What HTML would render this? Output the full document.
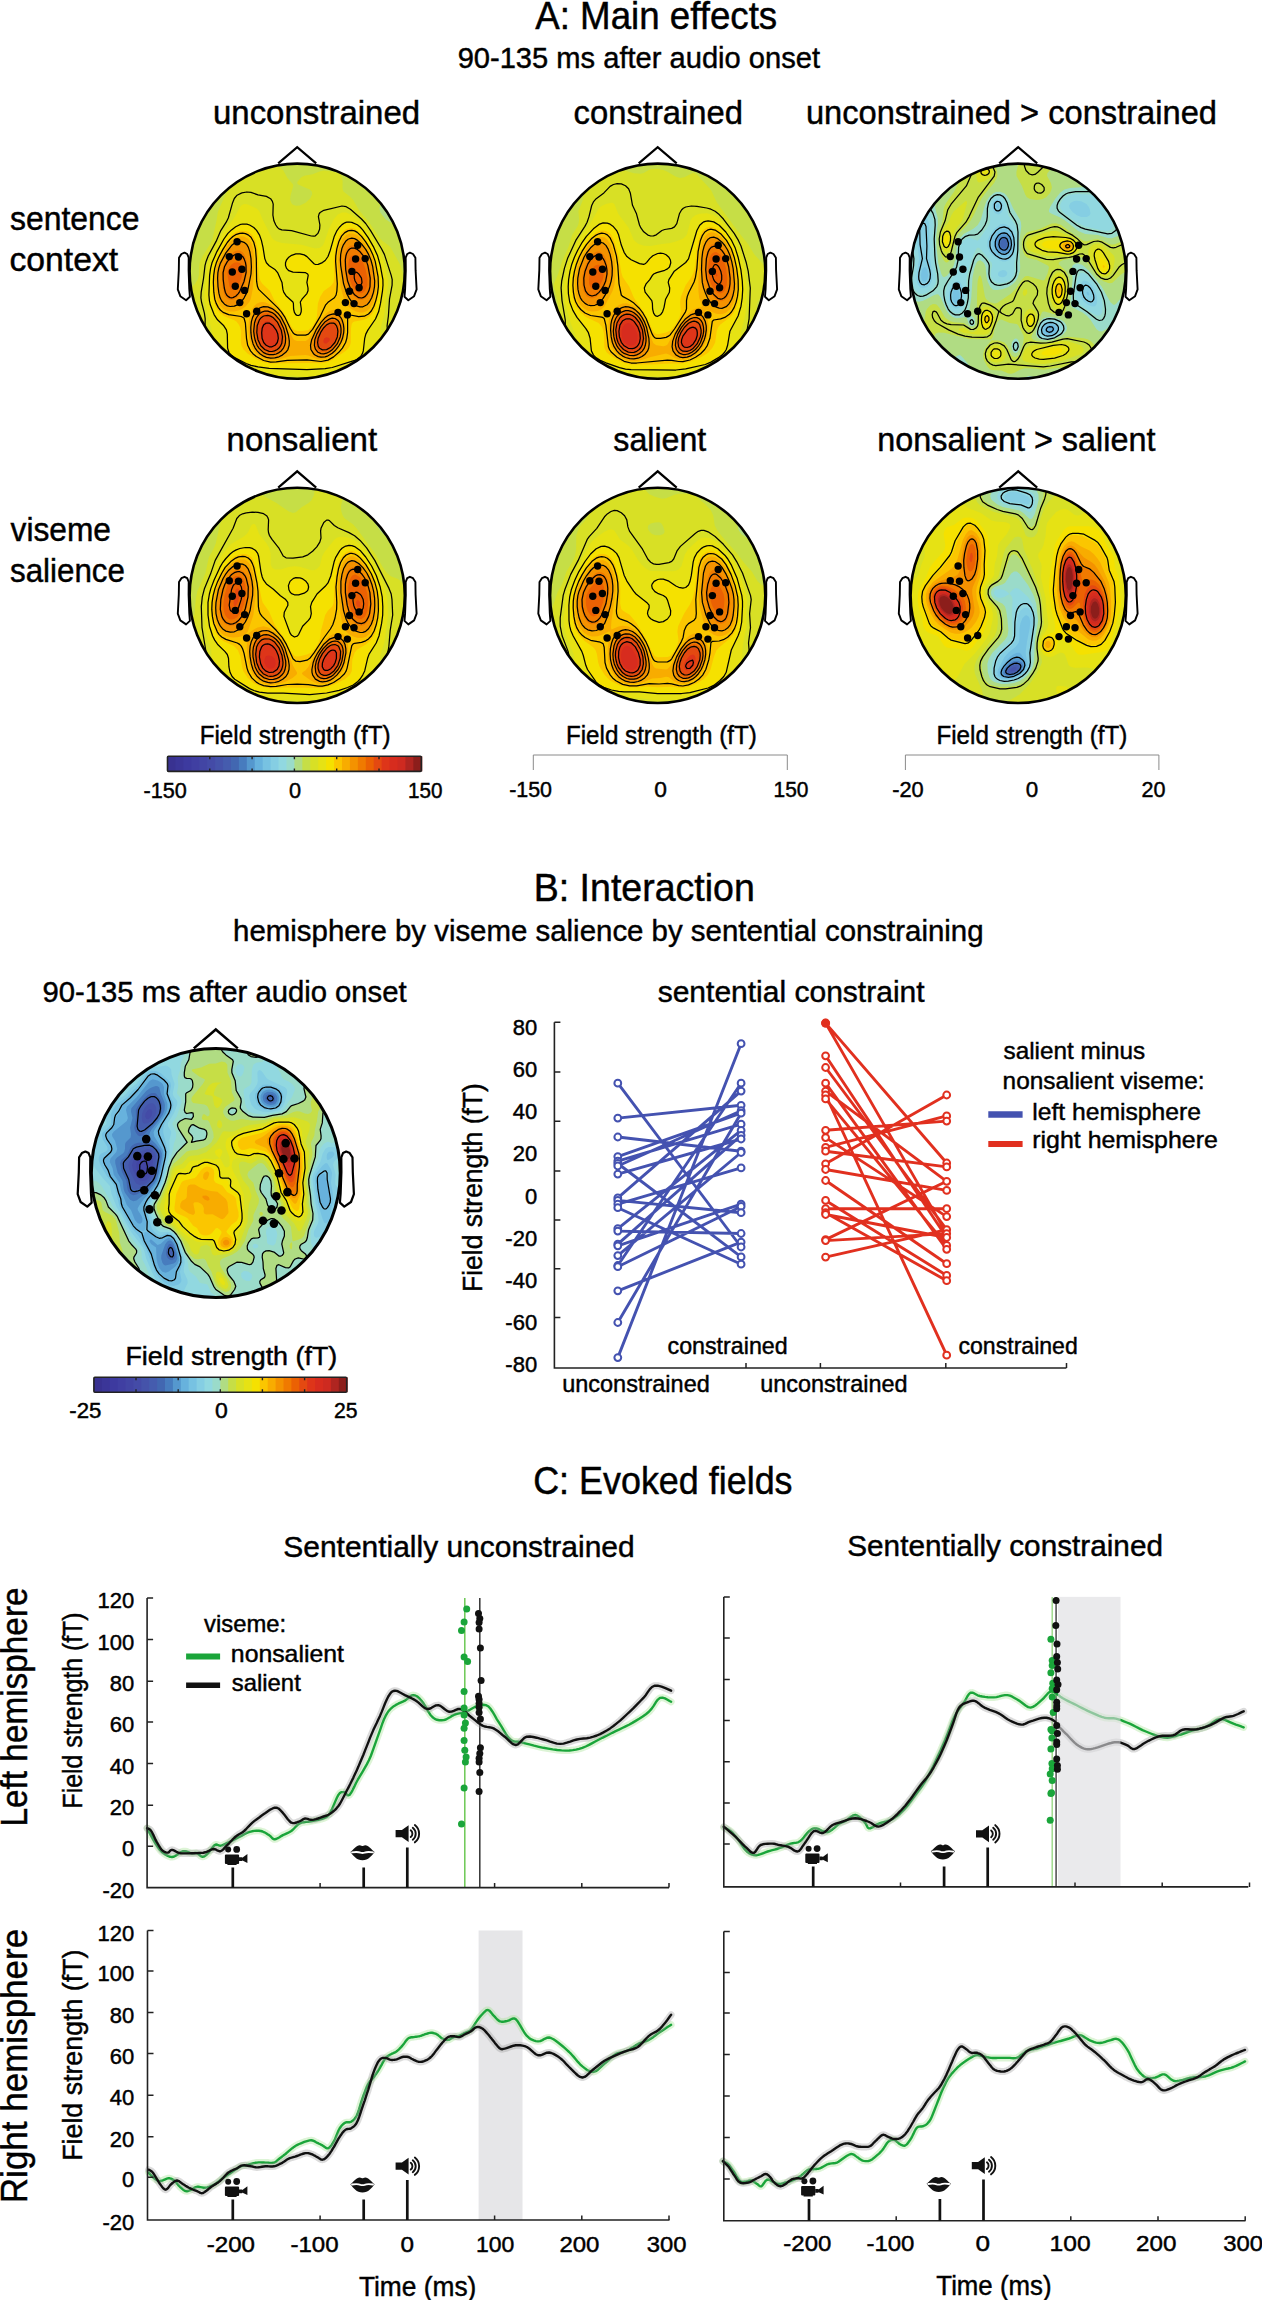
<!DOCTYPE html>
<html><head><meta charset="utf-8"><title>Figure</title>
<style>html,body{margin:0;padding:0;background:#fff;} svg{display:block;} text{stroke:#000;stroke-width:0.45px;}</style>
</head><body>
<svg width="1262" height="2300" viewBox="0 0 1262 2300" font-family='"Liberation Sans", sans-serif'><text x="535.23" y="28.80" font-size="38" textLength="241.98" lengthAdjust="spacingAndGlyphs" fill="#000">A: Main effects</text>
<text x="457.63" y="67.80" font-size="30" textLength="362.38" lengthAdjust="spacingAndGlyphs" fill="#000">90-135 ms after audio onset</text>
<text x="212.96" y="124.00" font-size="33" textLength="207.16" lengthAdjust="spacingAndGlyphs" fill="#000">unconstrained</text>
<text x="573.62" y="124.00" font-size="33" textLength="169.37" lengthAdjust="spacingAndGlyphs" fill="#000">constrained</text>
<text x="805.88" y="124.00" font-size="33" textLength="411.11" lengthAdjust="spacingAndGlyphs" fill="#000">unconstrained &gt; constrained</text>
<text x="10.01" y="230.10" font-size="33" textLength="129.52" lengthAdjust="spacingAndGlyphs" fill="#000">sentence</text>
<text x="9.48" y="271.10" font-size="33" textLength="108.66" lengthAdjust="spacingAndGlyphs" fill="#000">context</text>
<text x="226.52" y="451.30" font-size="33" textLength="150.62" lengthAdjust="spacingAndGlyphs" fill="#000">nonsalient</text>
<text x="613.30" y="451.30" font-size="33" textLength="93.01" lengthAdjust="spacingAndGlyphs" fill="#000">salient</text>
<text x="877.36" y="451.30" font-size="33" textLength="278.04" lengthAdjust="spacingAndGlyphs" fill="#000">nonsalient &gt; salient</text>
<text x="10.57" y="541.10" font-size="33" textLength="100.44" lengthAdjust="spacingAndGlyphs" fill="#000">viseme</text>
<text x="10.02" y="581.90" font-size="33" textLength="114.95" lengthAdjust="spacingAndGlyphs" fill="#000">salience</text>
<path fill="#fff" stroke="#000" stroke-width="1.90" stroke-linejoin="round" d="M184.5 252.6L187.2 254L188.7 257.7L188.6 270.4L189.3 289.2L189.9 296.7L186.1 300.2L180.3 296.2L177.8 289.4L178.8 270.4L179 257.7L181.4 254Z"/>
<path fill="#fff" stroke="#000" stroke-width="1.90" stroke-linejoin="round" d="M409.9 252.6L407.2 254L405.7 257.7L405.8 270.4L405.1 289.2L404.5 296.7L408.3 300.2L414.1 296.2L416.6 289.4L415.6 270.4L415.4 257.7L413 254Z"/>
<clipPath id="c0"><circle cx="297.2" cy="271.2" r="107.6"/></clipPath>
<g clip-path="url(#c0)">
<circle cx="297.2" cy="271.2" r="107.6" fill="#b0dc83"/>
<path fill="#c6de46" fill-rule="evenodd" d="M185.3 159.3L409.1 159.3L409.1 383.1L185.3 383.1L185.3 159.3ZM389.5 194.2L385.1 198.5L381 204.1L379.5 208.3L380.3 212.5L385.3 218.9L390.1 222.2L396.5 223.4L400.7 223.1L403.8 222.2L405.2 220.8L405.6 219.4L405.3 213.8L406.7 206.9L406.1 204.1L402.7 199.9L396.5 194.8L392.3 193.2L389.5 194.2Z"/>
<path fill="#d8e025" fill-rule="evenodd" d="M261.1 162.1L265 162.3L277.6 165.9L280.7 167.7L283.2 170.3L287.4 178.1L293.1 184.5L293.2 185.9L290.5 195.7L290.1 199.9L291.6 203.6L293 204.8L295.8 205.8L300 205.6L305.6 202.8L310.2 198.5L312.3 194.3L311.8 191.5L309.8 189.5L298.1 184.5L297.2 183.1L297.5 181.7L301 177.5L304.2 175.7L312.6 174.2L319.6 171.5L323.8 170.5L333.6 171.7L339.2 173.5L340.6 174.7L342.1 177.5L342.6 181.7L342.5 188.7L343.4 191.5L350.4 197.1L353.2 200.1L359.5 211.1L369 222.2L379.7 238.1L382.5 241L389.3 246L390.9 247.9L400.6 265.6L402.7 272.6L403 286.6L404 296.4L401.7 306.2L401.2 310.4L401.9 314.6L403.7 320.2L403.8 323L401.5 331.3L398.9 348.1L399.3 350.9L400.7 354.1L409.1 365.6L409.1 383.1L396.9 383.1L395.7 376.1L394.9 374.7L392.3 373.4L389.5 373.2L386.7 373.5L382.5 375L371.6 383.1L356.8 383.1L349 382.2L340.9 383.1L229.2 383.1L224.7 377.5L220.3 374L214.7 371.2L204.9 368L202.1 366.2L199.8 363.5L195 355.1L185.3 345.7L185.3 336.6L190.9 331L195.9 324.4L198 320.2L198.8 316L198.2 311.8L196.5 307.8L193.7 304.2L187.3 299.2L186.3 297.8L185.7 295L187.8 290.8L195.1 283.7L197.9 279.3L199.2 274L199.3 265.6L200 261.4L202.9 255.8L210.5 243.5L212.5 239L216.5 220.8L217.8 212.5L219.3 208.3L226.3 192.9L233.8 181.7L238.5 173.6L239.8 172.3L241.2 171.9L245.4 172.5L248.2 172L251 170L256.6 164.2L261.1 162.1Z"/>
<path fill="#e6e214" fill-rule="evenodd" d="M243.9 204.1L246.8 204.2L249.6 205.2L256.1 208.3L258 209.7L259.4 211.6L262.6 219.4L271.7 237.6L273.4 239.5L276.2 241.3L281.8 243L301.4 244.7L315.4 248.5L319.6 247.9L322.3 246L323.8 243.8L328.8 229.2L333.7 219.4L337.8 214.6L342 212.6L346.2 212.6L351.8 215.1L360.1 221L365.3 226.4L374.8 241.8L380.6 253L383.5 261.4L387.4 276.8L388.1 282.4L384.2 314.6L380.6 328.6L380.6 332.7L381.8 339.7L381.5 343.9L378.9 352.3L376.4 357.9L373.5 362.1L369.3 366.3L364.5 369.1L360.1 370.4L329.4 375.4L312.6 377.3L307 377.3L293 375.5L260.8 376.4L248.2 374.3L239.8 371.4L225.9 364.6L221.7 361.5L218.3 357.9L216.7 355.1L215.3 350.9L212.3 332.7L204.4 300.6L204.4 292.2L206.9 268.4L208.1 262.8L210.2 257.2L222.4 233.4L234 218L240.2 206.9L241.3 205.5L243.9 204.1Z"/>
<path fill="#f5e100" fill-rule="evenodd" d="M346.5 222.2L351.8 222.4L357.3 224.8L362.9 230.1L368.2 237.6L373.8 247.4L377.6 255.8L380.3 265.6L382.9 279.6L383 285.2L382.5 290.8L378.6 311.8L375.5 319L368 329.9L365.8 334.1L364.7 338.3L363.3 350.9L362.4 353.7L360.6 356.5L357.3 359.1L353.9 360.7L332.2 367.5L325.2 368.6L307 369.6L269.2 368.4L258 366.9L251 365.3L246.2 363.5L235.1 357.9L231 355.1L228.9 352.3L227.6 348.1L227.3 334.1L226.4 329.9L223.8 325.8L217.5 319.8L214.1 314.6L210.3 304.8L208.9 295L209.6 275.4L212 262.8L216.9 251.6L223.9 239L227.9 233.4L231.5 229.9L235.7 226.8L239.8 224.7L242.6 224L246.8 224.1L249.6 225L253.8 227.5L256.6 230.4L259.4 234.8L261.4 240.4L264.8 258.6L266.4 262.8L269.2 265.7L275.3 269.8L277.6 272.6L282 282.4L283.7 292.2L286 295.7L292.9 302L294.4 312.4L295.8 314.6L298.6 315.5L300.2 314.6L301.2 311.8L300.3 302L302 299.2L306.9 293.6L308 290.8L308 288L306.9 282.4L308.2 275.4L307.7 274L305.6 272.7L293 272.2L288.8 270.7L286.6 268.4L285.5 265.6L285.5 262.8L286.5 260L288.8 257.2L291.6 255.3L295.8 253.9L300 253.8L304.2 254.9L307 256.6L314 263.8L315.4 264.5L318.2 264.4L322.4 262.6L325.2 260.5L328 256.5L330.3 250.2L334.3 236.2L337 230.6L342 224.6L346.5 222.2Z"/>
<path fill="#fbc600" fill-rule="evenodd" d="M345.7 229.2L350.4 227.9L353.2 228.2L355.9 229.3L361.5 234L367.3 241.8L372.1 250.2L376 260L378.7 272.6L379.8 282.4L379.2 290.8L377.4 300.6L375.3 307.6L372.6 313.2L369.9 316.3L367.1 318.4L362.9 320L354.6 321.4L353.2 322L351.8 323.7L351 328.6L350.8 342.5L350.1 345.3L348.6 348.1L345.6 350.9L332.2 360.1L326.6 362.4L321 363.3L308.4 362.9L269.2 363.5L263.6 362.3L258 360L247.8 353.7L243.5 349.5L241.3 345.3L240.9 341.1L241.1 331.3L240.1 327.2L238.8 324.4L236.4 321.6L234.3 320.2L224.5 316.2L220.1 313.2L217.5 310L215.4 306.2L212.9 297.8L212.2 279.6L212.8 272.6L214.2 265.6L218.7 254.4L224.5 244.3L228.1 239L231.5 235.4L234.3 233.3L238.5 231.3L241.2 230.7L246.8 231.3L249.6 232.7L252.4 235.2L255.2 240L257 246L257.8 251.6L258.9 274L259.5 278.2L260.8 281.6L262.4 283.8L269.8 290.8L274.5 300.6L284.1 313.2L290.2 324.6L293 328.8L294.4 329.9L297.2 330.9L302.8 331L308.4 329.9L312.6 326L315.1 321.6L316.8 317.4L317.9 303.4L320.3 296.4L323.8 291.1L330.8 286L333.5 282.4L334.3 276.8L333.8 260L335.5 247.4L337.5 240.4L339.3 236.2L342 232.4L345.7 229.2Z"/>
<path fill="#f8ac00" fill-rule="evenodd" d="M349.6 233.4L353.2 233.4L357.3 235.3L361.5 239.3L365.7 244.7L369.8 251.6L372.3 257.2L374.1 262.9L375.8 271.2L376.9 279.6L377 285.2L376.1 292.2L374.3 299.2L372.7 303.4L369.9 308.2L367.1 310.9L362.9 312.6L360.1 312.6L355.9 311.6L351.8 309.3L348 306.2L346 303.4L344 299.2L340.9 288L337.8 264.2L337.6 257.2L338.2 251.6L339.9 244.6L342.5 239L346.2 235L349.6 233.4ZM239.9 236.2L244 236.5L248.2 238.8L251 242.6L252.8 247.4L253.9 254.4L254.4 267L252.7 289.4L250.7 299.2L249.3 302L245.8 306.2L242 309L238.5 310.5L234.3 311.4L230.1 311.4L225.9 310.4L223.1 308.7L220.3 305.8L217.5 300.6L216.1 295.3L215.4 289.4L215 279.6L215.5 272.6L216.5 267L218.4 261.4L226 247.4L230.1 242.1L232.9 239.4L235.7 237.6L239.9 236.2ZM262.2 302L265 302.3L269.2 303.9L274.8 307.5L279 311.4L282.5 316L284.9 320.2L293 338.6L294.4 340.1L297.2 341L305.6 341L308.4 339.2L320.2 320.2L326.6 312.9L329.4 311.1L333.6 309.8L336.4 309.9L339.2 310.8L341.9 313.2L343.4 315.5L345 320.2L345.7 324.4L345.5 334.1L344.2 339.7L342.4 343.9L338.7 349.5L333.6 354.7L329.4 357.5L323.8 359.4L321 359.6L316.8 359.1L308.4 355.5L305.6 355L290.2 355.9L279 359.5L273.4 360.4L267.8 360L262.2 358L256.3 353.7L252.9 349.5L251.5 346.7L249.1 338.3L248.3 327.2L249.3 317.4L252.2 309L254 306.2L256.6 303.7L259.4 302.4L262.2 302Z"/>
<path fill="#f49200" fill-rule="evenodd" d="M350.2 239L353.2 238.9L355.9 239.9L358.7 241.8L362.9 246.2L367.1 252.4L369.5 257.2L372.7 268.4L374.4 282.4L373.1 292.2L371.3 297.6L368.5 302.3L365.7 304.9L362.9 306.1L360.1 306.2L357.3 305.4L354.6 303.7L351.5 300.6L346.7 292.2L343.4 281L340.9 264.2L341.3 253L342.8 247.4L344.8 243.4L347.6 240.3L350.2 239ZM235.5 243.2L239.8 242.1L242.6 242.5L245.4 244.3L247.7 247.4L249.6 253L250.5 258.6L250.8 272.6L249.8 279.6L247.7 288L245.7 293.6L243.4 297.8L240 302L237.1 304.2L234.3 305.4L230.1 305.8L227.3 305.2L224.5 303.4L222.1 300.6L220.3 296.8L218.4 286.6L218.1 274L219.9 265.6L223.1 258.4L230.1 247.9L235.5 243.2ZM261.6 307.6L265 306.9L267.8 307.3L272 309L276.2 312L281.8 318.8L284.7 324.4L286.7 329.9L288.2 335.5L288.9 341.1L288.7 345.3L287.9 348.1L286.3 350.9L283.6 353.7L277.6 356.9L273.4 357.8L269.2 357.7L266.4 357L262.4 355.1L259.4 352.9L256.4 349.5L253 342.5L251.6 336.9L251 331.3L251.1 325.8L252.1 320.2L253.6 316L256.1 311.8L259 309L261.6 307.6ZM331.6 314.6L335 314.4L337.8 315.3L340.1 317.4L341.8 320.2L343.1 324.4L343.6 328.6L343.2 334.1L342.2 338.3L340.5 342.5L338.1 346.7L332.2 353L328 355.6L325.2 356.5L321 356.9L318.2 356.3L314 353.7L311.4 349.5L310.9 345.3L312 339.7L315.6 331.3L321 322.7L326.6 316.9L331.6 314.6Z"/>
<path fill="#f07a00" fill-rule="evenodd" d="M350 246L351.8 245.4L354.6 245.6L357.3 247L360.1 249.3L365.7 256.8L369.1 265.6L371.3 278.8L370.9 288L369.7 292.2L367.4 296.4L365.7 298.2L362.9 299.8L360.1 300L357.3 299.1L353.2 295.4L349 288.2L346.6 281L344.3 267L344.3 257.2L346.2 250.3L347.6 248.1L350 246ZM234.2 251.6L237.1 250.4L239.8 250.5L242.6 252.2L244 254L245.4 256.7L246.8 261.5L247.4 271.2L245.4 281.5L241.2 292.1L237.1 297.5L234.3 299.4L231.5 300L228.7 299.5L227.3 298.6L225.3 296.4L223.9 293.6L222.3 285.2L221.6 274L222.5 268.4L224.8 262.8L228.7 257L234.2 251.6ZM263.5 310.4L266.4 310L269.2 310.5L273.4 312.6L276.2 314.8L281.3 321.6L285.1 331.3L286.3 339.7L285.1 346.7L283.5 349.5L280.8 352.3L277.6 354.3L274.8 355.2L270.6 355.6L267.8 355.1L262.2 352.4L259.4 349.8L257.2 346.7L254.3 339.7L253.1 329.9L254.1 321.6L255.8 317.4L258 314L260.8 311.5L263.5 310.4ZM331.9 317.4L336.4 318.1L338.8 320.2L340.4 323L341.7 329.9L340.3 338.3L336.4 346.1L330.8 351.7L325.2 354.3L322.4 354.5L319.6 354L316.7 352.3L314.1 348.1L313.7 342.5L315.1 336.9L318.2 330.1L322.4 323.8L326.6 319.7L329.4 318.1L331.9 317.4Z"/>
<path fill="#eb6103" fill-rule="evenodd" d="M351.5 255.8L353.2 255.2L355.9 255.7L360.1 258.7L363.2 262.8L365.7 269.7L367.4 278.2L367.4 285.2L365.1 290.8L362.9 292.8L361.5 293.3L358.7 293.1L355.5 290.8L352.5 286.6L350.2 281L348.7 272.6L348.3 264.2L349 259.8L350.4 256.9L351.5 255.8ZM234.2 262.8L237.1 262.2L239.8 263L241.2 264.5L242.3 267L242.8 271.2L241.4 278.2L238.5 284.6L235.7 288.7L232.9 290.3L230.8 289.4L229.5 286.6L227.8 276.8L227.5 272.6L228.1 269.8L229.4 267L231.5 264.6L234.2 262.8ZM264.4 313.2L267.8 313L270.6 313.8L275.7 317.4L280.4 323.9L283.2 331.3L284.2 338.3L283.8 342.5L283 345.3L280.2 349.5L277.6 351.6L274.8 352.8L269.2 353.2L263.6 350.8L259.4 346.5L256.4 339.7L255.1 331.3L256.1 323L257.8 318.8L259.4 316.4L262.2 314L264.4 313.2ZM331.8 320.2L333.6 320.2L336.4 321.6L338.9 325.8L339.7 331.3L338.5 338.3L335 345.1L330.8 349.3L328 351L325.2 352L321 351.8L318.2 350.1L316.3 346.7L315.8 342.5L317 336.9L319.6 331.1L323.8 325L328 321.4L331.8 320.2Z"/>
<path fill="#e44911" fill-rule="evenodd" d="M262.8 317.4L265 316.3L267.8 316.1L272 317.7L276.2 321.6L280.4 329.4L281.9 336.9L281.4 342.5L279 347.1L274.8 350.1L270.6 350.9L265.9 349.5L262.2 346.6L259.1 341.1L257.5 334.1L257.6 327.2L259.4 321.3L262.8 317.4ZM328.9 324.4L330.8 323.8L333.6 324.3L336.1 327.2L337.1 331.3L336.6 336.9L335 341.2L330.8 346.5L326.6 348.9L322.4 349.1L320.6 348.1L318.7 345.3L318.2 342.5L318.8 338.3L321 333L323.8 328.8L326.6 325.8L328.9 324.4Z"/>
<path fill="#de3519" fill-rule="evenodd" d="M265 321.6L267.8 321L272 322.8L274.8 325.8L277.8 331.3L279.1 336.9L278.7 341.1L276.4 345.3L273.4 347.3L269.2 347.6L266.4 346.5L263.6 343.8L261.7 339.7L260.6 334.1L260.8 329L262.2 324.6L265 321.6ZM324.3 338.3L326.6 337.2L329.4 337.9L329.8 339.7L329.4 341.1L326.6 343.4L325.2 343.6L323.8 342.9L323.3 341.1L324.3 338.3Z"/>
<path fill="none" stroke="#000" stroke-width="1.25" stroke-linejoin="round" d="M241.8 192.9L246.8 192L251 192.4L258 194.9L266.4 196.4L270.6 198.7L272.4 201.3L273.2 204.1L272.9 215.2L273.9 220.8L275.8 225L277.6 227.6L279 228.8L281.8 229.9L291.6 230.6L311.2 236L314 236.2L315.4 235.8L317.9 233.4L319.6 229.2L319.9 225L318.4 216.6L319.1 213.8L320.1 212.5L323.8 210.3L342 206L346.2 206.7L350.4 209.2L361.5 219L365.7 223.5L370.6 230.6L381.5 248.8L384.4 254.4L391.2 275.4L392.2 279.6L392.1 285.2L389.5 299.2L388.4 316L387.1 325.8L387.3 329.9L389.1 336.9L389.3 341.1L386.8 357.9L385.5 360.7L384.2 362.1L369.9 372.5L367.1 373.9L362.9 375L343.4 376.6L322.4 380.7L312.6 382.1L308.4 381.9L298.6 379.6L293 379.1L283.2 379.9L273.4 380.1L260.8 382L245.4 380.1L239.8 378.5L218.9 364.9L213.5 360.7L210.8 357.9L208.9 355.1L207.6 352.3L204 338.3L203.7 334.1L205.1 324.4L205.2 318.8L204.4 313.2L201.5 302L200.9 297.8L201.2 292.2L203.5 278.5L205 265.6L206.1 261.4L208.3 255.8L216.1 241.4L220.8 230.6L226.2 222.2L228.3 218L232.6 202.7L234.3 198.5L237.1 195.2L241.8 192.9M346.5 222.2L349 222L351.8 222.4L357.3 224.8L360.1 227L362.9 230.1L368.2 237.6L373.8 247.4L377.6 255.8L380.3 265.6L382.9 279.6L383 285.2L382.5 290.8L380.5 303.4L378.6 311.8L375.5 319L368 329.9L365.8 334.1L364.7 338.3L363.3 350.9L362.4 353.7L360.6 356.5L357.3 359.1L353.9 360.7L332.2 367.5L325.2 368.6L307 369.6L269.2 368.4L258 366.9L251 365.3L246.2 363.5L235.1 357.9L231 355.1L228.9 352.3L227.6 348.1L227.3 334.1L226.4 329.9L223.8 325.8L217.5 319.8L214.1 314.6L210.3 304.8L209.4 300.6L208.9 295L209.6 275.4L210.6 268.4L212 262.8L216.9 251.6L223.9 239L227.9 233.4L231.5 229.9L235.7 226.8L239.8 224.7L242.6 224L246.8 224.1L249.6 225L253.8 227.5L256.6 230.4L259.4 234.8L261.4 240.4L263 247.4L264.8 258.6L266.4 262.8L269.2 265.7L275.3 269.8L277.6 272.6L282 282.4L282.9 289.4L283.7 292.2L286 295.7L292.9 302L293.4 303.4L293.6 309L294.4 312.4L295.8 314.6L297.2 315.4L298.6 315.5L300.2 314.6L301.2 311.8L301.3 309L300.3 302L302 299.2L306.9 293.6L308 290.8L308 288L306.9 282.4L308.2 275.4L307.7 274L305.6 272.7L293 272.2L288.8 270.7L286.6 268.4L285.5 265.6L285.5 262.8L286.5 260L288.8 257.2L291.6 255.3L295.8 253.9L300 253.8L304.2 254.9L307 256.6L314 263.8L315.4 264.5L318.2 264.4L322.4 262.6L325.2 260.5L328 256.5L330.3 250.2L334.3 236.2L337 230.6L339.2 227.5L342 224.6L344.8 222.8L346.5 222.2M348.5 230.6L351.8 230.3L354.6 230.9L357.3 232.4L361.5 236.4L365.7 241.8L369.9 248.6L372.7 254.4L375.2 261.4L378.1 276.8L378.4 286.6L377.5 293.6L375.8 300.6L373.9 306.2L371.3 311L368.5 314L364.3 316.2L358.7 316.6L350.4 315L349 315.2L348.3 316L347.6 318.8L347.6 332.7L346.8 338.3L345.6 342.5L342.4 348.1L338.8 352.3L333.6 356.9L328 360.1L321 361.5L307 359.8L287.4 360.3L276.2 361.9L270.6 362.1L263.6 360.5L256.3 356.5L252.9 353.7L250.5 350.9L247.7 345.3L246.5 338.3L245.4 323L244 318L241.2 316.5L228.7 314.7L223.1 312.4L220.3 310L218.4 307.6L216.2 303.4L214.8 299.2L213.8 292.2L213.4 282.4L213.7 275.4L214.7 268.4L216.3 262.8L218.7 257.2L223.1 249.1L227.3 242.5L230.1 239.1L232.9 236.5L235.7 234.7L239.8 233.3L242.6 233.1L245.4 233.6L248.2 234.9L251 237.3L253.8 242.3L255.5 248.8L256.3 258.6L256.6 281.2L257.5 286.6L258.7 289.4L277.6 307.6L281.3 311.8L285 317.4L290.2 328.2L293 332.8L294.4 334.1L297.2 335.1L305.6 335.1L308.4 334.1L312.6 329.4L319.7 317.4L325.7 304.8L328 302.3L334.4 297.8L336.1 295L336.9 290.8L337.3 283.8L335.6 261.4L335.8 255.8L336.8 248.8L338.8 241.8L341.5 236.2L344.8 232.6L348.5 230.6M348.4 239L351.8 238.1L354.6 238.6L357.3 240.1L361.5 243.9L365.7 249.4L368.6 254.4L370.9 260L372.7 266.7L374.7 281L374.5 286.6L373.5 292.2L371.7 297.8L369.4 302L367 304.8L362.9 306.8L360.1 306.9L357.3 306.1L354.6 304.5L351.8 301.9L349 297.8L346.8 293.6L343.6 283.8L340.7 265.6L340.4 260L340.7 254.4L341.8 248.8L343.4 244.8L346.2 240.7L348.4 239M237.1 241.8L241.2 241.4L244 242.3L246.8 244.6L248.4 247.4L249.8 251.6L251 258.6L251.4 267L251 274L248.2 288L246.3 293.6L244 298L241 302L237.4 304.8L234.3 306.1L230.1 306.5L227.3 305.9L224.5 304.2L221.7 301L220.1 297.8L218.9 293.2L218 286.6L217.6 278.2L217.9 272.6L218.9 267.7L220.3 263.4L225.9 252.9L231.5 245.6L234.3 243.3L237.1 241.8M260.4 307.6L263.6 306.6L267.8 306.9L272 308.6L274.8 310.5L277.9 313.2L281.2 317.4L285.5 325.8L288.5 335.5L289.3 341.1L289.2 345.3L287.9 349.5L285.8 352.3L282.3 355.1L279 356.8L274.8 357.9L270.6 358.1L266.4 357.3L263.6 356.2L259.9 353.7L257.1 350.9L255.1 348.1L253.1 343.9L251.6 338.3L250.9 332.7L250.8 327.2L251.4 321.6L252.6 317.4L254.7 313.2L258 309.2L260.4 307.6M330.3 314.6L333.6 313.9L337.8 314.9L340.6 317.3L342 319.7L343.4 324.4L343.9 328.6L343.7 332.7L342.5 338.3L340.8 342.5L338.3 346.7L335 350.8L332.2 353.3L328 355.8L325.2 356.8L321 357.2L318.2 356.6L315.4 355.3L313.5 353.7L310.9 349.5L310.5 345.3L311.7 339.7L316.1 329.9L321 322.3L325.2 317.7L328 315.6L330.3 314.6M350 248.8L351.8 248L354.6 248.1L357.3 249.5L360.1 251.8L364.4 257.2L366.5 261.4L367.9 265.6L370.2 278.2L370 286.6L368.9 290.8L367.1 294.2L365.2 296.4L362.9 297.7L361.5 298L358.7 297.7L354.6 294.8L350.4 288.5L347.6 281L345.7 269.8L345.3 260L345.9 255.8L346.8 253L348.4 250.2L350 248.8M235.1 254.4L237.1 253.8L239.8 254.2L242.6 256.4L244 258.6L245.4 262.4L246 265.6L246.1 272.6L244 281.5L239.8 291.3L238.3 293.6L235.7 296.2L232.9 297.6L231.5 297.8L230.1 297.6L228 296.4L226.7 295L225.3 292.2L224.3 288L223.2 279.6L223.1 272.6L224.5 266.8L227.3 261.6L231.5 256.9L235.1 254.4M262.4 311.8L265 311L267.8 311.1L272 312.6L274.8 314.5L279.8 320.2L283.7 328.6L285.1 334.1L285.6 338.3L285.4 342.5L284.7 345.3L283.4 348.1L281.2 350.9L279 352.6L276.2 354L273.4 354.7L269.2 354.7L266.4 353.9L263.6 352.6L258.9 348.1L257.1 345.3L255.4 341.1L254.4 336.9L253.7 331.3L254.5 323L255.9 318.8L257.6 316L259.4 313.8L262.4 311.8M329.8 318.8L332.2 318.2L335 318.5L337.7 320.2L339.2 322.2L340.6 325.8L341 328.6L341 332.7L340.2 336.9L337.2 343.9L332.2 349.8L329.4 351.8L326.6 353.2L323.8 353.8L321 353.6L318 352.3L315.4 349.2L314.4 345.3L314.8 339.7L316.8 334.1L321 326.6L325.2 321.7L329.8 318.8M355.4 272.6L355.9 272.2L357.3 272.7L358.7 273.9L361.5 278.2L362 282.4L361.5 284L360.1 285.4L358.7 285.4L357.3 284.5L355.1 281L354.3 278.2L354.2 275.4L354.6 273.5L355.4 272.6M263.6 316L267.8 315.3L270.6 316.1L273.4 317.8L277.6 322.4L281.2 329.9L282.5 336.9L281.8 343.2L280.4 346.2L279 348.1L277.3 349.5L274.5 350.9L272 351.5L269.2 351.3L264.7 349.5L260.8 345.7L258 339.7L256.8 332.7L257.2 325.8L259.4 319.9L261.5 317.4L263.6 316M330.2 323L333.6 323.1L335 323.9L336.5 325.8L337.5 328.6L337.9 331.3L337.3 336.9L334.9 342.5L330.8 347.2L326.6 349.6L322.4 349.9L319.6 348.3L318.2 346.1L317.6 342.5L318.2 338.2L321 331.8L323.8 327.7L326.6 324.9L330.2 323M266.3 323L269.2 323L273.1 325.8L276.2 330.1L277.8 334.1L278.3 338.3L277.3 342.5L275.1 345.3L272 346.8L269.2 346.8L266.2 345.3L263.7 342.5L262.1 338.3L261.7 332.7L262.2 328.3L263.6 325.1L266.3 323"/>
</g>
<path fill="none" stroke="#000" stroke-width="2.20" stroke-linejoin="miter" d="M278.2 163.4L297.2 147.1L316.2 163.4"/>
<circle cx="297.2" cy="271.2" r="107.6" fill="none" stroke="#000" stroke-width="2.60"/>
<g fill="#000"><circle cx="237.1" cy="241.8" r="3.7034418604651163"/><circle cx="229.3" cy="256.6" r="3.7034418604651163"/><circle cx="238.5" cy="257" r="3.7034418604651163"/><circle cx="232.3" cy="272" r="3.7034418604651163"/><circle cx="241.9" cy="269.3" r="3.7034418604651163"/><circle cx="235.3" cy="286.2" r="3.7034418604651163"/><circle cx="244.6" cy="290.4" r="3.7034418604651163"/><circle cx="239.8" cy="302.6" r="3.7034418604651163"/><circle cx="246.6" cy="313.8" r="3.7034418604651163"/><circle cx="256.7" cy="311.3" r="3.7034418604651163"/><circle cx="357.7" cy="245.3" r="3.7034418604651163"/><circle cx="355.6" cy="259" r="3.7034418604651163"/><circle cx="365.2" cy="258.6" r="3.7034418604651163"/><circle cx="351.9" cy="271.4" r="3.7034418604651163"/><circle cx="359.1" cy="287.7" r="3.7034418604651163"/><circle cx="349.5" cy="291.3" r="3.7034418604651163"/><circle cx="345.4" cy="302.6" r="3.7034418604651163"/><circle cx="354" cy="303.6" r="3.7034418604651163"/><circle cx="338" cy="312.4" r="3.7034418604651163"/><circle cx="347.4" cy="314.9" r="3.7034418604651163"/></g>
<path fill="#fff" stroke="#000" stroke-width="1.90" stroke-linejoin="round" d="M545 252.6L547.7 254L549.2 257.7L549.1 270.4L549.8 289.2L550.4 296.7L546.6 300.2L540.8 296.2L538.3 289.4L539.3 270.4L539.5 257.7L541.9 254Z"/>
<path fill="#fff" stroke="#000" stroke-width="1.90" stroke-linejoin="round" d="M770.4 252.6L767.7 254L766.2 257.7L766.3 270.4L765.6 289.2L765 296.7L768.8 300.2L774.6 296.2L777.1 289.4L776.1 270.4L775.9 257.7L773.5 254Z"/>
<clipPath id="c1"><circle cx="657.7" cy="271.2" r="107.6"/></clipPath>
<g clip-path="url(#c1)">
<circle cx="657.7" cy="271.2" r="107.6" fill="#b0dc83"/>
<path fill="#c6de46" fill-rule="evenodd" d="M545.8 159.3L769.6 159.3L769.6 383.1L545.8 383.1L545.8 159.3ZM751.4 178.8L747.5 180.3L745 183.1L740.6 192.9L739.7 197.1L740.9 202.7L744.4 208.9L748.6 212.1L752.8 212.9L758.4 211.5L762.2 208.3L765.5 201.3L767 195.7L767.3 192.9L765.6 188.7L761.4 184.5L755.6 179.9L751.4 178.8Z"/>
<path fill="#d8e025" fill-rule="evenodd" d="M651.7 169.1L657.7 168.8L663.3 169.9L667.5 171.8L675.9 176.8L680.1 177.9L684.3 177.3L692.7 172.9L694.1 172.9L696.9 174.4L710.9 189.7L717 202.7L737.4 230.8L748.3 244.6L754.2 254.3L761.8 262.8L765.4 268.1L766.3 271.2L766.3 278.2L767.7 286.6L767.6 290.8L766.1 293.6L759.8 298.7L758.4 300.5L757 304.1L756.7 309L758.1 318.8L757.8 328.6L758.4 331.3L759.8 332.9L761.2 333.4L766.8 333.1L769.6 333.6L769.6 354.8L762.6 356.7L759.8 358.9L757 364.4L754.2 375L741.6 377.7L735.7 380.3L731.6 383.1L589.4 383.1L583.6 380.2L570.4 374.7L564.4 370.5L561.9 366.3L561.1 359.3L559.8 354.9L557.2 350.9L549.8 342.5L548.9 339.7L549 338.3L556.5 325.8L557.8 321.6L558.3 317.4L558.3 310.4L557.3 300.6L554.1 286.6L554 283.8L558.4 273.3L562 261.4L568.3 247.4L572.3 234.8L577.5 226.4L578.6 223.6L579.1 219.4L578.4 211.1L582.9 199.9L585 187.3L586.5 183.1L590.6 178.9L599 174.1L603.1 172.3L612.9 171.2L621.3 169.5L633.9 173.2L640.9 173.8L643.7 173.1L649.3 169.8L651.7 169.1ZM756.7 377.5L761.2 377.5L769.6 379.8L769.6 383.1L757.1 383.1L756.1 380.3L756.7 377.5Z"/>
<path fill="#e6e214" fill-rule="evenodd" d="M605.9 204.1L611.5 202.7L612.9 203L614.3 204.1L618.2 213.8L628.6 227.8L633.9 240.3L638.1 243.8L643.7 245.7L650.7 246L660.5 244.2L670.3 243.1L675.9 241.6L682.9 238.7L685.7 236.3L687.1 233.9L690.5 220.8L692 218L695.3 215.2L699.7 213.7L706.7 213.2L713.7 215L719.2 218.7L726.5 226.4L735.1 239L739.4 248.8L744.6 268.4L747 288L746.8 297.8L745.4 314.6L741.2 331.3L738.4 353.7L736 360L731.8 364.6L724.8 367.9L703.9 374.7L696.9 376.2L678.7 378L661.9 376.4L650.7 376L629.7 377.1L624.1 376.5L607.3 372.8L593.4 369L585.5 364.9L579.6 359.3L577.3 355.1L576.2 350.9L576.4 339.7L575.7 335.5L571 324L565.2 303.4L563.8 289.4L564.5 279.6L567 267L568.7 261.4L577 243.2L580.3 237.6L590.2 223.6L599 208.3L601.7 205.9L605.9 204.1Z"/>
<path fill="#f5e100" fill-rule="evenodd" d="M703.1 222.2L708.1 220.9L713.7 221.9L719.2 225.2L725.8 232L731.6 240.4L735 247.4L738.1 257.2L740.9 269.8L742.3 281L742.7 289.4L742.2 297.8L741 306.2L738.1 316L729.9 331.3L727.6 345.3L726.3 349.5L724.6 352.3L722 355.1L718 357.9L710.9 362.1L705.3 364.5L685.7 368.8L675.9 370L631.1 369.7L625.5 369.2L619.5 367.7L605.9 362.8L600.3 360.4L596.3 357.9L593.5 355.1L591.4 350.9L590.1 338.3L588.4 332.7L585.9 328.6L577 317.4L572.9 310.4L569.7 302L568.4 293.6L568.2 286.6L568.6 279.6L571.8 264.2L577.7 250.2L582.2 242.3L586.4 236.4L593.4 228.8L599 224.4L603.1 222.8L607.3 223.1L610.1 224.2L612.9 226.2L616.7 230.6L618.6 234.8L621.3 245.1L624.1 252.3L626.9 256.6L631.1 259.7L639.5 263.6L643.7 264.4L646.5 262.6L649.7 258.6L652.8 255.8L657.7 253.5L663.3 253.5L666.1 254.7L668.9 257.2L670.4 260L670.8 262.8L669.5 267L667.5 268.9L664.7 270.3L656.7 272.6L653.7 274L649.8 279.6L646.1 283.8L644.3 288L645.1 292.2L651.8 300.6L652.6 309L653.6 313.2L654.9 315.2L656.3 316.2L657.7 316.3L660.5 314.8L662.6 311.8L664 307.6L665.6 299.2L669.4 292.2L669.7 288L668.2 282.4L668.9 279.6L674.3 271.2L685.7 262.5L688.5 258.9L696.9 230.5L699.7 225.2L703.1 222.2Z"/>
<path fill="#fbc600" fill-rule="evenodd" d="M706.2 227.8L709.5 226.8L712.3 227L717.8 229.4L723.4 234.4L729.8 243.2L733.6 251.6L736.4 261.4L738.3 271.2L739.5 283.8L738.8 296.8L737.5 303.4L735.6 309L733.2 313.5L730.4 316.9L720.4 324.4L718.1 327.2L716.7 331.3L715.2 342.5L712.3 348.1L708.1 352.7L702.2 356.5L689.9 361.7L681.5 363.5L670.3 363.4L652.1 364.4L629.7 364.5L621.3 362L609.8 355.1L606.6 352.3L604.4 348.1L604 334.1L603.1 329.7L601.7 326.4L598.6 323L586.4 317.2L580.8 312.8L575.9 306.2L572.7 297.8L571.8 290.8L571.6 283.8L572.2 276.8L573.5 269.8L575.5 262.8L578.3 255.8L582.2 248.5L586.4 242.2L593.4 234.7L597.6 231.9L600.3 230.8L603.1 230.4L605.9 230.9L608.7 232.4L611.1 234.8L614 240.4L616.7 248.8L619.1 258.6L621.3 272.4L622.7 277L629.2 286.6L633.9 297.8L644.6 313.2L653.5 331.8L656.3 333.9L659.1 334L666.1 332.5L670.3 330.5L674.5 326L679.5 317.4L680.9 311.8L680.1 302L681 296.4L685.6 285.2L691.3 277.2L693.6 272.6L695.2 265.6L696.6 250.2L699 239L701.9 232L703.9 229.5L706.2 227.8Z"/>
<path fill="#f8ac00" fill-rule="evenodd" d="M707.8 233.4L710.9 232.3L713.7 232.5L716.4 233.5L720.6 236.5L724.8 241.1L727.6 245.1L730.3 250.2L732.4 255.8L735.8 271.2L736.9 286.6L736.2 293.6L735 299.2L733.2 304.1L730.4 308.8L726.2 312.6L723.4 313.8L720.6 314.2L716.4 313.7L706.7 309.8L705.3 310.1L707.6 318.8L708.6 325.8L708.4 331.3L707 338.3L704.1 345.3L700.2 350.9L695.5 355.2L689.9 358.3L684.3 359.8L678.7 359.4L674.6 357.9L668.9 354.4L666.1 353.5L650.7 357.1L640.9 360.2L635.3 361.2L631.1 361.2L626.9 360.4L619.9 356.9L614.8 352.3L611.3 346.7L609.5 339.7L608.4 328.6L608.8 320.2L610.3 314.6L614 309L618.5 305.3L622.7 303.5L626.9 303.3L632.5 305.2L636.7 308.1L641.3 313.2L645.5 320.2L648.2 327.2L652.1 340.3L653.5 343.2L656.3 345.3L663.3 346.2L666.1 345.6L667.5 344.4L678.1 325.8L685.7 315.7L692.7 309.8L696.9 307.9L701.1 307.3L702 306.2L699.2 297.8L698.4 290.8L698.4 278.2L699.5 255.8L700.4 248.8L702.5 241.1L704.9 236.2L707.8 233.4ZM597.2 237.6L600.3 236.7L604.5 237.3L607.3 239.4L610.6 244.6L613.1 251.6L614.8 260L615.6 269.8L615.3 278.2L614.3 285.2L612.7 290.8L604.6 306.2L601.8 309L599 310.5L596.2 311.3L592 311.6L587.8 310.7L583.6 308.2L580.8 305.5L578 301.3L576.5 297.8L575.3 292.2L574.9 279.6L577.2 267L582.2 254.7L589.2 244.2L593.4 240L597.2 237.6Z"/>
<path fill="#f49200" fill-rule="evenodd" d="M709.3 239L712.3 237.9L716.4 238.6L719.2 240.3L723.4 244.4L726.6 248.8L729 253.9L732.6 267L734.2 282.4L734 288L733.1 293.6L731.2 299.2L729 303L726.2 305.9L722 307.5L719.2 307.4L716.4 306.4L713.7 304.5L710.9 301.7L706.2 293.6L702.8 282.4L701.9 269.8L702.8 253L705.3 244.5L706.7 241.8L709.3 239ZM598.7 243.2L601.7 243.4L604.5 245L606.5 247.4L608.7 251.9L610.3 257.2L611.5 264.2L611.9 271.2L611.5 276.8L610.4 282.4L608.4 288L601.8 299.2L599 302.2L596.2 304L593.4 304.9L590.6 305L587.8 304.2L585 302.6L582.2 299.6L580.4 296.4L578.3 288L578.3 276.8L580.9 265.6L583.6 259.1L586.1 254.4L592 247.1L595.2 244.6L598.7 243.2ZM623 307.6L626.9 307L629.7 307.4L632.5 308.5L636.7 311.4L639.8 314.6L642.6 318.8L646.7 328.6L648.8 339.7L648.9 343.9L648.2 348.1L647.1 350.9L645 353.7L642.3 355.9L638.1 357.8L633.9 358.6L629.7 358.4L625.5 357.2L622.7 355.8L618.5 352.4L616.1 349.5L612.7 342.5L611.3 335.5L610.9 329.9L611.1 324.4L612 320.2L613.6 316L616.6 311.8L619.9 309L623 307.6ZM692.1 314.6L695.5 313.7L698.3 314L701.1 315.4L703.8 318.8L705.4 323L706.1 327.2L706 331.3L704.9 336.9L701.4 345.3L698.4 349.5L695.5 352.4L691.3 355.3L687.1 356.9L682.9 357.3L680.1 356.9L675.9 354.5L673.4 350.9L672.4 345.3L673.4 339.7L676.8 331.3L681.5 323.9L687.1 317.7L692.1 314.6Z"/>
<path fill="#f07a00" fill-rule="evenodd" d="M711.7 244.6L715.1 244.1L717.8 245L720.6 247.1L723.4 250.2L725.9 254.4L727.6 258.6L730 268.4L731.2 279.6L730.4 289.5L729 294L726.9 297.8L724.8 299.9L722 301.2L719.2 301L716.4 299.7L712.3 295.2L708.1 287.3L705.4 278.2L704.7 268.4L705.7 255.8L708.1 248.5L709.5 246.4L711.7 244.6ZM597.4 251.6L599.2 251.6L601.7 252.7L604.3 255.8L605.9 259.3L608.1 268.4L607.9 276.8L605.4 285.2L600.3 293.3L596.2 297.1L593.4 298.3L590.6 298.3L586.4 295.9L583.6 291.2L582.1 283.8L582.5 275.4L584.7 267L587.9 260L592 254.8L594.8 252.6L597.4 251.6ZM623.3 310.4L626.9 309.7L629.7 310L632.5 311.1L635.7 313.2L640.9 319.2L645 328.6L646.6 338.3L646.5 342.5L645.7 346.7L644.4 349.5L642.2 352.3L639.5 354.4L636.7 355.7L633.9 356.3L629.7 356.2L625.5 354.9L622.7 353.2L617.6 348.1L614.3 341.1L612.8 331.3L613 325.8L613.8 321.6L615.6 317.4L617.5 314.6L619.9 312.2L623.3 310.4ZM691.6 317.4L695.5 316.6L698.3 317.2L700.5 318.8L702.5 321.4L703.6 324.4L704.2 328.6L703.2 336.9L699.4 345.3L694.1 351.4L691.3 353.3L687.1 354.9L684.3 355.2L681.5 354.9L677.4 352.3L675.6 349.5L674.7 343.9L675.7 338.3L678.6 331.3L682.9 324.7L687.1 320.2L691.6 317.4Z"/>
<path fill="#eb6103" fill-rule="evenodd" d="M712.6 253L715.1 252L716.4 252.1L720.6 254.9L723.7 260L726.2 268.9L727.3 278.2L726.7 285.2L724.6 290.8L723.4 292.2L720.6 293.6L717.8 292.9L713.7 288.7L710.9 283.8L708.7 276.8L708 269.8L708.6 262.8L709.9 257.2L710.9 255.1L712.6 253ZM595.2 265.6L597.6 264.7L599 264.8L601.7 266.9L603.2 269.8L603.6 275.4L602.8 279.6L600.3 284.5L597 288L594.8 289.1L593.4 289.2L592 288.7L590.1 286.6L589.1 283.8L588.9 279.6L589.5 275.4L590.9 271.2L593.4 267.2L595.2 265.6ZM622.9 313.2L625.5 312.3L628.3 312.2L631.1 312.9L634.2 314.6L636.7 316.7L639.5 320.2L643.3 328.6L644.8 338.3L643.8 345.3L642.3 348.4L640.3 350.9L635.3 353.7L632.5 354.2L628.3 353.7L622.9 350.9L618.5 346.2L615.7 339.9L614.5 331.3L615.5 323L618.5 316.8L622.9 313.2ZM690.6 320.2L692.7 319.4L695.5 319.2L698.2 320.2L699.8 321.6L701.4 324.4L702.3 327.2L702.5 331.3L701.9 335.5L699.3 342.5L696.9 346.3L694.1 349.3L688.5 352.6L685.7 353.2L682.9 353L679.2 350.9L677.4 348.1L676.6 343.9L677 339.7L678.8 334.1L682.9 327.2L687.1 322.5L690.6 320.2Z"/>
<path fill="#e44911" fill-rule="evenodd" d="M715.5 274L716.4 272.8L717.1 274L717.5 275.4L716.4 277L715.5 274ZM623.1 316L625.5 315L628.3 314.7L632.5 316.1L637.1 320.2L641 327.2L642.9 335.5L642.5 342.5L639.8 348.1L635.3 351.3L632.5 351.9L629.7 351.8L624.3 349.5L620.2 345.3L617.5 339.7L616.3 332.7L616.8 325.8L618.9 320.2L621.2 317.4L623.1 316ZM690.1 323L694.1 321.9L696.9 322.7L698.3 323.9L699.7 326.1L700.4 328.6L700.2 335.5L698.3 341.1L694.1 347L689.9 350L687.1 350.9L684.3 351L681.2 349.5L679.2 346.7L678.5 343.9L678.7 339.7L680.1 335.4L682.9 330.2L686.5 325.8L690.1 323Z"/>
<path fill="#de3519" fill-rule="evenodd" d="M624.2 318.8L628.3 317.8L632.5 319.4L636.7 323.7L639.5 329.4L640.9 336.9L640.1 342.5L637.6 346.7L633.9 349L629.7 349.3L625.5 347.6L621.8 343.9L619.7 339.7L618.4 334.1L618.8 327.2L621.2 321.6L624.2 318.8ZM689.5 327.2L692.7 325.9L694.1 326L696.1 327.2L697.2 328.6L698 331.3L697.9 335.5L695.9 341.1L692.7 345.3L688.5 347.9L684.9 348.1L682.9 347.1L681.5 345.3L680.9 342.5L681 339.7L682.5 335.5L684.3 332.4L689.5 327.2Z"/>
<path fill="#d72c1e" fill-rule="evenodd" d="M624.7 324.4L626.9 323.2L628.3 323L631.1 324.1L633.9 326.7L636.7 331.9L637.6 335.5L637.4 339.7L635.3 343.9L633.1 345.3L629.7 345.7L626.9 344.6L624.6 342.5L622.7 339.5L621.7 335.5L621.6 331.3L622.7 327L624.7 324.4Z"/>
<path fill="none" stroke="#000" stroke-width="1.25" stroke-linejoin="round" d="M613.4 184.5L617.1 183.6L621.3 183.9L625.5 185.7L628.6 188.7L630.3 192.9L632.5 205.3L636.5 213.8L639.5 225L640.9 227.9L643.7 231.8L647.9 235.1L650.7 236L653.5 235.9L656.3 234.8L661.9 230.5L664.7 229.5L671.7 228.4L674.5 226.9L676.8 223.6L679.4 213.8L681.5 210L683.3 208.3L685.7 207L691.3 206L696.9 206.4L706.7 208L710.9 209.2L715.1 211.3L719.2 214.6L723.4 219L734.2 233.4L738.4 240.4L741 246L746.3 262.8L748.2 271.2L750.3 288L749.1 318.8L746.6 332.7L747.7 346.7L747.3 352.3L745.9 357.9L743.9 362.1L740.8 366.3L737.4 369.3L732.7 371.9L726.2 374.4L713.7 377.3L703.9 380.6L699.7 381.4L678.7 382.7L663.3 380.2L650.7 379.5L643.7 379.8L633.9 381.4L629.7 381.6L615.7 378.8L604.5 377.9L596.2 375.6L587.8 372.2L580.8 368.5L576.6 365.5L573.8 362.1L571.3 356.5L565.2 336.9L565.3 320.2L562 300.6L561.1 288L561.7 281L564.4 268.4L567.5 258.6L575.8 240.4L584.9 226.4L587.1 222.2L589 216.6L591.7 205.5L593.4 201.9L596.2 198.7L603.9 192.9L610.1 186.4L613.4 184.5M703.1 222.2L705.3 221.3L708.1 220.9L713.7 221.9L719.2 225.2L725.8 232L731.6 240.4L735 247.4L738.1 257.2L740.9 269.8L742.3 281L742.7 289.4L742.2 297.8L741 306.2L738.1 316L729.9 331.3L727.6 345.3L726.3 349.5L724.6 352.3L722 355.1L718 357.9L710.9 362.1L705.3 364.5L685.7 368.8L675.9 370L631.1 369.7L625.5 369.2L619.5 367.7L605.9 362.8L600.3 360.4L596.3 357.9L593.5 355.1L591.4 350.9L590.1 338.3L588.4 332.7L585.9 328.6L577 317.4L572.9 310.4L569.7 302L568.4 293.6L568.2 286.6L568.6 279.6L570 271.2L571.8 264.2L574.4 257.2L577.7 250.2L582.2 242.3L586.4 236.4L593.4 228.8L599 224.4L603.1 222.8L607.3 223.1L610.1 224.2L612.9 226.2L616.7 230.6L618.6 234.8L621.3 245.1L624.1 252.3L626.9 256.6L631.1 259.7L639.5 263.6L643.7 264.4L645.1 263.8L646.5 262.6L649.7 258.6L652.8 255.8L657.7 253.5L660.5 253.2L663.3 253.5L666.1 254.7L668.9 257.2L670.4 260L670.8 262.8L669.5 267L667.5 268.9L664.7 270.3L656.7 272.6L653.7 274L652.4 275.4L649.8 279.6L646.1 283.8L644.3 288L645.1 292.2L651.8 300.6L652.4 303.4L652.6 309L653.6 313.2L654.9 315.2L656.3 316.2L657.7 316.3L660.5 314.8L662.6 311.8L664 307.6L665.6 299.2L669.4 292.2L669.7 288L668.2 282.4L668.9 279.6L674.3 271.2L685.7 262.5L688.5 258.9L696.9 230.5L699.7 225.2L703.1 222.2M710.7 229.2L715.1 230.1L720.6 233.7L726.5 240.4L731.3 248.8L734.2 257.2L736.7 268.4L738.1 279.6L738.3 289.4L737.5 296.4L736 302.6L734.1 307.6L731.6 311.8L729 314.6L724.8 317.4L720.6 318.8L713.7 320L712.3 321.4L709.9 338.3L707.4 345.3L704.7 349.5L700.6 353.7L695.5 357.3L689.9 360L682.9 361.6L678.7 361.5L671.7 360.3L667.5 360.2L636.7 363L631.1 363L624.1 361.3L617.1 357.3L611.5 352.3L609.5 349.5L608.4 346.7L605.9 325.4L604.3 318.8L603.1 317.6L601.7 317.1L590.6 315.5L585 313L580.8 309.5L578.1 306.2L575.8 302L574.4 297.8L573.4 292.2L572.9 285.2L573.3 278.2L574.5 271.2L576.4 264.2L579.1 257.2L582.2 251.2L586.4 244.7L592 238.2L596.2 235.1L599 233.8L601.7 233.2L604.5 233.5L607.3 234.9L609.9 237.6L613.3 244.6L616.4 255.8L617.8 265.6L619 283.8L621.3 295L622.6 296.4L629.7 300.3L633.9 303.1L639.5 308.5L643 313.2L646.2 318.8L652.1 333.9L653.5 336.4L654.9 337.8L656.3 338.4L660.5 338.4L666.1 337.4L668.9 335.9L670.3 334.7L674.5 329L685.5 311.8L686.5 309L686.5 300.6L687.3 296.4L688.9 292.2L694.1 282L695.5 277.2L696.9 268.3L698.1 251.6L700.4 240.4L702.5 235.3L704.8 232L708.1 229.8L710.7 229.2M710.5 237.6L713.7 237.2L717.8 238.7L722 242.2L724.8 245.5L727.6 250L729.6 254.4L731.7 261.4L733.2 268.9L734.5 283.8L734.2 289.4L733.1 295L731.7 299.2L729 303.9L726.2 306.7L722 308.3L719.2 308.2L716.4 307.2L713.7 305.4L710.2 302L707.5 297.8L705.6 293.6L703.6 288L702.3 282.4L701.5 269.8L701.9 258.6L702.7 251.6L704.2 246L706.1 241.8L708.1 239.2L710.5 237.6M596.4 243.2L600.3 242.3L603.1 243L605.9 245.4L608 248.8L610.1 254.4L611.6 261.4L612.3 268.4L612.1 275.4L611.2 281L609.5 286.6L606.9 292.2L603.1 298.4L600.3 301.9L597.6 304.1L594.8 305.3L590.6 305.7L587.8 305L585 303.4L582.2 300.6L580.4 297.8L578.9 293.6L578 289.4L577.6 283.8L577.8 278.2L579.6 268.4L584 257.2L586.5 253L590.6 247.8L593.4 245.2L596.4 243.2M621.9 307.6L625.5 306.7L628.3 306.8L632.5 308.1L635.3 309.9L638.9 313.2L642 317.4L644.3 321.6L646.5 327.2L648.9 338.3L649.2 343.9L648.7 348.1L647.6 350.9L645.1 354.2L642 356.5L638.1 358.2L633.9 358.9L629.7 358.7L625.5 357.5L622.7 356.1L619.5 353.7L616.8 350.9L614.1 346.7L612.4 342.5L611.2 336.9L610.6 329.9L610.9 324.4L611.7 320.2L613.3 316L615.7 312.2L618.5 309.5L621.9 307.6M691.3 314.6L695.5 313.3L698.3 313.5L701.1 314.9L703.3 317.4L705.3 321.6L706.2 325.8L706.3 329.9L705.5 335.5L704.3 339.7L701.7 345.3L698.7 349.5L695.5 352.7L691.3 355.6L687.1 357.2L682.9 357.6L680.1 357.2L675.9 354.9L673 350.9L672.1 346.7L672.7 341.1L675.2 334.1L680.9 324.4L685.7 318.7L691.3 314.6M711.2 247.4L713.7 246.3L716.4 246.5L719.2 248L722 250.6L724.6 254.4L726.2 258L728.7 267L730.1 278.2L730 283.8L729.4 288L728.2 292.2L726.2 295.9L724.4 297.8L722 299L720.6 299.1L717.8 298.3L713.7 294.5L709.5 287.4L706.7 279L705.7 269.8L706.4 258.6L708.1 252L709.5 249.3L711.2 247.4M595.1 255.8L597.6 255.1L599 255.3L601.7 256.9L603.1 258.6L604.5 261L606.2 265.6L606.9 269.8L607 274L605.7 281L603.9 285.2L601.7 288.9L599 292.4L596.2 294.8L592 296L589.2 295.1L587.8 294.1L585.5 290.8L584 285.2L583.8 278.2L585.1 271.2L587.8 264.1L590.6 259.7L593.4 256.9L595.1 255.8M622.1 311.8L625.5 310.6L628.3 310.6L631.1 311.3L633.9 312.7L636.7 314.9L639.5 318.1L642.3 322.9L644 327.2L646 336.9L646 341.1L645.3 345.3L644.3 348.1L642.3 351.1L639.5 353.5L636.7 354.9L633.9 355.6L629.7 355.5L624.1 353.4L621.3 351.4L618.4 348.1L616.6 345.3L614.9 341.1L613.9 336.9L613.3 331.3L614.1 323L615.6 318.8L617.1 316.2L619.9 313.2L622.1 311.8M690.2 318.8L694.1 317.5L696.9 317.6L699.2 318.8L701.1 320.6L702.5 323L703.5 327.2L703.7 331.3L703 335.5L700.5 342.5L698.3 346.2L695.4 349.5L691.8 352.3L688.5 353.9L685.7 354.5L682.9 354.5L680.5 353.7L678.7 352.6L676.4 349.5L675.4 345.3L675.9 339.7L677.7 334.1L681.5 327.4L685.7 322.2L690.2 318.8M713.7 265.6L715.1 264.6L716.4 264.7L717.7 265.6L719.2 267.7L720.8 271.2L721.7 275.4L721.7 279.6L720.6 282.8L719.2 284L717.8 284L715.1 281.8L713.7 279.6L712.7 276.8L712.1 274L712.2 269.8L713.7 265.6M624.6 314.6L626.9 314.1L629.7 314.4L632.5 315.5L635.3 317.5L639.5 322.9L642.4 329.9L643.5 338.3L642.3 344.8L640.9 347.5L639.2 349.5L636.7 351.3L633.9 352.3L631.1 352.5L628.3 352.1L623.5 349.5L619.7 345.3L618.1 342.5L616.7 338.3L615.8 329.9L617 323L619.9 317.8L621.9 316L624.6 314.6M691.9 321.6L694.1 321.2L696.1 321.6L698.3 322.9L699.7 324.7L701.1 329.9L701.1 333L700.3 336.9L697.1 343.9L692.7 348.8L689.9 350.5L687.1 351.4L682.9 351.2L680.3 349.5L678.6 346.7L678 342.5L678.7 338.1L680.9 332.7L684.3 327.5L688.5 323.3L691.9 321.6M626.3 318.8L629.7 318.8L632.5 320.1L634.2 321.6L638 327.2L639.9 332.7L640.3 338.3L639.5 342.6L638.1 345.2L636.7 346.8L634.5 348.1L632.5 348.7L628.3 348.3L624.1 345.8L621.3 342.3L619.4 336.9L618.9 331.3L619.9 325.2L622.7 320.7L626.3 318.8M692.7 327.2L695.5 328.1L696.9 330.2L697.3 332.7L697.2 335.5L695.9 339.7L693.2 343.9L689.9 346.7L687.1 347.5L684.3 347.1L682.4 345.3L681.4 342.5L681.6 339.7L682.9 336.1L687.1 330.3L689.9 328.1L692.7 327.2"/>
</g>
<path fill="none" stroke="#000" stroke-width="2.20" stroke-linejoin="miter" d="M638.7 163.4L657.7 147.1L676.7 163.4"/>
<circle cx="657.7" cy="271.2" r="107.6" fill="none" stroke="#000" stroke-width="2.60"/>
<g fill="#000"><circle cx="597.6" cy="241.8" r="3.7034418604651163"/><circle cx="589.8" cy="256.6" r="3.7034418604651163"/><circle cx="599" cy="257" r="3.7034418604651163"/><circle cx="592.8" cy="272" r="3.7034418604651163"/><circle cx="602.4" cy="269.3" r="3.7034418604651163"/><circle cx="595.8" cy="286.2" r="3.7034418604651163"/><circle cx="605.1" cy="290.4" r="3.7034418604651163"/><circle cx="600.3" cy="302.6" r="3.7034418604651163"/><circle cx="607.1" cy="313.8" r="3.7034418604651163"/><circle cx="617.2" cy="311.3" r="3.7034418604651163"/><circle cx="718.2" cy="245.3" r="3.7034418604651163"/><circle cx="716.1" cy="259" r="3.7034418604651163"/><circle cx="725.7" cy="258.6" r="3.7034418604651163"/><circle cx="712.4" cy="271.4" r="3.7034418604651163"/><circle cx="719.6" cy="287.7" r="3.7034418604651163"/><circle cx="710" cy="291.3" r="3.7034418604651163"/><circle cx="705.9" cy="302.6" r="3.7034418604651163"/><circle cx="714.5" cy="303.6" r="3.7034418604651163"/><circle cx="698.5" cy="312.4" r="3.7034418604651163"/><circle cx="707.9" cy="314.9" r="3.7034418604651163"/></g>
<path fill="#fff" stroke="#000" stroke-width="1.90" stroke-linejoin="round" d="M905.5 252.6L908.2 254L909.7 257.7L909.6 270.4L910.3 289.2L910.9 296.7L907.1 300.2L901.3 296.2L898.8 289.4L899.8 270.4L900 257.7L902.4 254Z"/>
<path fill="#fff" stroke="#000" stroke-width="1.90" stroke-linejoin="round" d="M1130.9 252.6L1128.2 254L1126.7 257.7L1126.8 270.4L1126.1 289.2L1125.5 296.7L1129.3 300.2L1135.1 296.2L1137.6 289.4L1136.6 270.4L1136.4 257.7L1134 254Z"/>
<clipPath id="c2"><circle cx="1018.2" cy="271.2" r="107.6"/></clipPath>
<g clip-path="url(#c2)">
<circle cx="1018.2" cy="271.2" r="107.6" fill="#4267b1"/>
<path fill="#477cbe" fill-rule="evenodd" d="M906.3 159.3L1130.1 159.3L1130.1 383.1L906.3 383.1L906.3 159.3ZM1004.2 239L1002.8 239.2L1001.4 240.2L1000.1 243.2L1000.5 246L1001.3 247.4L1002.8 248.5L1004.2 248.7L1006.3 247.4L1007.4 244.6L1007 241.6L1005.6 239.6L1004.2 239Z"/>
<path fill="#5598ce" fill-rule="evenodd" d="M906.3 159.3L1130.1 159.3L1130.1 383.1L906.3 383.1L906.3 159.3ZM1001.4 237.1L1000 238.3L998.6 240.7L998.1 243.2L998.3 246L999.7 248.8L1001.4 250.4L1004.2 251.1L1005.6 250.8L1007 249.8L1008.6 247.4L1009.2 244.6L1008.6 240.4L1007 237.8L1005.6 236.8L1004.2 236.4L1001.4 237.1Z"/>
<path fill="#67b2dd" fill-rule="evenodd" d="M906.3 159.3L1130.1 159.3L1130.1 383.1L906.3 383.1L906.3 159.3ZM1001.4 234.6L999.2 236.2L997.2 239L996.3 241.8L996.4 246L997.4 248.8L1000 251.8L1002.8 253.1L1005.6 253L1008.4 251.1L1009.8 248.8L1010.7 244.6L1010.3 240.4L1009.2 237.6L1007 235.1L1004.2 234.1L1001.4 234.6Z"/>
<path fill="#77c2e2" fill-rule="evenodd" d="M906.3 159.3L1130.1 159.3L1130.1 383.1L906.3 383.1L906.3 159.3ZM1002.8 231.7L1000 232.7L996.4 236.2L994.5 240.4L994.1 244.6L995.1 248.8L997.2 251.9L1000 254.2L1004.2 255.3L1007.5 254.4L1010.3 251.6L1011.9 247.4L1012.2 243.2L1011.6 239L1009.6 234.8L1007 232.4L1002.8 231.7ZM1049 325.4L1045.9 327.2L1044.8 329.9L1045.1 331.3L1046.2 332.7L1049 333.5L1051.8 333L1053.2 332.1L1054.8 329.9L1055 328.6L1054.5 327.2L1053.2 326L1051.8 325.4L1049 325.4Z"/>
<path fill="#85cee3" fill-rule="evenodd" d="M906.3 159.3L1130.1 159.3L1130.1 383.1L906.3 383.1L906.3 159.3ZM924.5 266.9L923.1 267.9L921.7 270.7L920.8 275.4L921.7 279.9L923.1 281.2L924.5 281.4L925.9 280.9L927.3 279.2L928.2 275.4L927.3 269.8L925.9 267.5L924.5 266.9ZM955.3 288.9L953.9 290.3L952.9 292.2L952.3 297.8L953.9 301.8L955.3 302.8L956.7 302.8L958.1 301.8L959.3 299.2L959.7 293.6L958.1 289.4L956.7 288.6L955.3 288.9ZM997.2 203.8L996.1 205.5L996.3 206.9L997.2 207.9L998.6 207.8L999.4 205.5L998.6 203.9L997.2 203.8ZM1001.4 229L997.2 231.5L993.5 236.2L991.8 240.4L991.5 246L993 250.2L996.4 254.4L1001.4 257.3L1005.6 257.7L1009.8 255.6L1012.4 251.6L1013.6 246L1013.5 240.4L1012 234.8L1009.8 231.3L1005.6 228.8L1001.4 229ZM1046.2 324.3L1044.3 325.8L1042.7 328.6L1042.5 331.3L1044.3 334.1L1047.6 335.4L1050.4 335.3L1053.6 334.1L1056.7 331.3L1057.4 329.6L1057.3 327.2L1054.9 324.4L1050.4 323.2L1046.2 324.3ZM1086.7 291.9L1086.7 293.6L1087.6 295L1088.1 295.5L1089.3 295L1089.2 293.6L1088.1 291.7L1086.7 291.9Z"/>
<path fill="#91d8e0" fill-rule="evenodd" d="M906.3 159.3L1130.1 159.3L1130.1 383.1L906.3 383.1L906.3 159.3ZM921.7 217.6L919.7 219.4L918 222.2L916.3 229.2L917 241.8L919 258.6L916.5 278.2L917.1 282.4L918.3 285.2L920.3 287.4L923.1 288.2L927.3 287L930.1 284.3L931.8 281L932.6 275.4L929.8 257.2L929.2 223.6L927.7 219.4L925.9 217.5L924.5 217L921.7 217.6ZM958.1 281L955.3 281.8L952.5 284.5L949.9 289.4L948.9 293.6L949 299.2L950.2 303.4L952.5 306.8L955.3 308.5L958.1 308.2L960.3 306.2L962.2 302.4L963.2 297.8L963.3 292.2L962.2 286.5L960.8 283.2L959.5 281.5L958.1 281ZM995.8 199.8L993 202.8L992.3 205.5L992.4 208.3L994.4 212.4L995.8 213.6L998.6 214.4L1001.4 212.8L1002.5 211.1L1003.2 208.3L1003.3 205.5L1002.4 202.7L1000 199.9L998.6 199.4L995.8 199.8ZM1049 321.5L1046.2 322.2L1043.4 324L1041.2 327.2L1040.4 329.9L1040.6 332.7L1041.2 334.1L1043.4 336L1046.2 337L1050.4 336.9L1054.6 335.5L1058.2 332.7L1059.7 329.9L1059.8 327.2L1057.4 323.6L1053.2 321.6L1049 321.5ZM1074.2 201L1070.7 202.7L1069.1 205.5L1069.6 208.3L1072.8 212.2L1076.9 215.2L1081.1 216.9L1086.7 217.1L1089.5 215.6L1090.4 213.8L1089.9 209.7L1088.8 206.9L1086.5 204.1L1081.1 201.3L1076.9 200.7L1074.2 201ZM1000 224.5L994.4 229L990 234.8L987.5 240.4L987.2 246L989.3 251.6L993.1 255.8L1000 260.4L1002.8 261.4L1005.6 261.6L1009.8 259.7L1012.1 257.2L1013.6 254.4L1015.2 247.4L1014.9 237.6L1012.9 230.6L1009.8 226.5L1005.6 224.2L1002.8 223.8L1000 224.5ZM1083.9 280.6L1082.5 281.4L1081.1 283.4L1079.8 288L1079.6 293.6L1080.9 297.8L1083.9 301.8L1088.1 305L1092.3 306.6L1095.1 306.2L1096.5 304.5L1097.3 300.6L1096.8 296.4L1095.1 291.4L1092.5 286.6L1089.5 283L1086.7 280.9L1083.9 280.6ZM1000 271L998.4 272.6L997.9 274L998.2 275.4L999.6 276.8L1002.8 277.3L1004.7 276.8L1006.5 275.4L1007.2 274L1007.2 272.6L1005.6 270.6L1002.8 270.1L1000 271Z"/>
<path fill="#9adbca" fill-rule="evenodd" d="M906.3 159.3L1130.1 159.3L1130.1 383.1L906.3 383.1L906.3 184L913.3 184.2L916.1 183.1L916.7 181.7L916.3 178.9L913.3 174L909.1 170.2L906.3 169.1L906.3 159.3ZM923.1 209.5L918.9 212.3L914.5 218L911.9 223.6L911 229.2L915.2 258.6L915 264.2L912.9 278.2L913 283.8L914.2 288L916.1 291.2L918.9 293.4L921.7 294L924.5 293.6L927.3 292.5L933.1 288L935.6 283.8L936.4 278.2L933.7 257.2L933 237.6L933.8 225L933.2 219.4L931.5 214.7L928.7 210.9L925.9 209.3L923.1 209.5ZM994.4 197L991.4 199.9L989.1 205.5L989.1 211.1L990.3 218L990 222.2L988 226.4L980.4 237.7L977.6 240.7L970.6 238L966.4 238.3L963.2 240.4L960.7 244.6L959.8 250.2L959.7 261.4L958.8 267L956.1 272.6L950.9 279.6L947.4 285.2L945.4 292.2L945.8 299.2L948 306.2L951.1 310.6L955.3 313.2L958.1 313.3L961.1 311.8L963.4 309L965.3 304.8L967 295L966.5 281L967 275.4L973.1 255.8L976.2 249L977.6 247.5L979 247.7L980.4 249.1L991.7 262.8L992.2 265.6L990.9 271.2L990.7 275.4L991.6 278.5L994.4 281.7L997.2 282.9L1000 283.3L1005.6 282.6L1011.1 279.6L1014 275.4L1014.8 271.2L1014.5 262.8L1016.5 254.4L1017.1 248.8L1017 234.8L1016 227.8L1014 223.2L1008.3 215.2L1006.2 204.1L1004.3 199.9L1002.8 198L1000 196.3L997.2 196L994.4 197ZM1046.2 320L1042 322.6L1038.8 328.6L1038.3 332.7L1039.2 335.2L1040.6 336.8L1044.8 338.5L1050.4 338.4L1056 336.6L1060.9 332.7L1062.4 329.9L1062.6 327.2L1061.5 324.4L1060.2 322.8L1057.4 321L1053.2 319.6L1049 319.5L1046.2 320ZM1072.8 194.2L1068.6 195.3L1065.8 196.8L1063 199.3L1060.9 202.7L1060.1 205.5L1060.4 208.3L1063.5 212.5L1075.6 221.7L1083.9 226L1090 227.8L1104.9 231L1109.1 230.7L1111.4 229.2L1112.9 226.4L1112.3 222.2L1105.7 211.1L1101.7 201.3L1099.3 197.8L1095.3 195.7L1090.9 194.8L1079.7 193.9L1072.8 194.2ZM1015.4 344.7L1014.8 346.7L1015.4 348.3L1016.9 346.7L1016.6 345.3L1015.4 344.7ZM1079.7 273.7L1077.5 278.2L1075.3 289.4L1075 296.4L1076.1 300.6L1079.9 304.8L1092.3 313.3L1096.5 315.5L1099.3 315.6L1100.8 314.6L1102.1 312.2L1102.9 306.2L1101.7 297.8L1099.1 290.8L1094.9 283.8L1088.1 275.8L1083.9 273L1081.1 272.9L1079.7 273.7Z"/>
<path fill="#b0dc83" fill-rule="evenodd" d="M911.9 159.3L1116.8 159.3L1117.5 160.4L1118.9 160.3L1119.8 159.3L1130.1 159.3L1130.1 219.5L1120.3 215L1116.1 211.3L1114.4 208.3L1113.7 205.5L1113.6 201.3L1114.4 194.3L1114.1 191.5L1113.4 190.1L1109.1 186.7L1102.1 184.4L1096.5 184.7L1083.9 187L1070 188L1064.4 189.5L1060.2 192.7L1055.5 198.5L1050.1 206.9L1048.8 211.1L1049.5 212.5L1051.8 213.8L1060.2 217.4L1064.4 219.9L1078.3 231L1085.3 234L1097.9 235L1107.7 237.9L1111.9 238.2L1117.4 236.2L1130.1 229.2L1130.1 293.6L1125.9 294.9L1123.3 296.4L1120 299.2L1116.1 303.7L1114.7 304.7L1113.3 304.8L1110.5 302.3L1101.6 286.6L1088.1 269.9L1082.5 265.1L1078.3 263.6L1075.6 263.6L1072.8 265.2L1072 267L1072.6 281L1070.4 300.6L1070.8 304.8L1072.5 307.6L1082.5 312.6L1087.1 316L1090.8 320.2L1096.5 329.2L1099.3 331.3L1102.1 331.5L1106.3 329L1111.2 324.4L1117.5 316.6L1123.1 315.2L1130.1 315.2L1130.1 324.5L1125.9 325.9L1124.5 327.2L1123.7 329.9L1124.2 332.7L1125.9 336.6L1127.3 338.5L1130.1 340.5L1130.1 383.1L1038 383.1L1037 380.3L1035 378.1L1032.2 376.5L1029.4 376.1L1026.6 376.7L1023.8 378.6L1022.5 380.3L1021.7 383.1L969 383.1L970.4 371.9L970 367.7L967.8 363.7L963.6 358.4L960.8 355.6L959.5 355L956.7 356L951 362.1L946.9 365L942.7 365.2L932.9 362.1L930.1 362.7L928.7 363.6L926.8 366.3L925.5 370.5L923.8 383.1L906.3 383.1L906.3 240L909.1 247.7L911.4 258.6L911.2 265.6L908.3 279.6L907.8 285.2L908.8 292.2L911.9 298.4L914.7 301L918.9 301.8L923.1 300.7L934.3 294.9L937.1 294.2L938.5 294.6L940.8 297.8L946.4 310.4L949.7 314.7L952.5 316.9L956.7 318.2L966.4 316.9L969 324.4L970.6 325.9L972 326.3L973.4 325.9L974.8 324.4L975 320.2L973.4 317.2L969.2 314.6L969 313.2L971.3 297.8L972.6 276.8L974.3 268.4L976.2 263.2L977.6 261.3L979 260.4L980.4 260.3L983.2 262.2L984.6 264.2L985.6 267L986.5 276.8L987.5 281L990.2 287.1L993 289.8L997.2 290.1L1002.8 288.9L1008.4 286.9L1012.6 284.2L1015.4 281.4L1017.5 278.2L1019.9 271.2L1020.2 267L1019.3 241.8L1021.3 226.4L1020.9 222.2L1019.9 219.4L1013.1 208.3L1009.5 199.9L1006.8 195.7L1004.2 193.3L1000 191.7L995.8 192.1L993 193.4L989.1 197.1L986.4 201.3L984.4 206.9L980.9 219.4L977.8 225L973.4 228.8L963.6 234.1L959.1 239L956.7 246L955.6 258.6L953.7 265.6L951.1 270.4L946.9 275.7L944.1 277.3L942.7 276.6L941.3 274L938.2 262.8L936.3 244.6L936.1 236.2L937.9 223.6L937.7 218L931.4 192.9L929.6 187.3L927.5 183.1L914.8 166.3L912.6 162.1L911.9 159.3ZM1046.2 317.4L1043.4 318.3L1041.3 320.2L1039.2 323.5L1037.1 328.6L1036 334.1L1036.9 336.9L1038.4 338.3L1041.5 339.7L1044.8 340.3L1051.8 339.7L1060.2 336.3L1063.5 334.1L1066.1 331.3L1067 328.6L1066.6 325.8L1065 323L1063 321L1060.2 319.4L1054.6 317.6L1050.4 317L1046.2 317.4ZM1014 339.2L1011.8 342.5L1011.4 346.7L1012.7 350.9L1014 352.5L1015.4 353.1L1016.8 352.7L1018.4 350.9L1019.5 348.1L1019.7 343.9L1018 339.7L1016.8 338.8L1015.4 338.6L1014 339.2ZM906.3 191.5L906.3 190.7L909.1 191.3L914.7 193.7L918.2 197.1L919 199.9L918 204.1L915.5 208.3L910.5 214.9L906.3 219.2L906.3 191.5Z"/>
<path fill="#c6de46" fill-rule="evenodd" d="M918 159.3L957.1 159.3L958.5 174.7L957.7 178.9L956.3 180.3L953.9 181.5L948.3 182.7L942.7 182.5L937.1 180.7L930.1 176L923.1 169.4L919.1 163.5L918 159.3ZM1018.7 159.3L1063.2 159.3L1062.5 162.1L1061.5 163.5L1058.8 165.5L1050.4 169.6L1047.3 173.3L1047.1 176.1L1050.9 183.1L1051.9 187.3L1051.3 190.1L1050 192.9L1046.2 197.2L1042 199.3L1036.4 200L1029.4 198.8L1026.6 196.9L1025.1 194.3L1022 185.9L1016.5 176.1L1016.4 171.9L1018.2 164.5L1018.7 159.3ZM1076.3 159.3L1095.8 159.3L1094.1 166.3L1090.5 171.9L1085.3 175.6L1079.7 176.7L1075.6 175.8L1074.1 174.7L1073.5 173.3L1073.5 170.5L1075.7 163.5L1076.3 159.3ZM977.8 162.1L980.4 161.3L984.6 161.3L988.8 162.6L992.5 164.9L995.2 167.7L996.8 170.5L997.5 174.7L997 177.5L994.1 183.1L985.5 192.9L981.5 198.5L973.7 215.2L970.5 220.8L967.2 225L957.4 234.8L955.3 239.8L951.1 257.5L948.3 261.7L946.9 262.4L945.5 262.3L943.4 260L941.3 255.3L939.2 247.4L938.4 240.4L939 233.4L942.7 220.8L943.4 211.1L944.2 206.9L946.3 202.7L954.2 191.5L960.3 178.9L971.6 166.3L974.8 163.7L977.8 162.1ZM906.3 198.5L906.3 198L907.2 198.5L909 199.9L910 202.7L909.1 206L906.3 209L906.3 198.5ZM1051.5 223.6L1056 223.3L1061.2 225L1070.2 232L1081.1 239.6L1083.9 241L1086.7 241.2L1093.7 239.5L1097.9 239.2L1102.1 240.4L1109.1 244L1111.9 244.6L1114.7 244.3L1124.5 240.4L1130.1 239.1L1130.1 270.6L1123.1 272.9L1119.7 275.4L1113.3 282.1L1111.9 282.9L1109.1 283.3L1103.5 281.3L1097.9 277.2L1094.1 272.6L1086.7 261.7L1083.9 258.7L1081.5 257.2L1076.9 257L1063.2 260L1060.2 261.4L1058.8 262.8L1058.7 264.2L1064.4 269.5L1066.7 272.6L1068.4 276.8L1069.2 281L1069 290.8L1065.3 311.8L1063.3 314.6L1060.2 315.2L1055.5 314.6L1044.8 311.5L1043.4 311.4L1042 312.1L1036.4 326.2L1031.7 335.5L1031.4 336.9L1031.9 338.3L1033.5 339.7L1036.6 341.1L1043.4 342.2L1051.8 341.3L1064.4 337.4L1068.6 336.8L1083.9 338.3L1088.1 339.5L1090.9 341.2L1093.7 343.9L1100.1 355.1L1110.2 366.3L1116.1 376.4L1117.5 377.9L1123.9 373.3L1130.1 372L1130.1 383.1L1063.4 383.1L1064.4 380.2L1068.8 374.7L1069.7 371.9L1068.5 369.1L1064.4 367.7L1058.6 367.7L1043.4 369.7L1030.8 368.3L1025.2 368.3L1021 369.3L1014 372.9L1011.2 373.8L1008.4 373.5L1001.4 370.4L991.6 370L990.2 369.4L987.4 366.5L984.8 362.1L983.6 359.3L983.1 355.1L983.9 350.9L985.3 348.1L991.6 340.2L998.6 340.4L1004.5 342.5L1007 345.2L1011.2 354.7L1012.6 356.3L1015.4 357.3L1018.2 355.7L1019.6 353.7L1021.4 349.5L1022.9 343.9L1023.9 338.3L1023.5 335.5L1018.2 325.3L1016.8 324.1L1009.8 322.9L1001.4 319.6L1000 319.6L998.6 320.4L997.2 322.2L994.7 328.6L993 336.4L991.6 338.9L990.2 339.5L969.2 339.1L944.1 332.8L938.5 332.4L935.7 333.5L934.4 335.5L934.6 343.9L934.2 345.3L932.8 346.7L927.3 348.3L920.3 348.8L917.5 348.1L914 345.3L911.9 341.1L911.9 338.3L912.8 335.5L916.1 330.6L923.4 323L924.5 320.2L925.7 311.8L926.9 309L930.1 305.4L932.9 304L935.7 304.2L937.1 305.1L939.9 308.6L945.1 317.4L949.7 321L953.9 322.3L963.6 323.1L965 323.7L970.6 328.3L973.4 328.4L975.4 327.2L976.5 325.8L977.3 323L976.7 313.2L977.3 286.6L977.7 281L979 276L980.4 275.6L981.8 278.9L984.9 296.4L986 299.1L989.5 302L994.4 303.5L997.2 302.9L1011.2 293.4L1015.4 288.9L1022.4 278.9L1025.2 276.3L1028 276L1042 280.2L1043.4 280.4L1044.8 279.5L1047.6 273.5L1049 267L1047.9 265.6L1036.8 260L1028 258L1025.2 256L1023.8 253.6L1022.4 248.9L1022.1 241.8L1023.8 236.2L1026.6 232.8L1029.4 231.5L1039.2 229.2L1051.5 223.6ZM906.3 356.5L906.3 355.9L907.7 356L911.9 356.9L914.7 359L916.1 361.4L917.7 369.1L917 383.1L906.3 383.1L906.3 356.5ZM986.6 373.3L988.8 372.9L991.6 374.9L993.7 378.9L994.6 383.1L979 383.1L980.2 378.9L981.8 376.5L984.6 374.2L986.6 373.3Z"/>
<path fill="#d8e025" fill-rule="evenodd" d="M923.8 159.3L946.5 159.3L945.5 164.2L943.4 167.7L939.9 170L937.1 170.5L932.9 169.8L928.7 167.3L925.3 163.5L923.8 159.3ZM980.4 166.3L984.6 165.2L988.8 166.1L992.2 169.1L993 171.9L991.6 175.9L988.8 178.5L983.2 181.4L979 182.6L977.6 181.5L977.1 180.3L975.9 173.3L977.3 169.1L980.4 166.3ZM965.3 201.3L966.4 200.9L967.1 202.7L962.6 219.4L960.8 222.6L954.7 230.6L952 244.6L949.8 250.2L948.3 252.2L946.9 252.8L945.5 252.7L942.7 249.9L940.7 244.6L940.3 237.6L941.7 232L944.1 227.7L948.4 222.2L951.4 215.2L953.9 211.3L965.3 201.3ZM1047 232L1051.8 230.9L1056 230.8L1072.8 237.1L1076.9 240.4L1079 243.2L1080.3 247.4L1079.6 250.2L1075.6 253.9L1070 256L1051.8 256.6L1042 255.3L1033.6 252.5L1029.4 250.5L1026.6 247.4L1026 244.6L1026.4 241.8L1028 239.2L1033.2 236.2L1047 232ZM1093.1 244.6L1097.9 243.3L1102.1 244.6L1105.7 247.4L1114 255.8L1114.7 258.6L1114.6 261.4L1112.9 269.8L1110.6 274L1107.7 276.5L1103.5 277.1L1099.3 274.9L1095.4 269.8L1090.5 260L1088.4 254.4L1088.3 250.2L1089.8 247.4L1093.1 244.6ZM1127.1 248.8L1130.1 248L1130.1 253.3L1126.4 253L1124.8 251.6L1125.3 250.2L1127.1 248.8ZM1057.4 272.6L1058.8 272.4L1061.6 273.2L1064.4 275.8L1066.6 281L1067.2 286.6L1066.6 295L1064.4 303L1061.6 308.2L1058.8 309.9L1056 309.5L1052.7 306.2L1050.6 300.6L1049.3 292.2L1049.6 286.6L1051.5 279.6L1054.6 274.4L1057.4 272.6ZM1024.3 289.4L1025.2 288.9L1026.6 289.3L1027.3 290.8L1027.1 293.6L1025.2 295.7L1023.8 295.7L1022.7 293.6L1023.3 290.8L1024.3 289.4ZM982.7 307.6L986 306.4L988.8 306.9L992 309L994.7 313.2L995.1 317.4L993.9 323L991.6 328.6L988.8 332.9L987.4 333.9L984.6 334.8L976.2 334.5L963.6 332.9L960.3 331.3L958.9 329.9L959.2 328.6L962.2 327.8L965 328.2L970.6 332.1L973.4 332.1L976.2 330.5L978 328.6L979 326.3L979.8 313.2L980.8 310.4L982.7 307.6ZM1029.4 309L1032.2 309.2L1035 311.4L1036.6 314.6L1037 317.4L1036.5 321.6L1034.1 327.2L1032.2 329.5L1029.4 330.6L1026.6 329.1L1025.2 327.2L1024.1 324.4L1023.5 320.2L1024 316L1025.2 312.7L1026.9 310.4L1029.4 309ZM1060.2 341.1L1064.4 340.7L1068.6 341.2L1080.3 345.3L1082.3 346.7L1084 349.5L1083.2 352.3L1081.1 353.9L1061.6 360.9L1044.8 364.1L1037.8 364.1L1030.8 363.1L1025.2 361.6L1023.5 360.7L1022.4 359.3L1022.2 356.5L1023.8 351.6L1025.2 349.1L1028 346.6L1032.2 345.2L1046.2 344.1L1060.2 341.1ZM994 345.3L997.2 345L1000 345.8L1003.1 348.1L1004.9 350.9L1005.8 355.1L1005.3 357.9L1002.9 360.7L1000 362.2L995.8 362.8L991.6 361.6L989 359.3L987.6 356.5L987.5 352.3L988.6 349.5L991.1 346.7L994 345.3ZM906.3 370.5L906.3 370L907.7 371L908.8 374.7L906.6 383.1L906.3 370.5ZM1094.7 374.7L1096.5 374.6L1099.3 377L1100.5 380.3L1100.9 383.1L1091.5 383.1L1092.3 377.5L1093.7 375.3L1094.7 374.7Z"/>
<path fill="#e6e214" fill-rule="evenodd" d="M981.5 169.1L984.6 167.7L987.4 168.2L988.8 169.1L989.8 170.5L989.6 173.3L988.5 174.7L986 175.9L983.2 175.8L981.8 175.2L980.4 173.4L980.2 171.9L981.5 169.1ZM946.1 230.6L948.3 230.3L949.7 231.4L951 236.2L950.9 240.4L949.9 244.6L948.3 247.4L946.9 248.3L945.5 248.2L944.1 247.2L942.7 244.5L941.9 240.4L942.8 234.8L944.1 232.4L946.1 230.6ZM1047.7 236.2L1054.6 235.8L1067.2 237.2L1071.4 238.6L1074.2 240.5L1076.3 243.2L1077.2 246L1076.9 248.8L1075.1 251.6L1073.1 253L1070 254.2L1067.2 254.5L1057.4 253L1047.6 252.5L1039.6 250.2L1036.4 248.5L1033.8 246L1033.4 243.2L1034.2 241.8L1039.2 238.6L1047.7 236.2ZM1095.7 248.8L1097.9 247.9L1099.3 248.1L1102.1 249.7L1104.7 253L1109.3 261.4L1110.1 264.2L1110.1 268.4L1109 271.2L1106.3 273.8L1103.5 274.3L1100.7 273L1097.3 268.4L1093.3 255.8L1093.7 251.6L1095.7 248.8ZM1057.4 276.8L1060.2 276.6L1063 278.6L1064.8 282.4L1065.6 288L1065.2 293.6L1063.8 299.2L1061.6 303.3L1058.8 305.2L1056 304.3L1054.2 302L1052.5 297.8L1051.7 292.2L1052.1 286.6L1053.2 282.4L1054.6 279.5L1057.4 276.8ZM984.4 310.4L987.4 309.7L990.2 311.1L991.8 313.2L992.9 317.4L992.5 321.6L990.8 325.8L988.8 328.4L986 330L984.6 329.9L982.8 328.6L981.8 326L981.1 321.6L981.7 314.6L983 311.8L984.4 310.4ZM1028.1 314.6L1029.4 313.5L1032.2 313.5L1033.6 314.7L1034.8 317.4L1035 320.2L1034.3 323L1032.6 325.8L1030.8 327L1029.4 327L1028 326L1026.4 323L1026.3 318.8L1028.1 314.6ZM1058.5 343.9L1063 343.9L1065.8 344.6L1068.6 346.1L1070.4 348.1L1070.6 349.5L1069.1 352.3L1065.3 355.1L1061.6 356.9L1051.8 359.4L1040.6 360.2L1033.6 358.6L1030.8 356.8L1029.8 355.1L1030.6 352.3L1035 349.3L1040.6 347.6L1058.5 343.9ZM995 348.1L998.6 348.6L1000 349.6L1001.7 352.3L1001.7 355.1L1001.1 356.5L999.9 357.9L997.2 359.2L994.4 359.1L993 358.5L991.6 357.3L990.5 355.1L990.5 352.3L991.1 350.9L993 348.9L995 348.1Z"/>
<path fill="#f5e100" fill-rule="evenodd" d="M946.1 234.8L946.9 234.6L948.3 235.7L948.8 237.6L948.5 241.8L946.9 244.3L945.5 244.2L944.1 241.9L943.8 240.4L944.1 237.6L945.5 235.1L946.1 234.8ZM1048 240.4L1057.4 240.2L1065.8 239L1068.6 239.3L1071.4 240.3L1073.3 241.8L1075 244.6L1075.3 247.4L1074.2 250L1072.8 251.4L1068.6 253L1064.4 252.6L1056 249.5L1048.9 248.8L1044.7 247.4L1042.8 246L1042.1 244.6L1042.5 243.2L1044.1 241.8L1048 240.4ZM1099.2 258.6L1100.7 257.6L1102.1 258.3L1104.9 260.5L1107.4 264.2L1107.7 268.4L1106.3 270.8L1104.9 271.6L1102.1 271.3L1099.8 268.4L1098.7 264.2L1099.2 258.6ZM1056.6 281L1058.8 279.8L1060.2 280L1061.6 281L1063.2 283.8L1064 288L1063.9 292.2L1063 296.6L1061.6 299.5L1060.2 301L1058.8 301.5L1057.4 301.2L1056 300L1054.6 297.4L1053.7 293.6L1053.9 286.6L1054.8 283.8L1056.6 281ZM984.8 313.2L987.4 312.4L988.8 313L990.2 314.6L991.1 317.4L991.1 320.2L990.2 323.1L988.8 325.2L987.4 326.2L986 326.4L984.6 325.7L983.7 324.4L982.7 320.2L983.1 316L984.8 313.2ZM1030.7 317.4L1032.2 318.3L1032.5 320.2L1032.2 321.9L1030.8 323.2L1029.4 322.5L1028.9 320.2L1029.4 318.3L1030.7 317.4ZM1051.6 348.1L1057.4 347.3L1061.1 348.1L1062.3 349.5L1062.1 350.9L1058.8 353.7L1054.6 355.2L1047.6 355.8L1043 355.1L1041.4 353.7L1041.9 352.3L1043.9 350.9L1051.6 348.1ZM995 352.3L996.9 352.3L997.5 353.7L997.2 354.3L995.8 355.2L994.4 354L995 352.3Z"/>
<path fill="#fbc600" fill-rule="evenodd" d="M1062.4 241.8L1067.2 240.7L1071.4 242.1L1073.4 244.6L1073.6 247.4L1073.1 248.8L1071.4 250.6L1068.6 251.6L1065.8 251.4L1062.9 250.2L1061.1 248.8L1059.2 246L1059.4 244.6L1060.4 243.2L1062.4 241.8ZM1102.7 265.6L1103.5 264.9L1104.3 265.6L1104.8 267L1103.5 268L1102.7 267L1102.7 265.6ZM1057.7 283.8L1058.8 283.2L1060.4 283.8L1061.6 285.2L1062.5 289.4L1061.6 295.2L1060.2 297.4L1058.8 298L1057.4 297.5L1056.6 296.4L1055.3 292.2L1055.9 286.6L1057.7 283.8ZM985.6 316L987.4 315.3L989.1 317.4L988.8 321.5L987.4 323L986 323L984.6 320.7L984.6 317.7L985.6 316Z"/>
<path fill="#f8ac00" fill-rule="evenodd" d="M1064.2 243.2L1067.2 242.3L1070.4 243.2L1071.6 244.6L1072.1 246L1071.4 248.5L1068.6 250.1L1065.8 249.7L1064.1 248.8L1062.6 246L1063 244.6L1064.2 243.2ZM1058.1 289.4L1058.8 288.2L1059.8 289.4L1060.1 290.8L1058.8 293L1057.9 290.8L1058.1 289.4Z"/>
<path fill="#f49200" fill-rule="evenodd" d="M1066.6 244.6L1068.8 244.6L1070 246L1069.5 247.4L1067.2 248L1066 247.4L1065.5 246L1066.6 244.6Z"/>
<path fill="none" stroke="#000" stroke-width="1.25" stroke-linejoin="round" d="M1002.8 237.5L1001.4 238.2L999.6 240.4L998.9 244.6L999.7 247.4L1000.8 248.8L1002.8 250L1004.2 250.2L1005.6 249.8L1007 248.7L1008.3 246L1008.5 243.2L1007 239L1005.6 237.9L1002.8 237.5M1001.4 233.3L998.6 235.2L996.1 239L995.3 241.8L995.3 246L996.3 248.8L998.6 252L1001.4 253.8L1004.2 254.3L1005.6 254.1L1008.4 252.5L1010.7 248.8L1011.5 244.6L1011.1 240.4L1009.8 236.8L1007 233.7L1004.2 232.8L1001.4 233.3M1049 326.7L1047.6 327.4L1046.6 328.6L1046.2 329.9L1046.9 331.3L1049 332.3L1051.8 331.6L1053.3 329.9L1053.2 328.1L1051.8 326.8L1049 326.7M995.8 202.1L994.4 204.1L994.4 208.1L995.8 210.1L997.2 210.9L998.6 210.9L1000 210.1L1001.1 208.3L1001.5 205.5L1001.1 204.1L1000 202.3L998.6 201.5L997.2 201.4L995.8 202.1M923.1 223.1L921.7 224L920.4 226.4L919.7 230.6L920.1 244.6L922.4 258.6L919 272.6L918.7 276.8L918.9 279.6L920.3 282.9L921.7 284.3L924.5 284.8L927.3 283.4L929.1 281L930.1 278.2L930.4 274L929.7 269.8L926.5 258.6L926.9 246L926 226.4L924.7 223.6L923.1 223.1M1000 227.8L995.8 230.8L991.9 236.2L989.9 241.8L989.9 246L990.6 248.8L992.1 251.6L995.8 255.5L1000 258.2L1002.8 259L1005.6 259.1L1008.4 258.1L1009.8 257.1L1012.1 254.4L1013.3 251.6L1014.4 244.6L1013.8 237.6L1011.8 232L1008.4 228.3L1004.2 226.9L1000 227.8M956.7 285.2L953.9 286.7L952.5 288.6L951.1 292.1L950.6 295L950.8 299.2L951.7 302L953.7 304.8L955.3 305.6L956.7 305.6L958.1 305L959.5 303.5L960.8 300.2L961.5 296.4L961.3 292.2L960 288L958.1 285.5L956.7 285.2M1083.9 286.2L1083 288L1082.5 290.8L1082.7 293.6L1083.9 297L1085.6 299.2L1088.1 301.1L1090.9 302L1092.3 301.5L1093.7 299.4L1093.9 297.8L1093.6 295L1092 290.8L1090.2 288L1088.1 286L1086.7 285.3L1085.3 285.2L1083.9 286.2M1047.6 322.8L1044.6 324.4L1042.3 327.2L1041.5 329.9L1042 332.9L1042.8 334.1L1044.8 335.5L1047.6 336.1L1051.8 335.7L1055 334.1L1056.7 332.7L1058.4 329.9L1058.4 327.2L1057.7 325.8L1056 324L1053.2 322.7L1050.4 322.4L1047.6 322.8M906.3 186.7L916.1 188.2L918.9 188.2L920.7 187.3L921.6 184.5L920.5 180.3L917 174.7L910.5 167.3L907.7 165.1L906.3 164.6M1068.6 192.8L1065.8 194L1063 196L1060.2 199.1L1058 202.7L1057.1 205.5L1057.1 208.3L1058.6 211.1L1060 212.5L1076.9 225.2L1081.1 227.6L1085.3 229.2L1107.7 233.9L1111.9 233.3L1115.7 230.6L1117.4 227.8L1117.7 226.4L1117.3 223.6L1109.2 211.1L1107.6 206.9L1105.6 198.5L1104.1 195.7L1102.7 194.3L1099.3 192.5L1093.7 191.6L1075.6 191.7L1068.6 192.8M994.4 195.6L991 198.5L988.6 202.7L987.4 208.3L987.3 216.6L986.7 220.8L985 225L981.8 230L977.6 234.1L974.8 234.8L969.2 235.2L965 236.7L962.2 239L960.3 241.8L958.6 247.4L958.1 260L956.6 267L954.6 271.2L947.9 281L944.7 286.6L943.7 290.8L943.8 295L944.8 300.6L946.2 304.8L948.2 309L950.3 311.8L952.5 313.6L955.3 314.9L959.5 314.8L962.2 313.2L964.7 310.4L966 307.6L967.3 303.4L968.3 297.8L968.6 281L969.7 274L973.7 260L975.9 255.8L977.6 254L979 253.6L981.8 255L986 259.4L988.4 262.8L989.3 265.6L988.9 274L989.6 278.2L991.6 282.1L994.4 284.3L997.2 285.1L1000 285.3L1007 283.9L1009.8 282.6L1012.6 280.4L1014.4 278.2L1015.8 275.4L1016.7 271.2L1016.6 262.8L1017.8 250.2L1018 232L1017.1 225L1015.3 220.8L1009.9 212.5L1007.1 202.7L1004.9 198.5L1002.8 196.3L1000 194.9L997.2 194.7L994.4 195.6M923.1 206.3L918.9 209.6L913.3 216.6L910.1 222.2L908.5 227.8L908.8 232L911.9 245.9L913.9 258.6L913.6 265.6L911.5 278.2L911.5 285.2L912.6 289.4L914.7 293L917.5 295.5L920.3 296.3L923.1 296.1L925.9 295.2L933 290.8L936.8 286.6L937.9 283.8L938.2 281L937.7 274L935.6 262.8L934.9 255.8L934.2 239L935.2 225L934.9 219.4L932.9 213.1L930.1 208.6L927.3 206.2L925.9 205.8L923.1 206.3M1079.7 269.8L1078.3 270.5L1077 272.6L1075.9 276.8L1073.3 295L1073.4 299.2L1074.2 301.9L1076.5 304.8L1087.1 311.8L1096.5 319.2L1099.3 320.5L1102.1 320L1103.5 318.6L1104.8 316L1105.4 313.2L1105.5 309L1104.3 300.6L1101.4 292.2L1096.5 283.8L1088.1 273.7L1083.9 270.4L1081.1 269.6L1079.7 269.8M1049 318.7L1046.2 319.2L1043.4 320.4L1040.6 323.3L1038.7 327.2L1037.6 331.3L1037.7 334.1L1039.4 336.9L1042 338.5L1047.6 339.3L1054.6 337.8L1060.8 334.1L1062.1 332.7L1063.7 329.9L1063.9 328.6L1063.5 325.8L1061.7 323L1060.2 321.6L1054.6 319.1L1049 318.7M970.6 320L970 321.6L970.2 323L970.6 323.7L972 324.5L973.4 323.4L973.6 321.6L972 319.7L970.6 320M1015.4 342.2L1013.7 343.9L1013.3 346.7L1014 349.4L1015.4 350.5L1016.8 350L1018.2 346.7L1017.8 343.9L1016.8 342.4L1015.4 342.2M947 383.1L946.4 381.7L943.4 378.9L939.1 376.1L935.7 374.9L932.9 375.7L931.5 377.3L930 383.1M952.2 159.3L951.6 166.3L949.7 172.1L946.9 175L944.1 176.3L941.3 176.7L938.5 176.5L934.3 175.1L927.3 170.5L922.4 164.9L921 162.1L920.4 159.3M1049.6 159.3L1048.1 162.1L1037.8 172.2L1035 174.4L1032.2 174.9L1029.4 174L1026 170.5L1024.5 166.3L1023.9 159.3M984.3 163.5L988.8 164.4L991.6 166.1L993.2 167.7L995 171.9L994.2 176.1L978.4 197.1L969.1 216.6L965.9 222.2L956.7 232.7L955 236.2L951.1 252L949.7 254.8L948.3 256.4L946.9 257L945.5 256.8L942.7 253.7L941.3 250.7L939.6 244.6L939.2 239L940.4 232L945.1 220.8L947.8 209.7L951.1 204.2L966.4 185.9L972.5 171.9L975.1 167.7L979 164.6L981.8 163.7L984.3 163.5M1037.4 183.1L1039.2 183.2L1041.7 184.5L1044.1 187.3L1044.2 190.1L1043.4 191.5L1042 192.6L1040.6 193.1L1037.8 192.9L1035.6 191.5L1034.7 190.1L1034.2 188.7L1034.4 185.9L1035 184.5L1036.4 183.3L1037.4 183.1M1130.1 261.8L1125.4 262.8L1121.7 264.7L1118.9 267.3L1113.2 275.4L1110.5 278L1107.7 279.3L1104.9 279.4L1100.7 277.8L1096.6 274L1086.7 258.1L1083.9 254.7L1082.5 253.9L1079.7 254L1072.8 256.6L1068.6 257.5L1060.2 258.4L1053.2 259.6L1046.2 259.4L1028 253.9L1026.6 252.9L1024.7 250.2L1023.8 247.5L1023.5 244.6L1023.7 241.8L1024.6 239L1026.6 236.2L1028 235.2L1042.5 230.6L1050.4 227.5L1054.6 226.6L1057.4 226.9L1060.2 228L1066.3 232L1072.8 235.4L1076.9 238.4L1082.5 243.9L1083.9 244.8L1086.7 244.6L1093.7 241.5L1097.9 241L1102.1 242.2L1110.5 247.4L1113.3 247.9L1116.1 247.3L1125.3 243.2L1130.1 242.2M1055.7 269.8L1057.4 269.3L1060.2 269.6L1064.4 272.6L1067.2 277.6L1068.3 283.8L1067.8 293.6L1064.8 306.2L1063.1 310.4L1061.9 311.8L1058.8 313L1056 312.6L1053.7 311.8L1050.4 309L1048.4 303.4L1046.8 293.6L1047.1 288L1049.6 278.2L1052.4 272.6L1055.7 269.8M1025 281L1028 280.8L1033.1 283.8L1035.9 286.6L1037.7 290.8L1037.3 295L1033.8 300.6L1033 303.4L1038 311.8L1038.6 314.6L1038.2 318.8L1036.4 324.4L1033.6 329.9L1032.2 331.7L1029.4 333.4L1028 333.3L1026.6 332.6L1024.3 329.9L1022.8 327.2L1021.1 320.2L1021.4 310.4L1021 308.9L1019.6 307.8L1016.8 307.7L1015.4 308.8L1012.6 313.7L1009.8 315.6L1008.4 315.8L1005.6 315.3L1001.6 313.2L1000.1 311.8L1000.1 310.4L1000.8 309L1003.2 306.2L1005.6 304.5L1012.6 301.5L1014 299.3L1016.9 292.2L1019.6 287.1L1022.4 283.1L1025 281M981.8 303.4L983.2 303L984.6 303.2L990.2 305.1L994.4 307.6L998.1 310.4L998.6 311.5L999.6 311.8L998.6 312.3L996.3 320.2L991.6 332.8L990.2 335L987.4 336.8L983.2 337.4L972 337.2L965 336.2L958.1 334.1L948.6 329.9L936.5 323L934.3 320.8L932.6 317.4L932.2 314.6L932.9 311.9L934.3 311.1L935.7 311.5L937.2 313.2L941 320.2L944.1 322.7L946.9 323.8L951.1 324.6L963.6 325L970.6 329.4L973.4 329.5L976.2 327.9L977.6 325.8L978.2 323L978.5 311.8L980 306.2L981.8 303.4M906.3 362L909.1 362.6L910.8 363.5L912.2 364.9L913.7 367.7L914.5 373.3L913.9 383.1M1083.1 383.1L1081.9 366.3L1080.3 363.5L1076.9 361.8L1071.4 361.8L1050.4 366L1043.4 366.9L1008.4 364.2L995.8 365.6L993 365.1L990.2 363.8L987.4 361.1L985.8 357.9L985.3 353.7L986.5 349.5L990.2 345L994.4 343L997.2 342.9L1000 343.5L1004.2 345.9L1006.8 349.5L1011.2 359.8L1012.6 361.1L1014 361.7L1015.4 361.4L1018.2 358.8L1020.3 355.1L1023.8 346.5L1025.2 344.2L1026.6 343L1030.8 342.1L1040.6 343.1L1046.2 343L1051.8 342.1L1063 339.1L1067.2 338.7L1083.9 342L1086.7 343.2L1089.4 345.3L1091.8 349.5L1094.4 357.9L1096.5 360.7L1102.5 366.3L1105.6 370.5L1107.7 376.1L1108.5 383.1M982.5 169.1L984.6 168.3L987.9 169.1L989.1 170.5L989.4 171.9L988.9 173.3L987.4 174.7L986 175.2L984.6 175.3L982.5 174.7L981.2 173.3L980.9 171.9L981.3 170.5L982.5 169.1M945.2 232L946.9 231.1L948.3 231.3L949.7 232.8L950.6 236.2L950.5 240.4L949.9 243.2L948.3 246.6L946.9 247.6L945.5 247.5L944.1 246.3L942.4 241.8L942.7 236.2L943.9 233.4L945.2 232M1044.9 237.6L1053.2 236.6L1065.8 237.5L1070 238.3L1073.6 240.4L1075.9 243.2L1076.8 246L1076.5 248.8L1074.5 251.6L1072.8 252.9L1070 253.9L1067.2 254.2L1057.4 252.4L1047.6 251.8L1042 250.3L1036.7 247.4L1035.5 246L1035 244.6L1035.1 243.2L1036 241.8L1037.7 240.4L1044.9 237.6M1095.8 250.2L1097.9 249.1L1099.3 249.2L1101.2 250.2L1103.5 252.9L1108.6 261.4L1109.7 265.6L1109.6 268.4L1108.4 271.2L1106.3 273.3L1104.9 273.8L1102.1 273.4L1099.5 271.2L1097.8 268.4L1095.1 260L1094.2 255.8L1094.4 253L1095.8 250.2M1056.4 278.2L1058.8 277.1L1060.2 277.3L1061.8 278.2L1063 279.6L1064.4 282.4L1065.2 286.6L1065.1 292.2L1063.9 297.8L1061.6 302.5L1060.2 303.8L1058.8 304.4L1057.4 304.3L1056 303.4L1054.6 301.6L1053 297.8L1052.2 293.6L1052.1 289.4L1052.7 285.2L1054.3 281L1056.4 278.2M985.8 310.4L987.4 310.3L990.2 311.7L992 314.6L992.6 317.4L992.1 321.6L990.4 325.8L988.8 327.8L986 329.3L984.6 329L982.9 327.2L981.8 323.9L981.4 320.2L981.7 316L982.6 313.2L984.6 310.8L985.8 310.4M1029.1 314.6L1030.8 314L1032.2 314.3L1033.8 316L1034.5 318.8L1034.3 321.6L1033.6 323.6L1032.2 325.6L1030.8 326.4L1029.4 326.3L1028 325.1L1026.7 321.6L1027.1 317.4L1029.1 314.6M1053.2 345.3L1061.6 344.5L1065.3 345.3L1067.6 346.7L1068.7 348.1L1068.9 349.5L1068.5 350.9L1065.9 353.7L1063 355.5L1054.6 358.2L1043.4 359.4L1039.2 359.1L1035 358L1032.7 356.5L1031.8 355.1L1031.8 353.7L1032.6 352.3L1034.1 350.9L1036.7 349.5L1053.2 345.3M993.1 349.5L994.4 348.9L997.2 348.8L998.9 349.5L1000.3 350.9L1000.9 352.3L1000.9 355.1L1000.3 356.5L998.7 357.9L997.2 358.5L994.4 358.4L991.8 356.5L991.1 355.1L991.1 352.3L993.1 349.5M1063 241.8L1067.2 240.9L1070 241.5L1071.4 242.3L1072.8 243.9L1073.5 246L1072.9 248.8L1071.4 250.4L1068.6 251.4L1065.8 251.2L1063 249.9L1060.4 247.4L1059.8 246L1060 244.6L1060.9 243.2L1063 241.8M1058.5 283.8L1060.2 284L1061.1 285.2L1062.2 289.4L1061.6 294.5L1060.2 296.9L1058.8 297.6L1057.4 297L1056.2 295L1055.5 290.8L1056.2 286.6L1057.4 284.5L1058.5 283.8M986 316L987.4 315.7L988.9 317.4L989 320.2L987.4 322.5L986 322.5L984.8 320.2L985.1 317.4L986 316M1066.8 244.6L1068.6 244.6L1069.8 246L1069.3 247.4L1067.2 247.9L1066.2 247.4L1065.6 246L1066.8 244.6"/>
</g>
<path fill="none" stroke="#000" stroke-width="2.20" stroke-linejoin="miter" d="M999.2 163.4L1018.2 147.1L1037.2 163.4"/>
<circle cx="1018.2" cy="271.2" r="107.6" fill="none" stroke="#000" stroke-width="2.60"/>
<g fill="#000"><circle cx="958.1" cy="241.8" r="3.7034418604651163"/><circle cx="950.3" cy="256.6" r="3.7034418604651163"/><circle cx="959.5" cy="257" r="3.7034418604651163"/><circle cx="953.3" cy="272" r="3.7034418604651163"/><circle cx="962.9" cy="269.3" r="3.7034418604651163"/><circle cx="956.3" cy="286.2" r="3.7034418604651163"/><circle cx="965.6" cy="290.4" r="3.7034418604651163"/><circle cx="960.8" cy="302.6" r="3.7034418604651163"/><circle cx="967.6" cy="313.8" r="3.7034418604651163"/><circle cx="977.7" cy="311.3" r="3.7034418604651163"/><circle cx="1078.7" cy="245.3" r="3.7034418604651163"/><circle cx="1076.6" cy="259" r="3.7034418604651163"/><circle cx="1086.2" cy="258.6" r="3.7034418604651163"/><circle cx="1072.9" cy="271.4" r="3.7034418604651163"/><circle cx="1080.1" cy="287.7" r="3.7034418604651163"/><circle cx="1070.5" cy="291.3" r="3.7034418604651163"/><circle cx="1066.4" cy="302.6" r="3.7034418604651163"/><circle cx="1075" cy="303.6" r="3.7034418604651163"/><circle cx="1059" cy="312.4" r="3.7034418604651163"/><circle cx="1068.4" cy="314.9" r="3.7034418604651163"/></g>
<path fill="#fff" stroke="#000" stroke-width="1.90" stroke-linejoin="round" d="M184.5 576.8L187.2 578.2L188.7 581.9L188.6 594.6L189.3 613.4L189.9 620.9L186.1 624.4L180.3 620.4L177.8 613.6L178.8 594.6L179 581.9L181.4 578.2Z"/>
<path fill="#fff" stroke="#000" stroke-width="1.90" stroke-linejoin="round" d="M409.9 576.8L407.2 578.2L405.7 581.9L405.8 594.6L405.1 613.4L404.5 620.9L408.3 624.4L414.1 620.4L416.6 613.6L415.6 594.6L415.4 581.9L413 578.2Z"/>
<clipPath id="c3"><circle cx="297.2" cy="595.4" r="107.6"/></clipPath>
<g clip-path="url(#c3)">
<circle cx="297.2" cy="595.4" r="107.6" fill="#b0dc83"/>
<path fill="#c6de46" fill-rule="evenodd" d="M185.3 483.5L409.1 483.5L409.1 531.8L403.8 525.5L401.6 521.3L400.2 515.7L400.2 510.1L399.3 508.5L396.5 508.4L385.3 510.1L375.5 508.3L372.7 508.4L370.7 510.1L370.1 512.9L371.2 517.1L372.7 520L381.1 532L383.9 534.7L388.1 536.2L396.5 536.8L404.9 538.8L407.7 538.5L409.1 537.7L409.1 707.3L185.3 707.3L185.3 483.5Z"/>
<path fill="#d8e025" fill-rule="evenodd" d="M237.7 484.9L239.3 483.5L242.6 483.8L248.6 487.7L276.5 503.1L288.8 511.5L293 513L295.8 512.3L301.6 507.3L308.6 503.1L311.6 500.3L314.1 494.7L315.2 483.5L346.9 483.5L347.2 486.3L346.6 490.5L342 501.4L340.9 505.9L341.3 511.5L342.8 515.7L344.8 518.5L353.2 524.6L357.3 529.3L375 553.4L382.5 566.8L386.7 572.8L390.9 576.3L397.9 579.1L400.7 581.1L409.1 592.9L409.1 601.7L406.3 606.6L404.2 612.2L400.7 625.1L398.9 634.6L398.9 643L401.4 652.8L398.2 663.9L398 673.7L397.2 679.3L395.9 683.5L393.6 687.7L389.7 691.9L383.9 696.6L373.9 701.7L365.8 707.3L249.2 707.3L244 705.1L239.8 704.6L235.7 705.4L231.6 707.3L201.3 707.3L198 687.7L198.1 680.7L197.6 677.9L196.1 675.1L190.6 668.1L189.6 665.3L190 662.5L195.6 652.8L196.3 648.6L195.9 644.4L194.2 638.8L192.3 634.8L185.3 627.7L185.3 622.4L187.6 620.6L192.3 618.1L194.4 615L195.9 598.2L197.4 591.2L205.5 573L208.8 557.6L213.4 549.2L215.8 543.6L219.3 526.9L220.6 522.7L232.4 497.5L235.7 488.3L237.7 484.9Z"/>
<path fill="#e6e214" fill-rule="evenodd" d="M252.9 524.1L254.4 524.1L255.9 525.5L259.1 533.9L266.6 543.6L269.1 547.8L270.6 553.4L270.7 564.6L272 567.6L274.8 569.4L280.4 569.5L288.8 567L294.4 566.3L300 566.8L311.2 570.2L314 570.2L316.8 569.1L319.8 566L322.2 556.2L324.5 552L334.5 539.4L336.4 538L339.2 537L343.4 536.8L347.6 537.3L354.6 540L361.5 545.4L368.9 554.8L377.6 570.2L385 588.4L387.2 598.2L388 615L384.5 641.6L379.9 656.9L380.4 668.1L379.7 673.7L377.8 677.9L374.5 682.1L368.6 687.7L362.9 692.1L358.7 694.3L354.6 695.6L339.2 699.2L328 700.6L308.4 702L293 699.7L265 700.3L256.6 699L242.6 694.2L225.9 690L221.7 687.8L219.1 684.9L212.4 665.3L211.7 661.1L211.2 650L207.2 637.4L205.3 629L203.8 608L204.3 601L205.5 594L208 585.6L216.5 564.6L222.1 554.8L227.3 547.9L231.5 543.7L243.5 536.7L246.7 533.9L248.8 531.1L251 525.8L252.9 524.1Z"/>
<path fill="#f5e100" fill-rule="evenodd" d="M344.8 546.4L349 545.4L354.6 546.6L360.1 550.4L365.7 557L371.6 566L376.4 575.8L380.2 587L382.2 596.8L382.8 606.6L382.7 615L381.6 623.4L379 636L376.2 643L369.1 654.1L367.6 658.3L364.7 670.9L362.7 675.1L359.9 679.3L357.2 682.1L353.2 685L339.2 690.3L326.6 693L309.8 694.7L283.2 693.2L267.8 693.1L259.4 692.1L253.9 690.5L249.6 688.6L234.7 679.3L232.1 676.5L230 672.3L228.9 666.7L228.5 658.3L227.3 654.5L224.8 651.4L217.5 644.2L212.6 636L209.5 626.2L208 615L208 602.4L210.9 588.4L219.9 567.4L225.9 558.5L232.9 551.8L239.8 548.5L245.4 547.5L249.6 547.7L252.4 548.4L255.7 550.6L257.7 553.4L258.6 556.2L260.9 571.6L263.6 580.2L266.4 583.9L285.7 599.6L287.8 602.4L287.9 605.2L284.3 612.2L283.9 616.4L290.1 633.2L291.6 635.3L294.4 637L297.2 636.1L298.6 634.6L302.6 626.2L308.4 620.4L310.3 617.8L311.3 613.6L310.5 606.6L311.8 602.4L317 594L325.2 586.3L328 582.9L330.8 576L334.1 561.8L335.6 557.6L339.8 550.6L342 548.3L344.8 546.4ZM293 578.6L295.8 577.6L300 577.8L302.8 578.9L305.6 580.9L308 584.2L308.6 587L308 589.8L307 591.2L304.2 593.2L298.6 594.8L294.4 594.8L291.6 593.6L288.9 589.8L288.4 585.6L290 581.4L293 578.6Z"/>
<path fill="#fbc600" fill-rule="evenodd" d="M346.8 552L349 551.3L351.8 551.1L354.6 551.8L357.3 553.4L362.9 558.7L369.1 567.4L373.5 575.8L377.3 587L379 595.4L379.6 605.2L378.8 619.2L377.3 626.2L375.1 633.2L372.7 637.8L369.9 641.1L365.7 644.4L357.3 649.4L354.6 652.7L352.3 659.7L351.8 670.9L349.8 675.1L344.8 679.2L333.6 684.7L326.6 687.1L321 688L286 687.4L269.2 688.3L260.8 686.6L253.8 683.2L247.9 677.9L243.2 670.9L242 666.7L240.6 656.9L237.8 650L233.6 645.8L223.1 640.9L218.9 637.4L215.3 631.8L212.4 623.4L211.1 616.4L210.6 608L211.1 601L212.3 594L216.5 581.4L221.2 571.6L224.5 566.2L231.5 558.6L234.3 556.6L238.5 554.7L242.6 553.9L245.4 554.1L248.2 554.9L251.7 557.6L253.8 561.5L255.2 566L261.5 598.2L262.7 602.4L269.2 611.7L274.7 624.8L285.6 640.2L291.6 652.4L294.4 655.8L295.8 656.4L298.6 656.6L307 654.5L311.2 652.5L315.4 647.9L318.4 643L319.9 638.8L321 630.4L325.2 614.9L327.8 610.8L332.2 606.6L333.6 603.3L334.5 584.2L336.1 573L338 564.6L339.6 560.4L342 556.3L344.7 553.4L346.8 552Z"/>
<path fill="#f8ac00" fill-rule="evenodd" d="M350.3 556.2L353.2 556.3L357.3 558.2L361.5 561.9L366 567.4L369.9 574L372.6 580L374.8 587L376.3 594L376.9 602.4L376.8 610.8L376.1 617.8L374.1 625.3L371.3 631.5L368.9 634.6L365.7 636.9L361.5 638.1L357.3 637.8L353.2 636.4L349 634.2L346.3 631.8L342.4 623.4L340.3 613.6L338 589.8L338.2 582.8L339.2 574.4L340.9 567.4L343.4 561.7L346.2 558.3L350.3 556.2ZM236.5 560.4L239.8 559.4L244 559.5L246.8 560.8L250.2 564.6L252.4 570.4L254.6 580L255.6 588.4L255.7 595.4L253.4 615L247.8 631.8L245 634.6L241.2 636.4L237.1 637.3L232.9 637.4L228.7 636.9L224.5 635.4L221.4 633.2L218.2 629L215.7 623.4L214.2 617.8L213.4 612.2L213.4 605.2L214.4 596.8L216.1 589.8L221.7 576.3L225.3 570.2L228.7 566.1L232.9 562.5L236.5 560.4ZM257.7 627.6L263.6 626.3L269.2 627.8L276.2 632.7L282.5 640.2L286.8 648.6L293 665.7L296.9 672.3L297.1 673.7L296.1 675.1L292.5 677.9L286 681.4L280.6 683.5L276.2 684.6L270.6 685L265 684.1L260.8 682.4L256.4 679.3L252.9 675.1L249.9 668.1L247.6 656.9L246.7 647.2L247.1 638.8L248.7 633.2L253.8 629.4L257.7 627.6ZM332.2 634.6L336.4 633.4L342 633.8L344.8 635.4L346.8 638.8L348 644.4L348.2 650L347 658.3L345.2 665.3L342.8 670.9L340.9 673.7L337.8 677.1L333.6 680.4L329.4 682.7L325.2 683.9L321 684.2L316.8 683.5L311.2 680.7L303.1 675.1L301.9 673.7L302.6 672.3L305.6 670.2L308.4 666.8L314.9 654.1L322.4 643.1L326.6 638.3L332.2 634.6Z"/>
<path fill="#f49200" fill-rule="evenodd" d="M349.8 561.8L353.2 561.4L355.9 562.3L360.1 565.3L363.5 568.8L367.1 574.2L369.4 578.6L371.5 584.2L373.3 591.2L374.3 598.2L374.5 605.2L374 612.2L372.7 619.1L371.2 623.4L368.5 628L365.7 630.5L362.9 631.6L360.1 631.7L357.3 631L353.9 629L350.9 626.2L346.6 619.2L343.8 609.4L341.2 591.2L341.6 578.6L343.1 571.6L344.8 567.3L347.6 563.3L349.8 561.8ZM238.5 564.6L242.6 564.8L245.4 566.3L247.6 568.8L249.5 573L251.4 580L252.4 587L251.7 599.6L248.7 613.6L246.3 619.2L243.7 623.4L240 627.6L237.1 629.9L232.9 631.4L228.7 631.4L225.9 630.4L223.1 628.5L220.3 625.1L218.1 620.6L216.1 610.8L216.6 599.6L219.7 587L225 575.8L227.9 571.6L231.5 568.1L235.7 565.5L238.5 564.6ZM260.6 631.8L263.6 630.9L267.8 631.2L270.6 632.1L274.8 634.8L281.1 641.6L283.5 645.8L285.8 651.4L288.6 662.5L288.8 666.7L288.3 670.9L286.4 675.1L284.6 677.3L281.8 679.5L277.6 681.5L273.4 682.4L269.2 682.4L265 681.4L262.2 680.1L259.1 677.9L256.5 675.1L252.8 668.1L251.3 662.5L250.2 655.5L250.5 645.8L251.7 641.6L253.8 637.3L256.6 634.2L260.6 631.8ZM330.9 638.8L335 637.6L337.8 637.7L340.6 638.9L343.4 641.7L345.1 645.8L345.7 650L345.3 655.5L344.1 661.1L340.8 669.5L337.8 673.7L335 676.6L330.8 679.5L326.6 681.2L322.4 681.6L319.6 681.1L315.4 678.6L313.1 675.1L312.2 669.5L313.1 663.9L316.4 655.5L320.7 648.6L326.6 641.7L330.9 638.8Z"/>
<path fill="#f07a00" fill-rule="evenodd" d="M351.4 567.4L354.6 567.2L357.3 568.3L360.1 570.4L362.9 573.4L365.7 577.7L368.1 582.8L371.1 594L371.6 606.6L370 616.4L368.5 620.1L366.2 623.4L364.3 624.9L361.5 625.8L358.7 625.4L355.9 624.1L351.8 619.9L348.4 613.6L345.9 603.8L344.1 589.8L344.7 580L346.1 574.4L347.6 571.1L349 569.1L351.4 567.4ZM236.1 570.2L238.5 569.8L241.2 570.1L244 571.9L245.8 574.4L247.6 578.6L249 584.2L249.5 589.8L249.2 595.4L246.7 608L244.7 613.6L242.6 617.5L239.8 621.1L237.1 623.7L234.3 625.3L230.1 626L225.9 624.5L223.3 622L221.6 619.2L219.5 612.2L219.3 602.4L221.7 590.2L225.9 580L230.1 574.2L232.9 571.8L236.1 570.2ZM261.8 634.6L265 633.8L267.8 634L272 635.6L274.8 637.5L280.4 643.8L284.4 652.8L286.4 662.5L285.8 669.5L284.7 672.3L282.8 675.1L279.5 677.9L276.2 679.4L273.4 680.1L269.2 680.1L265 679L262.2 677.5L259.4 675.2L257.2 672.3L254 665.3L252.2 654.1L253 645.8L254.6 641.6L256.3 638.8L259.2 636L261.8 634.6ZM330.2 641.6L333.6 640.4L336.4 640.3L339.2 641.3L342 644.2L343.2 647.2L343.8 651.4L342.8 659.7L339.6 668.1L336.7 672.3L333.9 675.1L328 678.6L323.8 679.4L321 679L317.1 676.5L315.4 673.6L314.6 668.1L315.4 662.5L317.4 656.9L321.5 650L326.3 644.4L330.2 641.6Z"/>
<path fill="#eb6103" fill-rule="evenodd" d="M352 575.8L354.6 574.6L355.9 574.7L360.1 577.4L364.3 584L367.1 592.5L368.3 602.4L367.4 610.8L365 616.4L361.5 618.9L360.1 619.1L357.3 618.3L354.6 616.1L351.8 611.8L349.6 605.2L348.2 595.4L348.2 587L349.6 580L352 575.8ZM233.5 577.2L235.7 576.1L238.5 575.9L241.2 577.1L242.6 578.6L244.2 581.4L245.4 585.1L246 592.6L244.2 603.8L241.2 611.9L237.1 617.3L234.3 619L231.5 619.6L229.3 619.2L227.3 617.9L225.1 615L223.5 609.4L223.4 603.8L224.5 595.4L227.3 585.6L230.1 580.6L233.5 577.2ZM262.1 637.4L265 636.5L267.8 636.6L273.4 639L276.2 641.4L279 644.9L282.7 652.8L284.4 661.1L283.9 668.1L282.8 670.9L280.4 674.3L277.6 676.4L274.8 677.6L269.2 678L263.6 676L259.4 672.1L256 665.3L254.3 656.9L254.6 648.6L255.8 644.4L257.3 641.6L259.4 639.1L262.1 637.4ZM332.2 643L335 642.6L337.8 643.4L339.2 644.4L341 647.2L342.1 652.8L340.8 661.1L337.8 668.1L333.6 673.2L328 676.6L325.2 677.2L322.4 677L319.1 675.1L316.9 670.9L316.5 666.7L317.5 661.1L319.8 655.5L323.8 649.5L328 645.2L332.2 643Z"/>
<path fill="#e44911" fill-rule="evenodd" d="M236.7 588.4L238.5 588.5L239.6 591.2L239.7 594L238.5 600.2L237.1 604L235.7 605.9L234.3 606.2L233.7 605.2L233.6 602.4L235.2 591.2L235.7 589.6L236.7 588.4ZM356.4 601L357.3 600.1L358.7 600.5L360.2 602.4L360.2 606.6L358.7 607.5L357.3 606.9L356.5 605.2L355.9 602.4L356.4 601ZM262.8 640.2L265 639.4L267.8 639.4L270.6 640.2L273 641.6L277.6 646.5L280.7 652.8L282.3 659.7L282 666.7L281 669.5L279.1 672.3L274.8 675.2L269.2 675.8L265 674.3L260.8 670.6L258 665.3L256.4 658.3L256.5 650L258.5 644.4L260.7 641.6L262.8 640.2ZM331.2 645.8L333.6 645.2L336.4 645.7L339.2 648.6L340.2 654.1L339.4 659.7L336.6 666.7L333.3 670.9L329.4 673.8L326.6 674.7L323.8 674.7L321 673.3L319.3 670.9L318.5 666.7L319.3 661.1L321 656.9L323.8 652.4L328 647.8L331.2 645.8Z"/>
<path fill="#de3519" fill-rule="evenodd" d="M265.8 643L269.2 643.2L273.4 645.8L276.2 649.2L279 655.5L280.1 661.1L279.4 666.7L276.7 670.9L273.4 672.8L269.2 673.1L265 671.3L262 668.1L259.6 662.5L258.8 655.5L259.4 649.7L260.8 646.5L262.2 644.8L265.8 643ZM329.9 650L333.6 648.8L335 649.2L336.4 650.4L337.5 654.1L337.2 658.3L335.3 663.9L332.6 668.1L328.8 670.9L325.2 671.4L323.7 670.9L321.7 668.1L321.3 665.3L321.7 662.5L322.5 659.7L325.2 654.9L329.9 650Z"/>
<path fill="#d72c1e" fill-rule="evenodd" d="M265.4 656.9L266.4 655.9L267.8 655.6L270.6 655.8L272 656.2L274.2 658.3L275.5 661.1L275.6 663.9L274.8 666.4L273.4 667.9L272 668.6L269.2 668.7L266.2 666.7L264.4 662.5L264.4 659.7L265.4 656.9Z"/>
<path fill="none" stroke="#000" stroke-width="1.25" stroke-linejoin="round" d="M246.2 512.9L252.4 512.2L258 512.3L263.6 513.7L266.6 515.7L267.8 517.5L268.6 519.9L268.2 529.7L268.5 532.5L269.4 535.3L272 539.4L278.7 547.8L283.2 556L286 557.8L293 558.2L302.8 556.9L307.9 554.8L312.6 551.3L316.8 546.9L319.8 542.2L321 538L320.6 531.1L321 528.3L323.8 522.5L326.6 520.1L328 520L329.4 520.6L334.3 525.5L337.8 527.8L349 532.6L354.6 535.8L360.1 540.4L366.6 547.8L374.8 560.4L389 588.4L391.2 594L392 599.6L392.7 615L390.2 630.4L388.8 647.2L386.6 658.3L387 672.3L386.8 676.5L386 679.3L383.9 683.1L381 686.3L376.9 689.7L365.1 697.5L358.7 700.1L340.6 704L309.8 706.2L305.6 705.8L297.2 703.3L293 702.8L266.4 704.7L260.8 704.4L256.6 703.4L242.6 698.4L237.1 697.7L225.9 697.4L221.7 696.8L217.5 695.2L213.8 691.9L211.7 687.7L209.2 676.5L205.7 668.1L204.5 663.9L204.4 661.1L205.7 650L202 627.6L201.3 606.6L202.3 596.8L204.5 588.4L210.5 574.1L215.2 560.4L233.1 528.3L236.8 518.5L239.8 515.2L242.6 513.8L246.2 512.9M344.8 546.4L349 545.4L351.8 545.6L354.6 546.6L360.1 550.4L365.7 557L371.6 566L376.4 575.8L380.2 587L382.2 596.8L382.8 606.6L382.7 615L381.6 623.4L379 636L376.2 643L369.1 654.1L367.6 658.3L364.7 670.9L362.7 675.1L359.9 679.3L357.2 682.1L353.2 685L347.6 687.5L339.2 690.3L326.6 693L309.8 694.7L283.2 693.2L267.8 693.1L259.4 692.1L253.9 690.5L249.6 688.6L234.7 679.3L232.1 676.5L230 672.3L228.9 666.7L228.5 658.3L227.3 654.5L224.8 651.4L217.5 644.2L214.7 640.1L212.6 636L209.5 626.2L208 615L208 602.4L209.4 594L210.9 588.4L214.1 580L219.9 567.4L222.3 563.2L225.9 558.5L230.1 554L232.9 551.8L235.7 550.1L239.8 548.5L245.4 547.5L249.6 547.7L252.4 548.4L255.7 550.6L257.7 553.4L258.6 556.2L260.9 571.6L262.2 577L263.6 580.2L266.4 583.9L273.4 589.2L280.4 595.7L285.7 599.6L287.8 602.4L287.9 605.2L284.3 612.2L283.9 616.4L290.1 633.2L291.6 635.3L294.4 637L297.2 636.1L298.6 634.6L302.6 626.2L308.4 620.4L310.3 617.8L311.3 613.6L310.5 606.6L311.8 602.4L317 594L325.2 586.3L328 582.9L330.8 576L334.1 561.8L335.6 557.6L339.8 550.6L342 548.3L344.8 546.4M293 578.6L295.8 577.6L300 577.8L302.8 578.9L305.6 580.9L308 584.2L308.6 587L308 589.8L307 591.2L304.2 593.2L298.6 594.8L294.4 594.8L291.6 593.6L290.2 592.2L288.9 589.8L288.4 585.6L290 581.4L293 578.6M349.9 553.4L351.8 553.3L354.6 554L357.3 555.5L360.1 557.9L365.7 564.4L371.3 573.7L375 582.8L377.2 591.2L378.2 599.6L378.4 610.8L377.7 617.8L376.2 624.8L374.1 631L371.3 636L368.5 638.9L365.7 640.8L361.5 642.3L354.6 643.3L353.2 643.9L351.8 645.7L347.1 668.1L346.2 670.9L344.5 673.7L340.2 677.9L333.6 682.5L328 684.9L322.4 686.1L318.2 686.1L308.4 684.7L297.2 684.1L287.4 684.5L276.2 686.4L270.6 686.7L263.6 685.6L259.4 684L256.3 682.1L251.8 677.9L248.4 672.3L247 668.1L244 653.1L242.6 648.7L241.2 646.1L239.6 644.4L237.3 643L225.9 639.4L221.7 637L219.2 634.6L217.3 631.8L213.8 623.4L212.4 616.4L211.8 609.4L212.1 602.4L213.2 595.4L215 588.4L217.7 581.4L221.7 573.2L225.2 567.4L231.5 560.9L235.7 558.1L238.5 556.9L242.6 556.3L245.4 556.7L248.2 558L250.7 560.4L252.4 563.6L253.8 567.4L257 582.8L258 591.2L258.4 606.6L259.1 610.8L260.1 613.6L262.1 616.4L276.2 630.3L282.2 637.4L286.4 644.4L293 658.8L295.8 661.2L300 661.6L307 660.2L309.8 658.3L314 652.9L323.8 638L330.4 629L332.8 624.8L335 618L336.6 609.4L336.8 602.4L336 587L337 577.2L338.5 568.8L340.6 562.5L343.4 557.7L346.2 555L349.9 553.4M348.5 561.8L351.8 560.7L354.6 561.1L358.7 563.5L362.9 567.6L366.8 573L369.7 578.6L371.8 584.2L373.6 591.2L374.6 598.2L374.8 605.2L374.4 612.2L373.1 619.2L371.3 624.2L368.5 628.8L365.7 631.3L362.9 632.4L360.1 632.5L355.9 631.1L353.2 629.3L350.4 626.5L348.2 623.4L346.2 619.3L343.6 610.8L340.9 592.6L340.9 581.4L342 574.4L343.6 568.8L346.2 564.1L348.5 561.8M236.5 564.6L239.8 563.8L242.6 564.1L245.4 565.5L248.2 568.9L250.4 574.4L252 581.4L252.8 588.4L252.6 595.4L250 610.8L248.1 616.4L245.3 622L242.2 626.2L238.5 629.8L234.3 631.8L230.1 632.2L225.9 631.1L223.1 629.3L220.4 626.2L218.9 623.4L217.2 619.2L216 613.6L215.7 608L216 602.4L218.4 589.8L223.1 578.5L225.9 573.8L228.7 570.2L232.9 566.5L236.5 564.6M259.5 631.8L262.2 630.8L266.4 630.5L269.2 631.2L273.4 633.4L277.6 636.9L280.4 640.2L283 644.4L285 648.6L288.4 659.7L289.2 665.3L289 669.5L287.7 673.7L285.9 676.5L282.7 679.3L279 681.3L274.8 682.5L270.6 682.8L267.8 682.4L263.6 681.2L260.4 679.3L257.3 676.5L255.2 673.7L253 669.5L251.3 663.9L250.1 656.9L249.7 651.4L250.2 645.8L251.3 641.6L253.3 637.4L256.6 633.6L259.5 631.8M334.4 637.4L337.8 637.4L340.6 638.4L343.4 641L345 644.4L345.8 648.6L345.9 652.8L344 662.5L342.4 666.7L340.2 670.9L336.8 675.1L333.6 677.9L330.8 679.8L326.6 681.4L322.4 681.9L319.6 681.4L315.4 679.1L312.7 675.1L312 672.3L311.9 669.5L313.2 662.5L314.8 658.3L317.7 652.8L323.8 644.2L329.4 639.2L334.4 637.4M350.6 570.2L353.2 569.2L355.9 569.6L358.7 571.1L361.5 573.7L364.3 577.5L366.4 581.4L368.5 587.3L369.9 592.6L370.8 603.8L369.6 613.6L368.5 616.9L366.5 620.6L364.3 622.7L361.5 623.7L357.3 622.9L352.9 619.2L349.6 613.6L347.2 605.2L345.4 592.6L345.4 584.2L346.2 579L347.6 574.5L349 571.9L350.6 570.2M237.6 571.6L239.8 571.7L242.6 573L245 575.8L246.3 578.6L248.3 587L248 596.8L245.4 608.5L244 612.3L241.8 616.4L238.5 620.6L235.7 622.7L232.9 623.9L230.1 624.1L227.3 623.2L225.5 622L223.2 619.2L221.8 616.4L220.3 609.4L220.8 599.6L223.1 589.2L224.9 584.2L227.3 579.7L231.7 574.4L234.3 572.7L237.6 571.6M260.9 636L263.6 634.9L266.4 634.7L269.2 635.2L273.4 637.2L276.2 639.5L279.2 643L281.7 647.2L283.4 651.4L285.7 661.1L285.8 665.3L285 669.5L283.9 672.3L281.8 675.1L279 677.4L276.2 678.7L273.4 679.4L269.2 679.5L263.6 677.6L259 673.7L257.1 670.9L255.1 666.7L253 656.9L252.9 651.4L253.4 647.2L254.8 643L256.3 640.2L258 638.1L260.9 636M331.8 641.6L335 641L337.8 641.5L340 643L342 645.7L342.9 648.6L343.3 652.8L341.9 661.1L340.4 665.3L338.1 669.5L333.6 674.7L330.8 676.7L326.6 678.4L323.8 678.7L321 678.2L318.2 676.5L316.8 674.7L315.7 672.3L315.2 666.7L316.3 661.1L319.4 654.1L323.2 648.6L328 643.7L331.8 641.6M234.3 584.2L237.1 583L238.5 583.3L239.8 584.3L241.4 587L242.2 592.6L241.2 599.4L238.5 607.8L235.7 611.2L232.9 612L231.5 611.5L230.1 609.8L229.2 605.2L231.5 589.8L232.9 586.2L234.3 584.2M355 592.6L355.9 592.2L357.3 592.4L360.1 594.2L361.5 595.9L363.2 599.6L363.7 603.8L363.2 608L361.8 610.8L360.1 611.9L358.7 611.9L357.3 611.4L355.9 610.1L354.6 607.9L353.7 605.2L353 601L353.1 596.8L353.9 594L355 592.6M264.6 638.8L269.2 639L272 640.2L274.8 642.3L279 647.8L282 655.5L283 662.5L282.8 665.3L281.8 669.1L280.4 671.6L278.4 673.7L276.2 675.2L273.4 676.2L270.6 676.4L267.8 676L263.2 673.7L259.4 669.4L256.6 662.4L255.7 654.1L256.6 647.1L258 643.9L259.8 641.6L262.2 639.6L264.6 638.8M329.9 645.8L332.2 644.8L335 644.5L337.8 645.7L339 647.2L340.6 651.4L340.2 658.3L337.9 665.3L334 670.9L329.4 674.4L326.6 675.3L323.8 675.4L321 674.2L319.3 672.3L318 668.1L318.2 663.9L319.6 659L322.4 653.6L326.4 648.6L329.9 645.8M264.5 644.4L267.8 643.9L269.7 644.4L272.1 645.8L274.8 648.5L276.2 650.6L278.3 655.5L279.5 661.1L279 666L277.1 669.5L273.4 672.1L269.2 672.5L265.6 670.9L262.8 668.1L260.7 663.9L259.4 657.1L259.8 651.4L261.5 647.2L262.5 645.8L264.5 644.4M332.7 650L335 650.6L336.4 652.8L336.4 658.3L335.2 662.5L333.6 665.6L330.8 668.7L328 670.3L325.2 670.4L323.7 669.5L322.3 666.7L322.4 663.1L323.5 659.7L325.2 656.5L328 652.8L330.8 650.6L332.7 650"/>
</g>
<path fill="none" stroke="#000" stroke-width="2.20" stroke-linejoin="miter" d="M278.2 487.6L297.2 471.3L316.2 487.6"/>
<circle cx="297.2" cy="595.4" r="107.6" fill="none" stroke="#000" stroke-width="2.60"/>
<g fill="#000"><circle cx="237.1" cy="566" r="3.7034418604651163"/><circle cx="229.3" cy="580.8" r="3.7034418604651163"/><circle cx="238.5" cy="581.2" r="3.7034418604651163"/><circle cx="232.3" cy="596.2" r="3.7034418604651163"/><circle cx="241.9" cy="593.5" r="3.7034418604651163"/><circle cx="235.3" cy="610.4" r="3.7034418604651163"/><circle cx="244.6" cy="614.6" r="3.7034418604651163"/><circle cx="239.8" cy="626.8" r="3.7034418604651163"/><circle cx="246.6" cy="638" r="3.7034418604651163"/><circle cx="256.7" cy="635.5" r="3.7034418604651163"/><circle cx="357.7" cy="569.5" r="3.7034418604651163"/><circle cx="355.6" cy="583.2" r="3.7034418604651163"/><circle cx="365.2" cy="582.8" r="3.7034418604651163"/><circle cx="351.9" cy="595.6" r="3.7034418604651163"/><circle cx="359.1" cy="611.9" r="3.7034418604651163"/><circle cx="349.5" cy="615.5" r="3.7034418604651163"/><circle cx="345.4" cy="626.8" r="3.7034418604651163"/><circle cx="354" cy="627.8" r="3.7034418604651163"/><circle cx="338" cy="636.6" r="3.7034418604651163"/><circle cx="347.4" cy="639.1" r="3.7034418604651163"/></g>
<path fill="#fff" stroke="#000" stroke-width="1.90" stroke-linejoin="round" d="M545 576.8L547.7 578.2L549.2 581.9L549.1 594.6L549.8 613.4L550.4 620.9L546.6 624.4L540.8 620.4L538.3 613.6L539.3 594.6L539.5 581.9L541.9 578.2Z"/>
<path fill="#fff" stroke="#000" stroke-width="1.90" stroke-linejoin="round" d="M770.4 576.8L767.7 578.2L766.2 581.9L766.3 594.6L765.6 613.4L765 620.9L768.8 624.4L774.6 620.4L777.1 613.6L776.1 594.6L775.9 581.9L773.5 578.2Z"/>
<clipPath id="c4"><circle cx="657.7" cy="595.4" r="107.6"/></clipPath>
<g clip-path="url(#c4)">
<circle cx="657.7" cy="595.4" r="107.6" fill="#b0dc83"/>
<path fill="#c6de46" fill-rule="evenodd" d="M545.8 483.5L769.6 483.5L769.6 707.3L545.8 707.3L545.8 483.5ZM754.2 505.7L751.4 506.5L748.6 508.9L739.9 519.9L738.3 522.7L737.6 525.5L738.4 529.7L741.3 533.9L745.8 537.2L751.4 538.9L755.6 538.7L757.8 538L759.5 536.7L760.2 533.9L759.5 524.1L759.4 511.5L757.5 507.3L755.6 505.9L754.2 505.7Z"/>
<path fill="#d8e025" fill-rule="evenodd" d="M615.4 484.9L615.9 483.5L641.6 483.5L644.3 489.1L649.3 494.2L654.9 496.8L661.9 498.7L666.1 498.3L674.5 494.7L678.7 493.7L689.9 493.7L694.1 495.1L705.3 504.3L710.9 510.4L713.3 515.7L714.7 525.5L717.6 531.1L723.3 538L737.1 553.4L744.4 563.3L751.8 571.6L757.7 581.4L761.2 584.6L766.8 587.3L769.6 589.3L769.6 596.4L764 605.5L760.7 613.6L760.5 619.2L762.3 627.6L762.6 631.8L758.4 647.2L760 668.1L755.3 686.3L751.6 696.1L750.2 704.5L749 707.3L605 707.3L599 705.5L586.4 705.6L576.6 702.9L566.8 702.8L564 700.9L561.5 697.5L558.9 691.9L555.9 682.1L550.5 673.7L549.7 670.9L551.2 665.3L556.8 654.1L557.7 650L553.8 630.4L552.4 610.8L552.7 606.6L557.5 592.6L562.6 582.9L566.5 571.6L572.5 561.8L574.9 556.2L576.2 549.2L576.3 535.3L579.2 526.9L585 520.4L587.8 516.3L592.9 503.1L594.7 500.3L598.8 497.5L605.9 494.8L610.1 492.3L613.2 489.1L615.4 484.9ZM654.9 522.6L650.7 523.6L648.1 525.5L647.7 528.3L649 531.1L652 533.9L655.5 535.3L660.2 535.3L663.4 533.9L664.4 532.5L664.6 531.1L663.4 526.9L661.9 523.9L660.5 522.7L659.1 522.3L654.9 522.6Z"/>
<path fill="#e6e214" fill-rule="evenodd" d="M608.7 529.7L611.5 529.3L614.3 530.6L620 539.4L628.3 545.8L631.7 549.2L638.3 560.4L641.5 564.6L646.5 569L650.7 570.9L673.1 571.3L675.9 570.8L678.7 569.4L681.5 566L684.8 554.8L688.1 549.2L696.9 541L701.1 538.3L703.9 537.4L709.5 537.8L716.4 541.5L722 546.3L729.6 554.8L734.1 561.8L739.9 574.4L746 594L747.1 601L746.4 613.6L746.5 626.2L742.9 644.4L741.8 662.5L739.2 673.7L737.3 679.3L734.6 683.3L731.3 686.3L723.4 691.8L719.2 694L694.1 700.2L687.1 700.5L673.1 699.8L657.7 700.6L638.1 698.1L621.3 699.3L615.7 698.5L599 694.8L592 692.6L586.8 689.1L579.7 680.7L576.8 676.5L574.9 672.3L574.3 668.1L574.5 659.7L573.8 654.6L566.3 636L564.2 627.6L563.7 619.2L565.9 595.4L567.9 588.4L573.2 574.4L589.2 545.5L592 541.6L596.2 537.5L604.5 531.7L608.7 529.7Z"/>
<path fill="#f5e100" fill-rule="evenodd" d="M601.2 546.4L604.5 546.2L608.7 547.4L612.9 550L616.6 553.4L619 557.6L624.1 575.2L626.9 581.1L636 594L646.7 602.4L649.1 605.2L649.1 608L647.5 613.6L648.5 616.4L650.7 618.7L653.5 620.4L659.1 622.3L663.3 621.6L667.5 619L670.4 615L670.7 610.8L667.5 600.1L666.1 597.5L663.3 595.5L654.9 591.6L652.3 588.4L651.7 585.6L652.1 584.2L654.1 581.4L657.7 579.5L663.3 579.1L668.9 581.2L675.9 586L678.7 587.3L682.9 588.1L685.7 587.5L688.5 585L689.9 581.8L691.3 575.7L693.2 561.8L694.4 557.6L696.9 553L701.1 548.6L706.7 545.8L709.5 545.5L712.3 545.9L717.8 548.7L724.8 555.2L727.8 559L731.1 564.6L737.2 578.6L741.8 595.4L742.5 601L742.5 606.6L741.7 622L740.1 630.4L738 636L731.3 650L726.2 672.3L723.8 676.5L719.7 680.7L713.7 685.4L708.1 688L689.9 692.6L681.5 693.5L657.7 693.7L639.5 691.8L618.5 691.4L611.5 690L604.4 687.7L599.2 684.9L596.2 682.1L587.5 669.5L585.8 665.3L581.8 651.4L573.2 636L570.8 630.4L569 620.6L568.9 605.2L569.7 596.8L571.3 589.8L574.9 580L578.9 571.6L585 561.5L590.6 554L596.2 548.8L601.2 546.4Z"/>
<path fill="#fbc600" fill-rule="evenodd" d="M706.6 552L710.9 551.2L713.7 551.7L716.4 552.9L722 557.2L726.7 563.2L731.1 571.6L735.5 582.8L738.4 594L739.4 603.8L738.4 620.6L736 629.4L733.2 634.5L730.4 638L719.4 647.2L716.4 650.5L713.7 657.4L710.6 669.5L707.8 675.1L703.6 679.3L696.9 683.3L688.5 686.8L682.9 687.8L670.3 686.8L657.7 687.2L646.5 686.6L635.3 687.4L628.3 687.2L618.7 684.9L610.1 680.5L604.7 675.1L599.6 666.7L598.2 662.5L596.9 654.1L595.5 650L593.2 647.2L585 641.2L579.4 635.7L575.2 629L573.2 622L571.9 606.6L572.2 599.6L573.2 594L575.8 585.6L578.7 578.6L583.2 570.2L587.8 563.5L593.4 557.7L597.6 555L600.3 554.1L603.1 553.9L605.9 554.5L608.7 555.9L611.5 558.5L613.7 561.8L615.5 566L619.3 580L620.3 588.4L620.2 603.8L621.3 608.9L623 610.8L629.7 614.7L636.7 623.2L645.9 638.8L652.1 652.1L654.9 656.2L657.7 657.2L667.5 656.9L670.3 656L671.7 654.8L674.5 650.8L677.3 645.3L678.5 640.2L677.4 631.8L678.1 626.2L684.3 613.2L689.9 604.4L692.7 598.4L695.1 588.4L697.1 567.4L698.9 560.4L702.5 554.9L706.6 552Z"/>
<path fill="#f8ac00" fill-rule="evenodd" d="M707 557.6L710.9 556.3L715.1 557L719.2 559.5L722.8 563.2L726.2 568.4L730.5 577.2L733.6 585.6L735.7 594L736.5 599.6L736.6 606.6L735.8 616.4L734.4 623.4L731.8 629L729 632.4L726.2 634.5L722 636.1L717.8 636.2L713.7 634.7L709.5 631.8L707 629L704.7 624.8L703.1 620.6L699.3 605.2L698.5 595.4L700.5 570.2L702.5 563.1L704 560.4L707 557.6ZM598.1 560.4L603.1 560.1L605.9 561.2L608.7 563.5L612.7 570.2L615.1 578.6L615.9 585.6L615.8 591.2L611.5 620.6L611 627.6L611.5 629.6L618.5 626.6L622.7 625.8L628.3 626.4L633.9 629.2L639.5 634.5L645 643L647.5 648.6L652.1 663.7L653.5 666.6L654.9 668.1L656.3 668.6L666.1 669.4L667.5 669.1L670.3 665.9L679.2 648.6L687.1 637.7L689.9 635.3L694.1 633.4L698.3 633.5L701.1 634.6L703.9 636.8L706.4 641.6L707.7 647.2L707.8 654.1L706.1 662.5L703.4 669.5L699.9 675.1L696.9 678.3L689.9 682.6L684.3 684.1L680.1 683.8L677.3 683L673.3 680.7L668.9 677.3L666.1 676.8L660.5 678L652.1 678.5L640.9 683.2L632.5 684.5L626.9 683.8L622.7 682.4L618.5 679.9L614.9 676.5L610.5 669.5L607.9 659.7L607.8 648.6L610 631.8L608.7 631.6L602.8 634.6L597.6 636.2L592 636.4L587.8 635.2L583.6 632.6L579.4 627.6L577 622L575.5 615L574.7 606.6L574.9 599.6L576.2 592.6L579.2 584.2L583.6 575.4L589.2 567.2L593.4 563L598.1 560.4Z"/>
<path fill="#f49200" fill-rule="evenodd" d="M711.9 561.8L715.1 562.2L717.8 563.8L720.6 566.4L723.4 570.3L729.6 582.8L733.2 595.5L733.8 601L733.6 608L732.8 615L731.6 620.6L729.6 624.8L727.6 627.3L724.8 629.2L722 630.1L717.8 629.5L715.1 628L712.3 625.3L709.8 622L705.5 612.2L702.3 599.6L702.2 588.4L704.6 570.2L707.1 564.6L709.5 562.6L711.9 561.8ZM597.5 566L600.3 565.5L603.1 566L605.9 567.8L608.7 571.3L610.7 575.8L612 581.4L612.3 592.6L611.1 601L609.5 608L607 616.4L604.5 622.2L601.8 626.2L599 628.5L596.2 629.8L592 630.3L589.2 629.7L585.4 627.6L582.8 624.8L581.2 622L579.4 617L578 610.8L577.5 605.2L577.6 599.6L579.9 589.8L585 579L589 573L592 569.7L594.8 567.4L597.5 566ZM623.6 630.4L626.9 630.2L629.7 630.7L633.9 632.7L636.7 634.9L640.1 638.8L642.8 643L645.4 648.6L647.2 654.1L649 665.3L648.8 669.5L648.1 672.3L646.6 675.1L644.1 677.9L640.9 680.1L636.7 681.6L632.5 682.1L628.3 681.7L624.1 680.3L620.3 677.9L617.1 674.8L614.5 670.9L611.3 662.5L610.5 656.9L610.4 651.4L612.3 641.6L614.3 637.3L617.1 633.7L619.9 631.7L623.6 630.4ZM692.2 638.8L695.5 638.1L698.3 638.7L701.1 640.3L703.2 643L704.5 645.8L705.4 650L705.5 654.1L704.7 659.7L702.9 665.3L700.9 669.5L698.3 673.5L695.5 676.5L692.7 678.6L688.5 680.7L684.3 681.5L681.5 681.2L677.3 679.2L674.2 675.1L673.2 670.9L673.8 665.3L676.8 656.9L681.5 648.5L687.1 641.9L692.2 638.8Z"/>
<path fill="#f07a00" fill-rule="evenodd" d="M712.2 570.2L713.7 569.8L716.4 570.6L719.2 572.9L722 576.5L727.5 587L729.8 595.4L730.3 603.8L728.9 615L727.6 618.8L726.2 621.1L724.8 622.5L722 623.8L719.2 623.6L716.4 622.2L712.5 617.8L708.5 609.4L705.8 599.6L705.4 591.2L706.7 582.1L709.5 573.1L712.2 570.2ZM596.1 573L599 572.1L601.7 572.3L604.5 574.1L605.9 575.9L607.3 578.6L608.7 584.2L608.8 594L606.3 606.6L601.8 617.8L597.6 622.7L594.8 624.1L592 624.3L589.2 623.4L587.2 622L583.6 616.4L581.1 608L580.8 599.6L582.2 592.6L586.4 583.6L590.6 577.8L596.1 573ZM624.6 633.2L628.3 633.1L631.1 633.9L636.7 637.8L639.5 641.1L642.3 645.8L645.7 655.5L646.7 663.9L645.6 670.9L644.2 673.7L641.8 676.5L638.1 678.8L635.3 679.7L632.5 680L628.3 679.5L624.1 677.9L621.3 676L616.9 670.9L614.7 666.7L613.3 662.5L612.3 652.8L613 647.2L614.3 643L616.5 638.8L618.5 636.3L621.3 634.3L624.6 633.2ZM692.3 641.6L695.5 641.2L698.3 642L699.7 643L701.9 645.8L703 648.6L703.6 652.8L702.9 659.7L699.8 668.1L695.5 674.1L689.9 678L685.7 679.1L682.9 679L678.7 676.9L676.5 673.7L675.6 668.1L676.5 662.5L679.2 655.5L682.9 649.4L687.1 644.6L692.3 641.6Z"/>
<path fill="#eb6103" fill-rule="evenodd" d="M595.3 582.8L599 581.5L602 582.8L604 587L604.6 594L603.1 602.4L600.3 609.8L597.6 614.2L596.2 615.4L593.4 616.4L590.6 615.2L587.8 611.2L586 605.2L585.8 599.6L586.5 595.4L588.9 589.8L592 585.7L595.3 582.8ZM712.6 585.6L715.1 584.2L717.8 585.1L720.9 588.4L723.6 594L724.5 599.6L723.9 606.6L722.5 612.2L720.6 614.2L717.8 613.9L715.1 611.1L712.3 605.8L710.9 601.8L709.9 596.8L710 592.6L710.9 588.5L712.6 585.6ZM623.8 636L626.9 635.5L629.7 635.9L632.5 637L635.3 639.1L640.4 645.8L643.7 654.1L644.9 662.5L643.9 669.5L640.9 674.3L638.1 676.4L635.3 677.5L632.5 678L628.3 677.5L622.7 674.7L618.1 669.5L615.2 662.5L614.1 654.1L615.4 645.8L618.5 639.7L621.3 637.2L623.8 636ZM691.7 644.4L694.1 643.9L696.6 644.4L699.9 647.2L701.2 650L701.7 652.8L701.7 656.9L700.9 661.1L697.9 668.1L693.3 673.7L688.5 676.4L685.7 676.9L682.9 676.6L680.1 674.8L678 670.9L677.7 666.7L678.7 661.4L681.1 655.5L684.3 650.4L688.5 646.1L691.7 644.4Z"/>
<path fill="#e44911" fill-rule="evenodd" d="M623.6 638.8L628.3 638.1L631.1 638.9L633.9 640.7L638.1 645.6L641.4 652.8L642.9 659.7L642.6 666.7L641.6 669.5L639.8 672.3L635.3 675.3L629.7 675.7L624.1 673.3L619.9 668.9L617.1 663L615.9 655.5L616.6 648.6L618.9 643L621.3 640.2L623.6 638.8ZM689.5 648.6L691.3 647.6L694.1 647.2L697 648.6L698.3 650.1L699.3 652.8L699.5 658.3L697.4 665.3L694.1 670.3L689.9 673.5L685.7 674.4L683.4 673.7L681.5 672.1L680.1 668.7L680.1 664.7L681.4 659.7L682.9 656.4L685.7 652.1L689.5 648.6Z"/>
<path fill="#de3519" fill-rule="evenodd" d="M624.3 641.6L628.3 641L632.5 642.9L636.7 648L639.5 654.1L640.9 661.1L640.2 666.7L637.7 670.9L633.9 673.1L629.7 673.3L625.5 671.6L621.9 668.1L619.1 662.5L617.9 655.5L618.5 649.6L620.9 644.4L624.3 641.6ZM690 655.5L692.7 654.4L694.1 654.9L695.5 657.3L695.5 661.4L694.1 665.3L692 668.1L689.9 669.8L687.1 670.4L685.2 669.5L684.2 668.1L684.1 663.9L685.7 660.4L690 655.5Z"/>
<path fill="#d72c1e" fill-rule="evenodd" d="M626.4 645.8L628.3 645.9L631.7 648.6L635.3 654.2L637.4 659.7L637.7 663.9L636.8 666.7L635.3 668.6L632.5 670L628.3 669.6L625.5 667.8L622.7 663.9L621.4 659.7L621 655.5L621.5 651.4L623.8 647.2L626.4 645.8Z"/>
<path fill="none" stroke="#000" stroke-width="1.25" stroke-linejoin="round" d="M610.9 511.5L614.3 510.4L617.1 510.6L621.3 512.7L624.6 515.7L626.8 519.9L627.9 526.9L629.5 531.1L642.5 549.2L647.9 559.3L650.7 562.3L653.5 563.9L656.3 564.4L659.1 564.3L668.9 562.6L671.7 561.4L673.7 559L677.2 550.6L680.4 546.4L695.5 533.2L698.3 531.3L701.1 530.4L703.9 530.4L708.1 531.8L715.1 536.5L723.4 544.3L732.5 554.8L736.8 561.8L742.5 573L750.5 595.4L751.2 599.6L749.6 613.6L750.5 627.6L748.5 643L749.7 656.9L749.2 665.3L747.4 673.7L745.2 680.7L742 686.3L738.8 689.3L727.6 696.2L723.4 698.3L719.2 699.3L709.5 700.5L699.7 703.9L695.5 704.9L689.9 704.9L674.5 703.1L657.7 704.4L639.5 701.7L621.3 703.8L615.7 703.1L604.5 699.9L592 697.7L587.8 696.6L583.8 694.7L579.5 691.9L575.2 688.6L572.4 685.7L567.6 676.5L565.7 670.9L565.9 666.7L568.7 659.7L569 655.5L568.1 651.4L562.2 636L560.2 626.2L560.2 617.8L563.2 595.4L564.8 589.8L570.7 574.4L578.2 560.4L587.2 539.4L589.2 536.7L596.8 528.3L604.5 516.8L607.3 513.9L610.9 511.5M601.2 546.4L604.5 546.2L608.7 547.4L612.9 550L616.6 553.4L619 557.6L624.1 575.2L626.9 581.1L633.6 591.2L636 594L646.7 602.4L649.1 605.2L649.1 608L647.9 611L647.5 613.6L648.5 616.4L650.7 618.7L653.5 620.4L659.1 622.3L663.3 621.6L667.5 619L670.4 615L670.7 610.8L667.5 600.1L666.1 597.5L663.3 595.5L657.7 593.3L654.9 591.6L652.3 588.4L651.7 585.6L652.1 584.2L654.1 581.4L657.7 579.5L660.5 579L663.3 579.1L668.9 581.2L675.9 586L678.7 587.3L682.9 588.1L685.7 587.5L688.5 585L689.9 581.8L691.3 575.7L693.2 561.8L694.4 557.6L696.9 553L701.1 548.6L703.9 546.8L706.7 545.8L709.5 545.5L712.3 545.9L717.8 548.7L724.8 555.2L727.8 559L731.1 564.6L737.2 578.6L741.8 595.4L742.5 601L742.5 606.6L741.7 622L740.1 630.4L738 636L731.3 650L726.2 672.3L723.8 676.5L719.7 680.7L713.7 685.4L708.1 688L689.9 692.6L681.5 693.5L657.7 693.7L639.5 691.8L624.1 691.9L618.5 691.4L611.5 690L604.4 687.7L599.2 684.9L596.2 682.1L587.5 669.5L585.8 665.3L583.3 655.5L581.8 651.4L573.2 636L570.8 630.4L569.7 626.2L569 620.6L568.9 605.2L569.7 596.8L571.3 589.8L574.9 580L578.9 571.6L585 561.5L590.6 554L596.2 548.8L601.2 546.4M706.2 554.8L708.1 553.9L710.9 553.5L713.7 553.8L716.4 555L721.7 559L726 564.6L731 574.4L735.1 585.6L737.7 596.8L738.2 605.2L737.5 616.4L736.4 623.4L734.6 628.4L731.8 633.1L727.6 637.2L723.4 639.7L719.2 641L712.3 641.4L710.9 642.8L710 652.8L708.8 659.7L705.8 669.5L702.7 675.1L698.7 679.3L694.1 682.5L688.5 684.9L682.9 686L678.7 685.7L671.7 683.8L667.5 683.4L659.1 684L649.3 683.7L636.7 685.8L629.7 685.9L622.7 684.4L615.9 680.7L612.6 677.9L610.3 675.1L606.5 668.1L605 662.5L604.2 647.2L603.1 643.6L600.3 642.2L590.6 640.3L585 637.5L582.2 635.3L579.1 631.8L576.7 627.6L575.2 623.3L573.9 616.4L573.2 608L573.3 601L574.1 595.4L576 588.4L578.7 581.4L582.2 574.6L586.4 567.9L592 561.3L596.2 558.2L599 557.1L601.7 556.6L604.5 557L607.3 558.3L610.1 560.7L612.7 564.6L614.5 568.8L616.6 575.8L617.8 582.8L618.1 591.2L616.4 610.8L616.6 613.6L617.4 616.4L618.5 617.9L619.9 618.8L626.9 621.3L631.1 623.7L635.3 627L638.1 629.9L641.6 634.6L645.8 641.6L648.4 647.2L652.1 657.1L653.5 659.7L654.9 661.1L657.7 662L667.5 661.9L670.3 660.4L671.7 658.8L681.4 641.6L683.1 637.4L684.3 630.4L686.2 626.2L688.5 623.6L694.1 620.2L695.8 617.8L696.3 613.6L695.8 599.6L698.9 567.4L701.1 560.4L702.9 557.6L706.2 554.8M709.3 561.8L712.3 561.1L715.1 561.5L719.2 564.2L722 567.4L726.2 574.4L729 580.4L731.8 588.2L733.3 594L734 599.6L734 606.6L733.2 615L732 620.6L730.2 624.8L727.6 628.1L724.8 630L722 630.8L719.2 630.7L715.3 629L712.3 626.3L710 623.4L706 615L702.4 602.4L701.6 592.6L703.5 573L705.5 566L707.5 563.2L709.3 561.8M596 566L599 565L603.1 565.3L605.9 566.9L608.7 570.2L610.7 574.4L612.2 580L612.8 585.6L612.8 591.2L612 598.2L610.3 606.6L607.3 616.9L604.6 623.4L601.7 627.2L599 629.3L596.2 630.5L592 630.9L587.8 629.8L585 628L582.2 624.8L580.8 622.2L579.1 617.8L577.9 612.2L577.2 606.6L577.2 601L577.9 595.4L579.1 591.2L583.6 580.7L586.5 575.8L590.6 570.5L593.4 567.8L596 566M621.9 630.4L625.5 629.7L628.3 630L632.5 631.5L635.3 633.4L639.3 637.4L642.2 641.6L644.5 645.8L646.6 651.4L648.4 658.3L649.2 663.9L649.3 668.1L648.6 672.3L647.2 675.1L644.7 677.9L640.9 680.4L638.1 681.5L633.9 682.3L629.7 682.2L625.5 681.1L621.9 679.3L618.5 676.7L615.9 673.7L613.4 669.5L611.8 665.3L610.5 659.7L610.1 654.1L610.4 648.6L611.6 643L613.1 638.8L615.7 634.6L618.5 632.1L621.9 630.4M691.2 638.8L694.1 637.8L696.9 637.8L699.7 638.8L702.7 641.6L704.8 645.8L705.6 650L705.7 654.1L704.9 659.7L703.1 665.3L701.2 669.5L698.4 673.7L695.8 676.5L692.7 678.9L688.5 680.9L684.3 681.7L681.5 681.5L678.7 680.5L676.8 679.3L675.4 677.9L673.7 675.1L672.9 670.9L673.6 665.3L676.6 656.9L681.2 648.6L685.7 642.9L688.5 640.4L691.2 638.8M712.7 574.4L715.1 573.9L716.4 574.3L720.6 578L724.8 584.6L728.2 594L728.9 602.4L727.6 613.4L726.2 617.5L725.2 619.2L723.4 620.8L722 621.4L720.6 621.6L717.8 620.7L713.7 616.7L709.5 608.1L707.1 599.6L706.6 592.6L707.8 584.2L709.6 578.6L710.9 576.2L712.7 574.4M595.6 575.8L597.6 574.9L600.3 574.6L603.1 575.8L604.6 577.2L606.1 580L607.3 584.2L607.8 588.4L607.6 594L605.9 603.8L601.6 615L599.9 617.8L597.6 620.4L594.8 622L592 622.1L589.2 621L587.8 619.8L585 615.6L583.6 612L582.3 606.6L582 599.6L583.5 592.6L586.4 586.3L590.6 580.3L595.6 575.8M622.7 634.6L625.5 633.8L629.7 634.2L632.5 635.4L635.3 637.3L640.1 643L642.4 647.2L644.1 651.4L646 661.1L646.1 665.3L645.3 669.5L644.2 672.3L642.2 675.1L639.5 677.3L636.7 678.6L633.9 679.2L629.7 679.2L626.9 678.5L623.1 676.5L619.9 673.9L617.6 670.9L614.3 663.9L613.3 659.7L612.9 654.1L614 645.8L615.6 641.6L617.4 638.8L619.9 636.2L622.7 634.6M690.8 643L694.1 642L696.9 642.4L699.7 644.1L701 645.8L702.3 648.6L702.9 651.4L703 655.5L702.4 659.7L699.7 667.3L697.4 670.9L695 673.7L691.4 676.5L688.5 677.9L685.7 678.4L682.9 678.3L679.5 676.5L677.3 673.6L676.3 669.5L676.8 663.9L679.1 656.9L682.9 650.3L687.1 645.5L690.8 643M626.7 637.4L629.7 637.7L632.1 638.8L636.7 642.8L640.9 650L642.9 656.9L643.4 663.9L642.2 669.5L639.1 673.7L636.7 675.3L633.9 676.2L631.1 676.4L628.3 675.9L625.5 674.8L622.7 672.8L618.5 667.5L617 663.9L615.9 659.7L615.4 655.5L615.6 651.4L617.5 644.4L619.2 641.6L621.3 639.4L624.1 637.9L626.7 637.4M690.4 647.2L694.1 646.3L696.7 647.2L698.3 648.6L700 652.8L700.2 655.5L699.8 659.7L697.2 666.7L694.1 671.1L689.9 674.1L687.1 675L684.3 674.9L681.5 673.2L680 670.9L679.3 666.7L679.9 662.5L681.5 658L684.3 653L687.1 649.6L690.4 647.2M623.2 643L626.9 641.6L631.1 642.8L635.3 646.9L638.4 652.8L640.2 659.7L640.1 665.3L638.1 669.7L636.7 671.1L634.5 672.3L632.5 672.8L629.7 672.7L625.5 671L622.5 668.1L619.9 663.5L618.5 657.6L618.7 651.4L619.9 647.1L621.3 644.8L623.2 643M689.7 661.1L692.7 660.2L693.4 662.5L692.7 665.3L689.9 668.3L687.1 668.5L685.7 666.7L685.8 665.3L687.1 662.9L689.7 661.1"/>
</g>
<path fill="none" stroke="#000" stroke-width="2.20" stroke-linejoin="miter" d="M638.7 487.6L657.7 471.3L676.7 487.6"/>
<circle cx="657.7" cy="595.4" r="107.6" fill="none" stroke="#000" stroke-width="2.60"/>
<g fill="#000"><circle cx="597.6" cy="566" r="3.7034418604651163"/><circle cx="589.8" cy="580.8" r="3.7034418604651163"/><circle cx="599" cy="581.2" r="3.7034418604651163"/><circle cx="592.8" cy="596.2" r="3.7034418604651163"/><circle cx="602.4" cy="593.5" r="3.7034418604651163"/><circle cx="595.8" cy="610.4" r="3.7034418604651163"/><circle cx="605.1" cy="614.6" r="3.7034418604651163"/><circle cx="600.3" cy="626.8" r="3.7034418604651163"/><circle cx="607.1" cy="638" r="3.7034418604651163"/><circle cx="617.2" cy="635.5" r="3.7034418604651163"/><circle cx="718.2" cy="569.5" r="3.7034418604651163"/><circle cx="716.1" cy="583.2" r="3.7034418604651163"/><circle cx="725.7" cy="582.8" r="3.7034418604651163"/><circle cx="712.4" cy="595.6" r="3.7034418604651163"/><circle cx="719.6" cy="611.9" r="3.7034418604651163"/><circle cx="710" cy="615.5" r="3.7034418604651163"/><circle cx="705.9" cy="626.8" r="3.7034418604651163"/><circle cx="714.5" cy="627.8" r="3.7034418604651163"/><circle cx="698.5" cy="636.6" r="3.7034418604651163"/><circle cx="707.9" cy="639.1" r="3.7034418604651163"/></g>
<path fill="#fff" stroke="#000" stroke-width="1.90" stroke-linejoin="round" d="M905.5 576.8L908.2 578.2L909.7 581.9L909.6 594.6L910.3 613.4L910.9 620.9L907.1 624.4L901.3 620.4L898.8 613.6L899.8 594.6L900 581.9L902.4 578.2Z"/>
<path fill="#fff" stroke="#000" stroke-width="1.90" stroke-linejoin="round" d="M1130.9 576.8L1128.2 578.2L1126.7 581.9L1126.8 594.6L1126.1 613.4L1125.5 620.9L1129.3 624.4L1135.1 620.4L1137.6 613.6L1136.6 594.6L1136.4 581.9L1134 578.2Z"/>
<clipPath id="c5"><circle cx="1018.2" cy="595.4" r="107.6"/></clipPath>
<g clip-path="url(#c5)">
<circle cx="1018.2" cy="595.4" r="107.6" fill="#4553aa"/>
<path fill="#455cae" fill-rule="evenodd" d="M906.3 483.5L1130.1 483.5L1130.1 707.3L906.3 707.3L906.3 483.5ZM1012.6 667.6L1010.5 669.5L1010.5 670.9L1011.2 671.3L1014.3 670.9L1016.1 669.5L1016.6 668.1L1015.4 667L1012.6 667.6Z"/>
<path fill="#4267b1" fill-rule="evenodd" d="M906.3 483.5L1130.1 483.5L1130.1 707.3L906.3 707.3L906.3 483.5ZM1014 664.9L1011.2 666.2L1008.4 668.8L1007.5 670.9L1008.4 672.8L1011.2 673.4L1014 672.8L1016.8 671.2L1018.5 669.5L1019.3 666.7L1018.4 665.3L1016.8 664.7L1014 664.9Z"/>
<path fill="#477cbe" fill-rule="evenodd" d="M906.3 483.5L1130.1 483.5L1130.1 707.3L906.3 707.3L906.3 483.5ZM1012.6 663.6L1008.4 666.5L1006 669.5L1005.4 672.3L1007 674.3L1009.8 674.8L1014.7 673.7L1019 670.9L1021 668.1L1021.1 665.3L1019.6 663.5L1016.8 662.7L1012.6 663.6Z"/>
<path fill="#5598ce" fill-rule="evenodd" d="M906.3 483.5L1130.1 483.5L1130.1 707.3L906.3 707.3L906.3 483.5ZM1014 661.1L1009.8 663.3L1005 668.1L1003.4 672.3L1003.7 673.7L1005.1 675.1L1008.4 676L1014 675.1L1018.2 673L1021.7 669.5L1023 665.3L1021.6 662.5L1018.2 660.8L1014 661.1Z"/>
<path fill="#67b2dd" fill-rule="evenodd" d="M906.3 483.5L1130.1 483.5L1130.1 707.3L906.3 707.3L906.3 483.5ZM1015.4 658.1L1012.6 659.1L1009.8 660.9L1004.1 666.7L1002.3 669.5L1001.5 672.3L1001.6 673.7L1002.8 675.5L1004.4 676.5L1007 677.1L1014 676.1L1019.6 673.2L1023.2 669.5L1024.6 665.3L1023.8 662.1L1022.4 660.3L1019.6 658.5L1015.4 658.1Z"/>
<path fill="#77c2e2" fill-rule="evenodd" d="M906.3 483.5L1130.1 483.5L1130.1 707.3L906.3 707.3L906.3 483.5ZM1016.8 652.7L1012.6 654.7L1009.8 656.9L1005.6 661.5L1001.8 666.7L1000.3 669.5L999.6 672.3L1000.1 675.1L1001.4 676.7L1004.2 677.9L1007 678.3L1014 677.2L1020.7 673.7L1024.6 669.5L1026.2 665.3L1026 662.5L1025.2 660.5L1021 654L1019.6 652.8L1016.8 652.7Z"/>
<path fill="#85cee3" fill-rule="evenodd" d="M906.3 483.5L1130.1 483.5L1130.1 707.3L906.3 707.3L906.3 483.5ZM1025.2 615.6L1022.4 618.3L1020.4 623.4L1019.5 629L1019.5 638.8L1018.5 643L1015.4 647L1008.3 652.8L1004.5 656.9L998 669.5L997.4 672.3L997.8 675.1L998.6 676.5L1001.4 678.5L1004.2 679.3L1008.4 679.3L1012.6 678.7L1016.8 677.2L1020.6 675.1L1023.8 672.4L1026.1 669.5L1027.4 666.7L1027.8 662.5L1025.9 655.5L1025.7 651.4L1027 641.6L1029.6 629L1030.3 622L1029.4 617.8L1028.5 616.4L1026.6 615.3L1025.2 615.6Z"/>
<path fill="#91d8e0" fill-rule="evenodd" d="M906.3 483.5L1130.1 483.5L1130.1 707.3L906.3 707.3L906.3 483.5ZM1011.2 491.8L1006.9 493.3L1004.3 496.1L1004.1 497.5L1004.7 498.9L1006.1 500.3L1011.2 502.2L1021 502.9L1026.6 504.5L1028 504.6L1029.4 503.8L1030.3 500.3L1029.4 497.7L1027.5 496.1L1016.9 491.9L1011.2 491.8ZM1023.8 607.9L1020.3 610.8L1017.8 616.4L1016.2 624.8L1015.8 637.4L1014.5 641.6L1012.4 644.4L1001.5 654.1L998.7 658.3L997.1 662.5L995 670.9L995.4 675.1L997.2 678L1001.4 680.2L1005.6 680.7L1009.8 680.4L1018.2 677.9L1022.4 675.3L1025.2 672.8L1027.6 669.5L1029 666.7L1029.6 662.5L1028.8 652.8L1033 624.8L1033.2 619.2L1032 613.6L1029.4 609L1026.6 607.5L1023.8 607.9Z"/>
<path fill="#9adbca" fill-rule="evenodd" d="M906.3 483.5L1130.1 483.5L1130.1 707.3L906.3 707.3L906.3 483.5ZM995.8 589.7L994.3 591.2L994.1 594L995.8 596.4L998.6 597.7L1001.4 597.8L1004.2 597.1L1009.5 594L1006.4 591.2L1003.5 589.8L998.6 589L995.8 589.7ZM1008.4 487.7L1002.8 489.5L1000 491.3L998.2 493.3L997.2 495.7L997.2 497.5L998.6 500.3L1002.1 503.1L1005.6 504.6L1019.6 506.9L1022.4 507.9L1028 511.6L1029.4 512.1L1031.2 511.5L1033.6 507.4L1035 501.7L1034.9 497.5L1032.9 493.3L1029.4 491L1018.2 488L1012.6 487.3L1008.4 487.7ZM1015.4 588L1012.7 589.8L1010.2 592.6L1009.9 594L1011.9 596.8L1012.6 600L1012 612.2L1012.6 633.2L1012 637.4L1009.5 641.6L1000.2 650L996.4 654.1L993.9 658.3L992.2 663.9L991.8 670.9L993 676.5L995.8 679.8L1001.4 681.9L1005.6 682.2L1011.2 681.6L1016.8 680.1L1021 678L1024.8 675.1L1028 671.6L1030.1 668.1L1031.4 663.9L1031.6 651.4L1035.7 622L1034.8 612.2L1032.2 603.5L1028 597.1L1021 590.4L1018.2 588.6L1015.4 588Z"/>
<path fill="#b0dc83" fill-rule="evenodd" d="M906.3 483.5L1130.1 483.5L1130.1 707.3L906.3 707.3L906.3 483.5ZM1002.8 484.7L996.3 487.7L991.6 491.9L990.2 496.1L991.1 498.9L992.1 500.3L997.4 504.5L1002.8 507L1019.6 510.5L1023.4 512.9L1029.4 518.7L1030.8 519L1032.2 518.4L1035 513.5L1038.6 500.3L1038.5 494.7L1036.4 490L1035 488.6L1032.2 487.1L1015.4 483.8L1008.4 483.7L1002.8 484.7ZM1014 571.6L1011.2 573.6L1005.1 582.8L1002.8 584.3L994.4 587L991.6 589.7L990.9 592.6L991.4 595.4L993.3 598.2L995.8 600.2L1002.6 603.8L1005 606.6L1006.2 610.8L1007.4 619.2L1008.4 630.4L1007.5 636L1004.6 640.2L992.4 652.8L989 658.3L987.3 663.9L987.8 672.3L989.7 677.9L991.6 680.2L994.4 682.1L1001.4 684L1007 683.9L1014 682.9L1019.6 681L1023.8 678.5L1028 674.5L1031.5 669.5L1033.2 665.3L1034 661.1L1034.8 641.6L1038.1 620.6L1036.3 603.8L1033.6 595.5L1028 584.9L1019.6 573.7L1016.8 571.6L1014 571.6Z"/>
<path fill="#c6de46" fill-rule="evenodd" d="M906.3 483.5L992.5 483.5L986 486.3L983.2 489.3L982.3 491.9L982.1 496.1L982.9 498.9L984.6 501.3L989.1 504.5L998.6 508.9L1005.6 511L1015.6 512.9L1019.3 514.3L1022.5 517.1L1028 525L1030.8 527L1032.2 526.9L1033.6 525.8L1035 523.5L1043.6 496.1L1043.5 491.9L1042.6 489.1L1040.9 486.3L1037.8 483.5L1130.1 483.5L1130.1 707.3L906.3 707.3L906.3 483.5ZM1012.6 554.5L1011.2 555.4L1009.7 557.6L1002.3 578.6L999.7 581.4L991.6 586L989 589.8L988.7 594L990.2 597.9L993 601.3L998.7 606.6L1001.1 610.8L1002.9 620.6L1003.1 630.4L1001.9 634.6L1000.2 637.4L990.2 648.7L985.2 655.5L982.9 659.7L981.6 663.9L981.7 668.1L982.7 673.7L984.1 677.9L986 681.3L988.8 683.9L991.6 685.2L1000 687.1L1009.8 686.7L1015.4 686L1019.6 684.7L1023.8 682.3L1026.6 680L1032.5 672.3L1035.4 666.7L1037 661.1L1036.6 643L1040.6 623.4L1040.7 617.8L1039.2 602.4L1038 596.8L1035.6 589.8L1023.8 565.7L1019.6 558.6L1015.9 554.8L1014 554.3L1012.6 554.5Z"/>
<path fill="#d8e025" fill-rule="evenodd" d="M906.3 483.5L976.1 483.5L975.2 489.1L975.6 497.5L976.8 501.7L979 504.3L984.6 507.8L994.4 512L1012.6 516.4L1016.8 517.9L1019.2 519.9L1021.1 522.7L1025.6 535.3L1028 537L1030.8 537.6L1033.6 536.9L1035 535.9L1037.4 532.5L1040.6 518.3L1044.8 507.1L1049 501.5L1059.5 490.5L1061.9 486.3L1062.6 483.5L1126.1 483.5L1127.7 486.3L1130.1 487.5L1130.1 707.3L1002.7 707.3L1004.1 704.5L1007.1 701.7L1019.6 694.5L1029.9 683.5L1033.9 677.9L1040.9 665.3L1041.9 662.5L1041.8 659.7L1038.9 651.4L1038.2 645.8L1039.1 638.8L1043.1 627.6L1043.9 623.4L1041.8 598.2L1039.6 589.8L1032.3 568.8L1023.9 549.2L1022.1 539.4L1021 537.6L1018.2 536.6L1015.4 537.1L1013.9 538L1005.6 548.5L1003.7 553.4L998.6 576.3L997.2 578.6L988.8 585.5L986.7 589.8L986.5 594L987.4 597.1L989.7 601L994.2 606.6L996.4 610.8L997.6 616.4L997.8 623.4L996.8 630.4L994.6 636L979.5 655.5L976.2 661.1L974.7 665.3L974.3 669.5L974.9 673.7L981.5 689.1L983 694.7L982.2 700.3L978.6 707.3L906.3 707.3L906.3 483.5ZM951.1 695.3L950 696.1L952.5 697.2L954.6 696.1L953.9 695L952.5 694.7L951.1 695.3Z"/>
<path fill="#e6e214" fill-rule="evenodd" d="M1072.3 496.1L1074.2 495.5L1075.6 495.9L1076.5 497.5L1075.8 500.3L1074.2 501.3L1072.8 501.4L1071.3 500.3L1071.2 497.5L1072.3 496.1ZM1099.3 500.3L1100.7 500.5L1102.9 501.7L1106.7 508.7L1111.9 514.3L1112.7 517.1L1111.6 522.7L1111.7 525.5L1113.7 531.1L1117.5 534.4L1124.5 536.9L1126.7 539.4L1130.1 546.1L1130.1 617L1125.9 622.2L1124.7 624.8L1124.4 627.6L1125.9 631L1130.1 633.5L1130.1 649.7L1124.5 649.8L1121.7 650.6L1118.9 652.8L1113.3 659.5L1109.1 663.4L1104.9 666.4L1100.7 668.1L1095.1 668.9L1086.7 667.4L1074.2 667.7L1070.7 666.7L1068.6 665.1L1065.8 656.5L1064.4 654.1L1063 653L1060.2 652.6L1053.2 656.2L1050.4 656.9L1047.6 656.8L1043.4 654.5L1040.6 650L1039.9 645.8L1040.5 640.2L1042.3 636L1047.1 629L1048.1 626.2L1048.4 623.4L1046.6 610.8L1045.6 598.2L1040.9 577.2L1041.7 566L1041.1 563.2L1038.4 557.6L1038.1 554.8L1038.6 553.4L1042 548.6L1043.5 545L1045.7 535.3L1046.2 526.9L1047.3 522.7L1049.1 519.9L1056 512.3L1060.2 509.7L1063 509L1065.8 509.1L1068.6 510.3L1074.2 514.8L1076.9 515.6L1079.7 515.3L1082 514.3L1083.4 512.9L1086.4 505.9L1088.1 503.9L1092.4 501.7L1099.3 500.3ZM947.3 503.1L951.1 502.1L960.8 502.4L967.8 507.8L980.9 512.9L991.6 520.6L995.8 521.6L1005.6 522.2L1008.4 523.2L1009.6 524.1L1010.3 525.5L1009.9 528.3L1006.8 533.9L999.8 542.2L998.2 545L997 556.2L994.6 564.6L994.2 574.4L992.9 577.2L986.8 584.2L984.4 589.8L984.2 592.6L985 596.8L991.3 608L992.9 613.6L992.7 619.2L989.6 633.2L986.5 638.8L974.8 653.4L964.4 663.9L959.4 673.7L956.7 677.9L953.9 680.3L951.1 681.2L948.3 680.7L941.3 675.8L936.7 673.7L935.1 672.3L934.6 669.5L936.4 662.5L935.4 659.7L927.3 648L923.1 643L919.4 636L916.1 631.3L911.9 627.4L906.3 624.7L906.3 602.5L908 599.6L909.1 596.1L910.5 583.5L911.9 581.4L916.7 577.2L918.7 574.4L921.4 564.6L924.3 557.6L924.8 554.8L924.3 547.8L924.7 533.9L925.9 532L930.8 528.3L932.9 525.6L935.7 516.5L937.8 512.9L944.1 505.6L947.3 503.1ZM906.3 677.9L907.7 679L908.6 680.7L909 683.5L908.3 684.9L906.3 685.9L906.3 677.9ZM1057.1 686.3L1058.8 685.8L1065.8 686.4L1067.8 687.7L1068.1 689.1L1067.7 690.5L1066.5 691.9L1064 693.3L1061.6 694L1058.8 693.8L1057.4 692.9L1056.2 690.5L1056.2 687.7L1057.1 686.3ZM1099.3 698.9L1102.1 698.1L1104.9 698.2L1117.5 699.9L1120.4 701.7L1121.5 704.5L1121.7 707.3L1092.9 707.3L1094.3 703.1L1096.5 700.7L1099.3 698.9ZM913.9 703.1L916.1 702.8L917.5 703.3L918.9 704.6L919.8 707.3L908 707.3L910.9 704.5L913.9 703.1Z"/>
<path fill="#f5e100" fill-rule="evenodd" d="M962.6 518.5L965 517.7L969.2 517.4L972 518L974.8 519.2L977.6 521.7L985.2 531.1L987 533.9L988 536.7L989 552L987.5 563.2L988.3 574.4L987.5 577.2L983.2 585.6L981.9 591.2L983 598.2L988.2 609.4L988.8 612.2L988.5 616.4L984.3 630.4L982.3 634.6L972 647.9L969.2 649.9L966.4 650.7L956.7 648.3L949.7 648.1L946.9 647.5L944.1 645.5L938.5 637L935.7 635.3L928.7 632.8L925.9 630.8L923.2 626.2L922.1 617.8L918.7 608L917.8 601L918.1 594L919 589.8L926.1 577.2L929.8 567.4L934.3 561.4L942.7 552.5L944.6 549.2L945.3 545L943.6 533.9L944.8 529.7L946.9 527.1L953.9 525.1L962.6 518.5ZM1067.4 526.9L1070 526.3L1088.1 526.2L1093.1 526.9L1096.5 528.4L1099.3 530.8L1101.5 533.9L1107.4 546.4L1112.3 553.4L1114.1 557.6L1114.9 567.4L1118.3 575.8L1118.9 578.6L1119.5 591.2L1120.9 599.6L1120.8 605.2L1119.7 610.8L1109.7 645.8L1108.1 648.6L1106.6 650L1102.1 652L1082.5 654.8L1078.3 654.4L1075.6 652L1071.4 645.8L1068.6 643.2L1064.4 640.7L1060.2 639.4L1058.7 640.2L1055.5 648.6L1051.8 652.5L1049 653.5L1046.2 653.1L1043.4 651L1042 648.4L1041.5 643L1043.4 638.1L1046.2 635.2L1054.1 631.8L1055.1 629L1054.9 623.4L1051.6 610.8L1049.2 591.2L1049 585.6L1049.7 577.2L1054.7 545L1056.8 540.8L1064.1 529.7L1067.4 526.9Z"/>
<path fill="#fbc600" fill-rule="evenodd" d="M966.5 525.5L967.8 524.8L970.6 524.5L973.4 525.6L976.2 527.8L980.8 533.9L983.3 540.8L984.3 552L983.7 574.4L982.9 578.6L979.9 587L979.3 592.6L980.1 598.2L983.9 608L984.6 612.2L983.4 617.8L978.4 629L969.2 640L967.8 641L965 641.7L955.3 639.8L951.1 638.4L931.9 624.8L930.1 621.7L924.1 606.6L922.8 601L922.5 596.8L923.9 589.8L927.2 584.2L932.9 577L941.1 568.8L951.2 556.2L952.7 553.4L957.3 540.8L963 529.7L966.5 525.5ZM1070.9 535.3L1075.6 535L1082.5 536L1093.7 541.8L1097.9 545.1L1100.7 549.3L1105.9 559L1108.1 570.2L1112.5 580L1113.3 582.8L1114.5 602.4L1113.6 615L1112.1 623.4L1108.9 631.8L1103.9 640.2L1100.7 643.3L1096.5 645.1L1090.9 645.3L1086.7 643.9L1075.6 637.7L1067.2 631.9L1064.7 629L1063 625.9L1058.2 615L1056.5 609.4L1054.4 595.4L1054.1 589.8L1055.3 571.6L1057.1 557.6L1059.2 549.2L1061.9 543.6L1067.2 537.2L1070.9 535.3ZM1045.7 638.8L1047.6 637.7L1050.4 637.8L1051.8 638.8L1053.4 641.6L1053.7 644.4L1053 647.2L1051.8 649L1049 650.8L1046.2 650.5L1044.8 649.5L1043.4 647.2L1043.4 642.3L1045.7 638.8Z"/>
<path fill="#f8ac00" fill-rule="evenodd" d="M968.5 531.1L970.6 530.2L972 530.3L976.2 533.1L979.4 538L981.2 545L981.7 554.8L980.6 573L980 577.2L976.8 587L976.2 591.2L976.7 598.2L979.4 608L979.8 612.2L978.7 616.4L976.2 621.5L971.7 627.6L967.8 630.5L963.6 632.7L959.5 633.7L955.3 633.8L951.1 632.7L945.5 629.6L938.8 624.8L934.7 620.6L930.6 613.6L927.1 605.2L925.9 599.6L925.9 594L927.9 588.4L932.9 582L951.5 568.8L955.3 564.7L957.5 559L963 539.4L965.9 533.9L968.5 531.1ZM1068 542.2L1071.4 541.3L1074.2 542.1L1081.1 546.4L1089.5 550.6L1093.7 554.1L1097.9 559L1100.6 563.2L1109 582.8L1110 588.4L1111.1 601L1111.1 613.6L1110.2 620.6L1107.9 627.6L1103.9 634.6L1100.7 638.2L1096.5 640.6L1092.3 640.8L1088.1 639.2L1068.6 623.4L1065.8 620.4L1063 616.3L1059.5 608L1057.9 599.6L1057 591.2L1058.1 566L1059.5 557.6L1061.6 550.6L1064.4 545.6L1068 542.2ZM1046.3 641.6L1047.6 640.9L1049 641L1050.7 643L1050.7 645.8L1049 647.9L1047.6 648.1L1046.2 647.5L1045.2 645.8L1045.4 643L1046.3 641.6Z"/>
<path fill="#f49200" fill-rule="evenodd" d="M969.9 535.3L972 534.8L973.4 535.2L976.4 538L978.7 543.6L979.6 550.6L979.4 560.4L978 573L976.5 578.6L972.8 587L972.2 589.8L972.3 594L974.4 608L974.2 612.2L972.8 616.4L970.4 620.6L965.1 626.2L962.2 628L958.1 629.6L952.5 629.7L948.3 628.2L942.7 624.7L938.5 621L934.9 616.4L931.1 609.4L929 603.8L928 598.2L928.3 594L930.5 588.4L932.9 585.5L935.7 583.1L941.3 580.4L955.3 576.2L958.1 574.3L959.9 570.2L961.7 556.2L964.1 545L966.4 539.1L967.8 536.9L969.9 535.3ZM1067.4 546.4L1070 545.4L1071.4 545.5L1074.2 546.9L1083.9 557.6L1090.9 561.7L1094.5 564.6L1097.9 569.3L1104 580L1105.7 584.2L1107.9 594L1108.9 601L1109.2 612.2L1108.6 619.2L1107 624.8L1103.5 631.2L1100.7 634.6L1096.5 637.2L1092.3 637.3L1087.5 634.6L1083.6 630.4L1076.9 620.4L1074.2 618.6L1068.6 616.9L1065.8 614.6L1063.3 610.8L1061.6 606.6L1059.6 598.2L1058.8 591.2L1059.2 568.8L1060.5 560.4L1062 554.8L1064.4 549.8L1067.4 546.4Z"/>
<path fill="#f07a00" fill-rule="evenodd" d="M970.3 539.4L972 538.9L973.4 539.4L974.8 540.7L976.2 543.3L977.6 550.6L977.7 559L976.3 568.8L974.7 574.4L972 578.9L969.2 580.7L967.8 580.8L966.4 579.8L965 575.9L963.9 567.4L963.7 560.4L964.6 553.4L966.4 545.8L967.9 542.2L970.3 539.4ZM1068 549.2L1070 548.6L1071.4 548.8L1074.2 550.8L1076.2 553.4L1081.1 563.5L1082.5 565.4L1083.9 566.5L1089.5 568.8L1093.7 572.4L1100.7 581.1L1104.1 588.4L1106.1 595.4L1107.3 602.4L1107.7 610.8L1107.3 617.8L1105.8 623.4L1103.5 627.9L1100.5 631.8L1096.5 634.4L1092.3 634.4L1089.5 632.9L1087 630.4L1083.3 624.8L1078.3 613.3L1077.3 612.2L1075.6 611.7L1071.4 612.8L1068.6 612.4L1065.2 609.4L1062.6 603.8L1060.9 596.8L1060.1 589.8L1059.9 578.6L1060.3 570.2L1061.2 563.2L1063.1 556.2L1065.8 551.2L1068 549.2ZM938.4 584.2L941.3 583.3L945.5 583L949.7 583.4L955.3 584.9L959.5 586.9L962.2 588.9L965 591.9L967.3 595.4L968.9 599.6L969.7 603.8L969.8 608L969.2 612.2L967.7 616.4L965.4 620.6L962.9 623.4L959.5 625.8L956.7 626.9L952.5 627.1L949.7 626.4L945.5 624.3L939.4 619.2L933.7 610.8L930.5 602.4L929.9 598.2L930.2 594L931.2 591.2L932.9 588.4L935.7 585.8L938.4 584.2Z"/>
<path fill="#eb6103" fill-rule="evenodd" d="M970 545L972 543.9L973.6 545L974.9 547.8L975.8 554.8L974.8 564.7L973.4 568.7L972 570.7L970.6 571.5L969.2 570.9L967.8 568.9L966.6 564.6L966.2 560.4L967.6 550.6L970 545ZM1068 552L1070 551.4L1071.4 551.8L1073.3 553.4L1075.2 556.2L1079.3 567.4L1082.5 582.1L1083.9 582.5L1089.5 579.6L1092.3 579.7L1095.1 580.9L1099.3 584.7L1103.5 593L1106 603.8L1106.4 612.2L1105.9 617.8L1104.2 623.4L1102.1 627.1L1099.3 630.3L1096.5 632L1093.7 632.2L1090.9 631.1L1088.1 628.5L1085.6 624.8L1082.4 616.4L1079.7 603L1078.3 602.5L1072.9 608L1070 609L1067.2 607.9L1065.8 606.3L1063.8 602.4L1062.3 596.8L1061.2 589.8L1061.1 571.6L1062.1 564.6L1063.5 559L1065.8 554.2L1068 552ZM941.9 585.6L948.3 586.4L953.9 589.3L961.1 595.4L963.4 598.2L964.9 601L966 608L964.8 615L961.7 620.6L959.5 622.8L956.7 624.3L953.9 624.9L951.1 624.7L948.3 623.8L944.1 621.3L937.9 615L933.3 606.6L931.5 599.6L931.6 595.4L932.4 592.6L935.7 588.1L938.5 586.4L941.9 585.6Z"/>
<path fill="#e44911" fill-rule="evenodd" d="M970.5 553.4L972 552.8L972.9 556.2L972 561.6L970.6 562.3L969.5 559L970.5 553.4ZM1067.8 554.8L1070 554.1L1071.4 554.6L1072.8 555.9L1074.6 559L1077.6 568.8L1078.6 577.2L1078.5 587L1077.1 595.4L1074.1 602.4L1072.8 604.2L1070 605.7L1067.2 604.6L1064.4 599.6L1062.6 592.6L1061.8 584.2L1061.8 574.4L1062.8 566L1064.8 559L1067.8 554.8ZM1090.8 585.6L1092.3 585.2L1095.1 585.7L1099.3 589.2L1103.1 596.8L1104.9 605.2L1105 615L1103.3 622L1101.9 624.8L1099.3 628L1097.9 629L1095.1 630L1092.3 629.4L1090.9 628.6L1087.7 624.8L1084.7 617.8L1083.4 610.8L1083.4 602.4L1084.7 594L1087.4 588.4L1090.8 585.6ZM938.5 588.4L941.3 587.6L944.1 587.6L949.7 589.6L956.9 595.4L961.2 601L962.9 606.6L962.4 613.6L959.8 619.2L956.7 621.9L952.5 622.9L946.9 621.3L941.3 617L936.7 610.8L933.7 603.8L932.9 596.8L933.5 594L935 591.2L938.5 588.4Z"/>
<path fill="#de3519" fill-rule="evenodd" d="M1067.5 557.6L1068.6 556.8L1070 556.7L1071.4 557.4L1073.5 560.4L1075.9 567.4L1077 575.8L1076.7 587L1075.5 594L1072.8 600.5L1070 602.6L1068.6 602.5L1067.2 601.4L1065.3 598.2L1063.7 592.6L1062.7 584.2L1062.6 574.4L1063.4 567.4L1064.9 561.8L1067.5 557.6ZM939.6 589.8L944.1 589.4L949.7 591.8L954.1 595.4L958.5 601L960.5 606.6L960.5 612.2L959.7 615L958.2 617.8L955.3 620.3L951.1 621L948.3 620.3L945.5 618.8L941.1 615L937.2 609.4L934.5 602.4L934.3 596.8L935.9 592.6L937.2 591.2L939.6 589.8ZM1091.2 589.8L1093.7 589.1L1095.1 589.4L1097.9 591.2L1099.3 592.8L1102.1 598.3L1103.8 606.6L1103.9 615L1102.5 620.6L1099.3 625.7L1097.9 626.9L1095.1 627.9L1092.3 627.2L1088.7 623.4L1086.3 617.8L1085.2 612.2L1085.1 605.2L1086.2 598.2L1088.1 593.1L1091.2 589.8Z"/>
<path fill="#d72c1e" fill-rule="evenodd" d="M1067.1 560.4L1068.6 559.3L1070 559.2L1071.4 560.1L1072.8 562.1L1074.7 567.4L1075.7 574.4L1075.8 582.8L1074.7 591.2L1072.8 596.9L1071.4 598.8L1070 599.7L1068.6 599.6L1067.2 598.4L1065.8 595.9L1064.4 591L1063.5 584.2L1063.3 577.2L1063.8 570.2L1065.1 564.6L1067.1 560.4ZM940.7 591.2L945.5 591.5L949.7 593.7L954.4 598.2L957.1 602.4L958.5 606.6L958.5 612.2L956.8 616.4L953.9 618.7L949.7 619.1L945.5 617.2L941.3 613.5L937.7 608L935.7 602.4L935.6 596.8L937.1 593.6L938.5 592.2L940.7 591.2ZM1092.9 592.6L1095.1 592.5L1096.5 593.1L1099.3 596L1101.6 601L1102.8 608L1102.7 615L1101.1 620.6L1097.9 624.7L1095.1 625.8L1092.3 624.9L1089.5 621.8L1087.4 616.4L1086.5 610.8L1086.8 603.8L1088.1 598.5L1090.7 594L1092.9 592.6Z"/>
<path fill="#ce2a20" fill-rule="evenodd" d="M1068.5 561.8L1070 561.7L1071.4 562.8L1072.8 565.3L1074.2 570.2L1074.8 575.8L1074.7 582.8L1073.7 589.8L1072.3 594L1070 596.8L1068.6 596.7L1067.2 595.3L1065.8 592.2L1064.7 587L1064.1 580L1064.2 574.4L1065 568.8L1066.3 564.6L1068.5 561.8ZM942.3 592.6L945.5 593.1L949.7 595.5L953.6 599.6L955.9 603.8L956.9 608L956.7 612.2L955.3 615.2L952.5 617.2L949.7 617.4L945.5 615.7L941.3 611.7L938.2 606.6L936.7 601L937 596.8L938.8 594L942.3 592.6ZM1093.6 595.4L1096.5 595.9L1099.3 599.2L1101 603.8L1101.8 609.4L1101.5 615L1100.3 619.2L1097.9 622.5L1095.1 623.6L1092.3 622.6L1090.6 620.6L1088.8 616.4L1087.8 610.8L1088.1 605.2L1089.5 599.9L1090.9 597.4L1093.6 595.4Z"/>
<path fill="#af2520" fill-rule="evenodd" d="M1068.2 564.6L1070 564.3L1071.5 566L1073.1 570.2L1073.8 575.8L1073.7 581.4L1072.8 588.3L1071.4 592.2L1070 593.7L1068.6 593.7L1067.2 592L1065.8 587.6L1065 581.4L1064.9 575.8L1065.6 570.2L1067 566L1068.2 564.6ZM939.7 595.4L942.7 594.2L945.5 594.6L949.7 597.3L952.8 601L954.8 605.2L955.3 609.4L954.8 612.2L952.5 615.1L949.7 615.7L946.9 614.9L944.1 613L940.9 609.4L938.8 605.2L937.9 601L938.1 598.2L939.7 595.4ZM1092.1 599.6L1093.7 598.3L1095.1 598.2L1097.3 599.6L1099.3 602.9L1100.5 608L1100.5 613.6L1099.4 617.8L1097.9 620L1095.1 621.4L1092.3 620L1090.9 617.9L1089.3 612.2L1089.6 605.2L1090.9 601.3L1092.1 599.6Z"/>
<path fill="#8c1e1b" fill-rule="evenodd" d="M1068.3 567.4L1070 567.1L1071.4 569L1072.8 575.8L1072.3 584.2L1071.4 588L1070 590.2L1068.6 590.2L1067.2 587.9L1065.8 580L1066.1 573L1067.2 568.9L1068.3 567.4ZM940.9 596.8L944.1 595.9L946.9 596.9L949.7 599.2L952 602.4L953.5 606.6L953.6 609.4L952.6 612.2L951.1 613.5L949.7 613.9L946.9 613.3L944.1 611.3L941.4 608L939.9 604.7L939.2 601L939.8 598.2L940.9 596.8ZM1092.9 602.4L1095.1 601.3L1096.5 602L1097.9 603.9L1099.1 608L1099.3 612.2L1098.7 615L1097.2 617.8L1095.1 618.8L1093.7 618.3L1092.3 616.8L1090.8 612.2L1091 606.6L1092.9 602.4Z"/>
<path fill="none" stroke="#000" stroke-width="1.25" stroke-linejoin="round" d="M1014 663.4L1010.3 665.3L1007.3 668.1L1005.8 670.9L1005.8 672.3L1006.8 673.7L1009.8 674.5L1014 673.8L1017 672.3L1019.9 669.5L1020.9 666.7L1020.6 665.3L1019.6 664L1016.8 663.1L1014 663.4M1014 657.8L1011.2 659.2L1007 662.8L1003.6 666.7L1001.9 669.5L1001.1 672.3L1001.2 673.7L1001.9 675.1L1003.7 676.5L1008.4 677.4L1014 676.3L1019.6 673.5L1023.5 669.5L1024.9 665.3L1024.4 662.5L1023.6 661.1L1022.4 659.7L1019.6 657.7L1016.8 657.2L1014 657.8M1008.4 490.4L1004.7 491.9L1002.8 493.3L1001.1 496.1L1001.5 498.9L1004.2 501.5L1009.8 503.6L1021 504.9L1028 507.8L1029.4 507.8L1030.8 506.8L1032.2 504L1032.6 500.3L1032.1 497.5L1029.9 494.7L1026.6 493.1L1016.8 490.1L1012.6 489.7L1008.4 490.4M1023.8 603.5L1021 604.8L1019 606.6L1017.3 609.4L1016.3 612.2L1014.9 622L1014.6 636L1013.5 640.2L1011.2 643.4L1000 653.5L997.5 656.9L995.7 661.1L994.1 668.1L994 673.7L994.9 676.5L995.9 677.9L997.5 679.3L1000 680.5L1004.2 681.3L1008.4 681.1L1014 680L1018.2 678.5L1022.4 676L1025.2 673.5L1027.4 670.9L1029.6 666.7L1030.4 662.5L1029.9 652.8L1034 624.8L1034.1 617.8L1033 612.2L1030.8 607.2L1028 604.3L1026.6 603.6L1023.8 603.5M985.5 483.5L983.2 484.8L981.9 486.3L980.3 490.5L980.1 494.7L980.4 497.5L982.6 501.7L987.4 505.1L997.2 509.5L1002.8 511.3L1015.4 513.9L1018.2 514.9L1022.3 518.5L1028 527.5L1030.8 529.5L1032.2 529.6L1033.6 528.8L1035.6 525.5L1040.6 508.6L1044.6 498.9L1045.8 494.7L1046.1 491.9L1045.6 489.1L1044 486.3L1041.2 483.5M1014 550.5L1011.2 551.4L1009.8 552.6L1008.3 554.8L1002.2 575.8L1000.9 578.6L997.9 581.4L991.6 585.1L989.8 587L988.3 589.8L988.1 594L989.7 598.2L997.2 606.6L999.7 610.8L1001.4 619.2L1001.7 629L1000.7 633.2L998.4 637.4L988.7 648.6L982.8 656.9L980.6 661.1L979.8 665.3L980 669.5L981.8 676.5L983.5 680.7L985.5 683.5L987.4 685.2L990.2 686.7L1000 688.8L1005.6 688.8L1016.8 687.4L1021 685.8L1023.8 683.9L1028 680.1L1032.6 673.7L1035.8 668.1L1038 661.1L1038.2 658.3L1037 648.6L1037.1 643L1038 637.4L1041 626.2L1041.5 622L1040.4 605.2L1039.3 598.2L1035.6 587L1022.4 558.9L1018.2 552.5L1016.8 551.3L1014 550.5M966.2 524.1L967.8 523.4L970.6 523.2L974.8 525.3L977.6 528.1L980.8 532.5L982.3 535.3L983.8 539.4L985 550.6L984.2 564.6L984.4 574.4L983.6 578.6L980.5 587L979.8 592.6L980.7 598.2L984.7 608L985.5 612.2L984.4 617.8L981.1 626.2L979 630.2L970.6 641.1L967.8 643.2L965 643.7L951.1 640.1L948.3 638.3L940.7 631.8L932.9 627.6L931.1 626.2L929.3 623.4L923.2 606.6L922.2 602.4L921.8 596.8L922.6 591.2L925.4 585.6L932.9 575.4L940.3 567.4L949.7 555.5L951.5 552L955.1 540.8L963.3 526.9L966.2 524.1M1070.4 533.9L1072.8 533.4L1078.3 533.4L1083.9 534.2L1095.1 540.4L1097.9 542.6L1100.7 546.4L1107 557.6L1107.8 560.4L1109.2 570.2L1114 581.4L1114.8 587L1115.4 602.4L1114.3 615L1112.8 623.4L1109.7 631.8L1104.9 640.4L1101.1 644.4L1096.5 646.3L1090.9 646.6L1086.7 645.4L1076.9 640.4L1066 633.2L1063.6 630.4L1062.2 627.6L1057.2 615L1055.6 609.4L1053.6 595.4L1053.3 589.8L1054.9 570.2L1056.7 556.2L1058.5 549.2L1061 543.6L1065.8 537.1L1068.6 534.7L1070.4 533.9M1047 637.4L1049 636.9L1051.8 637.7L1053.2 639.3L1054.1 641.6L1054.2 644.4L1053.2 647.8L1051.6 650L1049 651.3L1046.2 651.1L1044.8 650.1L1043.4 648.1L1042.8 645.8L1043.4 641.2L1044.8 639L1047 637.4M970.3 539.4L972 538.9L973.4 539.4L974.8 540.7L976.2 543.3L977.6 550.6L977.7 559L976.3 568.8L974.7 574.4L972 578.9L969.2 580.7L967.8 580.8L966.4 579.8L965 575.9L963.9 567.4L963.7 560.4L964.6 553.4L966.4 545.8L967.9 542.2L970.3 539.4M1068 549.2L1070 548.6L1071.4 548.8L1074.2 550.8L1076.2 553.4L1081.1 563.5L1082.5 565.4L1083.9 566.5L1089.5 568.8L1093.7 572.4L1100.7 581.1L1104.1 588.4L1106.1 595.4L1107.3 602.4L1107.7 610.8L1107.3 617.8L1105.8 623.4L1103.5 627.9L1100.5 631.8L1096.5 634.4L1095.1 634.7L1092.3 634.4L1089.5 632.9L1087 630.4L1083.3 624.8L1078.3 613.3L1077.3 612.2L1075.6 611.7L1071.4 612.8L1068.6 612.4L1067.2 611.6L1065.2 609.4L1062.6 603.8L1060.9 596.8L1060.1 589.8L1059.9 578.6L1060.3 570.2L1061.2 563.2L1063.1 556.2L1065.8 551.2L1068 549.2M938.4 584.2L941.3 583.3L945.5 583L949.7 583.4L955.3 584.9L959.5 586.9L962.2 588.9L965 591.9L967.3 595.4L968.9 599.6L969.7 603.8L969.8 608L969.2 612.2L967.7 616.4L965.4 620.6L962.9 623.4L959.5 625.8L956.7 626.9L952.5 627.1L949.7 626.4L945.5 624.3L939.4 619.2L936.1 615L933.7 610.8L930.5 602.4L929.9 598.2L930.2 594L931.2 591.2L932.9 588.4L935.7 585.8L938.4 584.2M1068.1 557.6L1070 557.2L1071.4 557.9L1073.9 561.8L1076 568.8L1076.7 575.8L1076.6 585.6L1075.2 594L1072.8 599.8L1071.4 601.4L1070 602L1068.6 601.9L1067.2 600.8L1065 596.8L1063.4 589.8L1062.7 581.4L1062.8 573L1063.9 566L1065.8 560.5L1068.1 557.6M940.9 589.8L945.5 590.1L949.7 592.2L954.9 596.8L958.8 602.4L960.1 606.6L960.1 612.2L958.6 616.4L956.7 618.8L955.3 619.8L951.1 620.6L948.3 620L945.5 618.5L940.2 613.6L936.7 608L934.8 602.4L934.5 596.8L935.4 594L937.1 591.7L938.5 590.7L940.9 589.8M1090.4 591.2L1092.3 590L1093.7 589.8L1096.5 590.7L1097.9 591.8L1101.2 596.8L1102.7 601L1103.4 605.2L1103.8 613.6L1102.2 620.6L1099.3 625.2L1097.9 626.4L1095.1 627.4L1092.3 626.7L1089.5 624L1087 619.2L1085.6 613.6L1085.3 606.6L1086.3 599.6L1088.1 594.2L1090.4 591.2"/>
</g>
<path fill="none" stroke="#000" stroke-width="2.20" stroke-linejoin="miter" d="M999.2 487.6L1018.2 471.3L1037.2 487.6"/>
<circle cx="1018.2" cy="595.4" r="107.6" fill="none" stroke="#000" stroke-width="2.60"/>
<g fill="#000"><circle cx="958.1" cy="566" r="3.7034418604651163"/><circle cx="950.3" cy="580.8" r="3.7034418604651163"/><circle cx="959.5" cy="581.2" r="3.7034418604651163"/><circle cx="953.3" cy="596.2" r="3.7034418604651163"/><circle cx="962.9" cy="593.5" r="3.7034418604651163"/><circle cx="956.3" cy="610.4" r="3.7034418604651163"/><circle cx="965.6" cy="614.6" r="3.7034418604651163"/><circle cx="960.8" cy="626.8" r="3.7034418604651163"/><circle cx="967.6" cy="638" r="3.7034418604651163"/><circle cx="977.7" cy="635.5" r="3.7034418604651163"/><circle cx="1078.7" cy="569.5" r="3.7034418604651163"/><circle cx="1076.6" cy="583.2" r="3.7034418604651163"/><circle cx="1086.2" cy="582.8" r="3.7034418604651163"/><circle cx="1072.9" cy="595.6" r="3.7034418604651163"/><circle cx="1080.1" cy="611.9" r="3.7034418604651163"/><circle cx="1070.5" cy="615.5" r="3.7034418604651163"/><circle cx="1066.4" cy="626.8" r="3.7034418604651163"/><circle cx="1075" cy="627.8" r="3.7034418604651163"/><circle cx="1059" cy="636.6" r="3.7034418604651163"/><circle cx="1068.4" cy="639.1" r="3.7034418604651163"/></g>
<path fill="#fff" stroke="#000" stroke-width="2.20" stroke-linejoin="round" d="M85.4 1151.5L88.6 1153.1L90.3 1157.4L90.2 1172.1L91 1193.9L91.7 1202.6L87.3 1206.6L80.6 1202L77.7 1194.1L78.8 1172.1L79.1 1157.4L81.9 1153.1Z"/>
<path fill="#fff" stroke="#000" stroke-width="2.20" stroke-linejoin="round" d="M346.2 1151.5L343 1153.1L341.3 1157.4L341.4 1172.1L340.6 1193.9L339.9 1202.6L344.3 1206.6L351 1202L353.9 1194.1L352.8 1172.1L352.5 1157.4L349.7 1153.1Z"/>
<clipPath id="c6"><circle cx="215.8" cy="1173.05" r="124.45"/></clipPath>
<g clip-path="url(#c6)">
<circle cx="215.8" cy="1173.05" r="124.45" fill="#4245a4"/>
<path fill="#444ba7" fill-rule="evenodd" d="M86.4 1043.6L345.2 1043.6L345.2 1302.5L86.4 1302.5L86.4 1043.6ZM143 1158L138.6 1160.1L137.2 1161.7L136.4 1163.3L136.4 1166.6L137.7 1171.4L139.4 1174.7L141.4 1176.4L144.6 1176.9L146.2 1176.3L147.8 1174.7L149.2 1171.4L149.6 1160.1L149.3 1158.5L147.9 1157L146.2 1157L143 1158Z"/>
<path fill="#4553aa" fill-rule="evenodd" d="M86.4 1043.6L345.2 1043.6L345.2 1302.5L86.4 1302.5L86.4 1043.6ZM144.6 1153.3L136.4 1156.9L133.3 1160.7L131.9 1165L133 1169.8L136.5 1176.8L139.8 1180.2L143 1181L146.2 1180.1L147.9 1179L150.9 1174.7L152.1 1169.8L153.2 1158.5L152.7 1155.3L151.1 1153.2L147.9 1152.3L144.6 1153.3ZM149.5 1109.3L147.9 1110L145.7 1113.2L145.2 1116.4L146.2 1118.8L147.9 1119.2L149.5 1118.5L151.1 1116.8L152 1114.8L152.2 1111.6L151.1 1109.6L149.5 1109.3Z"/>
<path fill="#455cae" fill-rule="evenodd" d="M86.4 1043.6L345.2 1043.6L345.2 1302.5L86.4 1302.5L86.4 1043.6ZM149.5 1103.4L147 1105.1L144.6 1107.8L142.1 1113.2L141.8 1118L142.3 1121.3L143 1122.8L144.6 1123.7L147.9 1123.1L151.1 1121.1L153.8 1118L156.1 1113.2L156.3 1108.3L155 1105.1L152.7 1103.2L149.5 1103.4ZM144.6 1149.9L136.5 1152.9L134.9 1154L129.4 1161.7L128.4 1165L129.3 1169.8L134.9 1181.5L136.5 1183.7L139.8 1185.1L144.6 1184.2L149.5 1180.8L152.5 1176.3L154.3 1169.8L156 1156.9L155.1 1153.6L152.7 1150.7L151.1 1149.7L147.9 1149L144.6 1149.9Z"/>
<path fill="#4267b1" fill-rule="evenodd" d="M86.4 1043.6L345.2 1043.6L345.2 1302.5L86.4 1302.5L86.4 1043.6ZM151.1 1098.1L147.9 1099.7L144.6 1102.6L140.6 1108.3L139.3 1111.6L138.5 1126.1L139.8 1128.7L141.4 1129.4L144.6 1128.4L152.7 1122.4L156.3 1118L158.9 1113.2L159.6 1108.3L159.2 1105.1L158 1101.9L155.9 1099.3L154.3 1098.3L151.1 1098.1ZM170.5 1250L170 1252.3L170.4 1253.9L172.1 1254.2L172.1 1251.4L170.5 1250ZM270.8 1097.8L269.6 1098.6L270.8 1099L271.2 1098.6L270.8 1097.8ZM143 1147.1L136.5 1148.6L133.5 1150.4L124.7 1163.3L124.9 1168.2L129.9 1179.5L131.9 1187.6L133.3 1189.3L134.9 1189.8L143 1188.1L147.9 1185.1L153 1179.5L154.5 1176.3L155.9 1171L158.2 1156.9L157.7 1153.6L156.9 1152L154.3 1148.9L151.1 1146.7L147.9 1146L143 1147.1Z"/>
<path fill="#477cbe" fill-rule="evenodd" d="M86.4 1043.6L345.2 1043.6L345.2 1302.5L86.4 1302.5L86.4 1043.6ZM151.1 1093.3L147.9 1095.1L144.6 1098L137.5 1106.7L135.8 1110L136 1118L134.3 1127.8L135.1 1131L136.5 1133.6L138.1 1135.5L139.8 1136.3L143 1135.4L154.8 1122.9L159.6 1116.4L161.8 1111.6L162.2 1105.1L161.5 1101.9L159.9 1098.6L155.9 1093.6L154.3 1093L151.1 1093.3ZM170.5 1243.9L168.9 1244.3L167.3 1246.9L166.3 1250.7L166.1 1253.9L167.1 1257.2L168.4 1258.8L170.5 1260L172.1 1260.2L174.5 1258.8L175.3 1257.2L175.3 1253.9L173.7 1247.9L172.1 1245L170.5 1243.9ZM269.2 1093.7L265.9 1095.4L265.2 1098.6L265.9 1100.2L267.6 1101.9L270.8 1103L272.4 1102.8L274 1101.9L275 1100.2L275 1097L274.1 1095.4L272.4 1094.2L269.2 1093.7ZM134.9 1143.8L132.1 1145.5L130.7 1147.2L127.1 1155.3L121.4 1160.1L120.1 1163.3L121.8 1171.4L126.5 1181.1L127.1 1187.6L127.9 1190.8L130.1 1193.8L133.3 1195.3L136.5 1194.6L146.2 1189.5L149.5 1186.6L154 1181.1L155.6 1177.9L157.1 1173L160.2 1156.9L159.9 1153.6L158.3 1150.4L154.3 1145.8L151.1 1143.6L147.9 1142.6L144.6 1142.4L138.1 1142.8L134.9 1143.8Z"/>
<path fill="#5598ce" fill-rule="evenodd" d="M86.4 1043.6L345.2 1043.6L345.2 1302.5L86.4 1302.5L86.4 1043.6ZM152.7 1087L149.5 1088.6L146.2 1090.9L131.3 1108.3L131 1111.6L132.5 1118L130.1 1127.8L131 1134.2L130.6 1137.5L125.8 1142.3L125.1 1143.9L125 1148.8L124.2 1152L122.8 1153.6L117.1 1157.5L115.2 1160.1L115.3 1163.3L117.7 1173L122.6 1181.1L123.7 1189.2L124.8 1192.5L130.1 1199.7L133.3 1201.2L136.5 1200.5L147.9 1191.4L154.9 1182.8L156.7 1179.5L158.2 1174.7L161.7 1158.5L161.9 1153.6L160.7 1150.4L155.9 1144L150.7 1139.1L149.6 1137.5L149.2 1135.8L149.9 1132.6L151.6 1129.4L158.4 1121.3L162.8 1114.8L164.6 1110L164.9 1105.1L164.3 1101.9L160.9 1093.8L159.2 1087.3L157.6 1086.2L155.9 1086.1L152.7 1087ZM168.9 1240.5L167.3 1241.4L165.2 1244.2L161.3 1255.6L161.2 1258.8L162.4 1262.7L164 1264.9L165.6 1265.4L173.7 1263.6L175.8 1262L177.3 1258.8L177 1253.9L173.9 1244.2L172.1 1241.7L170.5 1240.6L168.9 1240.5ZM267.6 1091.7L264.3 1093.5L263.1 1095.4L262.7 1097L263.2 1100.2L264.3 1102L267.6 1104.3L270.8 1105.1L274 1104.6L275.7 1103.5L277.3 1100.2L277.3 1097L276.6 1095.4L275.5 1093.8L272.4 1091.9L267.6 1091.7Z"/>
<path fill="#67b2dd" fill-rule="evenodd" d="M86.4 1043.6L345.2 1043.6L345.2 1302.5L86.4 1302.5L86.4 1043.6ZM152.7 1079.2L149.5 1080.9L136.9 1097L126.9 1106.7L126 1110L127.9 1118L126.8 1120.9L113.9 1131.4L111.9 1134.2L112.3 1136.6L115 1140.7L117.2 1148.8L116.3 1152L110.5 1158.5L109.7 1161.7L112.6 1168.2L113.8 1174.7L119.4 1182.8L121.2 1190.8L126.8 1204.9L131.1 1210.3L134.9 1220.1L137.8 1223.2L139.8 1223.7L141.4 1223L142.3 1221.6L142.4 1218.3L141.4 1215.7L137.9 1210.3L137.6 1208.6L139.2 1205.4L143.9 1198.9L151.1 1191.2L157.6 1181.4L160.5 1171.4L163.7 1155.3L163 1150.4L154.3 1136.6L153.5 1132.6L154.7 1129.4L163 1118L165.9 1113.2L167.4 1108.3L167.4 1103.5L163.9 1093.8L164 1087.3L162.7 1084.1L160.8 1082.3L157.6 1080.5L152.7 1079.2ZM168.9 1237.8L165.6 1239.2L160.8 1243.7L157.6 1244.9L151.3 1239.4L150.5 1239.4L149.4 1241L151.1 1243.9L156.1 1247.5L156.5 1258.8L157.6 1263.8L159.2 1268.1L162.4 1271.7L165.6 1272.8L168.9 1271.6L175.4 1266.4L177.7 1263.6L179 1260.4L178.7 1255.6L175.4 1244.1L172.1 1239.2L168.9 1237.8ZM266 1089.9L262.7 1091.8L260.6 1095.4L260.5 1098.6L261.7 1101.9L264.3 1104.8L267.6 1106.3L272.4 1106.9L275.7 1105.8L278 1103.5L279.1 1100.2L279.2 1097L278 1093.8L275.7 1091.5L272.4 1090L269.2 1089.5L266 1089.9Z"/>
<path fill="#77c2e2" fill-rule="evenodd" d="M86.4 1043.6L345.2 1043.6L345.2 1302.5L86.4 1302.5L86.4 1043.6ZM152.7 1074.4L149.5 1075.5L147.9 1077L138.1 1090.2L130.2 1098.6L122.8 1105.1L119.2 1113.2L116.2 1116.4L115.5 1118.1L114.5 1124.5L112.4 1127.8L107.6 1132.6L106.5 1135.8L107.7 1139.1L111.8 1145.5L112.6 1148.8L112.3 1150.4L110.6 1153L105.8 1157.5L104.4 1160.1L104.9 1163.3L108.7 1169.8L110.8 1176.3L116.8 1184.4L118.8 1192.5L121.3 1198.9L122.4 1205.4L123.6 1208.1L131.7 1222.3L134.9 1226.9L138.1 1229.5L143 1231L144.6 1230.4L146.7 1223.2L146 1218.3L143.3 1210.3L143.3 1207L146.2 1200.6L152.8 1192.5L159.2 1181.4L161.6 1173L165.1 1156.9L165.2 1150.4L158 1134.2L157.7 1131L159 1127.8L168.3 1113.2L170.3 1106.7L169.8 1101.9L166.7 1093.8L167.4 1087.3L166.9 1084.1L164.2 1080.8L159.2 1077L155.9 1075.1L152.7 1074.4ZM267.6 1087.3L262.7 1088.6L259.3 1092.2L258 1097L259.1 1101.9L261.2 1105.1L266 1107.8L270.8 1108.5L275.7 1107.7L278.9 1105.3L280.6 1101.9L281.2 1097L280.4 1093.8L278.9 1091.6L275.7 1089.2L272.4 1087.9L267.6 1087.3ZM321 1174.6L319.1 1176.3L318 1179.5L318.6 1190.8L321 1203.1L322.6 1206L324.2 1207.4L325.8 1207.4L327.4 1206.2L329.1 1203.8L329.9 1200.6L329.8 1197.3L327.4 1184L324.9 1174.7L324.2 1173.8L321 1174.6ZM144.6 1231.9L143.8 1236.1L144.3 1239.4L151.8 1253.9L155 1265.3L157 1270.1L160.8 1274.8L165.6 1278.3L168.9 1279.8L172.1 1279.7L174 1278.2L175.6 1271.7L179.4 1265.3L180.8 1260.4L180.2 1255.6L175.4 1241.3L173.7 1238.9L170.5 1236.1L167.3 1235.7L162.4 1238.3L159.2 1238.9L157.6 1238.3L149.5 1233L146.2 1231.9L144.6 1231.9Z"/>
<path fill="#85cee3" fill-rule="evenodd" d="M86.4 1043.6L345.2 1043.6L345.2 1302.5L86.4 1302.5L86.4 1043.6ZM151.1 1070.7L147.9 1072.4L138.1 1086L131.7 1091.6L127.3 1097L117.1 1103.8L112.3 1110.8L110.7 1114.8L111.1 1121.3L110.8 1124.5L108.3 1127.8L102.6 1132.6L101.8 1134.2L102.6 1139.1L107.4 1147.1L107.7 1148.8L107 1150.4L105.8 1151.4L101.3 1153.6L99.7 1155.3L98.9 1156.9L98.7 1160.1L100.4 1165L107 1176.3L112.3 1182.8L114.2 1186L119.7 1207L131.7 1227.9L138.5 1236.1L145.5 1247.5L155 1271.7L159.2 1277.8L164 1282.3L168.9 1285.3L173.7 1286L178.6 1284.4L180.3 1283.1L181.2 1281.4L181.4 1279.8L179.9 1271.7L182.3 1263.6L182.6 1260.4L182.1 1257.2L177.9 1244.2L174.4 1237.8L170.5 1234.3L167.3 1233.6L160.8 1235.5L159.2 1235.4L157.4 1234.5L153.8 1231.3L151.7 1228.1L146.6 1210.3L146.6 1207L148 1202.2L155.9 1191L160.2 1182.8L162.2 1176.3L167.5 1152L167.2 1148.8L163.2 1132.6L163.2 1127.8L164.7 1122.9L171.7 1111.6L173.5 1105.1L173.1 1101.9L170.4 1097L169.5 1093.8L171 1085.7L170.4 1082.5L168.9 1080.4L160.8 1073.2L155.9 1071.1L151.1 1070.7ZM262.7 1084.7L259.5 1087.4L255.3 1093.8L255.1 1098.6L257.6 1105.1L261.1 1108.3L266 1109.9L272.4 1110.1L278.2 1108.3L281.2 1105.1L283 1100.2L283.4 1095.4L282.1 1091.4L278.9 1088.3L274 1086L267.6 1084.4L262.7 1084.7ZM325.8 1162.9L322.6 1165.5L316.6 1173L315.2 1176.3L314.8 1179.5L315.9 1190.8L318.1 1203.8L322.6 1219L324.2 1222.5L325.8 1223.3L329 1222.1L330.4 1220L330.8 1210.3L333 1202.2L333.3 1198.9L332.7 1192.5L330.9 1182.8L332.1 1173L330.7 1169.1L327.4 1163.5L325.8 1162.9ZM329 1151.8L327.4 1153.4L326.7 1155.3L326.8 1158.5L327.4 1160L329 1159.7L332.3 1157.4L334 1155.3L334.3 1153.6L333.2 1152L332.3 1151.6L329 1151.8Z"/>
<path fill="#91d8e0" fill-rule="evenodd" d="M86.4 1043.6L345.2 1043.6L345.2 1141.1L342.6 1142.3L339.8 1145.5L337.1 1147.3L329 1147.1L327.4 1147.5L325.5 1148.8L322.7 1153.6L320.4 1161.7L314 1173L312.8 1176.3L312.5 1179.5L315.6 1203.8L318.1 1215.1L318.6 1220L318.1 1223.2L314 1231.3L313.8 1234.5L314.5 1236.7L316.1 1237.8L317.7 1237.6L329 1233.4L335.5 1232.3L337.1 1231.5L338.8 1229.7L340.8 1224.8L340.5 1221.6L336.9 1215.1L335.8 1210.3L339.7 1190.8L335.4 1184.4L335.1 1181.1L335.7 1174.7L333 1165L333.9 1162L335.5 1160.1L342 1154.4L345.2 1152.3L345.2 1302.5L146.6 1302.5L145.8 1299.2L144.6 1297.8L143 1297.1L141.4 1297.4L139.8 1298.6L138 1302.5L86.4 1302.5L86.4 1043.6ZM144.6 1064.5L143.1 1066.3L143.9 1071.1L143.1 1074.4L136.5 1083.8L130.1 1088.5L126.3 1093.8L123.6 1096.2L120.3 1097.7L113.9 1099.4L112.3 1101.1L106.1 1113.2L105.8 1116.4L106.7 1122.9L106.1 1124.5L102.6 1127L95.5 1129.4L94.1 1131L94 1132.6L96.4 1139.1L95.5 1142.3L91.8 1145.5L91.3 1147.2L92.7 1152L93.3 1163.3L95.2 1168.2L102.7 1177.9L109.9 1186L111.6 1194.1L116.6 1207L120.9 1213.5L130.6 1231.3L142.9 1247.5L144.2 1250.7L146.3 1258.8L151.8 1271.7L156.7 1281.4L170.5 1295.4L172.1 1296.4L173.7 1296.7L178.6 1296.4L180.2 1296.1L181.8 1295L187.7 1283.1L187.4 1279.8L183.8 1271.7L183.8 1268.5L184.8 1262L184.3 1258.8L177.8 1241L173.7 1235.1L172.1 1233.6L168.9 1231.9L160.8 1232.2L159.2 1231.6L156.9 1229.7L155.1 1226.4L150.8 1215.1L149.4 1210.3L149.2 1207L150.4 1202.2L157.2 1192.5L161.2 1184.4L163.3 1177.9L169.7 1152L169.3 1140.7L171.3 1132.6L170.9 1131L167.9 1126.1L168 1122.9L173.9 1113.2L177.1 1105.1L177.4 1101.9L176.7 1100.2L173.7 1096.5L172.7 1093.8L174.6 1084.1L171.6 1074.4L171.1 1069.5L170.1 1067.9L167.3 1066L165.6 1065.6L157.6 1067L151.9 1066.3L144.6 1064.5ZM160.8 1048.4L159.2 1050.9L159.2 1053.7L160.8 1057.2L162.4 1058.7L164 1059L166.2 1056.6L166.6 1054.9L166.4 1051.7L165.6 1050L164 1048.3L162.4 1047.9L160.8 1048.4ZM259.5 1070.1L257.9 1071.1L257.4 1072.7L257.8 1080.8L257.2 1084.1L254.6 1088.2L250 1093.8L249.3 1095.4L249.8 1099.9L251.6 1105.1L254.6 1108.4L257.3 1110L262.7 1111.8L270.8 1111.9L278.9 1110.1L282.6 1106.7L284.9 1101.9L287.3 1092.2L286.7 1088.9L284.9 1087.3L267.8 1079.2L266.1 1077.6L262.7 1072.5L261.1 1070.8L259.5 1070.1ZM314.5 1268.5L314.5 1268.5Z"/>
<path fill="#9adbca" fill-rule="evenodd" d="M86.4 1043.6L90.5 1043.6L92.3 1050.1L92.3 1053.3L91.7 1054.9L89.8 1056.6L88 1057L86.4 1057.1L86.4 1043.6ZM139 1043.6L155.5 1043.6L151.7 1050.1L151.5 1051.7L153.7 1056.6L154.1 1058.2L153.4 1059.8L151.1 1060L148.2 1058.2L147.1 1056.6L146.1 1051.7L141.4 1048.2L139.8 1046L139 1043.6ZM187.1 1045.2L188.3 1043.6L224.4 1043.6L227.1 1048.8L230.4 1051.4L232 1051.9L233.6 1051.4L234.5 1050.1L234.2 1043.6L264.3 1043.6L265.2 1054.9L264.5 1059.8L262.7 1061.7L256.2 1062.7L253.4 1064.7L251.9 1069.5L251.4 1082.9L249.8 1085.4L244.1 1088.9L243.5 1092.2L245.4 1105.1L246.5 1108L248.2 1110.2L249.8 1111.7L253 1113.3L264.3 1114.6L277.3 1112.6L282.1 1110.8L284.6 1108.3L288.6 1101.5L292 1097L294.7 1090.5L294.7 1087.3L292.1 1084.1L288.6 1081.4L283.6 1079.2L282.1 1077.6L280.3 1072.7L277.4 1067.9L276.5 1064.7L276.3 1058.2L276.8 1054.9L278 1053.3L280.5 1052.9L287 1056.5L290.2 1057.6L293.5 1056.6L294.7 1053.3L295.5 1043.6L312.7 1043.6L313.1 1046.9L314.1 1048.5L316.1 1049.5L317.7 1049.1L319.3 1047.8L322.2 1043.6L326.5 1043.6L330.7 1048.5L333.9 1050.4L335.5 1050.8L345.2 1047.9L345.2 1095.8L343.9 1097L345.2 1100.5L345.2 1133.7L338.8 1133.6L337.7 1134.2L338 1137.5L337.1 1140.6L335.5 1142.6L332.3 1143.1L327.4 1141.7L324.2 1143.6L321 1147.2L319.6 1150.4L317.5 1160.1L312 1173L310.7 1177.9L311.3 1187.6L315.7 1218.3L315.3 1221.6L310.8 1231.3L310.4 1236.1L311.3 1244.1L312.9 1247.1L314.5 1248.1L316.1 1248.2L321 1245.1L322.6 1245.5L326.8 1250.7L328 1253.9L327.4 1256.1L325.8 1256.6L319.3 1253.8L317.7 1253.7L316.1 1254.9L313.9 1258.8L311.3 1262L303.6 1266.9L302.8 1268.5L303.2 1270.1L304.8 1271.5L309.6 1273.9L312.9 1276.3L314.5 1279.8L314.2 1283.1L313.5 1284.7L306.9 1291.2L306.8 1292.8L310.3 1299.2L311.1 1302.5L220.8 1302.5L219.7 1299.2L218.5 1297.6L211.2 1292.8L207.7 1284.9L206.1 1283.9L201.2 1283.3L199.6 1282.5L196 1276.6L189.9 1271.7L188.4 1268.5L188.1 1263.6L187.3 1260.4L182.6 1250.7L179.2 1241L175.4 1235.1L170.5 1230.8L160.8 1228.4L157.9 1224.8L152.4 1211.9L151.7 1208.6L151.7 1205.4L152.8 1202.2L158.3 1194.1L163.4 1182.8L168.9 1161.6L172.9 1150.4L173.7 1144.2L176.1 1137.5L176.1 1132.6L172.4 1124.5L172.4 1122.9L176.7 1116.4L181.7 1101.9L180.9 1098.6L177.2 1093.8L177 1092.4L178.3 1085.7L177.7 1077.6L180.3 1069.5L181 1063L183.7 1056.6L184.2 1050.1L185.1 1047.9L187.1 1045.2ZM238.4 1064.6L236.8 1066.1L235.9 1067.9L235.5 1071.1L236.8 1074.5L238.4 1076.1L240.1 1076.8L241.7 1075.8L243.3 1073.1L244.4 1067.9L243.9 1066.3L242.4 1064.7L240.1 1064.1L238.4 1064.6ZM254.6 1243.7L253 1244.8L252.6 1245.9L253 1247.5L254.6 1248.4L256.2 1248.3L257.7 1247.5L258.4 1245.9L257.9 1244.9L256.2 1243.9L254.6 1243.7ZM270.8 1226L267.4 1228.1L266.3 1229.7L266 1232.9L266.9 1237.8L267 1242.6L268.1 1244.2L272.4 1245.6L274 1245.3L275.7 1243L277.3 1234.5L276.6 1231.3L274.9 1228.1L272.4 1226L270.8 1226ZM287 1281.4L285.6 1283.1L285.4 1286.4L287 1288.5L290.2 1288.3L292.2 1286.3L292.5 1284.7L292.1 1283.1L290.2 1281.5L287 1281.4ZM330.7 1131L330.3 1132.6L330.7 1133L333.9 1133.4L336.2 1132.6L333.6 1131L330.7 1131ZM337.1 1086.3L335.5 1087.5L334.9 1088.9L335.2 1092.2L337.1 1093.8L340.4 1094.3L341.4 1093.8L342 1090.5L341.3 1087.3L340.4 1086.4L338.8 1085.9L337.1 1086.3ZM243.3 1271.2L241.1 1273.4L241.3 1276.6L242.2 1278.2L244 1279.8L246.5 1281L249.8 1281L251.4 1278.9L252.2 1276.6L252.1 1275L251.4 1273.9L248.2 1271.6L244.9 1270.9L243.3 1271.2ZM115.3 1046.9L120.3 1045.4L123.6 1046.1L125.2 1047.4L126.8 1050.1L128.4 1058.1L133.3 1062.4L134.9 1064.5L138.9 1071.1L139.1 1074.4L134.9 1080.8L127.6 1085.7L123.7 1092.2L122 1093.6L118.7 1094.6L110.6 1094.7L109 1095.7L105.8 1100.9L104.2 1101.3L99.3 1099L97.7 1099L95.2 1100.2L93.4 1103.5L94.3 1110L93.9 1113.2L90.8 1118L86.4 1122.6L86.4 1064.8L92.8 1060.9L96.1 1059.8L100.9 1059.2L105.8 1060L107.4 1059.6L111.9 1050.1L115.3 1046.9ZM112.3 1068.2L111.3 1071.1L111.7 1072.7L113.9 1074.5L115.5 1074.1L116.2 1072.7L115.5 1069.5L113.9 1068.1L112.3 1068.2ZM86.4 1156.9L87.2 1158.5L87.4 1161.7L86.4 1165.8L86.4 1156.9ZM341.8 1161.7L345.2 1160.4L345.2 1181.6L342 1180.1L340.4 1178.4L337.2 1168.2L337.5 1165L338.9 1163.3L341.8 1161.7ZM86.4 1179.5L86.4 1179.1L89.6 1180.2L96.1 1181.1L99.3 1183.2L101.7 1186L109.3 1198.9L113 1207L119.2 1215.1L129.2 1234.5L133.7 1241L140.6 1249.1L141.6 1252.3L141.9 1258.8L146.2 1266.9L149.6 1276.6L151 1283.1L151.9 1284.7L155.9 1288.8L164 1295.1L165.5 1297.6L167 1302.5L150.2 1302.5L150 1297.6L149.5 1295.8L146.3 1292.8L143 1291.5L139.8 1292.1L137.3 1294.4L134.9 1298.4L133.7 1302.5L86.4 1302.5L86.4 1278.2L88 1278.6L89.4 1279.8L88.4 1286.3L90.3 1287.9L94.5 1289.1L98.2 1291.2L99.8 1292.8L104.2 1300.1L105.8 1300.7L107.4 1299.3L109 1296.9L109.9 1294.4L109.6 1292.8L105.8 1289.2L104.2 1286.3L104.1 1283.1L105.9 1275L104.7 1271.7L102.6 1270.3L100.9 1270.6L96.1 1274.9L94.5 1275.6L92.8 1275.4L91.2 1273.2L90.1 1270.1L90 1266.9L92.3 1260.4L92.1 1257.2L90.1 1252.3L86.4 1248L86.4 1179.5ZM345.1 1213.5L345.2 1215.7L345.1 1213.5ZM345 1231.3L345.2 1253.6L342 1252.4L338.8 1250L337.1 1247.5L336.4 1244.2L337.3 1241L345 1231.3ZM334.4 1262L338.8 1261.4L345.2 1261.3L345.2 1302.5L331.4 1302.5L329 1300.8L327.4 1301.5L326.9 1302.5L318.8 1302.5L322.2 1294.4L323.3 1284.7L325.8 1279.8L331.8 1271.7L332.2 1270.1L332 1263.6L334.4 1262ZM188.3 1299.2L189.9 1298.1L191.5 1297.9L193.8 1299.2L195.7 1302.5L186.5 1302.5L188.3 1299.2Z"/>
<path fill="#b0dc83" fill-rule="evenodd" d="M205.9 1045.2L207.3 1043.6L217.8 1043.6L221.5 1050.1L223.9 1053.1L232.6 1059.8L233.3 1061.4L233.2 1063L231.8 1069.5L231.9 1072.7L235.2 1080.8L236.2 1090.5L240.9 1098.6L241.2 1101.9L240.4 1108.3L244.8 1113.2L249.8 1116.4L253 1117.1L264.3 1117.3L272.4 1115.3L282.1 1113.9L286.3 1111.6L291.8 1105.6L298.4 1103.5L303.2 1101.1L304.8 1099.7L305.9 1097L304 1088.9L305.6 1076L307.5 1072.7L309.6 1071.6L312.9 1072L316.4 1074.4L316.9 1076L316.6 1077.6L314.7 1082.5L314.5 1084.1L315.1 1085.7L317.7 1087.2L322.6 1086.9L325.8 1087.5L327.5 1088.9L329.3 1095.4L330.3 1097L338.7 1101.9L341.4 1106.7L341.5 1108.3L340.7 1110L338.8 1111.1L337.1 1111.2L333.9 1110.4L329 1108L327.4 1107.9L324.7 1110L322.9 1113.2L322.3 1122.9L320.2 1129.4L321.1 1135.8L321 1138.8L316 1145.5L315.3 1156.9L309.7 1174.7L308.7 1179.5L311.1 1203.8L313 1213.5L312.7 1220L308.6 1229.7L307.3 1237.8L306.4 1240.5L304.8 1242.2L301.3 1244.2L300 1245.9L299.7 1247.5L301.3 1250.7L305.4 1253.9L306.4 1255.6L306.3 1257.2L304.5 1258.8L303.2 1259L298.3 1257.9L295.1 1259L293.5 1260.6L290.2 1266.7L288.6 1267.9L285.4 1267.6L278.9 1264.7L277 1265.3L275.9 1268.5L276.6 1279.8L273.5 1289.5L275.5 1297.6L275.2 1302.5L261.5 1302.5L263.9 1296L264 1292.8L262.7 1288.4L259.9 1283.1L259.8 1281.4L260.8 1279.8L263.7 1278.2L264.9 1276.6L265.1 1275L263.3 1268.5L262.2 1257.2L262.5 1253.9L263.6 1252.3L266.7 1250.7L270.8 1250.8L274.4 1252.3L278.9 1256.1L280.5 1256.2L282 1255.6L283.4 1253.9L283.6 1250.7L281.8 1244.2L282.4 1241L284.4 1236.1L284.4 1231.3L280.7 1224.8L275.7 1219.7L274 1218.9L270.8 1218.7L266 1221.6L259.2 1228.1L258.6 1229.7L260 1236.1L259.5 1237.2L257.9 1237.9L253 1238.2L251.4 1238.9L248.5 1242.6L247.2 1245.9L247.4 1249.1L248.4 1250.7L252.5 1253.9L253.8 1255.6L254.2 1257.2L253.6 1260.4L251.9 1263.6L249.8 1264.6L241.7 1262.3L236.8 1262.2L228.7 1266.8L227.4 1268.5L227.1 1270.1L227.9 1273.4L233.9 1281.4L235.8 1286.3L234.6 1289.5L231 1294.4L228.7 1296L227.1 1296.2L223.9 1295.1L215.8 1289.5L213.7 1286.3L209.4 1276.6L207.7 1274.1L200 1266.9L194.8 1264.4L191.5 1261.3L185.1 1252.1L180.7 1241L177.7 1236.1L172.1 1230L168.9 1228.1L163.5 1226.4L161.4 1224.8L154.4 1210.3L153.9 1207L154.5 1203.8L159.5 1195.7L164.4 1184.4L166.6 1177.9L168.9 1167.8L172.1 1159.7L177 1152.4L187.2 1142.3L178.6 1128.9L177.5 1124.5L178.6 1122.4L183.4 1119.1L186.7 1118.4L189.9 1119.3L191.5 1119.3L193.4 1116.4L193.1 1113.2L191.5 1112.6L186.7 1113.5L185.1 1112.4L184.3 1110L185.7 1101.9L185.7 1093.8L191.5 1089.6L192.6 1087.3L192.9 1084.1L192.4 1080.8L191.5 1079.3L189.9 1078.5L186.7 1078.3L184.9 1077.6L184.3 1072.7L185.3 1066.3L188.8 1059.8L189.9 1053.3L190.7 1051.7L193.2 1050L201.9 1048.5L205.9 1045.2ZM232 1107.9L228.8 1110L228.3 1111.6L228.7 1113.2L230.4 1114.5L232 1114.9L235.4 1113.2L236.4 1111.6L236.6 1110L235.4 1108.3L232 1107.9ZM264.3 1176L262.7 1178.1L260.4 1184.4L260 1189.2L261.2 1192.5L265.9 1198.9L267.7 1205.4L270.8 1208.5L274 1209.4L275.7 1208.7L277 1207L277.6 1203.8L275.8 1200.6L271.4 1195.7L271.5 1186L270.8 1180.9L269.2 1177.8L267.6 1176.4L266 1175.8L264.3 1176ZM191.5 1124.9L189.4 1127.8L188.4 1131L188.9 1132.6L191.9 1135.8L192.7 1137.5L192.7 1139.1L191.4 1142.3L202.9 1140.2L205.1 1139.1L206.2 1137.5L206.9 1134.2L206.1 1130.5L204.5 1129.4L199.6 1128.2L193.2 1124.6L191.5 1124.9ZM249.5 1050.1L253 1048.8L256.2 1049.7L258.5 1051.7L259.4 1053.3L259.5 1055L258.5 1056.6L256.2 1057.3L251 1056.6L248.4 1054.9L247.4 1053.3L247.8 1051.7L249.5 1050.1ZM116.5 1051.7L118.7 1050.8L121 1051.7L121.3 1053.3L120.7 1054.9L118.7 1056.8L117.1 1057.2L115.5 1056.2L115.4 1053.3L116.5 1051.7ZM344.6 1053.3L345.2 1053.1L345.2 1064.3L340.4 1064.9L337.1 1066.9L335.5 1069.5L335 1074.4L333.9 1076.2L332.3 1076.2L328.8 1074.4L327 1072.7L326 1069.5L326 1064.7L327.4 1061.5L330.7 1060.3L337.1 1059.8L338.8 1058.6L341.8 1054.9L344.6 1053.3ZM123.2 1066.3L125.2 1065.3L126.8 1065.5L128.5 1066.3L131.2 1069.5L132.6 1072.7L132.8 1074.4L131.7 1077.2L130.1 1078.7L126.8 1079.5L124.7 1079.2L123.6 1078.2L122.1 1069.5L123.2 1066.3ZM96.2 1079.2L97.7 1078.1L99.3 1077.8L102.6 1078.1L105.8 1080L109.7 1084.1L108.8 1085.7L107.4 1086.2L105.8 1086.7L102.6 1086.1L96.4 1082.5L95.8 1080.8L96.2 1079.2ZM115.3 1082.5L118.7 1081.7L120.8 1082.5L121.1 1085.7L120.3 1087.9L119.4 1088.9L117.1 1089.4L115.7 1088.9L111.8 1085.7L112.4 1084.1L115.3 1082.5ZM86.4 1113.2L86.4 1111.6L86.4 1113.2ZM343.4 1166.6L345.2 1165.8L345.2 1176.9L342.8 1174.7L341.5 1171.4L341.8 1168.2L343.4 1166.6ZM94.3 1192.5L96.1 1192.6L99.3 1193.9L102.6 1196.2L105 1198.9L108.4 1207L115.5 1214.1L117.4 1216.7L128.8 1241L136.7 1250.7L136.5 1253L133.9 1257.2L133.7 1258.8L134.9 1262L139 1268.5L139.7 1273.4L139.3 1278.2L137.1 1284.7L130.8 1294.4L127.2 1302.5L121.7 1302.5L119.1 1294.4L118.9 1291.2L119.5 1286.3L118.7 1283.4L117.1 1282.2L112.2 1281.4L111.8 1279.8L112.4 1273.4L110.8 1268.5L108.1 1265.3L98.9 1257.2L91.9 1245.9L89.8 1237.8L86.4 1234.8L86.4 1221L89.3 1218.3L90 1215.1L88.3 1211.9L86.4 1210.6L86.4 1194.7L94.3 1192.5ZM345.2 1239.4L345.2 1247.3L343.4 1245.9L342.9 1244.2L343.6 1241.1L345.2 1239.4ZM339.7 1270.1L342 1268.9L345.2 1268.9L345.2 1286L338.8 1285.1L333.9 1283.8L333.1 1283.1L332.9 1281.4L334.2 1278.2L339.7 1270.1ZM301.2 1278.2L303.2 1277L306.4 1276.8L308.8 1278.2L309.7 1279.8L309.6 1281.4L308.6 1283.1L306.4 1284.4L303.1 1284.7L301.5 1283.9L300.4 1281.4L301.2 1278.2ZM331.6 1291.2L332.3 1290.8L340.4 1296.5L345.2 1298L345.2 1302.5L340 1302.5L338.8 1299.1L332 1292.8L331.6 1291.2ZM292.9 1296L295.1 1295.4L299.9 1297.1L303.2 1299.2L305 1302.5L290.4 1302.5L291.3 1297.6L292.9 1296ZM156.8 1297.6L159.2 1297.8L160.6 1299.2L161.7 1302.5L153.8 1302.5L154.8 1299.2L156.8 1297.6Z"/>
<path fill="#c6de46" fill-rule="evenodd" d="M221.8 1061.4L225.5 1062.4L227.3 1064.7L227.5 1072.7L231 1080.8L231.8 1092.2L234.5 1098.6L234.2 1100.2L233.6 1100.9L225.4 1106.7L223.9 1108.9L223.1 1111.6L223.3 1113.2L225 1116.4L227.1 1118.6L230.4 1120.6L233.6 1120.8L241.7 1119L251.4 1120.6L264.3 1120.1L274 1116.9L285.4 1115.7L293.5 1112.1L296.7 1111.3L299.9 1111.5L304.8 1113.6L308 1114L310.2 1113.2L311.7 1111.6L312 1110L310.8 1105.1L310.9 1101.9L312.9 1096.5L314.5 1094.5L317.7 1093.7L321 1094.7L322.3 1097L322.7 1100.2L321.6 1105.1L318.2 1111.6L316.9 1121.3L314.9 1129.4L314.3 1135.8L311.3 1142.1L310.9 1143.9L312.4 1152L312.4 1155.3L310.6 1161.7L310 1168.2L307.6 1176.3L307 1181.1L308.6 1195.7L308.7 1203.8L310.2 1210.3L310.5 1215.1L309.5 1220L303.9 1236.1L301.5 1238.4L293.5 1241.3L292.6 1241L290.9 1226.4L288.6 1223.4L283.1 1218.3L281.1 1215.1L280.7 1211.9L281.2 1203.8L279.7 1200.6L275.1 1194.1L274 1183.3L272 1176.3L270.8 1173.8L264.3 1164.8L262.7 1163.4L261.1 1162.9L257.9 1163.8L248.5 1171.4L247.3 1174.7L248.6 1177.9L253.3 1182.8L255.6 1190.8L259.1 1198.9L258.5 1203.8L253.4 1215.1L253.4 1220L252.9 1221.6L248.4 1229.7L244.9 1241L239.8 1249.1L236.8 1251.8L232 1254.8L222 1258.8L220.4 1260.4L219.9 1262L220.2 1265.3L221.6 1268.5L230 1281.4L231.1 1284.7L230.9 1287.9L230.1 1289.5L228.7 1291.2L225.5 1292L220.7 1289.8L216.9 1286.3L214.5 1281.4L211.5 1271.7L208.6 1266.9L205.9 1260.4L204.5 1258.9L202.9 1258.5L198 1259.3L194.8 1258.9L189.9 1255.2L186.8 1250.7L182.7 1241L179.6 1236.1L172.1 1227.8L165.6 1224.4L162.7 1221.6L157.6 1211.5L156.5 1207L157.2 1203.8L160.8 1197.3L166.7 1182.8L170.8 1168.2L173.7 1163.5L178.6 1159.6L186.7 1151.5L189.9 1150.5L196.4 1149.9L204.5 1147.3L207.7 1145.6L211.4 1142.3L213.7 1137.5L213.3 1132.6L209.3 1122L207.7 1120.2L202.9 1120.1L201.7 1118L202.9 1114.5L204.5 1114.3L207.7 1116.6L209.3 1115.2L209.8 1111.6L207.7 1106.8L206.1 1105.3L204.5 1104.6L193.2 1102.9L191.5 1100.9L191.4 1098.6L192 1097L202.8 1084.1L204.7 1080.8L204.7 1079.2L199.6 1076.7L194.1 1072.7L192 1071.1L191.9 1069.5L201.2 1067.4L209.3 1063.7L215.8 1063.4L221.8 1061.4ZM90.9 1200.6L96.1 1200.1L99.3 1200.7L100.9 1202.1L101.6 1203.8L102.8 1210.3L104.9 1211.9L112.3 1215.6L115.9 1220L119.2 1232.9L119.9 1242.6L122.2 1249.1L123.1 1255.6L127.6 1262L128.8 1265.3L128.4 1267.8L126.8 1270.5L125.3 1271.7L131.7 1274.3L133.3 1275.7L134.2 1278.2L133.3 1282L131.7 1284.1L130.1 1285.1L128.4 1285.5L126.8 1284.8L125.2 1282L124.1 1276.6L125 1273.4L124.9 1271.7L123.6 1271.6L120.3 1269.6L112.2 1262L104.2 1256.3L98.1 1245.9L94 1229.7L94 1228.1L96.2 1223.2L96.9 1216.7L96.7 1213.5L94.3 1210.3L86.4 1204.8L86.4 1201.9L90.9 1200.6ZM260.4 1211.9L261.7 1211.9L263.1 1213.5L262.5 1215.1L261.1 1215.9L259.7 1215.1L259.5 1214.4L259.5 1213.1L260.4 1211.9ZM291.4 1242.6L291.8 1241.7L292.3 1244.2L291.8 1249.2L290.2 1248.7L289.5 1245.9L290.2 1243.5L291.4 1242.6Z"/>
<path fill="#d8e025" fill-rule="evenodd" d="M215.5 1082.5L221.6 1082.5L217.4 1085L215.1 1088.9L214.1 1092.2L213.8 1093.8L214.4 1095.4L220.7 1098.3L222.3 1100.2L222.1 1101.9L220.5 1105.1L219 1107L217.4 1108L215.8 1107.4L214.2 1105L212.6 1096.5L210.9 1095.5L206.1 1094.8L204.5 1093.8L207.7 1087.4L209.3 1085.3L212.6 1083L215.5 1082.5ZM286.2 1118L291.8 1117.2L295.1 1117.4L307 1121.3L309.3 1122.9L310 1124.5L309.6 1129.4L305.8 1140.7L306 1143.9L308.7 1150.4L309.3 1153.6L308 1161.7L308.2 1168.2L305.8 1177.9L305.4 1182.8L306.7 1194.1L306.4 1203.8L307.8 1210.3L308 1213.5L306.4 1218.9L301.5 1229.6L299.9 1231.1L298.3 1230.9L294 1223.2L286 1215.1L284.7 1211.9L283.2 1202.2L278.8 1195.7L277.2 1192.5L275.9 1182.8L273.6 1174.7L272.3 1171.4L266.2 1161.7L264.3 1160.2L261.1 1159.2L257.9 1159.7L251.4 1163.6L249.8 1163.6L244.6 1161.7L241.7 1161.5L240.1 1162.2L238.8 1165L240 1173L243.3 1180.4L248.9 1187.6L251.5 1195.7L251.4 1197.3L249 1203.8L247.8 1213.5L247.7 1221.6L239.1 1244.2L237 1247.5L233.6 1250.8L230.4 1252.8L225.5 1254.2L214.2 1255.5L212.2 1253.9L210.3 1247.5L209.3 1246L206.1 1244.8L201.6 1245.9L200 1247.5L199.1 1252.3L198 1253.9L196.4 1254.5L194.1 1253.9L191.3 1250.7L188.7 1244.2L183.6 1237.8L173.7 1226.6L165.5 1220L161 1211.9L159.8 1208.6L160.4 1203.8L169.9 1179.5L171.9 1171.4L173.5 1168.2L175.4 1166.6L181.8 1163.9L188.3 1156.8L191.5 1155.7L198 1155.3L206.6 1152L216.8 1142.3L222.3 1132.5L223.9 1131.3L230.4 1131.8L233.6 1131.4L243.3 1126.9L249.8 1125.1L264.3 1122.9L274 1119L286.2 1118ZM217.7 1121.3L219 1120.1L220.7 1120.8L221.9 1122.9L222.2 1126.1L220.7 1128.3L219 1128.1L217.4 1126.4L217 1124.5L217.7 1121.3ZM107.2 1221.6L109 1221.2L111 1223.2L111.7 1228.1L111.8 1239.4L115.4 1249.1L115.3 1252.3L113.9 1254.2L112.3 1254.6L109 1253.6L106.3 1250.7L100.9 1236.1L101.2 1232.9L104.9 1228.1L107.2 1221.6ZM217 1271.7L219 1271.8L220.7 1272.8L226.5 1279.8L228.4 1284.7L228.3 1286.3L227.1 1288.3L225.5 1288.9L222.3 1288.1L218.5 1284.7L216.8 1281.4L215.8 1276.6L216 1273.4L217 1271.7Z"/>
<path fill="#e6e214" fill-rule="evenodd" d="M273.4 1121.3L277.3 1120.5L291.8 1120.4L295.1 1121.9L297.9 1124.5L300.5 1127.8L301.9 1131L302.5 1142.3L305.8 1150.4L306.5 1153.6L306 1161.7L306.5 1168.2L304.4 1177.9L304 1182.8L305.1 1194.1L304.2 1203.8L305.4 1211.9L304.7 1215.1L301.5 1220L299.9 1221L296.7 1220.3L291.9 1216.7L288.6 1212.7L287.5 1210.3L285.4 1202.2L279.4 1192.5L277.2 1181.1L274.3 1171.4L267.6 1159.2L264.3 1157L259.5 1156.1L256.2 1156.6L251.4 1159.4L249.8 1159.6L243.3 1157.9L238.4 1157.8L235.6 1158.5L233.2 1160.1L232.3 1161.7L231.6 1166.6L233.3 1171.4L237.5 1179.5L243.6 1194.1L244.6 1220L243.3 1225.1L238.7 1232.9L237.3 1242.6L234.6 1247.5L232 1249.9L228.7 1251.5L223.9 1252.4L219 1252L215.8 1250.2L212.6 1244L210.9 1242.5L207.7 1241.7L199.6 1242L196.4 1241.5L189.9 1237.9L180.2 1230.6L173.7 1222.3L167.3 1215.8L165.1 1211.9L164.1 1208.6L164.2 1205.4L167.1 1192.5L175.4 1170.8L177 1169.6L183.4 1168.4L185.1 1167.5L188.3 1162.9L189.9 1161.4L191.5 1160.7L198 1160.6L204.5 1158.5L214.2 1159.7L219 1158.5L218.3 1156.9L215.8 1154.9L214.8 1152L215.8 1150.2L219 1148.8L220.7 1149.1L222.1 1150.4L222.4 1152L221.3 1155.3L219.1 1158.5L220.7 1159.1L223.9 1165.5L225.5 1167.3L227.1 1167.5L228.7 1166.8L229.8 1165L229.5 1156.9L226.1 1148.8L225.7 1145.5L225.7 1142.3L226.9 1139.1L228.8 1137.5L241.7 1131.4L253 1128.2L262.7 1126.3L273.4 1121.3ZM219.1 1278.2L220.7 1277.3L222.3 1278.2L224.6 1281.4L225.1 1283.1L224.7 1284.7L223.9 1285.2L222.3 1284.8L220.7 1283.3L219.1 1279.8L219.1 1278.2Z"/>
<path fill="#f5e100" fill-rule="evenodd" d="M275.3 1122.9L278.9 1122.3L287 1122.2L290.2 1122.7L293.6 1124.5L296.4 1127.8L298 1131L300.8 1143.9L304.1 1152L304.9 1168.2L302.6 1182.8L303.5 1194.1L302 1203.8L302.4 1211.9L300.7 1215.1L298.3 1216.2L295.1 1215L290.5 1210.3L286.7 1200.6L281.4 1192.5L275.7 1170.5L270.8 1160.2L268.5 1156.9L264.3 1154.2L257.9 1152.9L253 1153L248.2 1154.8L238.7 1153.6L235.2 1151.1L232.8 1145.5L232.5 1142.3L233 1140.7L234.1 1139.1L238.4 1135.8L243.3 1133.8L262.7 1129.3L275.3 1122.9ZM203.8 1163.3L206.1 1162.8L209.3 1163.3L214.2 1164.8L216.6 1166.6L218.3 1169.8L218.5 1176.3L219 1178L220.7 1179.1L225.5 1179.9L228.1 1181.1L229.8 1187.6L231.1 1189.2L236.8 1192.6L238.4 1194.3L239.7 1197.3L241.6 1213.5L241.5 1220L239.4 1224.8L234.3 1229.7L233.3 1231.3L233 1232.9L235.4 1239.4L234.7 1244.2L232 1248L227.1 1250.4L222.3 1250.5L218.6 1249.1L216.3 1245.9L214.2 1239.8L212.6 1238.8L201.2 1238.7L198 1237.8L195.2 1236.1L187.6 1229.7L183.4 1223L172.1 1215.1L169.8 1211.9L169.4 1208.6L170.1 1203.8L169.7 1195.7L170.2 1192.5L177.7 1176.3L178.6 1175.1L180.2 1174.5L186.7 1174.9L189.9 1174.1L191.6 1173L195.3 1168.2L203.8 1163.3Z"/>
<path fill="#fbc600" fill-rule="evenodd" d="M277.2 1124.5L282.1 1123.9L287 1124.1L290.2 1125.1L293.5 1127.7L296.2 1132.6L299.7 1145.5L302.6 1153.6L303.3 1168.2L301.3 1182.8L301.9 1194.1L300 1202.2L299.2 1208.6L298.3 1210.5L296.7 1211L293.5 1209.2L291.8 1207.1L288.9 1200.6L283.4 1192.5L276.3 1168.2L272.4 1159.6L269.2 1154.5L267.6 1152.9L264.3 1151.1L253 1148.4L249.8 1148.2L244.9 1149.8L241.7 1149.9L239.8 1148.8L237.9 1145.5L237.7 1142.3L238.3 1140.7L241.7 1137.8L261.1 1133.1L266 1130.9L274 1125.7L277.2 1124.5ZM207 1166.6L210.9 1167.3L213.7 1169.8L214.3 1173L213.8 1179.5L214.3 1181.1L215.7 1182.8L222.3 1185.4L227.1 1191.9L233.7 1195.7L235.3 1197.3L236 1198.9L236.8 1205.4L238.5 1211.9L238.7 1216.7L236.8 1221L231.5 1224.8L226.4 1231.3L227.1 1232.9L232 1237.4L233.5 1241L233 1244.2L232 1245.9L230.4 1247.5L227.1 1248.9L222.3 1248.7L220.1 1247.5L218.8 1245.9L217.9 1242.6L218.3 1239.4L221.5 1232.9L221.3 1231.3L219 1229.1L217.4 1228.1L215.8 1228.2L212.1 1232.9L209.9 1234.5L207.7 1235.3L204.5 1235.4L201.4 1234.5L199.6 1232.9L197 1228.1L193.2 1225.7L187.5 1218.3L185 1216.7L177.4 1213.5L175.5 1211.9L174.6 1210.3L174.5 1207L176.2 1194.1L181.3 1182.8L183 1181.1L185.1 1180.2L194.8 1177.9L196.4 1176.5L201.2 1169.7L204.5 1167.2L207 1166.6Z"/>
<path fill="#f8ac00" fill-rule="evenodd" d="M278.6 1126.1L282.1 1125.6L287 1126L290.2 1127.4L292.3 1129.4L295.6 1135.8L301.1 1153.6L301.7 1168.2L299.9 1182.8L300.3 1194.1L296.7 1202.8L295.1 1203.9L293.5 1202.9L286.6 1194.1L284.7 1190.8L277.3 1166.8L270.8 1153.8L266 1148.1L256.2 1144L254.7 1142.3L255.2 1140.7L256.2 1140L262.7 1136.8L274 1128.3L278.6 1126.1ZM206.7 1171.4L207.8 1171.4L209.2 1173L209.1 1174.7L207.7 1178.6L206.1 1179.9L204.5 1179.7L203.1 1177.9L203.3 1174.7L204.5 1172.7L206.7 1171.4ZM190.6 1184.4L194.8 1184.6L200 1187.6L204 1189.2L210.9 1190.9L217.4 1191.7L225.9 1198.9L227.5 1202.2L228.5 1211.9L228.1 1213.5L224.2 1218.3L222.3 1219.2L220.7 1218.8L212.6 1214.2L206.1 1214.5L204.5 1213.7L203.6 1211.9L203.9 1208.6L202.8 1205.4L201.1 1203.8L198 1202.3L194.5 1202.2L193.3 1203.8L195 1211.9L194.8 1213.6L193.2 1214.9L188.8 1213.5L181 1208.6L180.1 1207L180.4 1203.8L181.8 1201.1L185.5 1198.9L186.7 1197.3L187.2 1187.6L188.3 1185.6L190.6 1184.4ZM223 1237.8L225.5 1236.9L227.1 1237L230.4 1238.9L231.5 1241L231.6 1242.6L229.9 1245.9L227.1 1247.4L225.5 1247.6L223.9 1247.4L221.4 1245.9L220.5 1244.2L220.5 1241L223 1237.8Z"/>
<path fill="#f49200" fill-rule="evenodd" d="M279.3 1127.8L283.7 1127.2L286.9 1127.8L289.8 1129.4L291.3 1131L295.1 1138.4L299.7 1153.6L300.3 1168.2L298.4 1184.4L298.6 1192.5L297.5 1195.7L295.1 1198L293.5 1197.9L291.8 1196.9L289 1194.1L286.9 1190.8L282.1 1178.3L277.9 1165L267 1142.3L267.2 1139.1L270.4 1134.2L275.7 1129.6L279.3 1127.8ZM202.7 1195.7L206.1 1195.5L207.7 1196.3L208.9 1197.3L209.6 1198.9L209.3 1199.9L207.7 1200.7L204.5 1199.4L202.3 1197.3L202.7 1195.7ZM223.5 1241L225.5 1239.7L227.1 1239.8L228.7 1240.7L229.4 1242.6L228.8 1244.2L227.1 1245.3L225.5 1245.5L223.9 1244.8L222.9 1242.6L223.5 1241Z"/>
<path fill="#f07a00" fill-rule="evenodd" d="M279.8 1129.4L282.1 1128.8L285.4 1129L288.6 1130.5L290.6 1132.6L294.7 1140.7L298.5 1153.6L299 1158.5L298.9 1166.6L296.4 1190.8L295.1 1193.7L293.5 1194.1L291.8 1193.3L290.2 1191.7L285.4 1182.8L279.2 1165L273.1 1152L270.5 1143.9L270.5 1139.1L271.9 1135.8L275.7 1131.8L279.8 1129.4Z"/>
<path fill="#eb6103" fill-rule="evenodd" d="M280.1 1131L282.1 1130.4L285.4 1130.7L288.6 1132.6L290.2 1134.4L294.2 1142.3L297.3 1153.6L297.9 1161.7L296.3 1177.9L295.1 1183.2L293.5 1186.8L291.8 1187.5L288.6 1184.6L285.4 1179L280.5 1165L275.1 1153.6L273 1147.2L272.4 1142.3L273.3 1137.5L275.7 1134.1L280.1 1131Z"/>
<path fill="#e44911" fill-rule="evenodd" d="M280.4 1132.6L282.1 1132.1L285.4 1132.4L287 1133.2L289.6 1135.8L293.1 1142.3L295.9 1152L296.8 1158.5L296.4 1165L294.5 1177.9L293.5 1180.9L291.8 1182.3L290.2 1182.2L288.6 1180.8L286.7 1177.9L281.8 1165L276.4 1153.6L274.7 1148.8L274.1 1143.9L274.6 1139.1L276.3 1135.8L280.4 1132.6Z"/>
<path fill="#de3519" fill-rule="evenodd" d="M280.9 1134.2L283.7 1133.7L285.4 1134.1L288.6 1136.7L292 1142.3L294.8 1152L295.7 1158.5L295.1 1165L292.5 1176.3L291.8 1177.6L290.2 1178.1L288.6 1177L287 1174.6L282.5 1163.3L277.5 1153.6L276 1148.8L275.6 1143.9L276.3 1139.1L278.5 1135.8L280.9 1134.2Z"/>
<path fill="#d72c1e" fill-rule="evenodd" d="M281.7 1135.8L283.7 1135.6L285.4 1136L288.6 1138.7L291.6 1143.9L293.4 1150.4L294.5 1156.9L294.2 1161.7L291.8 1170.1L290.2 1172.4L288.6 1172.1L287 1169.9L279.5 1155.3L277.6 1150.4L276.9 1145.5L277.5 1140.7L279.3 1137.5L281.7 1135.8Z"/>
<path fill="#ce2a20" fill-rule="evenodd" d="M280.4 1139.1L282.1 1137.8L283.7 1137.6L285.4 1138L288.6 1140.8L291.1 1145.5L292.7 1152L293.2 1158.5L291.8 1164.5L290.2 1166.8L288.6 1167L287 1165.4L282.1 1157.8L279.3 1152L278.5 1148.8L278.4 1143.9L278.9 1141.8L280.4 1139.1Z"/>
<path fill="#af2520" fill-rule="evenodd" d="M281.8 1140.7L283.7 1139.8L287 1141.2L288.6 1143.1L290.5 1147.2L291.8 1153.6L291.8 1157.7L290.2 1162.1L288.6 1162.8L287 1161.9L283.7 1158L280.5 1152L279.8 1148.8L279.8 1145.5L280.5 1142.5L281.8 1140.7Z"/>
<path fill="#8c1e1b" fill-rule="evenodd" d="M282.1 1143.9L283.7 1142.5L285.4 1142.6L287 1143.6L288.6 1145.8L290.1 1150.4L290.4 1153.6L290.1 1156.9L288.6 1159L287 1158.7L285.4 1157.5L282.1 1152.5L281.2 1148.8L282.1 1143.9Z"/>
<path fill="none" stroke="#000" stroke-width="1.25" stroke-linejoin="round" d="M143 1161.4L141.4 1162.4L139.8 1164.9L139.7 1169.8L141.4 1173.3L143 1174.4L144.6 1174.3L146.2 1173.2L147.1 1171.4L147.5 1166.6L146.2 1161.5L144.6 1161L143 1161.4M151.1 1096.6L147.9 1098.2L144.6 1101.1L140.4 1106.7L138.6 1110L137.1 1126.1L137.9 1129.4L139.8 1131.2L141.4 1131.4L144.6 1130L152.7 1123.2L157 1118L159.7 1113.2L160.5 1108.3L160.2 1105.1L159.2 1101.7L157.6 1099.1L155.9 1097.5L154.3 1096.6L151.1 1096.6M267.6 1097L267.4 1098.6L269.2 1100.6L270.8 1101L272.6 1100.2L273.2 1098.6L272.4 1096.6L270.8 1095.7L269.2 1095.8L267.6 1097M144.6 1145.4L136.5 1147.1L133.3 1148.7L128.4 1156.9L124 1161.7L123.3 1163.3L123.6 1168.2L128.7 1179.5L130.6 1189.2L131.7 1190.7L133.3 1191.5L134.9 1191.6L138.1 1190.8L143 1189.2L146.2 1187.4L152.7 1180.9L154.4 1177.9L156 1173L158.9 1156.9L158.5 1153.6L155.9 1149.6L152.7 1146.6L149.5 1145.2L144.6 1145.4M170.5 1247.2L168.8 1249.1L168.4 1252.3L168.6 1253.9L170.5 1256.6L172.1 1257L173.4 1255.6L173.5 1252.3L172.1 1248.4L170.5 1247.2M151.1 1074L147.9 1076.3L138.1 1089.5L130.1 1098L121.9 1105.1L118.7 1111.2L115.5 1115.1L114.6 1118L113.8 1124.5L111.8 1127.8L106.8 1132.6L105.9 1134.2L105.7 1135.8L106.8 1139.1L111.2 1145.5L111.9 1148.8L111.6 1150.4L110.6 1152.2L104.2 1158.3L103.5 1160.1L103.6 1161.7L104.9 1165L107.9 1169.8L110.2 1176.3L116.3 1184.4L118.4 1192.5L120.8 1198.9L121.4 1203.8L122.4 1207L133.3 1225.8L136.5 1229.3L141.8 1232.9L144.3 1241L151.2 1253.9L154.5 1265.3L156.5 1270.1L159.2 1273.9L164 1278.1L168.9 1280.6L172.1 1280.8L174.4 1279.8L175.5 1278.2L176.4 1271.7L179.8 1265.3L180.9 1262L180.8 1257.2L176.9 1244.2L173.7 1238.5L170.5 1235.8L167.3 1235.4L162.4 1237.8L159.2 1238.3L155.9 1236.7L148.3 1231.3L146.9 1229.7L147.2 1221.6L143.9 1210.3L143.9 1207L145.8 1202.2L147.8 1198.9L153.2 1192.5L157.6 1185.3L159.5 1181.1L161.4 1174.7L165.4 1156.9L165.8 1152L164.5 1147.2L158.8 1134.2L158.4 1131L161.5 1124.5L168.7 1113.2L170.5 1108.3L170.9 1105.1L170.3 1101.9L167.1 1093.8L168 1085.7L167.3 1083.6L164 1080L157.6 1075.2L154.3 1073.9L151.1 1074M266 1087L262.7 1088L261.1 1089.3L258.9 1092.2L258.1 1093.8L257.6 1097L258.7 1101.9L260.7 1105.1L264.3 1107.6L267.6 1108.5L270.8 1108.8L275.7 1108L278.9 1105.7L280.9 1101.9L281.5 1097L280.8 1093.8L278.9 1091.1L275.7 1088.8L270.8 1087.2L266 1087M324.2 1170.9L319.3 1174.5L318.1 1176.3L317.5 1177.9L317.4 1181.1L317.9 1189.2L320.1 1202.2L322.6 1207.3L324.2 1208.9L325.8 1209L327.4 1207.6L329 1205.1L330.2 1202.2L330.5 1198.9L327.2 1179.5L327.1 1173L325.8 1170.9L324.2 1170.9M217.8 1043.6L222.6 1051.7L225.9 1054.9L232.6 1059.8L233.3 1061.4L231.8 1069.5L231.9 1072.7L235.2 1080.8L236.2 1090.5L240.9 1098.6L241.2 1101.9L240.3 1106.7L240.4 1108.3L243 1111.6L248.2 1115.6L253 1117.1L264.3 1117.3L272.4 1115.3L282.1 1113.9L286.3 1111.6L290.2 1106.8L291.8 1105.6L298.4 1103.5L303.2 1101.1L304.8 1099.7L305.9 1097L304 1088.9L305.6 1076L306.2 1074.4L307.5 1072.7L309.6 1071.6L312.9 1072L316.4 1074.4L316.9 1076L316.6 1077.6L314.7 1082.5L314.5 1084.1L315.1 1085.7L316.1 1086.6L317.7 1087.2L322.6 1086.9L325.8 1087.5L327.5 1088.9L329.3 1095.4L330.3 1097L332.3 1098.4L337.1 1100.6L338.7 1101.9L340.4 1104.2L341.4 1106.7L341.5 1108.3L340.7 1110L338.8 1111.1L337.1 1111.2L333.9 1110.4L329 1108L327.4 1107.9L324.7 1110L322.9 1113.2L322.3 1122.9L320.2 1129.4L321.1 1135.8L321 1138.8L320 1140.7L316 1145.5L315.3 1156.9L309.7 1174.7L308.7 1179.5L308.9 1184.4L310.5 1195.7L311.1 1203.8L313 1213.5L312.7 1220L308.6 1229.7L307.3 1237.8L306.4 1240.5L304.8 1242.2L301.3 1244.2L300 1245.9L299.7 1247.5L300.2 1249.1L301.3 1250.7L305.4 1253.9L306.4 1255.6L306.3 1257.2L304.5 1258.8L303.2 1259L298.3 1257.9L295.1 1259L293.5 1260.6L290.2 1266.7L288.6 1267.9L285.4 1267.6L278.9 1264.7L277 1265.3L275.9 1268.5L276.6 1279.8L275.8 1283.1L274 1286.7L273.5 1289.5L275.5 1297.6L275.2 1302.5M249.5 1050.1L253 1048.8L256.2 1049.7L258.5 1051.7L259.4 1053.3L259.5 1055L258.5 1056.6L256.2 1057.3L251 1056.6L248.4 1054.9L247.4 1053.3L247.8 1051.7L249.5 1050.1M116.5 1051.7L118.7 1050.8L121 1051.7L121.3 1053.3L120.7 1054.9L118.7 1056.8L117.1 1057.2L115.5 1056.2L115.1 1054.9L115.4 1053.3L116.5 1051.7M345.2 1064.3L340.4 1064.9L337.1 1066.9L335.5 1069.5L335 1074.4L333.9 1076.2L332.3 1076.2L330.7 1075.5L327 1072.7L326.2 1071.1L325.8 1066.3L326.4 1063L327.6 1061.4L330.7 1060.3L335.5 1060.2L337.1 1059.8L338.8 1058.6L342 1054.8L345.2 1053.1M123.2 1066.3L125.2 1065.3L126.8 1065.5L128.5 1066.3L131.2 1069.5L132.6 1072.7L132.8 1074.4L131.7 1077.2L130.1 1078.7L126.8 1079.5L124.7 1079.2L123.6 1078.2L122.1 1069.5L122.2 1067.9L123.2 1066.3M96.2 1079.2L97.7 1078.1L99.3 1077.8L102.6 1078.1L105.8 1080L109.7 1084.1L108.8 1085.7L107.4 1086.2L105.8 1086.7L102.6 1086.1L96.4 1082.5L95.8 1080.8L96.2 1079.2M115.3 1082.5L118.7 1081.7L120.8 1082.5L121.1 1085.7L120.3 1087.9L119.4 1088.9L117.1 1089.4L115.7 1088.9L111.8 1085.7L112.4 1084.1L115.3 1082.5M232 1107.9L230.4 1108.6L228.8 1110L228.3 1111.6L228.7 1113.2L230.4 1114.5L232 1114.9L233.6 1114.5L235.4 1113.2L236.4 1111.6L236.6 1110L235.4 1108.3L232 1107.9M86.4 1111.6L86.4 1113.5M191.5 1124.9L189.4 1127.8L188.4 1131L188.9 1132.6L191.9 1135.8L192.7 1137.5L192.7 1139.1L191.4 1142.3L196.4 1141.1L202.9 1140.2L205.1 1139.1L206.2 1137.5L206.9 1134.2L206.8 1132.6L206.1 1130.5L204.5 1129.4L199.6 1128.2L193.2 1124.6L191.5 1124.9M264.3 1176L262.7 1178.1L260.4 1184.4L260 1189.2L261.2 1192.5L265.9 1198.9L267.7 1205.4L270.8 1208.5L272.4 1209.2L274 1209.4L275.7 1208.7L277 1207L277.6 1203.8L275.8 1200.6L272.4 1197.3L271.4 1195.7L271.1 1192.5L271.5 1186L270.8 1180.9L269.2 1177.8L267.6 1176.4L266 1175.8L264.3 1176M345.2 1176.9L343.6 1175.7L342 1173.2L341.4 1169.8L342 1167.9L343.4 1166.6L345.2 1165.8M86.4 1194.7L92.8 1192.7L96.1 1192.6L100.9 1194.9L104.2 1197.8L106 1200.6L108.4 1207L115.5 1214.1L117.4 1216.7L128.8 1241L131.2 1244.2L135.8 1249.1L136.7 1250.7L136.5 1253L133.9 1257.2L133.7 1258.8L134.9 1262L139 1268.5L139.7 1273.4L139.3 1278.2L137.1 1284.7L130.8 1294.4L128.2 1299.2L127.2 1302.5M86.4 1221L89.3 1218.3L90 1215.1L89.5 1213.5L88.3 1211.9L86.4 1210.6M345.2 1247.3L343.4 1245.9L342.9 1244.2L343.6 1241.1L345.2 1239.3M301.2 1278.2L303.2 1277L306.4 1276.8L308.8 1278.2L309.7 1279.8L309.6 1281.4L308.6 1283.1L306.4 1284.4L303.1 1284.7L301.5 1283.9L300.4 1281.4L300.4 1279.8L301.2 1278.2M345.2 1286L340.4 1285.5L333.9 1283.8L333.1 1283.1L332.9 1281.4L334.2 1278.2L338.8 1271.1L340.4 1269.5L342 1268.9L345.2 1268.9M121.7 1302.5L119.1 1294.4L118.9 1291.2L119.5 1286.3L118.7 1283.4L117.1 1282.2L112.2 1281.4L111.8 1279.8L112.4 1273.4L111.7 1270.1L110.8 1268.5L108.1 1265.3L98.9 1257.2L91.9 1245.9L89.8 1237.8L86.4 1234.8M153.8 1302.5L154.8 1299.2L155.9 1297.9L157.6 1297.4L159.2 1297.8L160.6 1299.2L161.7 1302.5M261.5 1302.5L263.9 1296L264 1292.8L262.7 1288.4L259.9 1283.1L259.8 1281.4L260.8 1279.8L264.3 1277.6L264.9 1276.6L265.1 1275L263.3 1268.5L263 1262L262.2 1257.2L262.5 1253.9L263.6 1252.3L266 1250.9L269.2 1250.6L274 1252.1L278.9 1256.1L280.5 1256.2L282.1 1255.5L283.4 1253.9L283.7 1252.6L281.8 1244.2L282.4 1241L284.4 1236.1L284.4 1231.3L281.9 1226.4L277.3 1221L274 1218.9L272.4 1218.6L270.8 1218.7L267.6 1220.3L262.2 1224.8L259.2 1228.1L258.6 1229.7L260 1236.1L259.5 1237.2L257.9 1237.9L253 1238.2L251.4 1238.9L248.5 1242.6L247.2 1245.9L247.4 1249.1L248.4 1250.7L252.5 1253.9L253.8 1255.6L254.2 1257.2L253 1261.9L251.4 1264.2L249.8 1264.6L248.2 1264.4L241.7 1262.3L236.8 1262.2L228.7 1266.8L227.4 1268.5L227.1 1270.1L227.9 1273.4L228.7 1275L233.9 1281.4L235.8 1286.3L234.6 1289.5L231 1294.4L228.7 1296L227.1 1296.2L223.9 1295.1L215.8 1289.5L213.7 1286.3L209.4 1276.6L207.7 1274.1L200 1266.9L194.8 1264.4L191.5 1261.3L185.2 1252.3L180.7 1241L176.5 1234.5L173.7 1231.4L170.5 1228.9L163.5 1226.4L160.8 1224.1L155.7 1213.5L154 1208.6L154 1205.4L154.5 1203.8L159.5 1195.7L165 1182.8L167 1176.3L168.9 1167.8L172.1 1159.7L177 1152.4L187.2 1142.3L178.6 1128.9L177.6 1126.1L177.5 1124.5L178.2 1122.9L180.2 1121L185.1 1118.5L191.5 1119.3L193.4 1116.4L193.1 1113.2L191.5 1112.6L186.7 1113.5L185.1 1112.4L184.3 1110L185.7 1101.9L185.7 1093.8L186.7 1092.7L189.9 1091L191.5 1089.6L192.6 1087.3L192.9 1084.1L192.4 1080.8L191.5 1079.3L189.9 1078.5L186.7 1078.3L184.9 1077.6L184.3 1076L184.3 1072.7L185.3 1066.3L188.8 1059.8L189.9 1053.3L190.7 1051.7L193.2 1050L199.6 1049.2L201.9 1048.5L204.4 1046.9L207.3 1043.6M290.4 1302.5L291.3 1297.6L292.9 1296L295.1 1295.4L298.3 1296.3L301.5 1298L303.2 1299.2L304.4 1300.9L305 1302.5M340 1302.5L338.8 1299.1L337.1 1297.2L332 1292.8L331.6 1291.2L332.3 1290.8L335.5 1293.5L340.4 1296.5L345.2 1298M274.2 1122.9L278.9 1122L288.6 1122L291.8 1122.9L294.2 1124.5L296.9 1127.8L298.5 1131L301.1 1143.9L304.4 1152L305.1 1168.2L302.8 1182.8L303.8 1194.1L302.4 1203.8L302.9 1211.9L301.6 1215.1L299.9 1216.6L298.3 1217L295.1 1215.7L291.8 1212.8L290 1210.3L286.4 1200.6L281.1 1192.5L278.4 1181.1L275.1 1169.8L270.8 1160.8L268 1156.9L264.3 1154.6L257.9 1153.4L253.9 1153.6L249.8 1155.5L248.2 1155.7L238.4 1154.2L236.8 1153.6L234.8 1152L233 1148.8L231.9 1145.5L231.6 1142.3L232.1 1140.7L235.1 1137.5L238.4 1135.3L243.3 1133.4L262.7 1128.8L274.2 1122.9M202.1 1163.3L204.5 1162.4L207.7 1162.3L215.8 1165L217.6 1166.6L218.6 1168.2L219.5 1171.4L219.8 1176.3L220.7 1177.6L222.3 1178.2L228.7 1178.2L230.4 1179.5L230.8 1181.1L230.4 1186L231.1 1187.6L237.8 1192.5L239.9 1195.7L242 1213.5L242.1 1218.3L241.7 1221.5L240.1 1225.1L234.3 1231.3L233.9 1232.9L235.7 1239.4L235 1244.2L232.8 1247.5L228.7 1250.2L223.9 1251L219 1249.8L216.7 1247.5L214.2 1241L212.6 1239.6L201.2 1239.3L198 1238.4L193.9 1236.1L189.7 1232.9L182.6 1226.4L179.2 1221.6L171.1 1215.1L169 1211.9L168.5 1208.6L169.1 1203.8L169.2 1194.1L170.5 1189.9L177 1175.4L178.6 1173.7L180.2 1173.3L185.1 1173.9L189.3 1173L190.9 1171.4L192.1 1168.2L193.2 1166.9L198 1165.6L202.1 1163.3M278.4 1129.4L282.1 1128.3L285.4 1128.5L287.7 1129.4L290.2 1131.3L292.2 1134.2L294.5 1139.1L298.9 1153.6L299.4 1158.5L299.4 1166.6L297.3 1184.4L297.2 1190.8L296.7 1193.4L295.1 1195.2L293.5 1195.4L291.3 1194.1L288.6 1190.8L287 1187.8L282.9 1177.9L278.9 1165.1L271.9 1150.4L269.7 1143.9L269.6 1139.1L271.1 1135.8L274 1132.5L278.4 1129.4M279.9 1135.8L282.1 1134.8L283.7 1134.7L287 1136.1L290.6 1140.7L293.1 1147.2L294.9 1155.3L294.9 1161.7L291.8 1173.7L290.2 1175.4L288.6 1174.6L287 1172.3L283.2 1163.3L278.2 1153.6L277 1150.4L276.3 1145.5L276.7 1140.7L278.2 1137.5L279.9 1135.8"/>
</g>
<path fill="none" stroke="#000" stroke-width="2.55" stroke-linejoin="miter" d="M193.8 1048.4L215.8 1029.5L237.8 1048.4"/>
<circle cx="215.8" cy="1173.05" r="124.45" fill="none" stroke="#000" stroke-width="3.01"/>
<g fill="#000"><circle cx="146.2" cy="1139.1" r="4.283395348837209"/><circle cx="137.3" cy="1156.1" r="4.283395348837209"/><circle cx="147.9" cy="1156.6" r="4.283395348837209"/><circle cx="140.8" cy="1173.9" r="4.283395348837209"/><circle cx="151.8" cy="1170.8" r="4.283395348837209"/><circle cx="144.2" cy="1190.3" r="4.283395348837209"/><circle cx="154.9" cy="1195.2" r="4.283395348837209"/><circle cx="149.5" cy="1209.4" r="4.283395348837209"/><circle cx="157.3" cy="1222.3" r="4.283395348837209"/><circle cx="169" cy="1219.5" r="4.283395348837209"/><circle cx="285.7" cy="1143.1" r="4.283395348837209"/><circle cx="283.4" cy="1159" r="4.283395348837209"/><circle cx="294.5" cy="1158.5" r="4.283395348837209"/><circle cx="279" cy="1173.3" r="4.283395348837209"/><circle cx="287.4" cy="1192.1" r="4.283395348837209"/><circle cx="276.3" cy="1196.3" r="4.283395348837209"/><circle cx="271.6" cy="1209.4" r="4.283395348837209"/><circle cx="281.5" cy="1210.5" r="4.283395348837209"/><circle cx="263" cy="1220.7" r="4.283395348837209"/><circle cx="273.9" cy="1223.6" r="4.283395348837209"/></g>
<rect x="167.50" y="756.2" width="8.93" height="15.199999999999932" fill="#393291"/>
<rect x="175.43" y="756.2" width="8.93" height="15.199999999999932" fill="#3b3698"/>
<rect x="183.36" y="756.2" width="8.93" height="15.199999999999932" fill="#3d3a9f"/>
<rect x="191.29" y="756.2" width="8.93" height="15.199999999999932" fill="#403fa2"/>
<rect x="199.22" y="756.2" width="8.93" height="15.199999999999932" fill="#4245a4"/>
<rect x="207.16" y="756.2" width="8.93" height="15.199999999999932" fill="#444ba7"/>
<rect x="215.09" y="756.2" width="8.93" height="15.199999999999932" fill="#4553aa"/>
<rect x="223.02" y="756.2" width="8.93" height="15.199999999999932" fill="#455cae"/>
<rect x="230.95" y="756.2" width="8.93" height="15.199999999999932" fill="#4267b1"/>
<rect x="238.88" y="756.2" width="8.93" height="15.199999999999932" fill="#477cbe"/>
<rect x="246.81" y="756.2" width="8.93" height="15.199999999999932" fill="#5598ce"/>
<rect x="254.74" y="756.2" width="8.93" height="15.199999999999932" fill="#67b2dd"/>
<rect x="262.68" y="756.2" width="8.93" height="15.199999999999932" fill="#77c2e2"/>
<rect x="270.61" y="756.2" width="8.93" height="15.199999999999932" fill="#85cee3"/>
<rect x="278.54" y="756.2" width="8.93" height="15.199999999999932" fill="#91d8e0"/>
<rect x="286.47" y="756.2" width="8.93" height="15.199999999999932" fill="#9adbca"/>
<rect x="294.40" y="756.2" width="8.93" height="15.199999999999932" fill="#b0dc83"/>
<rect x="302.33" y="756.2" width="8.93" height="15.199999999999932" fill="#c6de46"/>
<rect x="310.26" y="756.2" width="8.93" height="15.199999999999932" fill="#d8e025"/>
<rect x="318.19" y="756.2" width="8.93" height="15.199999999999932" fill="#e6e214"/>
<rect x="326.12" y="756.2" width="8.93" height="15.199999999999932" fill="#f5e100"/>
<rect x="334.06" y="756.2" width="8.93" height="15.199999999999932" fill="#fbc600"/>
<rect x="341.99" y="756.2" width="8.93" height="15.199999999999932" fill="#f8ac00"/>
<rect x="349.92" y="756.2" width="8.93" height="15.199999999999932" fill="#f49200"/>
<rect x="357.85" y="756.2" width="8.93" height="15.199999999999932" fill="#f07a00"/>
<rect x="365.78" y="756.2" width="8.93" height="15.199999999999932" fill="#eb6103"/>
<rect x="373.71" y="756.2" width="8.93" height="15.199999999999932" fill="#e44911"/>
<rect x="381.64" y="756.2" width="8.93" height="15.199999999999932" fill="#de3519"/>
<rect x="389.58" y="756.2" width="8.93" height="15.199999999999932" fill="#d72c1e"/>
<rect x="397.51" y="756.2" width="8.93" height="15.199999999999932" fill="#ce2a20"/>
<rect x="405.44" y="756.2" width="8.93" height="15.199999999999932" fill="#af2520"/>
<rect x="413.37" y="756.2" width="8.93" height="15.199999999999932" fill="#8c1e1b"/>
<rect x="167.5" y="756.2" width="253.8" height="15.199999999999932" fill="none" stroke="#222" stroke-width="1.6" rx="1"/>
<path stroke="#222" stroke-width="1.4" d="M209.8 756.2v3M209.8 771.4v-3"/>
<path stroke="#222" stroke-width="1.4" d="M252.1 756.2v3M252.1 771.4v-3"/>
<path stroke="#222" stroke-width="1.4" d="M294.4 756.2v3M294.4 771.4v-3"/>
<path stroke="#222" stroke-width="1.4" d="M336.7 756.2v3M336.7 771.4v-3"/>
<path stroke="#222" stroke-width="1.4" d="M379.0 756.2v3M379.0 771.4v-3"/>
<text x="199.72" y="743.80" font-size="25.5" textLength="190.89" lengthAdjust="spacingAndGlyphs" fill="#000">Field strength (fT)</text>
<text x="143.45" y="797.50" font-size="22" textLength="43.31" lengthAdjust="spacingAndGlyphs" fill="#000">-150</text>
<text x="288.95" y="797.50" font-size="22" textLength="12.10" lengthAdjust="spacingAndGlyphs" fill="#000">0</text>
<text x="407.93" y="797.50" font-size="22" textLength="34.49" lengthAdjust="spacingAndGlyphs" fill="#000">150</text>
<path fill="none" stroke="#8a8a8a" stroke-width="1" d="M533.3 770V755H787.3V770"/>
<path fill="none" stroke="#8a8a8a" stroke-width="1" d="M905.4 770V755H1158.9V770"/>
<text x="565.92" y="743.80" font-size="25.5" textLength="190.89" lengthAdjust="spacingAndGlyphs" fill="#000">Field strength (fT)</text>
<text x="509.16" y="797.30" font-size="22" textLength="42.89" lengthAdjust="spacingAndGlyphs" fill="#000">-150</text>
<text x="654.31" y="797.30" font-size="22" textLength="12.68" lengthAdjust="spacingAndGlyphs" fill="#000">0</text>
<text x="773.51" y="797.30" font-size="22" textLength="34.92" lengthAdjust="spacingAndGlyphs" fill="#000">150</text>
<text x="936.42" y="743.80" font-size="25.5" textLength="190.89" lengthAdjust="spacingAndGlyphs" fill="#000">Field strength (fT)</text>
<text x="892.14" y="796.80" font-size="22" textLength="31.52" lengthAdjust="spacingAndGlyphs" fill="#000">-20</text>
<text x="1025.83" y="796.80" font-size="22" textLength="12.45" lengthAdjust="spacingAndGlyphs" fill="#000">0</text>
<text x="1141.62" y="796.80" font-size="22" textLength="24.03" lengthAdjust="spacingAndGlyphs" fill="#000">20</text>
<text x="533.72" y="900.70" font-size="38" textLength="221.12" lengthAdjust="spacingAndGlyphs" fill="#000">B: Interaction</text>
<text x="233.07" y="941.00" font-size="30" textLength="750.51" lengthAdjust="spacingAndGlyphs" fill="#000">hemisphere by viseme salience by sentential constraining</text>
<text x="42.53" y="1002.20" font-size="30" textLength="364.08" lengthAdjust="spacingAndGlyphs" fill="#000">90-135 ms after audio onset</text>
<text x="657.66" y="1002.20" font-size="30" textLength="266.95" lengthAdjust="spacingAndGlyphs" fill="#000">sentential constraint</text>
<rect x="93.90" y="1377.3" width="8.90" height="15.0" fill="#393291"/>
<rect x="101.80" y="1377.3" width="8.90" height="15.0" fill="#3b3698"/>
<rect x="109.70" y="1377.3" width="8.90" height="15.0" fill="#3d3a9f"/>
<rect x="117.60" y="1377.3" width="8.90" height="15.0" fill="#403fa2"/>
<rect x="125.50" y="1377.3" width="8.90" height="15.0" fill="#4245a4"/>
<rect x="133.40" y="1377.3" width="8.90" height="15.0" fill="#444ba7"/>
<rect x="141.30" y="1377.3" width="8.90" height="15.0" fill="#4553aa"/>
<rect x="149.20" y="1377.3" width="8.90" height="15.0" fill="#455cae"/>
<rect x="157.10" y="1377.3" width="8.90" height="15.0" fill="#4267b1"/>
<rect x="165.00" y="1377.3" width="8.90" height="15.0" fill="#477cbe"/>
<rect x="172.90" y="1377.3" width="8.90" height="15.0" fill="#5598ce"/>
<rect x="180.80" y="1377.3" width="8.90" height="15.0" fill="#67b2dd"/>
<rect x="188.70" y="1377.3" width="8.90" height="15.0" fill="#77c2e2"/>
<rect x="196.60" y="1377.3" width="8.90" height="15.0" fill="#85cee3"/>
<rect x="204.50" y="1377.3" width="8.90" height="15.0" fill="#91d8e0"/>
<rect x="212.40" y="1377.3" width="8.90" height="15.0" fill="#9adbca"/>
<rect x="220.30" y="1377.3" width="8.90" height="15.0" fill="#b0dc83"/>
<rect x="228.20" y="1377.3" width="8.90" height="15.0" fill="#c6de46"/>
<rect x="236.10" y="1377.3" width="8.90" height="15.0" fill="#d8e025"/>
<rect x="244.00" y="1377.3" width="8.90" height="15.0" fill="#e6e214"/>
<rect x="251.90" y="1377.3" width="8.90" height="15.0" fill="#f5e100"/>
<rect x="259.80" y="1377.3" width="8.90" height="15.0" fill="#fbc600"/>
<rect x="267.70" y="1377.3" width="8.90" height="15.0" fill="#f8ac00"/>
<rect x="275.60" y="1377.3" width="8.90" height="15.0" fill="#f49200"/>
<rect x="283.50" y="1377.3" width="8.90" height="15.0" fill="#f07a00"/>
<rect x="291.40" y="1377.3" width="8.90" height="15.0" fill="#eb6103"/>
<rect x="299.30" y="1377.3" width="8.90" height="15.0" fill="#e44911"/>
<rect x="307.20" y="1377.3" width="8.90" height="15.0" fill="#de3519"/>
<rect x="315.10" y="1377.3" width="8.90" height="15.0" fill="#d72c1e"/>
<rect x="323.00" y="1377.3" width="8.90" height="15.0" fill="#ce2a20"/>
<rect x="330.90" y="1377.3" width="8.90" height="15.0" fill="#af2520"/>
<rect x="338.80" y="1377.3" width="8.90" height="15.0" fill="#8c1e1b"/>
<rect x="93.9" y="1377.3" width="252.79999999999998" height="15.0" fill="none" stroke="#222" stroke-width="1.6" rx="1"/>
<path stroke="#222" stroke-width="1.4" d="M136.0 1377.3v3M136.0 1392.3v-3"/>
<path stroke="#222" stroke-width="1.4" d="M178.2 1377.3v3M178.2 1392.3v-3"/>
<path stroke="#222" stroke-width="1.4" d="M220.3 1377.3v3M220.3 1392.3v-3"/>
<path stroke="#222" stroke-width="1.4" d="M262.4 1377.3v3M262.4 1392.3v-3"/>
<path stroke="#222" stroke-width="1.4" d="M304.6 1377.3v3M304.6 1392.3v-3"/>
<text x="125.40" y="1364.60" font-size="25.5" textLength="211.87" lengthAdjust="spacingAndGlyphs" fill="#000">Field strength (fT)</text>
<text x="69.32" y="1418.10" font-size="22" textLength="32.12" lengthAdjust="spacingAndGlyphs" fill="#000">-25</text>
<text x="215.10" y="1418.10" font-size="22" textLength="12.80" lengthAdjust="spacingAndGlyphs" fill="#000">0</text>
<text x="334.04" y="1418.10" font-size="22" textLength="23.55" lengthAdjust="spacingAndGlyphs" fill="#000">25</text>
<path fill="none" stroke="#222" stroke-width="1.6" d="M554.4 1022.3V1368.0H1066.4"/>
<path stroke="#222" stroke-width="1.5" d="M554.4 1022.3h6M554.4 1072.1h6M554.4 1121.3h6M554.4 1170.9h6M554.4 1220.0h6M554.4 1268.7h6M554.4 1317.5h6"/>
<path stroke="#222" stroke-width="1.5" d="M746 1368v-5M820.4 1368v-5M945.8 1368v-5M1066.5 1368v-5"/>
<text x="512.69" y="1034.90" font-size="22" textLength="24.47" lengthAdjust="spacingAndGlyphs" fill="#000">80</text>
<text x="512.69" y="1077.05" font-size="22" textLength="24.47" lengthAdjust="spacingAndGlyphs" fill="#000">60</text>
<text x="512.69" y="1119.20" font-size="22" textLength="24.47" lengthAdjust="spacingAndGlyphs" fill="#000">40</text>
<text x="512.69" y="1161.35" font-size="22" textLength="24.47" lengthAdjust="spacingAndGlyphs" fill="#000">20</text>
<text x="524.93" y="1203.50" font-size="22" textLength="12.24" lengthAdjust="spacingAndGlyphs" fill="#000">0</text>
<text x="505.37" y="1245.65" font-size="22" textLength="31.80" lengthAdjust="spacingAndGlyphs" fill="#000">-20</text>
<text x="505.37" y="1287.80" font-size="22" textLength="31.80" lengthAdjust="spacingAndGlyphs" fill="#000">-40</text>
<text x="505.37" y="1329.95" font-size="22" textLength="31.80" lengthAdjust="spacingAndGlyphs" fill="#000">-60</text>
<text x="505.37" y="1372.10" font-size="22" textLength="31.80" lengthAdjust="spacingAndGlyphs" fill="#000">-80</text>
<text transform="translate(481.50 1291.97) rotate(-90)" font-size="28.4" textLength="208.81" lengthAdjust="spacingAndGlyphs" fill="#000">Field strength (fT)</text>
<path fill="none" stroke="#4452b0" stroke-width="2.9" d="M617.8 1083.2L741.1 1247.0M617.8 1118.1L741.1 1105.3M617.8 1137.0L741.1 1151.2M617.8 1156.6L741.1 1113.2M617.8 1161.1L741.1 1124.2M617.8 1163.5L741.1 1256.9M617.8 1166.0L741.1 1110.7M617.8 1174.1L741.1 1139.0M617.8 1197.9L741.1 1091.1M617.8 1200.4L741.1 1212.7M617.8 1204.1L741.1 1167.9M617.8 1207.7L741.1 1264.2M617.8 1228.6L741.1 1130.4M617.8 1231.1L741.1 1233.5M617.8 1244.1L741.1 1135.3M617.8 1245.8L741.1 1204.1M617.8 1255.6L741.1 1152.5M617.8 1265.5L741.1 1083.2M617.8 1266.7L741.1 1206.5M617.8 1290.8L741.1 1242.1M617.8 1322.5L741.1 1113.2M617.8 1357.6L741.1 1043.7"/>
<g fill="#fff" stroke="#4452b0" stroke-width="2"><circle cx="617.8" cy="1083.2" r="3.4"/><circle cx="617.8" cy="1118.1" r="3.4"/><circle cx="617.8" cy="1137.0" r="3.4"/><circle cx="617.8" cy="1156.6" r="3.4"/><circle cx="617.8" cy="1161.1" r="3.4"/><circle cx="617.8" cy="1163.5" r="3.4"/><circle cx="617.8" cy="1166.0" r="3.4"/><circle cx="617.8" cy="1174.1" r="3.4"/><circle cx="617.8" cy="1197.9" r="3.4"/><circle cx="617.8" cy="1200.4" r="3.4"/><circle cx="617.8" cy="1204.1" r="3.4"/><circle cx="617.8" cy="1207.7" r="3.4"/><circle cx="617.8" cy="1228.6" r="3.4"/><circle cx="617.8" cy="1231.1" r="3.4"/><circle cx="617.8" cy="1244.1" r="3.4"/><circle cx="617.8" cy="1245.8" r="3.4"/><circle cx="617.8" cy="1255.6" r="3.4"/><circle cx="617.8" cy="1265.5" r="3.4"/><circle cx="617.8" cy="1266.7" r="3.4"/><circle cx="617.8" cy="1290.8" r="3.4"/><circle cx="617.8" cy="1322.5" r="3.4"/><circle cx="617.8" cy="1357.6" r="3.4"/><circle cx="741.1" cy="1043.7" r="3.4"/><circle cx="741.1" cy="1083.2" r="3.4"/><circle cx="741.1" cy="1091.1" r="3.4"/><circle cx="741.1" cy="1105.3" r="3.4"/><circle cx="741.1" cy="1110.7" r="3.4"/><circle cx="741.1" cy="1113.2" r="3.4"/><circle cx="741.1" cy="1124.2" r="3.4"/><circle cx="741.1" cy="1130.4" r="3.4"/><circle cx="741.1" cy="1135.3" r="3.4"/><circle cx="741.1" cy="1139.0" r="3.4"/><circle cx="741.1" cy="1151.2" r="3.4"/><circle cx="741.1" cy="1152.5" r="3.4"/><circle cx="741.1" cy="1167.9" r="3.4"/><circle cx="741.1" cy="1204.1" r="3.4"/><circle cx="741.1" cy="1206.5" r="3.4"/><circle cx="741.1" cy="1212.7" r="3.4"/><circle cx="741.1" cy="1233.5" r="3.4"/><circle cx="741.1" cy="1242.1" r="3.4"/><circle cx="741.1" cy="1247.0" r="3.4"/><circle cx="741.1" cy="1256.9" r="3.4"/><circle cx="741.1" cy="1264.2" r="3.4"/></g>
<path fill="none" stroke="#e1301f" stroke-width="2.9" d="M825.6 1023.1L946.7 1163.0M825.6 1023.1L946.7 1233.6M825.6 1055.8L946.7 1237.5M825.6 1067.5L946.7 1229.7M825.6 1083.2L946.7 1249.3M825.6 1091.1L946.7 1181.3M825.6 1095.0L946.7 1355.2M825.6 1098.9L946.7 1245.4M825.6 1130.3L946.7 1121.1M825.6 1137.6L946.7 1216.6M825.6 1147.3L946.7 1115.9M825.6 1151.2L946.7 1166.9M825.6 1163.8L946.7 1095.0M825.6 1169.5L946.7 1190.4M825.6 1180.5L946.7 1263.7M825.6 1200.4L946.7 1275.4M825.6 1208.7L946.7 1208.7M825.6 1212.7L946.7 1280.7M825.6 1214.5L946.7 1237.5M825.6 1239.6L946.7 1181.3M825.6 1240.6L946.7 1233.6M825.6 1257.1L946.7 1229.7"/>
<g fill="#fff" stroke="#e1301f" stroke-width="2"><circle cx="825.6" cy="1023.1" r="3.4"/><circle cx="825.6" cy="1055.8" r="3.4"/><circle cx="825.6" cy="1067.5" r="3.4"/><circle cx="825.6" cy="1083.2" r="3.4"/><circle cx="825.6" cy="1091.1" r="3.4"/><circle cx="825.6" cy="1095.0" r="3.4"/><circle cx="825.6" cy="1098.9" r="3.4"/><circle cx="825.6" cy="1130.3" r="3.4"/><circle cx="825.6" cy="1137.6" r="3.4"/><circle cx="825.6" cy="1147.3" r="3.4"/><circle cx="825.6" cy="1151.2" r="3.4"/><circle cx="825.6" cy="1163.8" r="3.4"/><circle cx="825.6" cy="1169.5" r="3.4"/><circle cx="825.6" cy="1180.5" r="3.4"/><circle cx="825.6" cy="1200.4" r="3.4"/><circle cx="825.6" cy="1208.7" r="3.4"/><circle cx="825.6" cy="1212.7" r="3.4"/><circle cx="825.6" cy="1214.5" r="3.4"/><circle cx="825.6" cy="1239.6" r="3.4"/><circle cx="825.6" cy="1240.6" r="3.4"/><circle cx="825.6" cy="1257.1" r="3.4"/><circle cx="946.7" cy="1095.0" r="3.4"/><circle cx="946.7" cy="1115.9" r="3.4"/><circle cx="946.7" cy="1121.1" r="3.4"/><circle cx="946.7" cy="1163.0" r="3.4"/><circle cx="946.7" cy="1166.9" r="3.4"/><circle cx="946.7" cy="1181.3" r="3.4"/><circle cx="946.7" cy="1190.4" r="3.4"/><circle cx="946.7" cy="1208.7" r="3.4"/><circle cx="946.7" cy="1216.6" r="3.4"/><circle cx="946.7" cy="1229.7" r="3.4"/><circle cx="946.7" cy="1233.6" r="3.4"/><circle cx="946.7" cy="1237.5" r="3.4"/><circle cx="946.7" cy="1245.4" r="3.4"/><circle cx="946.7" cy="1249.3" r="3.4"/><circle cx="946.7" cy="1263.7" r="3.4"/><circle cx="946.7" cy="1275.4" r="3.4"/><circle cx="946.7" cy="1280.7" r="3.4"/><circle cx="946.7" cy="1355.2" r="3.4"/></g>
<circle cx="825.6" cy="1023.1" r="4.5" fill="#e1301f"/>
<text x="1003.52" y="1058.80" font-size="24.5" textLength="141.75" lengthAdjust="spacingAndGlyphs" fill="#000">salient minus</text>
<text x="1002.59" y="1088.90" font-size="24.5" textLength="201.93" lengthAdjust="spacingAndGlyphs" fill="#000">nonsalient viseme:</text>
<text x="1032.25" y="1120.20" font-size="24.5" textLength="168.74" lengthAdjust="spacingAndGlyphs" fill="#000">left hemisphere</text>
<text x="1032.26" y="1148.30" font-size="24.5" textLength="185.55" lengthAdjust="spacingAndGlyphs" fill="#000">right hemisphere</text>
<path stroke="#4452b0" stroke-width="6.5" d="M988.3 1114.5H1022.6"/>
<path stroke="#e1301f" stroke-width="6" d="M988.3 1144H1022.6"/>
<text x="667.52" y="1353.50" font-size="24.5" textLength="120.16" lengthAdjust="spacingAndGlyphs" fill="#000">constrained</text>
<text x="958.53" y="1353.50" font-size="24.5" textLength="119.24" lengthAdjust="spacingAndGlyphs" fill="#000">constrained</text>
<text x="562.17" y="1392.00" font-size="24.5" textLength="147.64" lengthAdjust="spacingAndGlyphs" fill="#000">unconstrained</text>
<text x="760.28" y="1392.00" font-size="24.5" textLength="147.23" lengthAdjust="spacingAndGlyphs" fill="#000">unconstrained</text>
<text x="533.17" y="1494.40" font-size="38" textLength="259.41" lengthAdjust="spacingAndGlyphs" fill="#000">C: Evoked fields</text>
<text x="283.32" y="1556.60" font-size="30" textLength="351.30" lengthAdjust="spacingAndGlyphs" fill="#000">Sententially unconstrained</text>
<text x="847.23" y="1556.40" font-size="30" textLength="315.76" lengthAdjust="spacingAndGlyphs" fill="#000">Sententially constrained</text>
<path stroke="#6cc854" stroke-width="1.5" d="M464.8 1598.0V1887.6"/>
<path stroke="#333" stroke-width="1.5" d="M479.8 1598.0V1887.6"/>
<path fill="none" stroke="#9ee08a" stroke-opacity="0.35" stroke-width="7" stroke-linejoin="round" stroke-linecap="round" d="M147.1 1828.2L148.6 1831.0L150.8 1835.1L153.4 1839.8L155.9 1844.2L158.2 1847.6L160.0 1850.0L161.7 1851.7L163.4 1853.1L164.9 1854.2L166.5 1855.1L167.9 1855.9L169.2 1856.5L170.5 1856.9L171.9 1857.0L173.4 1856.8L175.2 1856.0L177.2 1854.7L179.2 1853.2L181.2 1852.0L183.1 1851.2L184.9 1851.2L186.7 1851.5L188.4 1852.2L190.0 1852.8L191.4 1853.2L192.7 1853.2L193.8 1853.1L194.9 1853.0L195.9 1853.0L197.0 1853.2L198.1 1853.8L199.2 1854.7L200.3 1855.7L201.4 1856.4L202.5 1856.8L203.6 1856.6L204.7 1856.1L205.8 1855.3L206.9 1854.3L208.1 1853.2L209.4 1851.6L210.8 1849.7L212.3 1847.7L213.7 1846.0L215.0 1844.8L216.2 1844.5L217.3 1844.7L218.3 1845.2L219.4 1845.6L220.5 1845.7L221.8 1845.4L223.0 1845.0L224.3 1844.4L225.8 1843.7L227.5 1842.9L229.4 1842.0L231.6 1840.9L233.9 1839.7L236.3 1838.5L238.6 1837.3L240.8 1836.2L243.0 1834.9L245.2 1833.7L247.4 1832.6L249.7 1831.8L251.9 1831.3L254.2 1830.9L256.5 1830.7L258.7 1830.7L260.8 1831.0L262.6 1831.5L264.4 1832.3L266.1 1833.2L267.6 1834.2L269.1 1835.1L270.3 1836.1L271.4 1837.2L272.3 1838.2L273.4 1839.0L274.6 1839.3L276.1 1839.0L277.8 1838.2L279.5 1837.2L281.2 1836.1L282.9 1835.1L284.6 1834.4L286.3 1833.6L287.9 1832.9L289.6 1832.0L291.3 1831.0L292.9 1829.6L294.5 1828.0L296.1 1826.3L297.7 1824.7L299.6 1823.5L301.6 1822.7L303.8 1822.2L306.0 1821.9L308.3 1821.7L310.7 1821.3L313.2 1820.8L315.8 1820.3L318.5 1819.8L321.0 1819.2L323.2 1818.5L324.9 1817.8L326.3 1817.1L327.5 1816.2L328.7 1814.9L330.1 1812.9L331.7 1809.9L333.4 1805.9L335.2 1801.6L336.9 1797.7L338.4 1794.9L339.7 1793.3L340.8 1792.4L341.9 1792.1L342.9 1792.1L344.0 1792.1L345.0 1792.6L346.0 1793.7L347.1 1794.8L348.2 1795.4L349.5 1794.9L350.9 1793.1L352.5 1790.3L354.2 1786.9L355.9 1783.3L357.8 1779.7L359.9 1776.1L362.2 1772.3L364.5 1768.4L366.8 1764.4L368.9 1760.3L370.8 1756.0L372.4 1751.6L374.0 1747.1L375.6 1742.6L377.2 1738.1L378.9 1733.4L380.6 1728.6L382.2 1723.9L383.9 1719.5L385.6 1715.9L387.2 1713.1L388.7 1710.9L390.3 1709.2L392.0 1707.7L393.8 1706.2L395.9 1704.9L398.2 1703.7L400.5 1702.7L402.8 1701.7L404.9 1700.7L406.7 1699.4L408.4 1697.9L410.0 1696.6L411.6 1695.5L413.2 1695.1L414.8 1695.4L416.4 1696.0L418.0 1697.1L419.7 1698.7L421.5 1700.7L423.6 1703.5L425.8 1707.2L428.0 1711.1L430.3 1714.7L432.6 1717.3L434.8 1718.9L437.0 1719.8L439.3 1720.2L441.5 1720.3L443.7 1720.1L445.9 1719.5L448.1 1718.3L450.4 1717.0L452.6 1715.6L454.8 1714.5L457.0 1713.9L459.2 1713.4L461.5 1712.9L463.7 1712.5L465.9 1711.8L468.1 1710.7L470.3 1709.5L472.5 1708.2L474.8 1707.0L477.0 1706.2L479.2 1705.6L481.4 1705.0L483.6 1704.8L485.9 1705.1L488.1 1706.2L490.3 1708.5L492.5 1711.7L494.7 1715.4L496.9 1719.3L499.2 1722.9L501.4 1726.4L503.6 1730.2L505.8 1733.8L508.0 1737.1L510.3 1739.5L512.3 1740.9L514.2 1741.5L516.1 1741.6L518.4 1741.8L521.4 1742.3L525.1 1743.3L529.4 1744.4L534.1 1745.7L538.9 1746.8L543.5 1747.8L548.1 1748.6L552.7 1749.4L557.2 1750.0L561.6 1750.4L565.7 1750.6L569.4 1750.5L572.8 1750.1L576.0 1749.6L579.1 1748.8L582.4 1747.8L585.7 1746.5L589.0 1744.9L592.3 1743.1L595.7 1741.3L599.0 1739.5L602.3 1737.8L605.7 1736.2L609.0 1734.5L612.3 1732.8L615.6 1731.2L619.0 1729.6L622.3 1728.0L625.6 1726.4L629.0 1724.7L632.3 1722.9L635.7 1720.9L639.2 1718.8L642.7 1716.5L645.9 1714.2L648.9 1711.8L651.5 1708.9L653.8 1705.6L655.8 1702.3L657.9 1699.6L660.0 1697.9L662.4 1697.6L665.0 1698.4L667.5 1699.7L669.6 1701.0L671.1 1701.8"/><path fill="none" stroke="#1aa53a" stroke-width="2.4" stroke-linejoin="round" stroke-linecap="round" d="M147.1 1828.2L148.6 1831.0L150.8 1835.1L153.4 1839.8L155.9 1844.2L158.2 1847.6L160.0 1850.0L161.7 1851.7L163.4 1853.1L164.9 1854.2L166.5 1855.1L167.9 1855.9L169.2 1856.5L170.5 1856.9L171.9 1857.0L173.4 1856.8L175.2 1856.0L177.2 1854.7L179.2 1853.2L181.2 1852.0L183.1 1851.2L184.9 1851.2L186.7 1851.5L188.4 1852.2L190.0 1852.8L191.4 1853.2L192.7 1853.2L193.8 1853.1L194.9 1853.0L195.9 1853.0L197.0 1853.2L198.1 1853.8L199.2 1854.7L200.3 1855.7L201.4 1856.4L202.5 1856.8L203.6 1856.6L204.7 1856.1L205.8 1855.3L206.9 1854.3L208.1 1853.2L209.4 1851.6L210.8 1849.7L212.3 1847.7L213.7 1846.0L215.0 1844.8L216.2 1844.5L217.3 1844.7L218.3 1845.2L219.4 1845.6L220.5 1845.7L221.8 1845.4L223.0 1845.0L224.3 1844.4L225.8 1843.7L227.5 1842.9L229.4 1842.0L231.6 1840.9L233.9 1839.7L236.3 1838.5L238.6 1837.3L240.8 1836.2L243.0 1834.9L245.2 1833.7L247.4 1832.6L249.7 1831.8L251.9 1831.3L254.2 1830.9L256.5 1830.7L258.7 1830.7L260.8 1831.0L262.6 1831.5L264.4 1832.3L266.1 1833.2L267.6 1834.2L269.1 1835.1L270.3 1836.1L271.4 1837.2L272.3 1838.2L273.4 1839.0L274.6 1839.3L276.1 1839.0L277.8 1838.2L279.5 1837.2L281.2 1836.1L282.9 1835.1L284.6 1834.4L286.3 1833.6L287.9 1832.9L289.6 1832.0L291.3 1831.0L292.9 1829.6L294.5 1828.0L296.1 1826.3L297.7 1824.7L299.6 1823.5L301.6 1822.7L303.8 1822.2L306.0 1821.9L308.3 1821.7L310.7 1821.3L313.2 1820.8L315.8 1820.3L318.5 1819.8L321.0 1819.2L323.2 1818.5L324.9 1817.8L326.3 1817.1L327.5 1816.2L328.7 1814.9L330.1 1812.9L331.7 1809.9L333.4 1805.9L335.2 1801.6L336.9 1797.7L338.4 1794.9L339.7 1793.3L340.8 1792.4L341.9 1792.1L342.9 1792.1L344.0 1792.1L345.0 1792.6L346.0 1793.7L347.1 1794.8L348.2 1795.4L349.5 1794.9L350.9 1793.1L352.5 1790.3L354.2 1786.9L355.9 1783.3L357.8 1779.7L359.9 1776.1L362.2 1772.3L364.5 1768.4L366.8 1764.4L368.9 1760.3L370.8 1756.0L372.4 1751.6L374.0 1747.1L375.6 1742.6L377.2 1738.1L378.9 1733.4L380.6 1728.6L382.2 1723.9L383.9 1719.5L385.6 1715.9L387.2 1713.1L388.7 1710.9L390.3 1709.2L392.0 1707.7L393.8 1706.2L395.9 1704.9L398.2 1703.7L400.5 1702.7L402.8 1701.7L404.9 1700.7L406.7 1699.4L408.4 1697.9L410.0 1696.6L411.6 1695.5L413.2 1695.1L414.8 1695.4L416.4 1696.0L418.0 1697.1L419.7 1698.7L421.5 1700.7L423.6 1703.5L425.8 1707.2L428.0 1711.1L430.3 1714.7L432.6 1717.3L434.8 1718.9L437.0 1719.8L439.3 1720.2L441.5 1720.3L443.7 1720.1L445.9 1719.5L448.1 1718.3L450.4 1717.0L452.6 1715.6L454.8 1714.5L457.0 1713.9L459.2 1713.4L461.5 1712.9L463.7 1712.5L465.9 1711.8L468.1 1710.7L470.3 1709.5L472.5 1708.2L474.8 1707.0L477.0 1706.2L479.2 1705.6L481.4 1705.0L483.6 1704.8L485.9 1705.1L488.1 1706.2L490.3 1708.5L492.5 1711.7L494.7 1715.4L496.9 1719.3L499.2 1722.9L501.4 1726.4L503.6 1730.2L505.8 1733.8L508.0 1737.1L510.3 1739.5L512.3 1740.9L514.2 1741.5L516.1 1741.6L518.4 1741.8L521.4 1742.3L525.1 1743.3L529.4 1744.4L534.1 1745.7L538.9 1746.8L543.5 1747.8L548.1 1748.6L552.7 1749.4L557.2 1750.0L561.6 1750.4L565.7 1750.6L569.4 1750.5L572.8 1750.1L576.0 1749.6L579.1 1748.8L582.4 1747.8L585.7 1746.5L589.0 1744.9L592.3 1743.1L595.7 1741.3L599.0 1739.5L602.3 1737.8L605.7 1736.2L609.0 1734.5L612.3 1732.8L615.6 1731.2L619.0 1729.6L622.3 1728.0L625.6 1726.4L629.0 1724.7L632.3 1722.9L635.7 1720.9L639.2 1718.8L642.7 1716.5L645.9 1714.2L648.9 1711.8L651.5 1708.9L653.8 1705.6L655.8 1702.3L657.9 1699.6L660.0 1697.9L662.4 1697.6L665.0 1698.4L667.5 1699.7L669.6 1701.0L671.1 1701.8"/>
<path fill="none" stroke="#999" stroke-opacity="0.35" stroke-width="7" stroke-linejoin="round" stroke-linecap="round" d="M147.1 1828.2L147.6 1828.4L148.4 1828.7L149.3 1829.1L150.2 1829.8L151.2 1831.0L152.2 1832.7L153.3 1834.9L154.5 1837.4L155.6 1839.9L156.8 1842.1L157.9 1844.0L159.0 1845.9L160.1 1847.6L161.2 1849.2L162.3 1850.4L163.4 1851.3L164.6 1851.9L165.7 1852.4L166.8 1852.6L167.9 1852.6L168.7 1852.3L169.4 1851.6L170.1 1850.7L170.9 1850.1L172.0 1849.8L173.3 1850.2L174.8 1850.9L176.4 1851.8L178.3 1852.6L180.3 1853.2L182.8 1853.4L185.6 1853.4L188.6 1853.4L191.5 1853.3L194.2 1853.2L196.6 1853.1L199.0 1853.0L201.2 1852.9L203.3 1852.7L205.3 1852.3L207.2 1851.7L208.9 1850.9L210.5 1850.0L212.1 1849.3L213.6 1849.0L215.1 1849.2L216.5 1849.9L217.8 1850.7L219.2 1851.2L220.5 1851.2L221.9 1850.5L223.3 1849.4L224.6 1847.9L226.0 1846.4L227.5 1844.8L229.1 1843.3L230.7 1841.5L232.4 1839.7L234.1 1838.0L235.8 1836.5L237.5 1835.3L239.1 1834.2L240.8 1833.3L242.5 1832.2L244.1 1831.0L245.7 1829.5L247.3 1827.8L248.9 1826.1L250.6 1824.4L252.4 1822.7L254.5 1820.9L256.8 1819.2L259.2 1817.5L261.4 1815.8L263.5 1814.3L265.4 1813.0L267.2 1811.7L268.9 1810.5L270.4 1809.5L271.9 1808.8L273.1 1808.2L274.3 1807.8L275.3 1807.6L276.3 1807.7L277.4 1808.0L278.5 1808.5L279.5 1809.3L280.5 1810.3L281.7 1811.6L282.9 1812.9L284.4 1814.8L286.1 1817.0L287.8 1819.3L289.6 1821.3L291.3 1822.7L293.0 1823.1L294.7 1823.0L296.5 1822.5L298.1 1821.8L299.6 1821.3L300.8 1820.7L301.9 1820.1L302.9 1819.4L304.0 1818.8L305.1 1818.5L306.4 1818.6L307.7 1818.9L309.0 1819.4L310.5 1819.8L312.1 1819.9L313.8 1819.6L315.8 1819.1L317.9 1818.5L319.9 1817.8L321.8 1817.1L323.5 1816.5L325.2 1816.0L326.8 1815.5L328.4 1814.7L330.1 1813.8L331.8 1812.6L333.4 1811.3L335.1 1809.9L336.7 1808.1L338.4 1806.0L340.1 1803.5L341.7 1800.5L343.4 1797.3L345.1 1794.0L346.7 1790.8L348.4 1787.6L350.1 1784.3L351.7 1781.0L353.4 1777.6L355.0 1774.1L356.7 1770.4L358.4 1766.6L360.0 1762.7L361.7 1758.7L363.4 1754.7L365.0 1750.6L366.7 1746.4L368.4 1742.1L370.0 1737.9L371.7 1733.9L373.3 1730.1L375.0 1726.6L376.7 1723.1L378.3 1719.5L380.0 1715.9L381.7 1711.9L383.4 1707.6L385.1 1703.3L386.8 1699.5L388.3 1696.5L389.7 1694.3L390.9 1692.7L392.1 1691.6L393.4 1691.0L394.9 1690.7L396.7 1690.9L398.6 1691.7L400.6 1692.8L402.8 1694.0L404.9 1695.1L407.0 1696.1L409.2 1697.1L411.5 1698.2L413.7 1699.4L416.0 1700.7L418.2 1702.4L420.4 1704.4L422.6 1706.4L424.8 1708.1L427.1 1709.0L429.3 1708.8L431.5 1707.8L433.7 1706.5L435.9 1705.4L438.2 1705.1L440.4 1705.9L442.6 1707.5L444.8 1709.3L447.0 1710.9L449.3 1711.8L451.5 1711.6L453.7 1710.8L455.9 1709.8L458.1 1709.0L460.3 1709.0L462.6 1710.0L464.8 1711.5L467.0 1713.5L469.2 1715.5L471.4 1717.3L473.7 1719.1L475.9 1720.9L478.1 1722.7L480.3 1724.3L482.5 1725.6L484.7 1726.5L487.0 1726.9L489.2 1727.2L491.4 1727.6L493.6 1728.4L495.8 1729.7L498.1 1731.3L500.3 1733.1L502.5 1735.0L504.7 1736.7L506.9 1738.7L509.2 1740.9L511.4 1742.9L513.6 1744.4L515.8 1745.0L517.9 1744.3L520.0 1742.4L522.1 1740.1L524.3 1737.9L526.9 1736.7L529.9 1736.5L533.2 1737.0L536.6 1737.7L540.1 1738.7L543.5 1739.5L546.9 1740.4L550.2 1741.6L553.5 1742.7L556.8 1743.6L560.2 1743.9L563.5 1743.6L566.8 1742.7L570.2 1741.6L573.5 1740.4L576.8 1739.5L580.1 1738.9L583.5 1738.5L586.8 1738.2L590.1 1737.6L593.5 1736.7L596.8 1735.5L600.1 1734.1L603.4 1732.4L606.8 1730.5L610.1 1728.4L613.4 1726.0L616.7 1723.4L620.1 1720.6L623.4 1717.6L626.7 1714.5L630.1 1711.3L633.7 1707.9L637.1 1704.4L640.4 1701.0L643.4 1697.9L645.9 1694.9L647.9 1691.9L649.9 1689.1L652.0 1687.0L654.5 1685.7L657.7 1685.7L661.5 1686.7L665.4 1688.2L668.8 1689.7L671.1 1690.7"/><path fill="none" stroke="#111" stroke-width="2.4" stroke-linejoin="round" stroke-linecap="round" d="M147.1 1828.2L147.6 1828.4L148.4 1828.7L149.3 1829.1L150.2 1829.8L151.2 1831.0L152.2 1832.7L153.3 1834.9L154.5 1837.4L155.6 1839.9L156.8 1842.1L157.9 1844.0L159.0 1845.9L160.1 1847.6L161.2 1849.2L162.3 1850.4L163.4 1851.3L164.6 1851.9L165.7 1852.4L166.8 1852.6L167.9 1852.6L168.7 1852.3L169.4 1851.6L170.1 1850.7L170.9 1850.1L172.0 1849.8L173.3 1850.2L174.8 1850.9L176.4 1851.8L178.3 1852.6L180.3 1853.2L182.8 1853.4L185.6 1853.4L188.6 1853.4L191.5 1853.3L194.2 1853.2L196.6 1853.1L199.0 1853.0L201.2 1852.9L203.3 1852.7L205.3 1852.3L207.2 1851.7L208.9 1850.9L210.5 1850.0L212.1 1849.3L213.6 1849.0L215.1 1849.2L216.5 1849.9L217.8 1850.7L219.2 1851.2L220.5 1851.2L221.9 1850.5L223.3 1849.4L224.6 1847.9L226.0 1846.4L227.5 1844.8L229.1 1843.3L230.7 1841.5L232.4 1839.7L234.1 1838.0L235.8 1836.5L237.5 1835.3L239.1 1834.2L240.8 1833.3L242.5 1832.2L244.1 1831.0L245.7 1829.5L247.3 1827.8L248.9 1826.1L250.6 1824.4L252.4 1822.7L254.5 1820.9L256.8 1819.2L259.2 1817.5L261.4 1815.8L263.5 1814.3L265.4 1813.0L267.2 1811.7L268.9 1810.5L270.4 1809.5L271.9 1808.8L273.1 1808.2L274.3 1807.8L275.3 1807.6L276.3 1807.7L277.4 1808.0L278.5 1808.5L279.5 1809.3L280.5 1810.3L281.7 1811.6L282.9 1812.9L284.4 1814.8L286.1 1817.0L287.8 1819.3L289.6 1821.3L291.3 1822.7L293.0 1823.1L294.7 1823.0L296.5 1822.5L298.1 1821.8L299.6 1821.3L300.8 1820.7L301.9 1820.1L302.9 1819.4L304.0 1818.8L305.1 1818.5L306.4 1818.6L307.7 1818.9L309.0 1819.4L310.5 1819.8L312.1 1819.9L313.8 1819.6L315.8 1819.1L317.9 1818.5L319.9 1817.8L321.8 1817.1L323.5 1816.5L325.2 1816.0L326.8 1815.5L328.4 1814.7L330.1 1813.8L331.8 1812.6L333.4 1811.3L335.1 1809.9L336.7 1808.1L338.4 1806.0L340.1 1803.5L341.7 1800.5L343.4 1797.3L345.1 1794.0L346.7 1790.8L348.4 1787.6L350.1 1784.3L351.7 1781.0L353.4 1777.6L355.0 1774.1L356.7 1770.4L358.4 1766.6L360.0 1762.7L361.7 1758.7L363.4 1754.7L365.0 1750.6L366.7 1746.4L368.4 1742.1L370.0 1737.9L371.7 1733.9L373.3 1730.1L375.0 1726.6L376.7 1723.1L378.3 1719.5L380.0 1715.9L381.7 1711.9L383.4 1707.6L385.1 1703.3L386.8 1699.5L388.3 1696.5L389.7 1694.3L390.9 1692.7L392.1 1691.6L393.4 1691.0L394.9 1690.7L396.7 1690.9L398.6 1691.7L400.6 1692.8L402.8 1694.0L404.9 1695.1L407.0 1696.1L409.2 1697.1L411.5 1698.2L413.7 1699.4L416.0 1700.7L418.2 1702.4L420.4 1704.4L422.6 1706.4L424.8 1708.1L427.1 1709.0L429.3 1708.8L431.5 1707.8L433.7 1706.5L435.9 1705.4L438.2 1705.1L440.4 1705.9L442.6 1707.5L444.8 1709.3L447.0 1710.9L449.3 1711.8L451.5 1711.6L453.7 1710.8L455.9 1709.8L458.1 1709.0L460.3 1709.0L462.6 1710.0L464.8 1711.5L467.0 1713.5L469.2 1715.5L471.4 1717.3L473.7 1719.1L475.9 1720.9L478.1 1722.7L480.3 1724.3L482.5 1725.6L484.7 1726.5L487.0 1726.9L489.2 1727.2L491.4 1727.6L493.6 1728.4L495.8 1729.7L498.1 1731.3L500.3 1733.1L502.5 1735.0L504.7 1736.7L506.9 1738.7L509.2 1740.9L511.4 1742.9L513.6 1744.4L515.8 1745.0L517.9 1744.3L520.0 1742.4L522.1 1740.1L524.3 1737.9L526.9 1736.7L529.9 1736.5L533.2 1737.0L536.6 1737.7L540.1 1738.7L543.5 1739.5L546.9 1740.4L550.2 1741.6L553.5 1742.7L556.8 1743.6L560.2 1743.9L563.5 1743.6L566.8 1742.7L570.2 1741.6L573.5 1740.4L576.8 1739.5L580.1 1738.9L583.5 1738.5L586.8 1738.2L590.1 1737.6L593.5 1736.7L596.8 1735.5L600.1 1734.1L603.4 1732.4L606.8 1730.5L610.1 1728.4L613.4 1726.0L616.7 1723.4L620.1 1720.6L623.4 1717.6L626.7 1714.5L630.1 1711.3L633.7 1707.9L637.1 1704.4L640.4 1701.0L643.4 1697.9L645.9 1694.9L647.9 1691.9L649.9 1689.1L652.0 1687.0L654.5 1685.7L657.7 1685.7L661.5 1686.7L665.4 1688.2L668.8 1689.7L671.1 1690.7"/>
<g fill="#1aa53a"><circle cx="466.7" cy="1608.9" r="3.5"/><circle cx="464.1" cy="1621.9" r="3.5"/><circle cx="461.5" cy="1630.4" r="3.5"/><circle cx="464.1" cy="1657.1" r="3.5"/><circle cx="467.6" cy="1661.4" r="3.5"/><circle cx="464.1" cy="1691.4" r="3.5"/><circle cx="464.1" cy="1708.0" r="3.5"/><circle cx="464.1" cy="1715.1" r="3.5"/><circle cx="465.4" cy="1723.0" r="3.5"/><circle cx="464.1" cy="1728.2" r="3.5"/><circle cx="464.1" cy="1740.6" r="3.5"/><circle cx="464.8" cy="1750.3" r="3.5"/><circle cx="466.1" cy="1756.9" r="3.5"/><circle cx="465.4" cy="1762.1" r="3.5"/><circle cx="464.1" cy="1788.1" r="3.5"/><circle cx="461.5" cy="1824.0" r="3.5"/></g>
<g fill="#111"><circle cx="478.5" cy="1613.5" r="3.5"/><circle cx="479.8" cy="1618.4" r="3.5"/><circle cx="479.1" cy="1622.6" r="3.5"/><circle cx="479.1" cy="1629.1" r="3.5"/><circle cx="480.4" cy="1648.0" r="3.5"/><circle cx="481.1" cy="1680.6" r="3.5"/><circle cx="478.5" cy="1696.2" r="3.5"/><circle cx="479.1" cy="1699.5" r="3.5"/><circle cx="479.1" cy="1703.4" r="3.5"/><circle cx="479.1" cy="1707.3" r="3.5"/><circle cx="479.1" cy="1712.5" r="3.5"/><circle cx="480.4" cy="1719.1" r="3.5"/><circle cx="480.4" cy="1747.7" r="3.5"/><circle cx="479.8" cy="1753.6" r="3.5"/><circle cx="479.1" cy="1758.2" r="3.5"/><circle cx="479.1" cy="1762.1" r="3.5"/><circle cx="479.8" cy="1772.5" r="3.5"/><circle cx="479.1" cy="1791.4" r="3.5"/></g>
<path fill="none" stroke="#222" stroke-width="1.6" d="M147.1 1598.0V1887.6H669.0"/>
<path stroke="#222" stroke-width="1.5" d="M147.1 1598.0h6M147.1 1639.6h6M147.1 1681.2h6M147.1 1722.0h6M147.1 1763.6h6M147.1 1805.2h6M147.1 1846.2h6"/>
<path stroke="#222" stroke-width="1.5" d="M320.1 1887.6v-4.5M494.6 1887.6v-4.5M581.8 1887.6v-4.5M669.0 1887.6v-4.5"/>
<path stroke="#111" stroke-width="2.7" d="M232.8 1887.6V1867.4M363.7 1887.6V1867.4M407.3 1887.6V1847.5"/>
<g fill="#111"><circle cx="228.2" cy="1849.6" r="3.0"/><circle cx="236.7" cy="1849.4" r="3.4"/><path d="M224.9 1855.4q0-1 1-1h12.2q1 0 1 1v7.5q0 1-1 1h-1.5v1h-9.2v-1h-1.5q-1 0-1-1z"/><path d="M239.0 1857.3h3.2v3.8h-3.2zM242.0 1858.1L247.4 1854.1V1863.0L242.0 1860.3z"/></g>
<path fill="#111" d="M350.4 1852.1C353.5 1849.6 356.5 1845.3 359.7 1845.3C361.3 1845.3 361.9 1846.1 362.5 1846.1C363.1 1846.1 363.7 1845.3 365.3 1845.3C368.5 1845.3 371.5 1849.6 374.6 1852.1C371.5 1856.1 368.5 1860.3 362.5 1860.3C356.5 1860.3 353.5 1856.1 350.4 1852.1z"/><path fill="none" stroke="#fff" stroke-width="1.8" stroke-linecap="round" d="M352.0 1852.4Q357.5 1851.5 360.5 1852.7Q362.5 1853.3 364.5 1852.7Q367.5 1851.5 373.0 1852.4"/>
<path fill="#111" d="M395.6 1830.1h6.3l6.7-4.8v16.8l-6.7-4.8h-6.3z"/><path fill="none" stroke="#111" stroke-width="1.9" stroke-linecap="round" d="M410.75 1830.31A4.3 4.3 0 0 1 410.75 1837.09M412.78 1827.71A7.6 7.6 0 0 1 412.78 1839.69M414.87 1825.03A11.0 11.0 0 0 1 414.87 1842.37"/>
<text x="97.56" y="1608.10" font-size="22" textLength="36.71" lengthAdjust="spacingAndGlyphs" fill="#000">120</text>
<text x="97.56" y="1649.70" font-size="22" textLength="36.71" lengthAdjust="spacingAndGlyphs" fill="#000">100</text>
<text x="109.79" y="1691.30" font-size="22" textLength="24.47" lengthAdjust="spacingAndGlyphs" fill="#000">80</text>
<text x="109.79" y="1732.10" font-size="22" textLength="24.47" lengthAdjust="spacingAndGlyphs" fill="#000">60</text>
<text x="109.79" y="1773.70" font-size="22" textLength="24.47" lengthAdjust="spacingAndGlyphs" fill="#000">40</text>
<text x="109.79" y="1815.30" font-size="22" textLength="24.47" lengthAdjust="spacingAndGlyphs" fill="#000">20</text>
<text x="122.03" y="1856.30" font-size="22" textLength="12.24" lengthAdjust="spacingAndGlyphs" fill="#000">0</text>
<text x="102.47" y="1897.70" font-size="22" textLength="31.80" lengthAdjust="spacingAndGlyphs" fill="#000">-20</text>
<text x="204.10" y="1632.20" font-size="24" textLength="82.05" lengthAdjust="spacingAndGlyphs" fill="#000">viseme:</text>
<text x="230.86" y="1661.90" font-size="24" textLength="113.01" lengthAdjust="spacingAndGlyphs" fill="#000">nonsalient</text>
<text x="231.83" y="1690.80" font-size="24" textLength="68.93" lengthAdjust="spacingAndGlyphs" fill="#000">salient</text>
<path stroke="#1aa53a" stroke-width="6.2" d="M186.1 1656.5H220.1"/>
<path stroke="#111" stroke-width="5.6" d="M186.1 1685.2H220.1"/>
<text transform="translate(82.00 1808.54) rotate(-90)" font-size="28.4" textLength="196.08" lengthAdjust="spacingAndGlyphs" fill="#000">Field strength (fT)</text>
<text transform="translate(26.70 1826.53) rotate(-90)" font-size="36.5" textLength="239.10" lengthAdjust="spacingAndGlyphs" fill="#000">Left hemisphere</text>
<path stroke="#9ad886" stroke-width="1.4" d="M1052.2 1596.9V1886.9"/>
<path stroke="#555" stroke-width="1.6" d="M1056.1 1596.9V1886.9"/>
<path fill="none" stroke="#9ee08a" stroke-opacity="0.35" stroke-width="7" stroke-linejoin="round" stroke-linecap="round" d="M723.8 1827.5L724.8 1827.9L726.1 1828.5L727.6 1829.2L729.2 1830.1L730.7 1831.2L732.1 1832.4L733.4 1833.8L734.7 1835.4L736.1 1837.1L737.7 1839.0L739.4 1841.4L741.2 1844.1L743.1 1846.9L745.0 1849.5L746.9 1851.5L748.7 1852.9L750.5 1853.9L752.3 1854.6L754.1 1855.0L756.1 1855.2L758.3 1854.9L760.6 1854.2L762.9 1853.3L765.3 1852.3L767.6 1851.5L769.9 1850.8L772.3 1850.2L774.6 1849.6L776.9 1849.0L779.2 1848.2L781.5 1847.4L783.9 1846.4L786.3 1845.4L788.5 1844.4L790.7 1843.6L792.7 1843.2L794.6 1842.9L796.3 1842.7L798.1 1842.3L799.9 1841.3L801.8 1839.7L803.7 1837.5L805.6 1835.1L807.5 1832.9L809.2 1831.2L810.6 1830.1L811.9 1829.2L813.1 1828.7L814.4 1828.4L816.1 1828.4L818.1 1828.9L820.4 1830.0L822.8 1831.2L825.2 1832.0L827.6 1832.1L830.0 1831.1L832.4 1829.4L834.9 1827.3L837.1 1825.3L839.1 1823.8L840.8 1822.9L842.1 1822.3L843.3 1821.8L844.6 1821.3L846.1 1820.6L847.7 1819.4L849.6 1817.9L851.5 1816.5L853.4 1815.4L855.3 1815.0L857.2 1815.6L859.2 1816.9L861.1 1818.6L863.0 1820.4L864.5 1822.0L865.6 1823.5L866.5 1825.1L867.2 1826.6L868.0 1827.8L869.1 1828.4L870.6 1828.2L872.3 1827.4L874.1 1826.2L876.1 1824.9L878.3 1823.8L880.8 1823.0L883.7 1822.2L886.6 1821.4L889.5 1820.4L892.2 1819.2L894.6 1817.7L897.0 1816.1L899.2 1814.3L901.4 1812.2L903.7 1810.0L906.1 1807.3L908.4 1804.4L910.8 1801.2L913.1 1798.1L915.2 1795.2L917.2 1792.6L919.1 1790.1L920.9 1787.7L922.7 1785.1L924.5 1782.3L926.3 1779.3L928.0 1776.2L929.8 1772.8L931.7 1769.2L933.7 1765.2L935.9 1760.6L938.2 1755.6L940.7 1750.2L943.0 1744.9L945.2 1739.9L947.2 1734.9L949.1 1730.0L950.9 1725.2L952.6 1720.8L954.4 1716.8L956.3 1713.4L958.2 1710.4L960.1 1707.8L962.0 1705.3L963.7 1703.0L965.2 1700.5L966.5 1698.0L967.8 1695.7L969.1 1693.9L970.6 1692.8L972.2 1692.6L973.9 1693.2L975.7 1694.2L977.6 1695.3L979.8 1696.0L982.3 1696.5L985.0 1696.9L987.9 1697.2L990.8 1697.4L993.7 1697.4L996.5 1697.1L999.3 1696.4L1002.1 1695.6L1004.9 1695.1L1007.5 1695.1L1009.9 1695.7L1012.3 1696.7L1014.5 1698.0L1016.8 1699.3L1019.0 1700.6L1021.3 1702.2L1023.6 1704.0L1025.9 1705.8L1028.2 1707.1L1030.6 1707.6L1032.9 1706.9L1035.3 1705.5L1037.6 1703.6L1039.9 1701.6L1042.1 1699.7L1044.0 1697.8L1045.8 1695.7L1047.6 1693.7L1049.4 1692.1L1051.3 1691.4L1053.4 1691.8L1055.6 1693.1L1058.0 1694.8L1060.4 1696.7L1062.8 1698.3L1065.5 1699.7L1068.2 1701.1L1071.0 1702.5L1073.9 1703.9L1076.7 1705.3L1079.4 1706.7L1082.2 1708.1L1085.0 1709.5L1087.7 1710.9L1090.5 1712.2L1093.3 1713.4L1096.2 1714.7L1099.0 1715.9L1101.7 1716.9L1104.4 1717.7L1106.8 1718.1L1109.0 1718.2L1111.2 1718.2L1113.5 1718.3L1115.9 1718.6L1118.5 1719.3L1121.1 1720.2L1123.9 1721.3L1126.8 1722.5L1129.7 1723.7L1132.8 1725.1L1135.9 1726.7L1139.1 1728.4L1142.5 1730.1L1145.9 1731.5L1149.5 1733.0L1153.3 1734.5L1157.2 1735.8L1160.9 1736.9L1164.3 1737.5L1167.4 1737.7L1170.2 1737.3L1172.8 1736.7L1175.5 1736.0L1178.2 1735.2L1180.9 1734.5L1183.7 1733.5L1186.5 1732.5L1189.2 1731.5L1192.0 1730.6L1194.8 1729.9L1197.5 1729.3L1200.3 1728.7L1203.1 1727.9L1205.8 1726.9L1208.6 1725.4L1211.4 1723.5L1214.1 1721.5L1216.9 1719.9L1219.7 1719.1L1222.5 1719.2L1225.4 1720.1L1228.2 1721.3L1231.0 1722.6L1233.5 1723.7L1235.9 1724.6L1238.3 1725.4L1240.5 1726.2L1242.3 1726.9L1243.7 1727.4"/><path fill="none" stroke="#1aa53a" stroke-width="2.4" stroke-linejoin="round" stroke-linecap="round" d="M723.8 1827.5L724.8 1827.9L726.1 1828.5L727.6 1829.2L729.2 1830.1L730.7 1831.2L732.1 1832.4L733.4 1833.8L734.7 1835.4L736.1 1837.1L737.7 1839.0L739.4 1841.4L741.2 1844.1L743.1 1846.9L745.0 1849.5L746.9 1851.5L748.7 1852.9L750.5 1853.9L752.3 1854.6L754.1 1855.0L756.1 1855.2L758.3 1854.9L760.6 1854.2L762.9 1853.3L765.3 1852.3L767.6 1851.5L769.9 1850.8L772.3 1850.2L774.6 1849.6L776.9 1849.0L779.2 1848.2L781.5 1847.4L783.9 1846.4L786.3 1845.4L788.5 1844.4L790.7 1843.6L792.7 1843.2L794.6 1842.9L796.3 1842.7L798.1 1842.3L799.9 1841.3L801.8 1839.7L803.7 1837.5L805.6 1835.1L807.5 1832.9L809.2 1831.2L810.6 1830.1L811.9 1829.2L813.1 1828.7L814.4 1828.4L816.1 1828.4L818.1 1828.9L820.4 1830.0L822.8 1831.2L825.2 1832.0L827.6 1832.1L830.0 1831.1L832.4 1829.4L834.9 1827.3L837.1 1825.3L839.1 1823.8L840.8 1822.9L842.1 1822.3L843.3 1821.8L844.6 1821.3L846.1 1820.6L847.7 1819.4L849.6 1817.9L851.5 1816.5L853.4 1815.4L855.3 1815.0L857.2 1815.6L859.2 1816.9L861.1 1818.6L863.0 1820.4L864.5 1822.0L865.6 1823.5L866.5 1825.1L867.2 1826.6L868.0 1827.8L869.1 1828.4L870.6 1828.2L872.3 1827.4L874.1 1826.2L876.1 1824.9L878.3 1823.8L880.8 1823.0L883.7 1822.2L886.6 1821.4L889.5 1820.4L892.2 1819.2L894.6 1817.7L897.0 1816.1L899.2 1814.3L901.4 1812.2L903.7 1810.0L906.1 1807.3L908.4 1804.4L910.8 1801.2L913.1 1798.1L915.2 1795.2L917.2 1792.6L919.1 1790.1L920.9 1787.7L922.7 1785.1L924.5 1782.3L926.3 1779.3L928.0 1776.2L929.8 1772.8L931.7 1769.2L933.7 1765.2L935.9 1760.6L938.2 1755.6L940.7 1750.2L943.0 1744.9L945.2 1739.9L947.2 1734.9L949.1 1730.0L950.9 1725.2L952.6 1720.8L954.4 1716.8L956.3 1713.4L958.2 1710.4L960.1 1707.8L962.0 1705.3L963.7 1703.0L965.2 1700.5L966.5 1698.0L967.8 1695.7L969.1 1693.9L970.6 1692.8L972.2 1692.6L973.9 1693.2L975.7 1694.2L977.6 1695.3L979.8 1696.0L982.3 1696.5L985.0 1696.9L987.9 1697.2L990.8 1697.4L993.7 1697.4L996.5 1697.1L999.3 1696.4L1002.1 1695.6L1004.9 1695.1L1007.5 1695.1L1009.9 1695.7L1012.3 1696.7L1014.5 1698.0L1016.8 1699.3L1019.0 1700.6L1021.3 1702.2L1023.6 1704.0L1025.9 1705.8L1028.2 1707.1L1030.6 1707.6L1032.9 1706.9L1035.3 1705.5L1037.6 1703.6L1039.9 1701.6L1042.1 1699.7L1044.0 1697.8L1045.8 1695.7L1047.6 1693.7L1049.4 1692.1L1051.3 1691.4L1053.4 1691.8L1055.6 1693.1L1058.0 1694.8L1060.4 1696.7L1062.8 1698.3L1065.5 1699.7L1068.2 1701.1L1071.0 1702.5L1073.9 1703.9L1076.7 1705.3L1079.4 1706.7L1082.2 1708.1L1085.0 1709.5L1087.7 1710.9L1090.5 1712.2L1093.3 1713.4L1096.2 1714.7L1099.0 1715.9L1101.7 1716.9L1104.4 1717.7L1106.8 1718.1L1109.0 1718.2L1111.2 1718.2L1113.5 1718.3L1115.9 1718.6L1118.5 1719.3L1121.1 1720.2L1123.9 1721.3L1126.8 1722.5L1129.7 1723.7L1132.8 1725.1L1135.9 1726.7L1139.1 1728.4L1142.5 1730.1L1145.9 1731.5L1149.5 1733.0L1153.3 1734.5L1157.2 1735.8L1160.9 1736.9L1164.3 1737.5L1167.4 1737.7L1170.2 1737.3L1172.8 1736.7L1175.5 1736.0L1178.2 1735.2L1180.9 1734.5L1183.7 1733.5L1186.5 1732.5L1189.2 1731.5L1192.0 1730.6L1194.8 1729.9L1197.5 1729.3L1200.3 1728.7L1203.1 1727.9L1205.8 1726.9L1208.6 1725.4L1211.4 1723.5L1214.1 1721.5L1216.9 1719.9L1219.7 1719.1L1222.5 1719.2L1225.4 1720.1L1228.2 1721.3L1231.0 1722.6L1233.5 1723.7L1235.9 1724.6L1238.3 1725.4L1240.5 1726.2L1242.3 1726.9L1243.7 1727.4"/>
<path fill="none" stroke="#999" stroke-opacity="0.35" stroke-width="7" stroke-linejoin="round" stroke-linecap="round" d="M723.8 1826.6L725.4 1827.9L727.6 1829.8L730.2 1832.1L732.9 1834.4L735.4 1836.7L737.7 1839.0L740.2 1841.6L742.6 1844.1L744.9 1846.4L746.9 1848.2L748.6 1849.8L750.0 1851.2L751.3 1852.2L752.5 1852.8L753.8 1852.9L755.1 1852.0L756.3 1850.3L757.6 1848.3L759.0 1846.4L760.7 1845.0L762.8 1844.3L765.2 1843.9L767.7 1843.7L770.2 1843.6L772.3 1843.6L773.9 1843.7L775.2 1844.0L776.5 1844.3L777.7 1844.7L779.2 1845.0L780.9 1845.3L782.7 1845.6L784.6 1845.9L786.5 1846.3L788.4 1846.9L790.3 1847.8L792.2 1849.1L794.1 1850.4L795.9 1851.3L797.6 1851.5L799.1 1850.8L800.4 1849.5L801.7 1847.7L803.0 1845.7L804.5 1843.6L806.2 1841.2L808.1 1838.3L810.0 1835.4L811.9 1832.8L813.8 1831.2L815.6 1830.8L817.5 1831.4L819.3 1832.3L821.1 1833.0L823.0 1833.0L824.8 1832.0L826.7 1830.4L828.5 1828.5L830.4 1826.6L832.2 1825.2L834.0 1824.3L835.7 1823.6L837.4 1823.1L839.3 1822.6L841.4 1822.0L843.9 1821.1L846.6 1820.2L849.5 1819.2L852.4 1818.5L855.3 1818.3L858.1 1818.5L861.0 1819.2L863.9 1820.1L866.6 1821.0L869.1 1822.0L871.2 1823.0L873.0 1824.2L874.7 1825.4L876.4 1826.3L878.3 1826.6L880.5 1826.1L882.8 1825.2L885.1 1823.8L887.5 1822.2L889.9 1820.6L892.2 1818.8L894.6 1816.7L897.0 1814.5L899.2 1812.2L901.4 1810.0L903.4 1807.8L905.3 1805.7L907.0 1803.5L908.8 1801.2L910.6 1798.9L912.4 1796.5L914.2 1793.9L916.0 1791.4L917.9 1788.7L919.9 1786.0L922.0 1783.3L924.3 1780.6L926.7 1777.7L929.0 1774.7L931.4 1771.2L933.7 1767.3L936.1 1762.9L938.5 1758.4L940.8 1753.7L942.9 1749.1L944.9 1744.5L946.9 1739.7L948.7 1735.0L950.5 1730.3L952.1 1726.0L953.6 1721.8L955.0 1717.7L956.2 1713.8L957.6 1710.4L959.1 1707.6L960.8 1705.6L962.7 1704.2L964.6 1703.3L966.5 1702.6L968.3 1702.0L969.8 1701.4L971.1 1701.0L972.4 1700.7L973.7 1700.7L975.2 1701.1L976.8 1701.9L978.5 1703.2L980.3 1704.7L982.3 1706.2L984.4 1707.6L986.9 1708.7L989.7 1709.8L992.7 1710.8L995.6 1711.9L998.3 1713.1L1000.7 1714.5L1003.0 1716.1L1005.3 1717.7L1007.5 1719.2L1009.8 1720.5L1012.1 1721.6L1014.5 1722.7L1016.9 1723.7L1019.2 1724.3L1021.3 1724.6L1023.2 1724.5L1025.0 1723.9L1026.6 1723.1L1028.5 1722.2L1030.6 1721.4L1033.1 1720.6L1036.0 1719.6L1039.0 1718.7L1041.8 1718.0L1044.4 1717.7L1046.6 1717.8L1048.6 1718.2L1050.5 1718.9L1052.1 1719.6L1053.6 1720.5L1054.8 1721.4L1055.6 1722.3L1056.3 1723.4L1057.1 1724.6L1058.2 1726.0L1059.8 1727.6L1061.6 1729.4L1063.5 1731.4L1065.5 1733.3L1067.5 1735.2L1069.3 1737.2L1071.1 1739.2L1073.0 1741.1L1074.8 1742.9L1076.7 1744.5L1078.5 1745.8L1080.4 1746.9L1082.2 1747.9L1084.1 1748.6L1085.9 1749.1L1087.7 1749.3L1089.4 1749.3L1091.1 1749.1L1093.0 1748.7L1095.1 1748.2L1097.7 1747.4L1100.6 1746.4L1103.5 1745.3L1106.4 1744.3L1109.0 1743.5L1111.1 1743.0L1113.0 1742.5L1114.7 1742.2L1116.4 1742.1L1118.2 1742.2L1120.1 1742.5L1122.0 1743.1L1123.9 1743.8L1125.7 1744.6L1127.4 1745.4L1128.9 1746.3L1130.1 1747.3L1131.3 1748.3L1132.7 1749.0L1134.3 1749.1L1136.3 1748.4L1138.5 1747.0L1140.9 1745.4L1143.3 1743.7L1145.9 1742.2L1148.5 1740.8L1151.2 1739.5L1154.1 1738.2L1156.9 1737.0L1159.7 1736.2L1162.5 1735.7L1165.5 1735.6L1168.3 1735.7L1171.1 1735.6L1173.5 1735.2L1175.6 1734.3L1177.3 1733.1L1179.0 1731.8L1180.7 1730.6L1182.8 1729.7L1185.2 1729.3L1188.0 1729.3L1190.8 1729.5L1193.8 1729.5L1196.6 1729.2L1199.4 1728.7L1202.1 1728.0L1204.9 1727.2L1207.7 1726.2L1210.4 1725.1L1213.3 1723.7L1216.2 1722.1L1219.1 1720.4L1221.8 1718.9L1224.3 1717.7L1226.4 1717.0L1228.3 1716.7L1230.0 1716.5L1231.7 1716.3L1233.5 1715.9L1235.6 1715.0L1238.0 1714.0L1240.3 1712.9L1242.3 1711.9L1243.7 1711.3"/><path fill="none" stroke="#111" stroke-width="2.4" stroke-linejoin="round" stroke-linecap="round" d="M723.8 1826.6L725.4 1827.9L727.6 1829.8L730.2 1832.1L732.9 1834.4L735.4 1836.7L737.7 1839.0L740.2 1841.6L742.6 1844.1L744.9 1846.4L746.9 1848.2L748.6 1849.8L750.0 1851.2L751.3 1852.2L752.5 1852.8L753.8 1852.9L755.1 1852.0L756.3 1850.3L757.6 1848.3L759.0 1846.4L760.7 1845.0L762.8 1844.3L765.2 1843.9L767.7 1843.7L770.2 1843.6L772.3 1843.6L773.9 1843.7L775.2 1844.0L776.5 1844.3L777.7 1844.7L779.2 1845.0L780.9 1845.3L782.7 1845.6L784.6 1845.9L786.5 1846.3L788.4 1846.9L790.3 1847.8L792.2 1849.1L794.1 1850.4L795.9 1851.3L797.6 1851.5L799.1 1850.8L800.4 1849.5L801.7 1847.7L803.0 1845.7L804.5 1843.6L806.2 1841.2L808.1 1838.3L810.0 1835.4L811.9 1832.8L813.8 1831.2L815.6 1830.8L817.5 1831.4L819.3 1832.3L821.1 1833.0L823.0 1833.0L824.8 1832.0L826.7 1830.4L828.5 1828.5L830.4 1826.6L832.2 1825.2L834.0 1824.3L835.7 1823.6L837.4 1823.1L839.3 1822.6L841.4 1822.0L843.9 1821.1L846.6 1820.2L849.5 1819.2L852.4 1818.5L855.3 1818.3L858.1 1818.5L861.0 1819.2L863.9 1820.1L866.6 1821.0L869.1 1822.0L871.2 1823.0L873.0 1824.2L874.7 1825.4L876.4 1826.3L878.3 1826.6L880.5 1826.1L882.8 1825.2L885.1 1823.8L887.5 1822.2L889.9 1820.6L892.2 1818.8L894.6 1816.7L897.0 1814.5L899.2 1812.2L901.4 1810.0L903.4 1807.8L905.3 1805.7L907.0 1803.5L908.8 1801.2L910.6 1798.9L912.4 1796.5L914.2 1793.9L916.0 1791.4L917.9 1788.7L919.9 1786.0L922.0 1783.3L924.3 1780.6L926.7 1777.7L929.0 1774.7L931.4 1771.2L933.7 1767.3L936.1 1762.9L938.5 1758.4L940.8 1753.7L942.9 1749.1L944.9 1744.5L946.9 1739.7L948.7 1735.0L950.5 1730.3L952.1 1726.0L953.6 1721.8L955.0 1717.7L956.2 1713.8L957.6 1710.4L959.1 1707.6L960.8 1705.6L962.7 1704.2L964.6 1703.3L966.5 1702.6L968.3 1702.0L969.8 1701.4L971.1 1701.0L972.4 1700.7L973.7 1700.7L975.2 1701.1L976.8 1701.9L978.5 1703.2L980.3 1704.7L982.3 1706.2L984.4 1707.6L986.9 1708.7L989.7 1709.8L992.7 1710.8L995.6 1711.9L998.3 1713.1L1000.7 1714.5L1003.0 1716.1L1005.3 1717.7L1007.5 1719.2L1009.8 1720.5L1012.1 1721.6L1014.5 1722.7L1016.9 1723.7L1019.2 1724.3L1021.3 1724.6L1023.2 1724.5L1025.0 1723.9L1026.6 1723.1L1028.5 1722.2L1030.6 1721.4L1033.1 1720.6L1036.0 1719.6L1039.0 1718.7L1041.8 1718.0L1044.4 1717.7L1046.6 1717.8L1048.6 1718.2L1050.5 1718.9L1052.1 1719.6L1053.6 1720.5L1054.8 1721.4L1055.6 1722.3L1056.3 1723.4L1057.1 1724.6L1058.2 1726.0L1059.8 1727.6L1061.6 1729.4L1063.5 1731.4L1065.5 1733.3L1067.5 1735.2L1069.3 1737.2L1071.1 1739.2L1073.0 1741.1L1074.8 1742.9L1076.7 1744.5L1078.5 1745.8L1080.4 1746.9L1082.2 1747.9L1084.1 1748.6L1085.9 1749.1L1087.7 1749.3L1089.4 1749.3L1091.1 1749.1L1093.0 1748.7L1095.1 1748.2L1097.7 1747.4L1100.6 1746.4L1103.5 1745.3L1106.4 1744.3L1109.0 1743.5L1111.1 1743.0L1113.0 1742.5L1114.7 1742.2L1116.4 1742.1L1118.2 1742.2L1120.1 1742.5L1122.0 1743.1L1123.9 1743.8L1125.7 1744.6L1127.4 1745.4L1128.9 1746.3L1130.1 1747.3L1131.3 1748.3L1132.7 1749.0L1134.3 1749.1L1136.3 1748.4L1138.5 1747.0L1140.9 1745.4L1143.3 1743.7L1145.9 1742.2L1148.5 1740.8L1151.2 1739.5L1154.1 1738.2L1156.9 1737.0L1159.7 1736.2L1162.5 1735.7L1165.5 1735.6L1168.3 1735.7L1171.1 1735.6L1173.5 1735.2L1175.6 1734.3L1177.3 1733.1L1179.0 1731.8L1180.7 1730.6L1182.8 1729.7L1185.2 1729.3L1188.0 1729.3L1190.8 1729.5L1193.8 1729.5L1196.6 1729.2L1199.4 1728.7L1202.1 1728.0L1204.9 1727.2L1207.7 1726.2L1210.4 1725.1L1213.3 1723.7L1216.2 1722.1L1219.1 1720.4L1221.8 1718.9L1224.3 1717.7L1226.4 1717.0L1228.3 1716.7L1230.0 1716.5L1231.7 1716.3L1233.5 1715.9L1235.6 1715.0L1238.0 1714.0L1240.3 1712.9L1242.3 1711.9L1243.7 1711.3"/>
<rect x="1058.0" y="1596.9" width="62.5" height="290.0" fill="#dcdce0" fill-opacity="0.6"/>
<g fill="#1aa53a"><circle cx="1050.9" cy="1639.3" r="3.5"/><circle cx="1052.2" cy="1660.4" r="3.5"/><circle cx="1052.2" cy="1665.6" r="3.5"/><circle cx="1050.9" cy="1672.8" r="3.5"/><circle cx="1052.8" cy="1683.3" r="3.5"/><circle cx="1052.2" cy="1688.5" r="3.5"/><circle cx="1052.2" cy="1697.0" r="3.5"/><circle cx="1053.2" cy="1712.6" r="3.5"/><circle cx="1050.9" cy="1729.6" r="3.5"/><circle cx="1052.2" cy="1730.9" r="3.5"/><circle cx="1051.9" cy="1738.0" r="3.5"/><circle cx="1050.9" cy="1749.1" r="3.5"/><circle cx="1051.9" cy="1763.5" r="3.5"/><circle cx="1052.2" cy="1768.7" r="3.5"/><circle cx="1050.2" cy="1773.9" r="3.5"/><circle cx="1052.2" cy="1780.4" r="3.5"/><circle cx="1051.5" cy="1792.8" r="3.5"/><circle cx="1050.9" cy="1793.5" r="3.5"/><circle cx="1050.2" cy="1820.2" r="3.5"/></g>
<g fill="#111"><circle cx="1056.1" cy="1600.4" r="3.5"/><circle cx="1055.8" cy="1625.5" r="3.5"/><circle cx="1057.0" cy="1644.1" r="3.5"/><circle cx="1056.7" cy="1656.5" r="3.5"/><circle cx="1057.4" cy="1662.4" r="3.5"/><circle cx="1057.7" cy="1668.9" r="3.5"/><circle cx="1056.7" cy="1680.0" r="3.5"/><circle cx="1058.0" cy="1684.6" r="3.5"/><circle cx="1056.7" cy="1689.8" r="3.5"/><circle cx="1056.7" cy="1702.2" r="3.5"/><circle cx="1056.7" cy="1706.1" r="3.5"/><circle cx="1056.7" cy="1708.7" r="3.5"/><circle cx="1056.7" cy="1725.6" r="3.5"/><circle cx="1057.4" cy="1733.5" r="3.5"/><circle cx="1056.7" cy="1741.9" r="3.5"/><circle cx="1056.7" cy="1744.6" r="3.5"/><circle cx="1056.7" cy="1758.9" r="3.5"/><circle cx="1057.4" cy="1765.4" r="3.5"/><circle cx="1057.4" cy="1769.3" r="3.5"/></g>
<path fill="none" stroke="#222" stroke-width="1.6" d="M723.8 1596.9V1886.9H1248.3"/>
<path stroke="#222" stroke-width="1.5" d="M723.8 1596.9h6M723.8 1638.1h6M723.8 1679.4h6M723.8 1720.6h6M723.8 1761.8h6M723.8 1803.0h6M723.8 1844.1h6"/>
<path stroke="#222" stroke-width="1.5" d="M900.5 1886.9v-4.5M1075.0 1886.9v-4.5M1162.2 1886.9v-4.5M1249.5 1886.9v-4.5"/>
<path stroke="#111" stroke-width="2.7" d="M813.2 1886.9V1866.6M944.1 1886.9V1866.6M987.7 1886.9V1847.6"/>
<g fill="#111"><circle cx="808.6" cy="1848.8" r="3.0"/><circle cx="817.1" cy="1848.6" r="3.4"/><path d="M805.3 1854.6q0-1 1-1h12.2q1 0 1 1v7.5q0 1-1 1h-1.5v1h-9.2v-1h-1.5q-1 0-1-1z"/><path d="M819.4 1856.5h3.2v3.8h-3.2zM822.4 1857.3L827.8 1853.3V1862.2L822.4 1859.5z"/></g>
<path fill="#111" d="M930.8 1851.3C933.9 1848.8 936.9 1844.5 940.1 1844.5C941.7 1844.5 942.3 1845.3 942.9 1845.3C943.5 1845.3 944.1 1844.5 945.7 1844.5C948.9 1844.5 951.9 1848.8 955.0 1851.3C951.9 1855.3 948.9 1859.5 942.9 1859.5C936.9 1859.5 933.9 1855.3 930.8 1851.3z"/><path fill="none" stroke="#fff" stroke-width="1.8" stroke-linecap="round" d="M932.4 1851.6Q937.9 1850.7 940.9 1851.9Q942.9 1852.5 944.9 1851.9Q947.9 1850.7 953.4 1851.6"/>
<path fill="#111" d="M976.0 1830.2h6.3l6.7-4.8v16.8l-6.7-4.8h-6.3z"/><path fill="none" stroke="#111" stroke-width="1.9" stroke-linecap="round" d="M991.15 1830.41A4.3 4.3 0 0 1 991.15 1837.19M993.18 1827.81A7.6 7.6 0 0 1 993.18 1839.79M995.27 1825.13A11.0 11.0 0 0 1 995.27 1842.47"/>
<rect x="478.6" y="1930.5" width="43.9" height="289.5" fill="#e6e6e8"/>
<path fill="none" stroke="#9ee08a" stroke-opacity="0.35" stroke-width="7" stroke-linejoin="round" stroke-linecap="round" d="M148.6 2172.5L149.3 2173.4L150.4 2174.6L151.7 2175.9L153.0 2177.2L154.3 2178.2L155.4 2179.1L156.4 2179.9L157.5 2180.5L158.6 2180.9L160.0 2181.1L161.5 2180.8L163.3 2180.1L165.2 2179.3L166.9 2178.6L168.5 2178.2L169.8 2178.3L171.0 2178.6L172.1 2179.1L173.1 2179.7L174.2 2180.5L175.4 2181.6L176.5 2182.8L177.6 2184.2L178.8 2185.6L179.9 2186.8L181.1 2187.9L182.2 2188.9L183.4 2189.9L184.5 2190.6L185.6 2191.1L186.8 2191.2L187.9 2191.0L189.1 2190.6L190.2 2190.1L191.3 2189.7L192.4 2189.1L193.5 2188.4L194.6 2187.7L195.7 2187.2L197.0 2186.8L198.6 2186.8L200.3 2187.1L202.0 2187.4L203.8 2187.7L205.6 2187.7L207.3 2187.3L209.0 2186.8L210.7 2186.2L212.4 2185.4L214.2 2184.5L215.9 2183.5L217.6 2182.2L219.3 2180.9L221.0 2179.5L222.7 2178.2L224.4 2177.1L226.1 2175.9L227.8 2174.8L229.6 2173.7L231.3 2172.5L233.0 2171.3L234.7 2170.1L236.4 2168.9L238.1 2167.8L239.8 2166.8L241.5 2166.2L243.3 2165.7L245.0 2165.3L246.7 2164.9L248.4 2164.6L250.1 2164.1L251.8 2163.6L253.5 2163.2L255.2 2162.8L256.9 2162.6L258.7 2162.4L260.4 2162.4L262.1 2162.5L263.8 2162.5L265.5 2162.6L267.3 2162.6L269.1 2162.8L270.8 2162.9L272.5 2162.8L274.1 2162.6L275.4 2162.0L276.5 2161.2L277.6 2160.2L278.7 2159.2L279.8 2158.3L280.9 2157.5L281.9 2156.7L283.0 2155.9L284.1 2155.0L285.5 2154.0L287.0 2152.7L288.7 2151.2L290.5 2149.7L292.3 2148.2L294.0 2146.9L295.7 2145.8L297.4 2144.9L299.2 2144.0L300.9 2143.3L302.6 2142.6L304.3 2141.9L306.1 2141.3L307.9 2140.8L309.6 2140.4L311.1 2140.3L312.5 2140.5L313.6 2140.9L314.7 2141.4L315.7 2142.0L316.8 2142.6L318.0 2143.1L319.1 2143.7L320.3 2144.3L321.4 2144.9L322.5 2145.4L323.7 2146.2L324.8 2147.1L326.0 2147.9L327.1 2148.4L328.2 2148.3L329.4 2147.6L330.5 2146.4L331.7 2144.9L332.8 2143.1L334.0 2141.2L335.1 2138.9L336.2 2136.1L337.4 2133.2L338.5 2130.5L339.7 2128.3L340.8 2126.7L341.9 2125.3L343.1 2124.2L344.2 2123.3L345.4 2122.6L346.5 2122.2L347.6 2122.2L348.8 2122.3L349.9 2122.2L351.1 2121.8L352.2 2121.0L353.3 2120.2L354.5 2119.0L355.6 2117.5L356.8 2115.5L357.9 2112.7L359.1 2109.3L360.2 2105.5L361.3 2101.8L362.5 2098.4L363.6 2095.2L364.8 2092.1L365.9 2089.2L367.0 2086.5L368.2 2084.1L369.3 2082.3L370.5 2080.8L371.6 2079.6L372.7 2078.4L373.9 2077.0L375.0 2075.4L376.2 2073.7L377.3 2072.0L378.4 2070.3L379.6 2068.4L380.7 2066.4L381.9 2064.3L383.0 2062.1L384.2 2060.1L385.3 2058.5L386.4 2057.2L387.6 2056.3L388.7 2055.5L389.9 2054.8L391.0 2054.2L392.1 2053.6L393.3 2053.1L394.4 2052.6L395.6 2052.1L396.7 2051.3L397.8 2050.4L399.0 2049.3L400.1 2048.1L401.3 2046.9L402.4 2045.6L403.5 2044.2L404.7 2042.6L405.8 2041.0L407.0 2039.6L408.1 2038.5L409.3 2037.8L410.4 2037.5L411.5 2037.3L412.7 2037.2L413.8 2037.1L415.0 2036.9L416.1 2036.7L417.2 2036.6L418.4 2036.4L419.5 2036.2L420.7 2035.9L421.8 2035.5L422.9 2035.0L424.1 2034.6L425.2 2034.2L426.4 2033.8L427.5 2033.5L428.6 2033.1L429.8 2032.9L430.9 2032.8L432.1 2032.8L433.2 2033.0L434.4 2033.3L435.5 2033.7L436.6 2034.2L437.8 2034.9L438.9 2035.9L440.1 2036.8L441.2 2037.8L442.3 2038.5L443.5 2039.0L444.6 2039.5L445.8 2039.8L446.9 2039.9L448.0 2039.9L449.2 2039.6L450.3 2039.0L451.5 2038.3L452.6 2037.6L453.7 2037.1L454.9 2036.7L456.0 2036.5L457.2 2036.2L458.3 2036.0L459.5 2035.6L460.6 2035.2L461.7 2034.6L462.9 2034.0L464.0 2033.4L465.2 2032.8L466.3 2032.3L467.4 2031.9L468.6 2031.5L469.7 2030.9L470.9 2029.9L472.0 2028.6L473.1 2026.9L474.3 2025.0L475.4 2023.1L476.6 2021.4L477.7 2019.8L478.8 2018.3L480.0 2016.8L481.1 2015.5L482.3 2014.2L483.4 2013.0L484.6 2011.8L485.7 2010.8L486.8 2010.1L488.0 2010.0L489.1 2010.5L490.2 2011.5L491.4 2012.9L492.5 2014.4L493.7 2015.7L494.9 2016.9L496.1 2018.2L497.3 2019.5L498.6 2020.6L500.0 2021.4L501.4 2021.7L502.8 2021.7L504.4 2021.5L505.9 2021.2L507.5 2020.9L509.1 2020.4L510.6 2019.5L512.2 2018.7L514.0 2018.4L515.8 2019.2L517.8 2021.6L520.0 2025.1L522.3 2029.1L524.6 2033.0L526.9 2035.9L529.1 2037.9L531.3 2039.4L533.6 2040.4L535.8 2041.1L538.0 2041.4L540.2 2041.1L542.4 2040.1L544.6 2038.8L546.9 2037.8L549.1 2037.5L551.3 2038.2L553.5 2039.3L555.7 2040.8L558.0 2042.5L560.2 2044.2L562.4 2046.0L564.6 2047.9L566.8 2049.9L569.1 2052.0L571.3 2054.2L573.5 2056.6L575.7 2059.2L577.9 2061.9L580.1 2064.3L582.4 2066.4L584.6 2068.1L586.8 2069.8L589.0 2071.0L591.2 2071.8L593.5 2071.9L595.7 2071.2L597.9 2069.7L600.1 2067.7L602.3 2065.6L604.5 2063.6L606.8 2061.7L609.0 2059.6L611.2 2057.6L613.4 2055.7L615.6 2054.2L617.9 2053.2L620.1 2052.6L622.3 2052.1L624.5 2051.6L626.7 2050.9L629.0 2049.7L631.2 2048.3L633.4 2046.9L635.6 2045.4L637.8 2044.2L640.0 2043.2L642.3 2042.4L644.5 2041.7L646.7 2040.8L648.9 2039.8L651.1 2038.4L653.4 2036.9L655.6 2035.2L657.8 2033.6L660.0 2032.0L662.4 2030.4L665.0 2028.7L667.5 2027.1L669.6 2025.8L671.1 2024.8"/><path fill="none" stroke="#1aa53a" stroke-width="2.4" stroke-linejoin="round" stroke-linecap="round" d="M148.6 2172.5L149.3 2173.4L150.4 2174.6L151.7 2175.9L153.0 2177.2L154.3 2178.2L155.4 2179.1L156.4 2179.9L157.5 2180.5L158.6 2180.9L160.0 2181.1L161.5 2180.8L163.3 2180.1L165.2 2179.3L166.9 2178.6L168.5 2178.2L169.8 2178.3L171.0 2178.6L172.1 2179.1L173.1 2179.7L174.2 2180.5L175.4 2181.6L176.5 2182.8L177.6 2184.2L178.8 2185.6L179.9 2186.8L181.1 2187.9L182.2 2188.9L183.4 2189.9L184.5 2190.6L185.6 2191.1L186.8 2191.2L187.9 2191.0L189.1 2190.6L190.2 2190.1L191.3 2189.7L192.4 2189.1L193.5 2188.4L194.6 2187.7L195.7 2187.2L197.0 2186.8L198.6 2186.8L200.3 2187.1L202.0 2187.4L203.8 2187.7L205.6 2187.7L207.3 2187.3L209.0 2186.8L210.7 2186.2L212.4 2185.4L214.2 2184.5L215.9 2183.5L217.6 2182.2L219.3 2180.9L221.0 2179.5L222.7 2178.2L224.4 2177.1L226.1 2175.9L227.8 2174.8L229.6 2173.7L231.3 2172.5L233.0 2171.3L234.7 2170.1L236.4 2168.9L238.1 2167.8L239.8 2166.8L241.5 2166.2L243.3 2165.7L245.0 2165.3L246.7 2164.9L248.4 2164.6L250.1 2164.1L251.8 2163.6L253.5 2163.2L255.2 2162.8L256.9 2162.6L258.7 2162.4L260.4 2162.4L262.1 2162.5L263.8 2162.5L265.5 2162.6L267.3 2162.6L269.1 2162.8L270.8 2162.9L272.5 2162.8L274.1 2162.6L275.4 2162.0L276.5 2161.2L277.6 2160.2L278.7 2159.2L279.8 2158.3L280.9 2157.5L281.9 2156.7L283.0 2155.9L284.1 2155.0L285.5 2154.0L287.0 2152.7L288.7 2151.2L290.5 2149.7L292.3 2148.2L294.0 2146.9L295.7 2145.8L297.4 2144.9L299.2 2144.0L300.9 2143.3L302.6 2142.6L304.3 2141.9L306.1 2141.3L307.9 2140.8L309.6 2140.4L311.1 2140.3L312.5 2140.5L313.6 2140.9L314.7 2141.4L315.7 2142.0L316.8 2142.6L318.0 2143.1L319.1 2143.7L320.3 2144.3L321.4 2144.9L322.5 2145.4L323.7 2146.2L324.8 2147.1L326.0 2147.9L327.1 2148.4L328.2 2148.3L329.4 2147.6L330.5 2146.4L331.7 2144.9L332.8 2143.1L334.0 2141.2L335.1 2138.9L336.2 2136.1L337.4 2133.2L338.5 2130.5L339.7 2128.3L340.8 2126.7L341.9 2125.3L343.1 2124.2L344.2 2123.3L345.4 2122.6L346.5 2122.2L347.6 2122.2L348.8 2122.3L349.9 2122.2L351.1 2121.8L352.2 2121.0L353.3 2120.2L354.5 2119.0L355.6 2117.5L356.8 2115.5L357.9 2112.7L359.1 2109.3L360.2 2105.5L361.3 2101.8L362.5 2098.4L363.6 2095.2L364.8 2092.1L365.9 2089.2L367.0 2086.5L368.2 2084.1L369.3 2082.3L370.5 2080.8L371.6 2079.6L372.7 2078.4L373.9 2077.0L375.0 2075.4L376.2 2073.7L377.3 2072.0L378.4 2070.3L379.6 2068.4L380.7 2066.4L381.9 2064.3L383.0 2062.1L384.2 2060.1L385.3 2058.5L386.4 2057.2L387.6 2056.3L388.7 2055.5L389.9 2054.8L391.0 2054.2L392.1 2053.6L393.3 2053.1L394.4 2052.6L395.6 2052.1L396.7 2051.3L397.8 2050.4L399.0 2049.3L400.1 2048.1L401.3 2046.9L402.4 2045.6L403.5 2044.2L404.7 2042.6L405.8 2041.0L407.0 2039.6L408.1 2038.5L409.3 2037.8L410.4 2037.5L411.5 2037.3L412.7 2037.2L413.8 2037.1L415.0 2036.9L416.1 2036.7L417.2 2036.6L418.4 2036.4L419.5 2036.2L420.7 2035.9L421.8 2035.5L422.9 2035.0L424.1 2034.6L425.2 2034.2L426.4 2033.8L427.5 2033.5L428.6 2033.1L429.8 2032.9L430.9 2032.8L432.1 2032.8L433.2 2033.0L434.4 2033.3L435.5 2033.7L436.6 2034.2L437.8 2034.9L438.9 2035.9L440.1 2036.8L441.2 2037.8L442.3 2038.5L443.5 2039.0L444.6 2039.5L445.8 2039.8L446.9 2039.9L448.0 2039.9L449.2 2039.6L450.3 2039.0L451.5 2038.3L452.6 2037.6L453.7 2037.1L454.9 2036.7L456.0 2036.5L457.2 2036.2L458.3 2036.0L459.5 2035.6L460.6 2035.2L461.7 2034.6L462.9 2034.0L464.0 2033.4L465.2 2032.8L466.3 2032.3L467.4 2031.9L468.6 2031.5L469.7 2030.9L470.9 2029.9L472.0 2028.6L473.1 2026.9L474.3 2025.0L475.4 2023.1L476.6 2021.4L477.7 2019.8L478.8 2018.3L480.0 2016.8L481.1 2015.5L482.3 2014.2L483.4 2013.0L484.6 2011.8L485.7 2010.8L486.8 2010.1L488.0 2010.0L489.1 2010.5L490.2 2011.5L491.4 2012.9L492.5 2014.4L493.7 2015.7L494.9 2016.9L496.1 2018.2L497.3 2019.5L498.6 2020.6L500.0 2021.4L501.4 2021.7L502.8 2021.7L504.4 2021.5L505.9 2021.2L507.5 2020.9L509.1 2020.4L510.6 2019.5L512.2 2018.7L514.0 2018.4L515.8 2019.2L517.8 2021.6L520.0 2025.1L522.3 2029.1L524.6 2033.0L526.9 2035.9L529.1 2037.9L531.3 2039.4L533.6 2040.4L535.8 2041.1L538.0 2041.4L540.2 2041.1L542.4 2040.1L544.6 2038.8L546.9 2037.8L549.1 2037.5L551.3 2038.2L553.5 2039.3L555.7 2040.8L558.0 2042.5L560.2 2044.2L562.4 2046.0L564.6 2047.9L566.8 2049.9L569.1 2052.0L571.3 2054.2L573.5 2056.6L575.7 2059.2L577.9 2061.9L580.1 2064.3L582.4 2066.4L584.6 2068.1L586.8 2069.8L589.0 2071.0L591.2 2071.8L593.5 2071.9L595.7 2071.2L597.9 2069.7L600.1 2067.7L602.3 2065.6L604.5 2063.6L606.8 2061.7L609.0 2059.6L611.2 2057.6L613.4 2055.7L615.6 2054.2L617.9 2053.2L620.1 2052.6L622.3 2052.1L624.5 2051.6L626.7 2050.9L629.0 2049.7L631.2 2048.3L633.4 2046.9L635.6 2045.4L637.8 2044.2L640.0 2043.2L642.3 2042.4L644.5 2041.7L646.7 2040.8L648.9 2039.8L651.1 2038.4L653.4 2036.9L655.6 2035.2L657.8 2033.6L660.0 2032.0L662.4 2030.4L665.0 2028.7L667.5 2027.1L669.6 2025.8L671.1 2024.8"/>
<path fill="none" stroke="#999" stroke-opacity="0.35" stroke-width="7" stroke-linejoin="round" stroke-linecap="round" d="M148.6 2169.7L149.1 2169.9L149.8 2170.2L150.7 2170.7L151.7 2171.4L152.8 2172.5L154.1 2174.4L155.6 2176.8L157.1 2179.4L158.6 2181.9L160.0 2184.0L161.2 2185.6L162.4 2187.2L163.5 2188.5L164.6 2189.3L165.7 2189.7L166.8 2189.2L168.0 2188.1L169.1 2186.6L170.2 2185.1L171.4 2184.0L172.5 2183.0L173.7 2182.1L174.8 2181.3L175.9 2180.7L177.1 2180.5L178.2 2180.8L179.3 2181.4L180.4 2182.2L181.6 2183.1L182.8 2184.0L184.1 2184.8L185.5 2185.7L187.0 2186.6L188.5 2187.5L189.9 2188.2L191.4 2188.9L192.8 2189.5L194.3 2190.1L195.7 2190.6L197.0 2191.1L198.2 2191.7L199.3 2192.3L200.3 2192.9L201.4 2193.2L202.7 2193.1L204.3 2192.3L206.0 2191.1L207.7 2189.7L209.5 2188.2L211.3 2186.8L213.0 2185.7L214.7 2184.6L216.4 2183.6L218.2 2182.4L219.9 2181.1L221.6 2179.5L223.3 2177.7L225.0 2175.8L226.7 2174.0L228.4 2172.5L230.2 2171.4L232.0 2170.5L233.8 2169.7L235.4 2169.0L237.0 2168.3L238.3 2167.5L239.3 2166.8L240.3 2166.2L241.4 2165.7L242.7 2165.4L244.3 2165.3L246.0 2165.5L247.9 2165.7L249.7 2166.0L251.2 2166.3L252.5 2166.5L253.6 2166.8L254.6 2167.1L255.7 2167.3L256.9 2167.4L258.5 2167.3L260.2 2167.1L261.9 2166.8L263.7 2166.5L265.5 2166.3L267.2 2166.3L268.9 2166.4L270.6 2166.5L272.3 2166.5L274.1 2166.3L275.8 2165.8L277.6 2165.1L279.4 2164.2L281.1 2163.4L282.6 2162.6L283.9 2161.8L285.0 2161.0L286.0 2160.3L287.0 2159.5L288.3 2158.9L289.8 2158.2L291.5 2157.7L293.3 2157.1L295.1 2156.6L296.9 2156.0L298.6 2155.4L300.4 2154.7L302.2 2154.0L303.9 2153.5L305.4 2153.1L306.8 2153.1L307.9 2153.1L309.0 2153.3L310.0 2153.6L311.1 2154.0L312.3 2154.4L313.4 2155.0L314.6 2155.6L315.7 2156.3L316.8 2156.9L318.0 2157.5L319.1 2158.3L320.3 2159.1L321.4 2159.6L322.5 2159.7L323.7 2159.4L324.8 2158.7L326.0 2157.8L327.1 2156.7L328.2 2155.4L329.4 2154.0L330.5 2152.4L331.7 2150.6L332.8 2148.7L334.0 2146.9L335.1 2144.9L336.2 2142.8L337.4 2140.7L338.5 2138.7L339.7 2136.9L340.8 2135.2L341.9 2133.6L343.1 2132.1L344.2 2130.8L345.4 2129.8L346.5 2129.2L347.6 2129.0L348.8 2128.9L349.9 2128.8L351.1 2128.3L352.2 2127.6L353.3 2126.8L354.5 2125.8L355.6 2124.5L356.8 2122.6L357.9 2120.2L359.1 2117.1L360.2 2113.8L361.3 2110.3L362.5 2106.9L363.6 2103.6L364.8 2100.3L365.9 2096.8L367.0 2093.4L368.2 2089.8L369.3 2086.1L370.5 2082.2L371.6 2078.3L372.7 2074.6L373.9 2071.3L375.0 2068.4L376.2 2065.8L377.3 2063.4L378.4 2061.4L379.6 2059.9L380.7 2058.8L381.9 2058.2L383.0 2057.9L384.2 2057.9L385.3 2057.9L386.4 2058.1L387.6 2058.5L388.7 2059.1L389.9 2059.6L391.0 2059.9L392.1 2060.0L393.3 2059.9L394.4 2059.8L395.6 2059.6L396.7 2059.3L397.8 2058.9L399.0 2058.4L400.1 2057.9L401.3 2057.4L402.4 2057.0L403.5 2056.8L404.7 2056.7L405.8 2056.7L407.0 2056.8L408.1 2057.0L409.3 2057.4L410.4 2058.0L411.5 2058.7L412.7 2059.3L413.8 2059.9L415.0 2060.4L416.1 2060.9L417.2 2061.3L418.4 2061.7L419.5 2061.9L420.7 2061.9L421.8 2061.8L422.9 2061.5L424.1 2061.2L425.2 2060.7L426.4 2060.2L427.5 2059.6L428.6 2058.9L429.8 2058.0L430.9 2057.0L432.1 2055.8L433.2 2054.4L434.4 2052.9L435.5 2051.4L436.6 2049.9L437.8 2048.4L438.9 2047.0L440.1 2045.5L441.2 2044.1L442.3 2042.8L443.5 2041.5L444.6 2040.1L445.8 2038.9L446.9 2037.9L448.0 2037.1L449.2 2036.6L450.3 2036.3L451.5 2036.2L452.6 2036.2L453.7 2036.2L454.9 2036.3L456.0 2036.6L457.2 2036.9L458.3 2037.1L459.5 2037.1L460.6 2036.7L461.7 2036.2L462.9 2035.5L464.0 2034.8L465.2 2034.2L466.3 2033.7L467.4 2033.1L468.6 2032.6L469.7 2032.0L470.9 2031.4L472.0 2030.5L473.1 2029.5L474.3 2028.4L475.4 2027.6L476.6 2027.1L477.7 2026.9L478.8 2027.0L480.0 2027.4L481.1 2027.9L482.3 2028.5L483.4 2029.3L484.6 2030.4L485.7 2031.6L486.8 2032.9L488.0 2034.2L489.1 2035.5L490.2 2037.0L491.4 2038.4L492.5 2039.9L493.7 2041.3L494.9 2042.9L496.2 2044.5L497.5 2046.1L498.8 2047.5L500.0 2048.5L500.9 2049.0L501.7 2049.2L502.4 2049.2L503.4 2048.9L504.7 2048.6L506.5 2048.1L508.7 2047.3L511.1 2046.5L513.5 2045.7L515.8 2045.3L518.0 2045.2L520.2 2045.3L522.5 2045.6L524.7 2046.1L526.9 2047.0L529.1 2048.4L531.3 2050.4L533.6 2052.4L535.8 2054.2L538.0 2055.3L540.2 2055.3L542.4 2054.6L544.6 2053.6L546.9 2052.7L549.1 2052.5L551.3 2053.0L553.5 2053.9L555.7 2055.1L558.0 2056.5L560.2 2058.1L562.4 2060.0L564.6 2062.2L566.8 2064.7L569.1 2067.0L571.3 2069.2L573.5 2071.3L575.7 2073.5L577.9 2075.5L580.1 2076.9L582.4 2077.5L584.6 2076.9L586.8 2075.4L589.0 2073.3L591.2 2071.1L593.5 2069.2L595.7 2067.5L597.9 2065.7L600.1 2064.0L602.3 2062.3L604.5 2060.8L606.8 2059.5L609.0 2058.4L611.2 2057.3L613.4 2056.3L615.6 2055.3L617.9 2054.3L620.1 2053.4L622.3 2052.5L624.5 2051.7L626.7 2050.9L629.0 2050.2L631.2 2049.6L633.4 2049.0L635.6 2048.2L637.8 2047.0L640.0 2045.2L642.3 2042.9L644.5 2040.4L646.7 2038.0L648.9 2035.9L651.1 2034.3L653.4 2033.0L655.6 2031.9L657.8 2030.5L660.0 2028.7L662.4 2026.1L665.0 2022.9L667.5 2019.7L669.6 2016.8L671.1 2014.8"/><path fill="none" stroke="#111" stroke-width="2.4" stroke-linejoin="round" stroke-linecap="round" d="M148.6 2169.7L149.1 2169.9L149.8 2170.2L150.7 2170.7L151.7 2171.4L152.8 2172.5L154.1 2174.4L155.6 2176.8L157.1 2179.4L158.6 2181.9L160.0 2184.0L161.2 2185.6L162.4 2187.2L163.5 2188.5L164.6 2189.3L165.7 2189.7L166.8 2189.2L168.0 2188.1L169.1 2186.6L170.2 2185.1L171.4 2184.0L172.5 2183.0L173.7 2182.1L174.8 2181.3L175.9 2180.7L177.1 2180.5L178.2 2180.8L179.3 2181.4L180.4 2182.2L181.6 2183.1L182.8 2184.0L184.1 2184.8L185.5 2185.7L187.0 2186.6L188.5 2187.5L189.9 2188.2L191.4 2188.9L192.8 2189.5L194.3 2190.1L195.7 2190.6L197.0 2191.1L198.2 2191.7L199.3 2192.3L200.3 2192.9L201.4 2193.2L202.7 2193.1L204.3 2192.3L206.0 2191.1L207.7 2189.7L209.5 2188.2L211.3 2186.8L213.0 2185.7L214.7 2184.6L216.4 2183.6L218.2 2182.4L219.9 2181.1L221.6 2179.5L223.3 2177.7L225.0 2175.8L226.7 2174.0L228.4 2172.5L230.2 2171.4L232.0 2170.5L233.8 2169.7L235.4 2169.0L237.0 2168.3L238.3 2167.5L239.3 2166.8L240.3 2166.2L241.4 2165.7L242.7 2165.4L244.3 2165.3L246.0 2165.5L247.9 2165.7L249.7 2166.0L251.2 2166.3L252.5 2166.5L253.6 2166.8L254.6 2167.1L255.7 2167.3L256.9 2167.4L258.5 2167.3L260.2 2167.1L261.9 2166.8L263.7 2166.5L265.5 2166.3L267.2 2166.3L268.9 2166.4L270.6 2166.5L272.3 2166.5L274.1 2166.3L275.8 2165.8L277.6 2165.1L279.4 2164.2L281.1 2163.4L282.6 2162.6L283.9 2161.8L285.0 2161.0L286.0 2160.3L287.0 2159.5L288.3 2158.9L289.8 2158.2L291.5 2157.7L293.3 2157.1L295.1 2156.6L296.9 2156.0L298.6 2155.4L300.4 2154.7L302.2 2154.0L303.9 2153.5L305.4 2153.1L306.8 2153.1L307.9 2153.1L309.0 2153.3L310.0 2153.6L311.1 2154.0L312.3 2154.4L313.4 2155.0L314.6 2155.6L315.7 2156.3L316.8 2156.9L318.0 2157.5L319.1 2158.3L320.3 2159.1L321.4 2159.6L322.5 2159.7L323.7 2159.4L324.8 2158.7L326.0 2157.8L327.1 2156.7L328.2 2155.4L329.4 2154.0L330.5 2152.4L331.7 2150.6L332.8 2148.7L334.0 2146.9L335.1 2144.9L336.2 2142.8L337.4 2140.7L338.5 2138.7L339.7 2136.9L340.8 2135.2L341.9 2133.6L343.1 2132.1L344.2 2130.8L345.4 2129.8L346.5 2129.2L347.6 2129.0L348.8 2128.9L349.9 2128.8L351.1 2128.3L352.2 2127.6L353.3 2126.8L354.5 2125.8L355.6 2124.5L356.8 2122.6L357.9 2120.2L359.1 2117.1L360.2 2113.8L361.3 2110.3L362.5 2106.9L363.6 2103.6L364.8 2100.3L365.9 2096.8L367.0 2093.4L368.2 2089.8L369.3 2086.1L370.5 2082.2L371.6 2078.3L372.7 2074.6L373.9 2071.3L375.0 2068.4L376.2 2065.8L377.3 2063.4L378.4 2061.4L379.6 2059.9L380.7 2058.8L381.9 2058.2L383.0 2057.9L384.2 2057.9L385.3 2057.9L386.4 2058.1L387.6 2058.5L388.7 2059.1L389.9 2059.6L391.0 2059.9L392.1 2060.0L393.3 2059.9L394.4 2059.8L395.6 2059.6L396.7 2059.3L397.8 2058.9L399.0 2058.4L400.1 2057.9L401.3 2057.4L402.4 2057.0L403.5 2056.8L404.7 2056.7L405.8 2056.7L407.0 2056.8L408.1 2057.0L409.3 2057.4L410.4 2058.0L411.5 2058.7L412.7 2059.3L413.8 2059.9L415.0 2060.4L416.1 2060.9L417.2 2061.3L418.4 2061.7L419.5 2061.9L420.7 2061.9L421.8 2061.8L422.9 2061.5L424.1 2061.2L425.2 2060.7L426.4 2060.2L427.5 2059.6L428.6 2058.9L429.8 2058.0L430.9 2057.0L432.1 2055.8L433.2 2054.4L434.4 2052.9L435.5 2051.4L436.6 2049.9L437.8 2048.4L438.9 2047.0L440.1 2045.5L441.2 2044.1L442.3 2042.8L443.5 2041.5L444.6 2040.1L445.8 2038.9L446.9 2037.9L448.0 2037.1L449.2 2036.6L450.3 2036.3L451.5 2036.2L452.6 2036.2L453.7 2036.2L454.9 2036.3L456.0 2036.6L457.2 2036.9L458.3 2037.1L459.5 2037.1L460.6 2036.7L461.7 2036.2L462.9 2035.5L464.0 2034.8L465.2 2034.2L466.3 2033.7L467.4 2033.1L468.6 2032.6L469.7 2032.0L470.9 2031.4L472.0 2030.5L473.1 2029.5L474.3 2028.4L475.4 2027.6L476.6 2027.1L477.7 2026.9L478.8 2027.0L480.0 2027.4L481.1 2027.9L482.3 2028.5L483.4 2029.3L484.6 2030.4L485.7 2031.6L486.8 2032.9L488.0 2034.2L489.1 2035.5L490.2 2037.0L491.4 2038.4L492.5 2039.9L493.7 2041.3L494.9 2042.9L496.2 2044.5L497.5 2046.1L498.8 2047.5L500.0 2048.5L500.9 2049.0L501.7 2049.2L502.4 2049.2L503.4 2048.9L504.7 2048.6L506.5 2048.1L508.7 2047.3L511.1 2046.5L513.5 2045.7L515.8 2045.3L518.0 2045.2L520.2 2045.3L522.5 2045.6L524.7 2046.1L526.9 2047.0L529.1 2048.4L531.3 2050.4L533.6 2052.4L535.8 2054.2L538.0 2055.3L540.2 2055.3L542.4 2054.6L544.6 2053.6L546.9 2052.7L549.1 2052.5L551.3 2053.0L553.5 2053.9L555.7 2055.1L558.0 2056.5L560.2 2058.1L562.4 2060.0L564.6 2062.2L566.8 2064.7L569.1 2067.0L571.3 2069.2L573.5 2071.3L575.7 2073.5L577.9 2075.5L580.1 2076.9L582.4 2077.5L584.6 2076.9L586.8 2075.4L589.0 2073.3L591.2 2071.1L593.5 2069.2L595.7 2067.5L597.9 2065.7L600.1 2064.0L602.3 2062.3L604.5 2060.8L606.8 2059.5L609.0 2058.4L611.2 2057.3L613.4 2056.3L615.6 2055.3L617.9 2054.3L620.1 2053.4L622.3 2052.5L624.5 2051.7L626.7 2050.9L629.0 2050.2L631.2 2049.6L633.4 2049.0L635.6 2048.2L637.8 2047.0L640.0 2045.2L642.3 2042.9L644.5 2040.4L646.7 2038.0L648.9 2035.9L651.1 2034.3L653.4 2033.0L655.6 2031.9L657.8 2030.5L660.0 2028.7L662.4 2026.1L665.0 2022.9L667.5 2019.7L669.6 2016.8L671.1 2014.8"/>
<path fill="none" stroke="#222" stroke-width="1.6" d="M147.5 1930.5V2220.0H669.5"/>
<path stroke="#222" stroke-width="1.5" d="M147.5 1930.5h6M147.5 1971.0h6M147.5 2012.6h6M147.5 2053.6h6M147.5 2095.2h6M147.5 2136.8h6M147.5 2177.3h6"/>
<path stroke="#222" stroke-width="1.5" d="M320.1 2220.0v-4.5M494.6 2220.0v-4.5M581.8 2220.0v-4.5M669.0 2220.0v-4.5"/>
<path stroke="#111" stroke-width="2.7" d="M232.8 2220.0V2199.5M363.7 2220.0V2199.5M407.3 2220.0V2180.0"/>
<g fill="#111"><circle cx="228.2" cy="2181.7" r="3.0"/><circle cx="236.7" cy="2181.5" r="3.4"/><path d="M224.9 2187.5q0-1 1-1h12.2q1 0 1 1v7.5q0 1-1 1h-1.5v1h-9.2v-1h-1.5q-1 0-1-1z"/><path d="M239.0 2189.4h3.2v3.8h-3.2zM242.0 2190.2L247.4 2186.2V2195.1L242.0 2192.4z"/></g>
<path fill="#111" d="M350.4 2184.2C353.5 2181.7 356.5 2177.4 359.7 2177.4C361.3 2177.4 361.9 2178.2 362.5 2178.2C363.1 2178.2 363.7 2177.4 365.3 2177.4C368.5 2177.4 371.5 2181.7 374.6 2184.2C371.5 2188.2 368.5 2192.4 362.5 2192.4C356.5 2192.4 353.5 2188.2 350.4 2184.2z"/><path fill="none" stroke="#fff" stroke-width="1.8" stroke-linecap="round" d="M352.0 2184.5Q357.5 2183.6 360.5 2184.8Q362.5 2185.4 364.5 2184.8Q367.5 2183.6 373.0 2184.5"/>
<path fill="#111" d="M395.6 2162.6h6.3l6.7-4.8v16.8l-6.7-4.8h-6.3z"/><path fill="none" stroke="#111" stroke-width="1.9" stroke-linecap="round" d="M410.75 2162.81A4.3 4.3 0 0 1 410.75 2169.59M412.78 2160.21A7.6 7.6 0 0 1 412.78 2172.19M414.87 2157.53A11.0 11.0 0 0 1 414.87 2174.87"/>
<text x="97.56" y="1940.60" font-size="22" textLength="36.71" lengthAdjust="spacingAndGlyphs" fill="#000">120</text>
<text x="97.56" y="1981.10" font-size="22" textLength="36.71" lengthAdjust="spacingAndGlyphs" fill="#000">100</text>
<text x="109.79" y="2022.70" font-size="22" textLength="24.47" lengthAdjust="spacingAndGlyphs" fill="#000">80</text>
<text x="109.79" y="2063.70" font-size="22" textLength="24.47" lengthAdjust="spacingAndGlyphs" fill="#000">60</text>
<text x="109.79" y="2105.30" font-size="22" textLength="24.47" lengthAdjust="spacingAndGlyphs" fill="#000">40</text>
<text x="109.79" y="2146.90" font-size="22" textLength="24.47" lengthAdjust="spacingAndGlyphs" fill="#000">20</text>
<text x="122.03" y="2187.40" font-size="22" textLength="12.24" lengthAdjust="spacingAndGlyphs" fill="#000">0</text>
<text x="102.47" y="2230.10" font-size="22" textLength="31.80" lengthAdjust="spacingAndGlyphs" fill="#000">-20</text>
<text x="206.74" y="2251.50" font-size="22.5" textLength="48.21" lengthAdjust="spacingAndGlyphs" fill="#000">-200</text>
<text x="290.44" y="2251.50" font-size="22.5" textLength="48.21" lengthAdjust="spacingAndGlyphs" fill="#000">-100</text>
<text x="400.45" y="2251.50" font-size="22.5" textLength="13.50" lengthAdjust="spacingAndGlyphs" fill="#000">0</text>
<text x="476.05" y="2251.50" font-size="22.5" textLength="38.35" lengthAdjust="spacingAndGlyphs" fill="#000">100</text>
<text x="559.40" y="2251.50" font-size="22.5" textLength="40.05" lengthAdjust="spacingAndGlyphs" fill="#000">200</text>
<text x="646.79" y="2251.50" font-size="22.5" textLength="39.75" lengthAdjust="spacingAndGlyphs" fill="#000">300</text>
<text transform="translate(82.10 2160.79) rotate(-90)" font-size="28.4" textLength="211.16" lengthAdjust="spacingAndGlyphs" fill="#000">Field strength (fT)</text>
<text transform="translate(26.70 2203.17) rotate(-90)" font-size="36.5" textLength="274.33" lengthAdjust="spacingAndGlyphs" fill="#000">Right hemisphere</text>
<text x="358.92" y="2296.00" font-size="27.5" textLength="117.41" lengthAdjust="spacingAndGlyphs" fill="#000">Time (ms)</text>
<path fill="none" stroke="#9ee08a" stroke-opacity="0.35" stroke-width="7" stroke-linejoin="round" stroke-linecap="round" d="M722.9 2161.1L723.6 2161.5L724.7 2162.0L726.0 2162.7L727.3 2163.5L728.6 2164.6L729.7 2165.9L730.8 2167.4L732.0 2169.1L733.1 2170.8L734.3 2172.5L735.4 2174.3L736.5 2176.3L737.7 2178.2L738.8 2179.9L740.0 2181.1L741.1 2181.8L742.2 2182.0L743.4 2181.9L744.5 2181.8L745.7 2181.7L746.8 2181.5L748.0 2181.1L749.1 2180.7L750.2 2180.5L751.4 2180.5L752.5 2180.9L753.7 2181.6L754.9 2182.4L756.0 2183.3L757.1 2184.0L758.0 2184.6L758.8 2185.4L759.6 2186.0L760.4 2186.4L761.4 2186.2L762.4 2185.4L763.5 2183.8L764.7 2182.1L765.9 2180.6L767.1 2179.7L768.2 2179.5L769.3 2179.8L770.5 2180.4L771.6 2181.1L772.8 2181.7L773.9 2182.2L775.0 2182.7L776.1 2183.3L777.2 2183.7L778.5 2184.0L779.8 2183.9L781.2 2183.7L782.6 2183.4L784.1 2183.0L785.6 2182.5L787.2 2182.1L789.0 2181.6L790.8 2181.0L792.5 2180.4L794.2 2179.7L795.7 2178.9L797.1 2178.1L798.5 2177.3L799.9 2176.4L801.3 2175.4L802.7 2174.3L804.2 2173.0L805.7 2171.7L807.1 2170.5L808.4 2169.7L809.7 2169.3L810.8 2169.1L811.9 2169.1L813.0 2169.2L814.1 2169.1L815.2 2169.0L816.3 2169.0L817.3 2168.9L818.5 2168.7L819.8 2168.3L821.4 2167.6L823.0 2166.7L824.8 2165.7L826.6 2164.7L828.4 2164.0L830.1 2163.6L831.9 2163.4L833.6 2163.2L835.3 2163.0L836.9 2162.6L838.5 2161.8L839.9 2160.8L841.3 2159.7L842.7 2158.7L844.1 2157.7L845.5 2156.8L847.0 2155.8L848.5 2155.0L849.9 2154.3L851.2 2154.0L852.4 2154.1L853.6 2154.6L854.7 2155.3L855.8 2156.1L856.9 2156.9L858.0 2157.6L859.1 2158.5L860.2 2159.3L861.4 2160.0L862.6 2160.6L863.9 2160.9L865.4 2161.1L866.8 2161.1L868.3 2161.0L869.7 2160.6L871.2 2159.9L872.7 2158.9L874.1 2157.8L875.5 2156.6L876.9 2155.4L878.1 2154.4L879.3 2153.3L880.4 2152.2L881.5 2151.0L882.6 2149.7L883.7 2148.2L884.9 2146.4L886.0 2144.6L887.1 2143.0L888.3 2141.7L889.4 2140.9L890.6 2140.2L891.7 2139.8L892.8 2139.6L894.0 2139.7L895.1 2140.2L896.3 2141.1L897.4 2142.2L898.6 2143.2L899.7 2144.0L900.8 2144.6L902.0 2145.2L903.1 2145.6L904.3 2145.8L905.4 2145.4L906.5 2144.6L907.7 2143.4L908.8 2141.8L910.0 2140.1L911.1 2138.3L912.2 2136.3L913.4 2133.9L914.5 2131.5L915.7 2129.3L916.8 2127.8L918.0 2126.9L919.2 2126.6L920.3 2126.5L921.5 2126.5L922.5 2126.3L923.5 2126.0L924.3 2125.7L925.1 2125.3L926.0 2124.7L926.8 2124.1L927.6 2123.3L928.4 2122.4L929.3 2121.4L930.1 2120.1L931.1 2118.4L932.1 2116.0L933.2 2113.3L934.4 2110.2L935.6 2107.1L936.8 2104.1L937.9 2101.2L939.1 2098.2L940.2 2095.3L941.3 2092.5L942.5 2089.8L943.6 2087.3L944.8 2084.9L945.9 2082.5L947.0 2080.4L948.2 2078.4L949.3 2076.7L950.5 2075.2L951.6 2073.8L952.7 2072.6L953.9 2071.3L955.0 2070.0L956.2 2068.8L957.3 2067.7L958.4 2066.6L959.6 2065.6L960.7 2064.6L961.9 2063.7L963.0 2062.9L964.2 2062.1L965.3 2061.3L966.4 2060.5L967.6 2059.7L968.7 2059.0L969.9 2058.3L971.0 2057.6L972.1 2057.0L973.3 2056.3L974.4 2055.7L975.6 2055.3L976.7 2055.0L977.8 2055.0L978.8 2055.2L979.9 2055.5L981.1 2055.8L982.4 2056.2L983.9 2056.5L985.6 2056.9L987.4 2057.3L989.2 2057.6L991.0 2057.9L992.7 2058.0L994.4 2058.0L996.1 2058.0L997.8 2057.9L999.5 2057.9L1001.2 2057.9L1002.9 2057.9L1004.7 2057.9L1006.4 2057.9L1008.1 2057.9L1009.8 2057.9L1011.6 2058.1L1013.4 2058.2L1015.1 2058.1L1016.6 2057.9L1018.0 2057.4L1019.1 2056.7L1020.2 2055.8L1021.2 2055.0L1022.3 2054.2L1023.4 2053.4L1024.5 2052.6L1025.6 2051.8L1026.7 2051.1L1028.0 2050.5L1029.6 2050.0L1031.3 2049.6L1033.0 2049.2L1034.8 2048.9L1036.6 2048.5L1038.3 2048.0L1040.0 2047.4L1041.7 2046.8L1043.4 2046.2L1045.2 2045.6L1046.9 2045.0L1048.6 2044.5L1050.3 2043.9L1052.0 2043.3L1053.7 2042.8L1055.4 2042.3L1057.1 2041.8L1058.8 2041.4L1060.6 2041.0L1062.3 2040.5L1064.0 2040.0L1065.7 2039.5L1067.4 2039.0L1069.1 2038.5L1070.8 2037.9L1072.6 2037.2L1074.4 2036.4L1076.2 2035.6L1078.0 2035.1L1080.0 2035.1L1082.0 2035.7L1084.1 2036.9L1086.3 2038.3L1088.5 2039.6L1090.5 2040.7L1092.4 2041.4L1094.3 2042.1L1096.1 2042.6L1097.9 2042.9L1099.7 2043.0L1101.6 2042.8L1103.4 2042.4L1105.3 2041.8L1107.1 2041.2L1109.0 2040.7L1110.8 2040.2L1112.7 2039.5L1114.5 2038.9L1116.3 2038.8L1118.2 2039.3L1120.0 2040.5L1121.9 2042.3L1123.7 2044.5L1125.6 2047.1L1127.4 2049.9L1129.3 2053.2L1131.1 2057.2L1133.0 2061.3L1134.8 2065.1L1136.6 2068.4L1138.5 2070.9L1140.3 2073.2L1142.2 2075.0L1144.0 2076.5L1145.9 2077.6L1147.7 2078.2L1149.6 2078.4L1151.4 2078.3L1153.2 2077.9L1155.1 2077.6L1156.9 2077.0L1158.8 2076.1L1160.6 2075.1L1162.5 2074.4L1164.3 2074.4L1166.2 2075.1L1168.0 2076.6L1169.9 2078.3L1171.7 2079.8L1173.5 2080.8L1175.4 2081.1L1177.2 2081.0L1179.1 2080.7L1180.9 2080.3L1182.8 2079.9L1184.5 2079.5L1186.2 2079.0L1188.0 2078.5L1189.9 2078.0L1192.0 2077.6L1194.5 2077.3L1197.2 2077.2L1200.1 2077.0L1203.0 2076.7L1205.8 2076.2L1208.6 2075.3L1211.4 2074.2L1214.1 2072.9L1216.9 2071.7L1219.7 2070.7L1222.5 2069.8L1225.3 2069.1L1228.1 2068.5L1230.9 2067.8L1233.5 2067.0L1236.1 2065.9L1238.8 2064.6L1241.4 2063.3L1243.5 2062.2L1245.0 2061.4"/><path fill="none" stroke="#1aa53a" stroke-width="2.4" stroke-linejoin="round" stroke-linecap="round" d="M722.9 2161.1L723.6 2161.5L724.7 2162.0L726.0 2162.7L727.3 2163.5L728.6 2164.6L729.7 2165.9L730.8 2167.4L732.0 2169.1L733.1 2170.8L734.3 2172.5L735.4 2174.3L736.5 2176.3L737.7 2178.2L738.8 2179.9L740.0 2181.1L741.1 2181.8L742.2 2182.0L743.4 2181.9L744.5 2181.8L745.7 2181.7L746.8 2181.5L748.0 2181.1L749.1 2180.7L750.2 2180.5L751.4 2180.5L752.5 2180.9L753.7 2181.6L754.9 2182.4L756.0 2183.3L757.1 2184.0L758.0 2184.6L758.8 2185.4L759.6 2186.0L760.4 2186.4L761.4 2186.2L762.4 2185.4L763.5 2183.8L764.7 2182.1L765.9 2180.6L767.1 2179.7L768.2 2179.5L769.3 2179.8L770.5 2180.4L771.6 2181.1L772.8 2181.7L773.9 2182.2L775.0 2182.7L776.1 2183.3L777.2 2183.7L778.5 2184.0L779.8 2183.9L781.2 2183.7L782.6 2183.4L784.1 2183.0L785.6 2182.5L787.2 2182.1L789.0 2181.6L790.8 2181.0L792.5 2180.4L794.2 2179.7L795.7 2178.9L797.1 2178.1L798.5 2177.3L799.9 2176.4L801.3 2175.4L802.7 2174.3L804.2 2173.0L805.7 2171.7L807.1 2170.5L808.4 2169.7L809.7 2169.3L810.8 2169.1L811.9 2169.1L813.0 2169.2L814.1 2169.1L815.2 2169.0L816.3 2169.0L817.3 2168.9L818.5 2168.7L819.8 2168.3L821.4 2167.6L823.0 2166.7L824.8 2165.7L826.6 2164.7L828.4 2164.0L830.1 2163.6L831.9 2163.4L833.6 2163.2L835.3 2163.0L836.9 2162.6L838.5 2161.8L839.9 2160.8L841.3 2159.7L842.7 2158.7L844.1 2157.7L845.5 2156.8L847.0 2155.8L848.5 2155.0L849.9 2154.3L851.2 2154.0L852.4 2154.1L853.6 2154.6L854.7 2155.3L855.8 2156.1L856.9 2156.9L858.0 2157.6L859.1 2158.5L860.2 2159.3L861.4 2160.0L862.6 2160.6L863.9 2160.9L865.4 2161.1L866.8 2161.1L868.3 2161.0L869.7 2160.6L871.2 2159.9L872.7 2158.9L874.1 2157.8L875.5 2156.6L876.9 2155.4L878.1 2154.4L879.3 2153.3L880.4 2152.2L881.5 2151.0L882.6 2149.7L883.7 2148.2L884.9 2146.4L886.0 2144.6L887.1 2143.0L888.3 2141.7L889.4 2140.9L890.6 2140.2L891.7 2139.8L892.8 2139.6L894.0 2139.7L895.1 2140.2L896.3 2141.1L897.4 2142.2L898.6 2143.2L899.7 2144.0L900.8 2144.6L902.0 2145.2L903.1 2145.6L904.3 2145.8L905.4 2145.4L906.5 2144.6L907.7 2143.4L908.8 2141.8L910.0 2140.1L911.1 2138.3L912.2 2136.3L913.4 2133.9L914.5 2131.5L915.7 2129.3L916.8 2127.8L918.0 2126.9L919.2 2126.6L920.3 2126.5L921.5 2126.5L922.5 2126.3L923.5 2126.0L924.3 2125.7L925.1 2125.3L926.0 2124.7L926.8 2124.1L927.6 2123.3L928.4 2122.4L929.3 2121.4L930.1 2120.1L931.1 2118.4L932.1 2116.0L933.2 2113.3L934.4 2110.2L935.6 2107.1L936.8 2104.1L937.9 2101.2L939.1 2098.2L940.2 2095.3L941.3 2092.5L942.5 2089.8L943.6 2087.3L944.8 2084.9L945.9 2082.5L947.0 2080.4L948.2 2078.4L949.3 2076.7L950.5 2075.2L951.6 2073.8L952.7 2072.6L953.9 2071.3L955.0 2070.0L956.2 2068.8L957.3 2067.7L958.4 2066.6L959.6 2065.6L960.7 2064.6L961.9 2063.7L963.0 2062.9L964.2 2062.1L965.3 2061.3L966.4 2060.5L967.6 2059.7L968.7 2059.0L969.9 2058.3L971.0 2057.6L972.1 2057.0L973.3 2056.3L974.4 2055.7L975.6 2055.3L976.7 2055.0L977.8 2055.0L978.8 2055.2L979.9 2055.5L981.1 2055.8L982.4 2056.2L983.9 2056.5L985.6 2056.9L987.4 2057.3L989.2 2057.6L991.0 2057.9L992.7 2058.0L994.4 2058.0L996.1 2058.0L997.8 2057.9L999.5 2057.9L1001.2 2057.9L1002.9 2057.9L1004.7 2057.9L1006.4 2057.9L1008.1 2057.9L1009.8 2057.9L1011.6 2058.1L1013.4 2058.2L1015.1 2058.1L1016.6 2057.9L1018.0 2057.4L1019.1 2056.7L1020.2 2055.8L1021.2 2055.0L1022.3 2054.2L1023.4 2053.4L1024.5 2052.6L1025.6 2051.8L1026.7 2051.1L1028.0 2050.5L1029.6 2050.0L1031.3 2049.6L1033.0 2049.2L1034.8 2048.9L1036.6 2048.5L1038.3 2048.0L1040.0 2047.4L1041.7 2046.8L1043.4 2046.2L1045.2 2045.6L1046.9 2045.0L1048.6 2044.5L1050.3 2043.9L1052.0 2043.3L1053.7 2042.8L1055.4 2042.3L1057.1 2041.8L1058.8 2041.4L1060.6 2041.0L1062.3 2040.5L1064.0 2040.0L1065.7 2039.5L1067.4 2039.0L1069.1 2038.5L1070.8 2037.9L1072.6 2037.2L1074.4 2036.4L1076.2 2035.6L1078.0 2035.1L1080.0 2035.1L1082.0 2035.7L1084.1 2036.9L1086.3 2038.3L1088.5 2039.6L1090.5 2040.7L1092.4 2041.4L1094.3 2042.1L1096.1 2042.6L1097.9 2042.9L1099.7 2043.0L1101.6 2042.8L1103.4 2042.4L1105.3 2041.8L1107.1 2041.2L1109.0 2040.7L1110.8 2040.2L1112.7 2039.5L1114.5 2038.9L1116.3 2038.8L1118.2 2039.3L1120.0 2040.5L1121.9 2042.3L1123.7 2044.5L1125.6 2047.1L1127.4 2049.9L1129.3 2053.2L1131.1 2057.2L1133.0 2061.3L1134.8 2065.1L1136.6 2068.4L1138.5 2070.9L1140.3 2073.2L1142.2 2075.0L1144.0 2076.5L1145.9 2077.6L1147.7 2078.2L1149.6 2078.4L1151.4 2078.3L1153.2 2077.9L1155.1 2077.6L1156.9 2077.0L1158.8 2076.1L1160.6 2075.1L1162.5 2074.4L1164.3 2074.4L1166.2 2075.1L1168.0 2076.6L1169.9 2078.3L1171.7 2079.8L1173.5 2080.8L1175.4 2081.1L1177.2 2081.0L1179.1 2080.7L1180.9 2080.3L1182.8 2079.9L1184.5 2079.5L1186.2 2079.0L1188.0 2078.5L1189.9 2078.0L1192.0 2077.6L1194.5 2077.3L1197.2 2077.2L1200.1 2077.0L1203.0 2076.7L1205.8 2076.2L1208.6 2075.3L1211.4 2074.2L1214.1 2072.9L1216.9 2071.7L1219.7 2070.7L1222.5 2069.8L1225.3 2069.1L1228.1 2068.5L1230.9 2067.8L1233.5 2067.0L1236.1 2065.9L1238.8 2064.6L1241.4 2063.3L1243.5 2062.2L1245.0 2061.4"/>
<path fill="none" stroke="#999" stroke-opacity="0.35" stroke-width="7" stroke-linejoin="round" stroke-linecap="round" d="M722.9 2161.1L723.6 2161.9L724.7 2162.9L726.0 2164.1L727.3 2165.4L728.6 2166.8L729.7 2168.4L730.8 2170.1L732.0 2171.9L733.1 2173.7L734.3 2175.4L735.4 2177.0L736.4 2178.7L737.5 2180.3L738.6 2181.6L740.0 2182.5L741.5 2183.0L743.3 2183.2L745.2 2183.1L746.9 2182.8L748.5 2182.5L749.8 2182.1L751.0 2181.6L752.1 2181.0L753.1 2180.3L754.2 2179.7L755.4 2179.1L756.5 2178.5L757.6 2178.0L758.8 2177.4L759.9 2176.8L761.1 2176.2L762.3 2175.4L763.5 2174.7L764.6 2174.2L765.6 2174.0L766.6 2174.1L767.5 2174.6L768.3 2175.2L769.1 2176.0L769.9 2176.8L770.7 2177.8L771.6 2179.0L772.4 2180.3L773.2 2181.5L774.2 2182.5L775.2 2183.5L776.4 2184.4L777.5 2185.3L778.7 2185.9L779.9 2186.2L781.0 2186.2L782.2 2185.8L783.3 2185.3L784.5 2184.6L785.6 2184.0L786.7 2183.2L787.9 2182.2L789.0 2181.3L790.2 2180.4L791.3 2179.7L792.4 2179.2L793.6 2178.8L794.7 2178.6L795.9 2178.4L797.0 2178.2L798.2 2178.2L799.3 2178.4L800.4 2178.6L801.6 2178.6L802.7 2178.2L803.9 2177.5L805.0 2176.4L806.1 2175.2L807.3 2173.9L808.4 2172.5L809.5 2171.2L810.6 2169.9L811.6 2168.4L812.8 2167.0L814.1 2165.4L815.7 2163.7L817.3 2162.0L819.1 2160.1L820.9 2158.4L822.7 2156.9L824.4 2155.5L826.1 2154.4L827.8 2153.3L829.5 2152.2L831.2 2151.2L833.0 2150.0L834.8 2148.7L836.6 2147.5L838.3 2146.4L839.8 2145.4L841.1 2144.8L842.3 2144.3L843.4 2143.9L844.4 2143.6L845.5 2143.5L846.6 2143.4L847.8 2143.4L848.9 2143.5L850.1 2143.8L851.2 2144.0L852.3 2144.4L853.5 2144.9L854.6 2145.4L855.8 2145.9L856.9 2146.3L858.0 2146.5L859.1 2146.7L860.2 2146.8L861.4 2146.9L862.6 2146.9L864.0 2146.9L865.4 2146.9L866.9 2146.9L868.4 2146.7L869.7 2146.3L871.0 2145.6L872.1 2144.6L873.1 2143.5L874.2 2142.3L875.4 2141.2L876.8 2139.9L878.3 2138.3L879.8 2136.9L881.2 2135.6L882.6 2134.9L883.8 2134.8L885.0 2135.1L886.1 2135.7L887.2 2136.4L888.3 2136.9L889.4 2137.3L890.6 2137.8L891.7 2138.3L892.8 2138.7L894.0 2138.9L895.1 2139.0L896.3 2139.0L897.4 2138.9L898.6 2138.7L899.7 2138.3L900.8 2137.8L902.0 2137.1L903.1 2136.2L904.3 2135.2L905.4 2134.0L906.5 2132.6L907.7 2131.0L908.8 2129.2L910.0 2127.4L911.1 2125.5L912.2 2123.5L913.4 2121.5L914.5 2119.4L915.7 2117.3L916.8 2115.5L917.9 2113.9L919.1 2112.5L920.2 2111.2L921.4 2109.8L922.5 2108.4L923.7 2106.7L924.8 2105.0L925.9 2103.2L927.1 2101.4L928.2 2099.8L929.4 2098.4L930.5 2097.0L931.6 2095.8L932.8 2094.5L933.9 2093.3L935.1 2092.0L936.2 2090.9L937.3 2089.7L938.5 2088.5L939.6 2087.0L940.8 2085.3L941.9 2083.4L943.0 2081.4L944.2 2079.2L945.3 2077.0L946.5 2074.6L947.6 2072.1L948.8 2069.4L949.9 2066.8L951.0 2064.2L952.2 2061.5L953.4 2058.6L954.6 2055.9L955.7 2053.4L956.7 2051.3L957.7 2049.7L958.6 2048.5L959.4 2047.5L960.2 2046.9L961.0 2046.5L961.8 2046.4L962.7 2046.7L963.5 2047.2L964.3 2047.8L965.3 2048.5L966.3 2049.2L967.5 2050.2L968.6 2051.2L969.8 2052.1L971.0 2052.7L972.1 2053.0L973.3 2052.9L974.4 2052.7L975.6 2052.6L976.7 2052.7L977.8 2053.1L979.0 2053.5L980.1 2054.0L981.3 2054.7L982.4 2055.6L983.5 2056.8L984.7 2058.2L985.8 2059.7L987.0 2061.3L988.1 2062.7L989.3 2064.2L990.4 2065.6L991.5 2067.0L992.7 2068.3L993.8 2069.3L995.0 2070.0L996.1 2070.5L997.2 2070.9L998.4 2071.1L999.5 2071.3L1000.7 2071.5L1001.8 2071.6L1002.9 2071.6L1004.1 2071.5L1005.2 2071.3L1006.4 2070.9L1007.5 2070.5L1008.6 2069.9L1009.8 2069.2L1010.9 2068.4L1012.1 2067.5L1013.2 2066.4L1014.4 2065.2L1015.5 2064.0L1016.6 2062.7L1017.8 2061.5L1018.9 2060.1L1020.1 2058.8L1021.2 2057.4L1022.3 2056.2L1023.4 2054.9L1024.5 2053.7L1025.6 2052.5L1026.7 2051.4L1028.0 2050.5L1029.6 2049.6L1031.3 2048.9L1033.0 2048.3L1034.8 2047.7L1036.6 2047.0L1038.4 2046.4L1040.2 2045.9L1041.9 2045.3L1043.6 2044.8L1045.2 2044.2L1046.5 2043.7L1047.6 2043.3L1048.7 2042.8L1049.8 2042.2L1050.9 2041.3L1052.0 2040.2L1053.1 2038.8L1054.3 2037.3L1055.4 2035.7L1056.6 2034.2L1057.7 2032.7L1058.8 2031.0L1060.0 2029.4L1061.1 2028.0L1062.3 2027.1L1063.4 2026.6L1064.6 2026.4L1065.7 2026.4L1066.8 2026.7L1068.0 2027.1L1069.1 2027.6L1070.2 2028.3L1071.4 2029.2L1072.5 2030.3L1073.7 2031.4L1074.9 2032.6L1076.2 2034.0L1077.4 2035.5L1078.7 2037.0L1080.0 2038.5L1081.1 2039.9L1082.2 2041.2L1083.3 2042.6L1084.5 2043.9L1085.9 2045.3L1087.5 2046.6L1089.4 2048.0L1091.3 2049.3L1093.2 2050.7L1095.1 2052.2L1097.0 2053.8L1098.8 2055.4L1100.7 2057.1L1102.5 2058.8L1104.4 2060.5L1106.2 2062.4L1108.0 2064.3L1109.9 2066.3L1111.7 2068.1L1113.6 2069.7L1115.4 2071.1L1117.3 2072.3L1119.1 2073.3L1121.0 2074.3L1122.8 2075.3L1124.6 2076.3L1126.5 2077.3L1128.3 2078.3L1130.2 2079.1L1132.0 2079.9L1133.9 2080.6L1135.8 2081.2L1137.7 2081.8L1139.6 2082.1L1141.3 2082.2L1142.8 2081.8L1144.2 2080.9L1145.5 2080.0L1146.8 2079.2L1148.2 2079.0L1149.6 2079.4L1150.9 2080.2L1152.3 2081.2L1153.7 2082.4L1155.1 2083.6L1156.5 2084.9L1157.9 2086.4L1159.2 2087.9L1160.6 2089.2L1162.0 2090.0L1163.4 2090.4L1164.7 2090.4L1166.0 2090.1L1167.4 2089.7L1168.9 2089.1L1170.6 2088.4L1172.5 2087.5L1174.4 2086.5L1176.3 2085.4L1178.2 2084.5L1180.0 2083.7L1181.8 2082.9L1183.7 2082.2L1185.5 2081.5L1187.4 2080.8L1189.2 2080.2L1191.1 2079.6L1192.9 2079.1L1194.8 2078.4L1196.6 2077.6L1198.5 2076.6L1200.3 2075.4L1202.1 2074.1L1204.0 2072.8L1205.8 2071.6L1207.7 2070.5L1209.5 2069.4L1211.4 2068.3L1213.2 2067.2L1215.1 2066.1L1216.9 2064.7L1218.7 2063.3L1220.6 2061.8L1222.4 2060.4L1224.3 2059.1L1226.1 2058.1L1227.9 2057.1L1229.6 2056.3L1231.5 2055.4L1233.5 2054.5L1235.8 2053.5L1238.5 2052.5L1241.1 2051.4L1243.4 2050.5L1245.0 2049.9"/><path fill="none" stroke="#111" stroke-width="2.4" stroke-linejoin="round" stroke-linecap="round" d="M722.9 2161.1L723.6 2161.9L724.7 2162.9L726.0 2164.1L727.3 2165.4L728.6 2166.8L729.7 2168.4L730.8 2170.1L732.0 2171.9L733.1 2173.7L734.3 2175.4L735.4 2177.0L736.4 2178.7L737.5 2180.3L738.6 2181.6L740.0 2182.5L741.5 2183.0L743.3 2183.2L745.2 2183.1L746.9 2182.8L748.5 2182.5L749.8 2182.1L751.0 2181.6L752.1 2181.0L753.1 2180.3L754.2 2179.7L755.4 2179.1L756.5 2178.5L757.6 2178.0L758.8 2177.4L759.9 2176.8L761.1 2176.2L762.3 2175.4L763.5 2174.7L764.6 2174.2L765.6 2174.0L766.6 2174.1L767.5 2174.6L768.3 2175.2L769.1 2176.0L769.9 2176.8L770.7 2177.8L771.6 2179.0L772.4 2180.3L773.2 2181.5L774.2 2182.5L775.2 2183.5L776.4 2184.4L777.5 2185.3L778.7 2185.9L779.9 2186.2L781.0 2186.2L782.2 2185.8L783.3 2185.3L784.5 2184.6L785.6 2184.0L786.7 2183.2L787.9 2182.2L789.0 2181.3L790.2 2180.4L791.3 2179.7L792.4 2179.2L793.6 2178.8L794.7 2178.6L795.9 2178.4L797.0 2178.2L798.2 2178.2L799.3 2178.4L800.4 2178.6L801.6 2178.6L802.7 2178.2L803.9 2177.5L805.0 2176.4L806.1 2175.2L807.3 2173.9L808.4 2172.5L809.5 2171.2L810.6 2169.9L811.6 2168.4L812.8 2167.0L814.1 2165.4L815.7 2163.7L817.3 2162.0L819.1 2160.1L820.9 2158.4L822.7 2156.9L824.4 2155.5L826.1 2154.4L827.8 2153.3L829.5 2152.2L831.2 2151.2L833.0 2150.0L834.8 2148.7L836.6 2147.5L838.3 2146.4L839.8 2145.4L841.1 2144.8L842.3 2144.3L843.4 2143.9L844.4 2143.6L845.5 2143.5L846.6 2143.4L847.8 2143.4L848.9 2143.5L850.1 2143.8L851.2 2144.0L852.3 2144.4L853.5 2144.9L854.6 2145.4L855.8 2145.9L856.9 2146.3L858.0 2146.5L859.1 2146.7L860.2 2146.8L861.4 2146.9L862.6 2146.9L864.0 2146.9L865.4 2146.9L866.9 2146.9L868.4 2146.7L869.7 2146.3L871.0 2145.6L872.1 2144.6L873.1 2143.5L874.2 2142.3L875.4 2141.2L876.8 2139.9L878.3 2138.3L879.8 2136.9L881.2 2135.6L882.6 2134.9L883.8 2134.8L885.0 2135.1L886.1 2135.7L887.2 2136.4L888.3 2136.9L889.4 2137.3L890.6 2137.8L891.7 2138.3L892.8 2138.7L894.0 2138.9L895.1 2139.0L896.3 2139.0L897.4 2138.9L898.6 2138.7L899.7 2138.3L900.8 2137.8L902.0 2137.1L903.1 2136.2L904.3 2135.2L905.4 2134.0L906.5 2132.6L907.7 2131.0L908.8 2129.2L910.0 2127.4L911.1 2125.5L912.2 2123.5L913.4 2121.5L914.5 2119.4L915.7 2117.3L916.8 2115.5L917.9 2113.9L919.1 2112.5L920.2 2111.2L921.4 2109.8L922.5 2108.4L923.7 2106.7L924.8 2105.0L925.9 2103.2L927.1 2101.4L928.2 2099.8L929.4 2098.4L930.5 2097.0L931.6 2095.8L932.8 2094.5L933.9 2093.3L935.1 2092.0L936.2 2090.9L937.3 2089.7L938.5 2088.5L939.6 2087.0L940.8 2085.3L941.9 2083.4L943.0 2081.4L944.2 2079.2L945.3 2077.0L946.5 2074.6L947.6 2072.1L948.8 2069.4L949.9 2066.8L951.0 2064.2L952.2 2061.5L953.4 2058.6L954.6 2055.9L955.7 2053.4L956.7 2051.3L957.7 2049.7L958.6 2048.5L959.4 2047.5L960.2 2046.9L961.0 2046.5L961.8 2046.4L962.7 2046.7L963.5 2047.2L964.3 2047.8L965.3 2048.5L966.3 2049.2L967.5 2050.2L968.6 2051.2L969.8 2052.1L971.0 2052.7L972.1 2053.0L973.3 2052.9L974.4 2052.7L975.6 2052.6L976.7 2052.7L977.8 2053.1L979.0 2053.5L980.1 2054.0L981.3 2054.7L982.4 2055.6L983.5 2056.8L984.7 2058.2L985.8 2059.7L987.0 2061.3L988.1 2062.7L989.3 2064.2L990.4 2065.6L991.5 2067.0L992.7 2068.3L993.8 2069.3L995.0 2070.0L996.1 2070.5L997.2 2070.9L998.4 2071.1L999.5 2071.3L1000.7 2071.5L1001.8 2071.6L1002.9 2071.6L1004.1 2071.5L1005.2 2071.3L1006.4 2070.9L1007.5 2070.5L1008.6 2069.9L1009.8 2069.2L1010.9 2068.4L1012.1 2067.5L1013.2 2066.4L1014.4 2065.2L1015.5 2064.0L1016.6 2062.7L1017.8 2061.5L1018.9 2060.1L1020.1 2058.8L1021.2 2057.4L1022.3 2056.2L1023.4 2054.9L1024.5 2053.7L1025.6 2052.5L1026.7 2051.4L1028.0 2050.5L1029.6 2049.6L1031.3 2048.9L1033.0 2048.3L1034.8 2047.7L1036.6 2047.0L1038.4 2046.4L1040.2 2045.9L1041.9 2045.3L1043.6 2044.8L1045.2 2044.2L1046.5 2043.7L1047.6 2043.3L1048.7 2042.8L1049.8 2042.2L1050.9 2041.3L1052.0 2040.2L1053.1 2038.8L1054.3 2037.3L1055.4 2035.7L1056.6 2034.2L1057.7 2032.7L1058.8 2031.0L1060.0 2029.4L1061.1 2028.0L1062.3 2027.1L1063.4 2026.6L1064.6 2026.4L1065.7 2026.4L1066.8 2026.7L1068.0 2027.1L1069.1 2027.6L1070.2 2028.3L1071.4 2029.2L1072.5 2030.3L1073.7 2031.4L1074.9 2032.6L1076.2 2034.0L1077.4 2035.5L1078.7 2037.0L1080.0 2038.5L1081.1 2039.9L1082.2 2041.2L1083.3 2042.6L1084.5 2043.9L1085.9 2045.3L1087.5 2046.6L1089.4 2048.0L1091.3 2049.3L1093.2 2050.7L1095.1 2052.2L1097.0 2053.8L1098.8 2055.4L1100.7 2057.1L1102.5 2058.8L1104.4 2060.5L1106.2 2062.4L1108.0 2064.3L1109.9 2066.3L1111.7 2068.1L1113.6 2069.7L1115.4 2071.1L1117.3 2072.3L1119.1 2073.3L1121.0 2074.3L1122.8 2075.3L1124.6 2076.3L1126.5 2077.3L1128.3 2078.3L1130.2 2079.1L1132.0 2079.9L1133.9 2080.6L1135.8 2081.2L1137.7 2081.8L1139.6 2082.1L1141.3 2082.2L1142.8 2081.8L1144.2 2080.9L1145.5 2080.0L1146.8 2079.2L1148.2 2079.0L1149.6 2079.4L1150.9 2080.2L1152.3 2081.2L1153.7 2082.4L1155.1 2083.6L1156.5 2084.9L1157.9 2086.4L1159.2 2087.9L1160.6 2089.2L1162.0 2090.0L1163.4 2090.4L1164.7 2090.4L1166.0 2090.1L1167.4 2089.7L1168.9 2089.1L1170.6 2088.4L1172.5 2087.5L1174.4 2086.5L1176.3 2085.4L1178.2 2084.5L1180.0 2083.7L1181.8 2082.9L1183.7 2082.2L1185.5 2081.5L1187.4 2080.8L1189.2 2080.2L1191.1 2079.6L1192.9 2079.1L1194.8 2078.4L1196.6 2077.6L1198.5 2076.6L1200.3 2075.4L1202.1 2074.1L1204.0 2072.8L1205.8 2071.6L1207.7 2070.5L1209.5 2069.4L1211.4 2068.3L1213.2 2067.2L1215.1 2066.1L1216.9 2064.7L1218.7 2063.3L1220.6 2061.8L1222.4 2060.4L1224.3 2059.1L1226.1 2058.1L1227.9 2057.1L1229.6 2056.3L1231.5 2055.4L1233.5 2054.5L1235.8 2053.5L1238.5 2052.5L1241.1 2051.4L1243.4 2050.5L1245.0 2049.9"/>
<path fill="none" stroke="#222" stroke-width="1.6" d="M723.8 1931.4V2220.7H1245.5"/>
<path stroke="#222" stroke-width="1.5" d="M723.8 1931.4h6M723.8 1972.4h6M723.8 2013.0h6M723.8 2054.5h6M723.8 2096.0h6M723.8 2137.5h6M723.8 2179.0h6"/>
<path stroke="#222" stroke-width="1.5" d="M896.2 2220.7v-4.5M1070.8 2220.7v-4.5M1158.0 2220.7v-4.5M1245.2 2220.7v-4.5"/>
<path stroke="#111" stroke-width="2.7" d="M809.0 2220.7V2199.0M939.9 2220.7V2199.0M983.5 2220.7V2179.5"/>
<g fill="#111"><circle cx="804.4" cy="2181.2" r="3.0"/><circle cx="812.9" cy="2181.0" r="3.4"/><path d="M801.1 2187.0q0-1 1-1h12.2q1 0 1 1v7.5q0 1-1 1h-1.5v1h-9.2v-1h-1.5q-1 0-1-1z"/><path d="M815.2 2188.9h3.2v3.8h-3.2zM818.2 2189.7L823.6 2185.7V2194.6L818.2 2191.9z"/></g>
<path fill="#111" d="M926.6 2183.7C929.7 2181.2 932.7 2176.9 935.9 2176.9C937.5 2176.9 938.1 2177.7 938.7 2177.7C939.3 2177.7 939.9 2176.9 941.5 2176.9C944.7 2176.9 947.7 2181.2 950.8 2183.7C947.7 2187.7 944.7 2191.9 938.7 2191.9C932.7 2191.9 929.7 2187.7 926.6 2183.7z"/><path fill="none" stroke="#fff" stroke-width="1.8" stroke-linecap="round" d="M928.2 2184.0Q933.7 2183.1 936.7 2184.3Q938.7 2184.9 940.7 2184.3Q943.7 2183.1 949.2 2184.0"/>
<path fill="#111" d="M971.8 2162.1h6.3l6.7-4.8v16.8l-6.7-4.8h-6.3z"/><path fill="none" stroke="#111" stroke-width="1.9" stroke-linecap="round" d="M986.95 2162.31A4.3 4.3 0 0 1 986.95 2169.09M988.98 2159.71A7.6 7.6 0 0 1 988.98 2171.69M991.07 2157.03A11.0 11.0 0 0 1 991.07 2174.37"/>
<text x="783.34" y="2251.30" font-size="22.5" textLength="48.00" lengthAdjust="spacingAndGlyphs" fill="#000">-200</text>
<text x="866.44" y="2251.30" font-size="22.5" textLength="48.00" lengthAdjust="spacingAndGlyphs" fill="#000">-100</text>
<text x="975.58" y="2251.30" font-size="22.5" textLength="14.54" lengthAdjust="spacingAndGlyphs" fill="#000">0</text>
<text x="1049.63" y="2251.30" font-size="22.5" textLength="41.04" lengthAdjust="spacingAndGlyphs" fill="#000">100</text>
<text x="1136.09" y="2251.30" font-size="22.5" textLength="40.36" lengthAdjust="spacingAndGlyphs" fill="#000">200</text>
<text x="1223.29" y="2251.30" font-size="22.5" textLength="39.75" lengthAdjust="spacingAndGlyphs" fill="#000">300</text>
<text x="936.33" y="2294.80" font-size="27.5" textLength="115.17" lengthAdjust="spacingAndGlyphs" fill="#000">Time (ms)</text></svg>
</body></html>
